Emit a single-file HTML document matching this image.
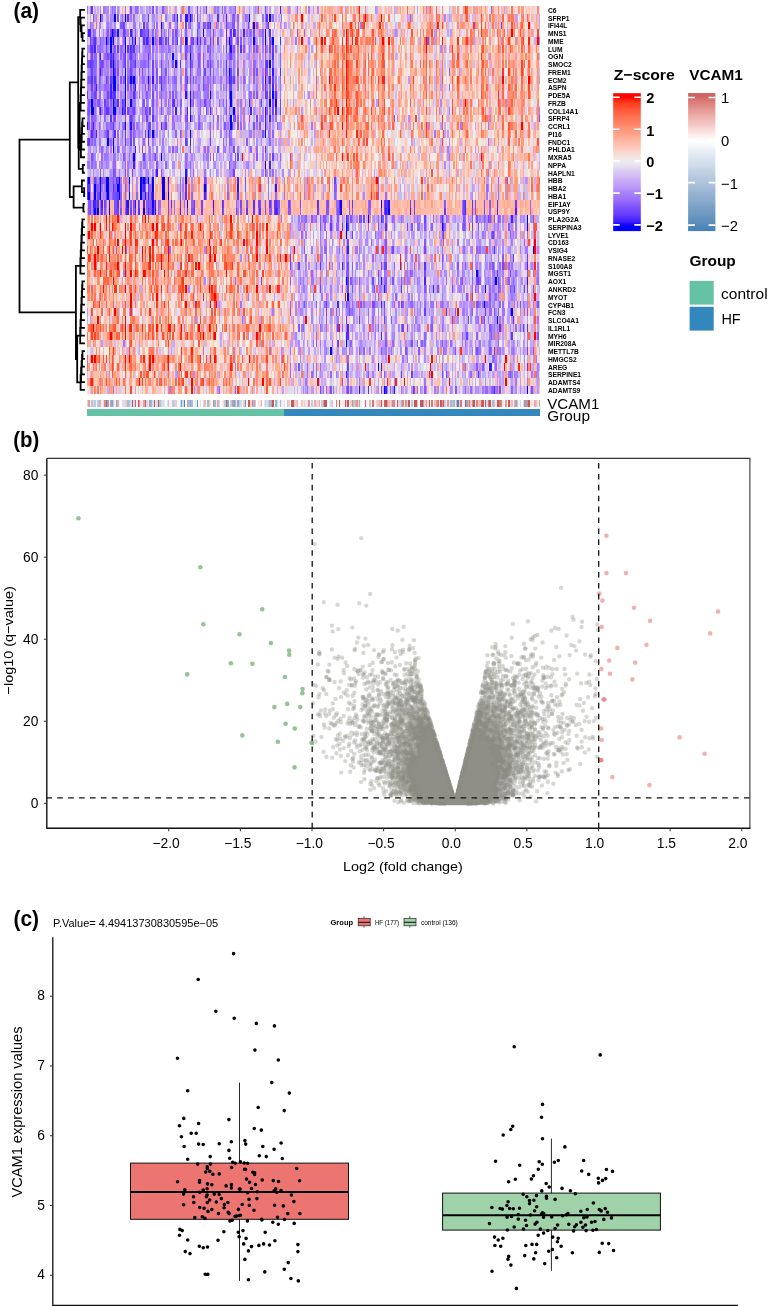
<!DOCTYPE html><html><head><meta charset="utf-8"><style>
html,body{margin:0;padding:0;background:#fff}
#p{position:relative;width:770px;height:1306px;overflow:hidden;background:#fff}
.hr{position:absolute;left:87px;width:453px;height:7.81px}
.ab{position:absolute;left:87px;width:453px}
#hm{position:absolute;left:0;top:0;width:770px;height:430px;filter:blur(0.4px)}
svg{position:absolute;left:0;top:0;will-change:transform}
text{font-family:"Liberation Sans",sans-serif;fill:#000}
</style></head><body><div id="p">
<div id="hm"><div class="hr" style="top:6px;background:linear-gradient(90deg,#97f 0 1.4px,#dce 0 2.9px,#a7f 0 4.3px,#63f 0 5.8px,#dde 0 7.2px,#cae 0 8.7px,#dce 0 10.1px,#cae 0 11.6px,#dde 0 13px,#a8f 0 14.5px,#eed 0 15.9px,#a7f 0 18.8px,#b9f 0 20.3px,#a8f 0 21.7px,#eee 0 23.2px,#b9f 0 24.6px,#96f 0 26.1px,#a8f 0 27.5px,#97f 0 28.9px,#eee 0 30.4px,#a8f 0 31.8px,#cae 0 33.3px,#edd 0 34.7px,#fb9 0 36.2px,#fcb 0 37.6px,#97f 0 39.1px,#eee 0 40.5px,#fdc 0 42px,#cae 0 43.4px,#75f 0 44.9px,#cae 0 47.8px,#96f 0 50.7px,#a8f 0 52.1px,#dde 0 53.5px,#b9f 0 56.4px,#cbe 0 57.9px,#dde 0 59.3px,#b9f 0 60.8px,#cae 0 62.2px,#a8f 0 63.7px,#dbe 0 65.1px,#75f 0 66.6px,#fdc 0 68px,#cbe 0 69.5px,#97f 0 70.9px,#dce 0 72.4px,#cbe 0 75.3px,#85f 0 76.7px,#a8f 0 78.2px,#b9f 0 79.6px,#f97 0 81px,#eee 0 82.5px,#cbe 0 83.9px,#fdc 0 85.4px,#fcb 0 86.8px,#cae 0 88.3px,#b9f 0 89.7px,#fdd 0 91.2px,#eee 0 92.6px,#dce 0 94.1px,#b9f 0 95.5px,#f75 0 97px,#fa9 0 98.4px,#cbe 0 99.9px,#dce 0 101.3px,#75f 0 102.8px,#cae 0 104.2px,#baf 0 105.7px,#dce 0 107.1px,#fdd 0 108.5px,#cbe 0 110px,#75f 0 111.4px,#dce 0 112.9px,#a8f 0 114.3px,#dce 0 115.8px,#a8f 0 117.2px,#b9f 0 118.7px,#64f 0 120.1px,#edd 0 121.6px,#dce 0 123px,#ede 0 124.5px,#fba 0 125.9px,#cae 0 127.4px,#97f 0 128.8px,#b9f 0 130.3px,#97f 0 131.7px,#cae 0 133.2px,#cbe 0 134.6px,#86f 0 136px,#dce 0 137.5px,#97f 0 138.9px,#cae 0 140.4px,#dbe 0 141.8px,#a8f 0 144.7px,#b9f 0 146.2px,#a8f 0 147.6px,#86f 0 149.1px,#edd 0 150.5px,#fcb 0 152px,#f86 0 153.4px,#fcb 0 154.9px,#fa9 0 156.3px,#b9f 0 157.8px,#fcc 0 159.2px,#dce 0 162.1px,#b9f 0 163.5px,#dce 0 165px,#eee 0 166.4px,#baf 0 167.9px,#a8f 0 169.3px,#b9f 0 170.8px,#f43 0 172.2px,#dce 0 173.7px,#cbe 0 175.1px,#dde 0 176.6px,#fba 0 178px,#75f 0 179.5px,#b9f 0 180.9px,#fdc 0 182.4px,#b9f 0 183.8px,#ede 0 185.3px,#eee 0 186.7px,#cbe 0 191px,#fcb 0 192.5px,#42f 0 193.9px,#dbe 0 195.4px,#dce 0 196.8px,#fba 0 198.3px,#fcb 0 199.7px,#f98 0 201.2px,#b8f 0 202.6px,#f98 0 204.1px,#ede 0 205.5px,#dde 0 207px,#fcc 0 208.4px,#cbe 0 209.9px,#96f 0 211.3px,#fcc 0 212.8px,#cae 0 214.2px,#eed 0 215.6px,#fcb 0 217.1px,#fdc 0 218.5px,#f97 0 220px,#eee 0 221.4px,#a7f 0 222.9px,#dce 0 225.8px,#b9f 0 227.2px,#fcc 0 230.1px,#a8f 0 231.6px,#fcb 0 233px,#fcc 0 234.5px,#fa8 0 235.9px,#fdd 0 237.4px,#fa8 0 238.8px,#fcb 0 240.2px,#fa9 0 241.7px,#f97 0 243.1px,#fa9 0 244.6px,#fa8 0 246px,#dbe 0 247.5px,#fba 0 248.9px,#fcc 0 250.4px,#fa9 0 251.8px,#dbe 0 253.3px,#f86 0 254.7px,#f97 0 256.2px,#dde 0 257.6px,#b9f 0 259.1px,#f98 0 260.5px,#fa8 0 262px,#eee 0 263.4px,#fa9 0 264.9px,#edd 0 266.3px,#fa9 0 267.7px,#edd 0 269.2px,#fa9 0 270.6px,#f86 0 272.1px,#f10 0 273.5px,#dde 0 276.4px,#fdd 0 277.9px,#f87 0 279.3px,#dce 0 280.8px,#fdc 0 282.2px,#eed 0 283.7px,#eee 0 285.1px,#eed 0 286.6px,#eee 0 288px,#b8f 0 289.5px,#b9f 0 290.9px,#fcb 0 292.4px,#fba 0 293.8px,#fcb 0 295.2px,#ede 0 296.7px,#fcb 0 298.1px,#fba 0 299.6px,#fdc 0 301px,#fba 0 302.5px,#dce 0 303.9px,#fa9 0 305.4px,#fdc 0 306.8px,#baf 0 308.3px,#cae 0 309.7px,#fa9 0 311.2px,#fba 0 312.6px,#f98 0 314.1px,#edd 0 315.5px,#fb9 0 317px,#dce 0 318.4px,#fdc 0 319.8px,#f64 0 321.3px,#fcb 0 322.7px,#fdc 0 324.2px,#fcc 0 325.6px,#fb9 0 327.1px,#fa9 0 328.5px,#eee 0 330px,#b9f 0 331.4px,#eee 0 332.9px,#fcb 0 334.3px,#fdc 0 335.8px,#f86 0 337.2px,#fba 0 338.7px,#f75 0 340.1px,#cae 0 341.6px,#f87 0 343px,#f64 0 344.5px,#fa9 0 345.9px,#edd 0 347.3px,#ede 0 348.8px,#f64 0 350.2px,#dde 0 351.7px,#fcc 0 353.1px,#eee 0 354.6px,#f87 0 356px,#edd 0 357.5px,#eee 0 361.8px,#cbe 0 363.3px,#dce 0 364.7px,#fb9 0 366.2px,#fa8 0 367.6px,#cbe 0 369.1px,#eee 0 370.5px,#f97 0 372px,#dde 0 373.4px,#eee 0 374.8px,#dde 0 376.3px,#f97 0 377.7px,#f32 0 379.2px,#f53 0 380.6px,#fcc 0 382.1px,#fba 0 385px,#fdc 0 386.4px,#f97 0 387.9px,#caf 0 389.3px,#f98 0 390.8px,#fcc 0 392.2px,#fa8 0 393.7px,#f98 0 395.1px,#fcb 0 398px,#f97 0 399.5px,#fcb 0 400.9px,#eee 0 402.3px,#edd 0 403.8px,#86f 0 405.2px,#f98 0 406.7px,#fcb 0 411px,#f86 0 412.5px,#fdd 0 413.9px,#cbe 0 415.4px,#fba 0 416.8px,#f98 0 418.3px,#cbe 0 419.7px,#fba 0 421.2px,#fcb 0 422.6px,#eee 0 424.1px,#f75 0 425.5px,#fcb 0 426.9px,#dce 0 428.4px,#fdc 0 429.8px,#fcc 0 431.3px,#f97 0 432.7px,#edd 0 434.2px,#f97 0 435.6px,#f98 0 437.1px,#eee 0 438.5px,#fcb 0 440px,#fdd 0 441.4px,#fcb 0 442.9px,#fdc 0 444.3px,#fcb 0 445.8px,#fcc 0 447.2px,#dde 0 448.7px,#edd 0 450.1px,#f86 0 451.6px,#ede 0 453px)"></div>
<div class="hr" style="top:13.76px;background:linear-gradient(90deg,#dbe 0 1.4px,#ede 0 2.9px,#cae 0 4.3px,#eee 0 5.8px,#75f 0 7.2px,#b9f 0 8.7px,#a8f 0 10.1px,#fba 0 11.6px,#ede 0 13px,#00f 0 14.5px,#96f 0 15.9px,#dce 0 18.8px,#b9f 0 20.3px,#b8f 0 21.7px,#dce 0 23.2px,#a8f 0 27.5px,#00f 0 28.9px,#dce 0 30.4px,#75f 0 31.8px,#eed 0 33.3px,#b9f 0 34.7px,#96f 0 36.2px,#caf 0 37.6px,#00f 0 39.1px,#baf 0 40.5px,#63f 0 42px,#b9f 0 43.4px,#a7f 0 44.9px,#dbe 0 46.3px,#96f 0 47.8px,#cbe 0 50.7px,#dce 0 52.1px,#cbe 0 53.5px,#eed 0 55px,#97f 0 56.4px,#a8f 0 57.9px,#b9f 0 59.3px,#baf 0 60.8px,#63f 0 62.2px,#dde 0 63.7px,#cbe 0 65.1px,#a8f 0 68px,#cbe 0 69.5px,#b9f 0 70.9px,#dce 0 72.4px,#fba 0 73.8px,#a8f 0 75.3px,#fdc 0 76.7px,#eee 0 78.2px,#97f 0 79.6px,#baf 0 81px,#cbe 0 83.9px,#dde 0 85.4px,#a7f 0 86.8px,#64f 0 88.3px,#a8f 0 89.7px,#32f 0 91.2px,#eee 0 92.6px,#86f 0 94.1px,#97f 0 95.5px,#fcc 0 97px,#dde 0 98.4px,#31f 0 101.3px,#a7f 0 102.8px,#00f 0 104.2px,#85f 0 105.7px,#edd 0 107.1px,#b9f 0 108.5px,#eee 0 110px,#74f 0 111.4px,#cae 0 112.9px,#a8f 0 114.3px,#dde 0 115.8px,#cbe 0 117.2px,#fdc 0 118.7px,#dbe 0 120.1px,#cae 0 121.6px,#96f 0 123px,#baf 0 124.5px,#b9f 0 125.9px,#dce 0 128.8px,#fba 0 130.3px,#53f 0 131.7px,#cae 0 133.2px,#dce 0 134.6px,#cbe 0 136px,#a7f 0 137.5px,#cae 0 138.9px,#52f 0 140.4px,#dbe 0 141.8px,#fdd 0 143.3px,#cae 0 144.7px,#86f 0 146.2px,#85f 0 147.6px,#b9f 0 149.1px,#fa9 0 150.5px,#86f 0 152px,#dce 0 153.4px,#eee 0 154.9px,#f98 0 156.3px,#b9f 0 157.8px,#96f 0 159.2px,#97f 0 160.6px,#b9f 0 162.1px,#00f 0 163.5px,#dde 0 165px,#eee 0 166.4px,#cae 0 167.9px,#fba 0 169.3px,#dde 0 170.8px,#eee 0 173.7px,#edd 0 175.1px,#97f 0 176.6px,#dce 0 178px,#96f 0 179.5px,#53f 0 180.9px,#fcb 0 182.4px,#00f 0 183.8px,#b9f 0 185.3px,#96f 0 186.7px,#dce 0 188.1px,#baf 0 189.6px,#ede 0 191px,#cae 0 192.5px,#dce 0 193.9px,#96f 0 195.4px,#eee 0 196.8px,#ede 0 198.3px,#fdc 0 199.7px,#fcc 0 201.2px,#cbe 0 202.6px,#fcc 0 204.1px,#fba 0 205.5px,#fcb 0 207px,#dce 0 208.4px,#f86 0 211.3px,#ede 0 212.8px,#fcb 0 214.2px,#f00 0 215.6px,#fa9 0 217.1px,#fdd 0 218.5px,#eed 0 220px,#dde 0 221.4px,#cbe 0 222.9px,#ede 0 224.3px,#fba 0 225.8px,#dce 0 227.2px,#dde 0 228.7px,#fdc 0 230.1px,#edd 0 231.6px,#cbe 0 233px,#fcb 0 234.5px,#f64 0 235.9px,#fcb 0 237.4px,#f98 0 238.8px,#fa9 0 240.2px,#edd 0 241.7px,#f98 0 243.1px,#fba 0 244.6px,#f86 0 246px,#eee 0 247.5px,#f43 0 248.9px,#fb9 0 250.4px,#fcb 0 251.8px,#fdd 0 253.3px,#eee 0 254.7px,#f75 0 256.2px,#fdc 0 257.6px,#f98 0 259.1px,#f97 0 260.5px,#eee 0 262px,#fdd 0 263.4px,#ede 0 264.9px,#fba 0 266.3px,#f76 0 267.7px,#f87 0 269.2px,#fcc 0 270.6px,#fcb 0 272.1px,#f42 0 273.5px,#fba 0 275px,#edd 0 276.4px,#f64 0 277.9px,#f00 0 279.3px,#f76 0 280.8px,#fa8 0 282.2px,#fcc 0 283.7px,#f86 0 285.1px,#fba 0 286.6px,#dde 0 288px,#fcb 0 289.5px,#dbe 0 290.9px,#fa9 0 293.8px,#f00 0 295.2px,#fb9 0 296.7px,#f98 0 298.1px,#eee 0 299.6px,#fdd 0 301px,#f75 0 302.5px,#ede 0 303.9px,#eee 0 305.4px,#ede 0 306.8px,#cbe 0 308.3px,#eed 0 309.7px,#eee 0 312.6px,#fdc 0 314.1px,#fba 0 315.5px,#fbb 0 317px,#dce 0 318.4px,#fcc 0 319.8px,#b9f 0 321.3px,#baf 0 322.7px,#f53 0 324.2px,#b9f 0 325.6px,#fcb 0 327.1px,#fdc 0 328.5px,#eed 0 330px,#dce 0 331.4px,#edd 0 332.9px,#fba 0 334.3px,#fdd 0 335.8px,#dbe 0 337.2px,#fba 0 338.7px,#fa9 0 340.1px,#dce 0 341.6px,#f98 0 343px,#fa8 0 344.5px,#f97 0 345.9px,#dce 0 347.3px,#fdd 0 348.8px,#f65 0 350.2px,#f86 0 351.7px,#f75 0 353.1px,#dce 0 354.6px,#fa9 0 356px,#f97 0 357.5px,#a8f 0 358.9px,#fcb 0 360.4px,#cbe 0 361.8px,#b9f 0 363.3px,#cae 0 364.7px,#fcb 0 366.2px,#fba 0 369.1px,#fa9 0 370.5px,#fa8 0 372px,#fcb 0 373.4px,#cae 0 374.8px,#fa9 0 376.3px,#fcb 0 377.7px,#f86 0 379.2px,#f53 0 380.6px,#fba 0 382.1px,#caf 0 383.5px,#fdd 0 385px,#cbe 0 387.9px,#fa8 0 389.3px,#fba 0 390.8px,#dce 0 392.2px,#fcb 0 393.7px,#f42 0 395.1px,#fa9 0 396.6px,#eee 0 398px,#fba 0 399.5px,#fa9 0 400.9px,#eee 0 402.3px,#f76 0 403.8px,#fcb 0 405.2px,#f86 0 406.7px,#f98 0 408.1px,#fa9 0 409.6px,#dbe 0 411px,#fa8 0 412.5px,#fa9 0 413.9px,#dce 0 415.4px,#f64 0 416.8px,#edd 0 418.3px,#ede 0 419.7px,#fa9 0 421.2px,#f75 0 422.6px,#f97 0 424.1px,#f75 0 426.9px,#fa9 0 428.4px,#b9f 0 429.8px,#cae 0 431.3px,#fdd 0 432.7px,#eee 0 434.2px,#f86 0 435.6px,#f75 0 437.1px,#fdc 0 438.5px,#dce 0 440px,#f65 0 441.4px,#fa9 0 442.9px,#eee 0 444.3px,#fb9 0 445.8px,#fba 0 447.2px,#dce 0 448.7px,#f98 0 450.1px,#fba 0 451.6px,#b9f 0 453px)"></div>
<div class="hr" style="top:21.51px;background:linear-gradient(90deg,#b9f 0 1.4px,#dce 0 2.9px,#96f 0 4.3px,#a8f 0 7.2px,#fcb 0 8.7px,#97f 0 10.1px,#fcb 0 11.6px,#a8f 0 13px,#a7f 0 14.5px,#dce 0 15.9px,#dde 0 17.4px,#eee 0 18.8px,#a8f 0 20.3px,#97f 0 21.7px,#b9f 0 23.2px,#a8f 0 24.6px,#cae 0 27.5px,#a8f 0 28.9px,#eee 0 31.8px,#dce 0 33.3px,#75f 0 34.7px,#85f 0 36.2px,#64f 0 37.6px,#baf 0 39.1px,#cae 0 40.5px,#ede 0 42px,#dbe 0 43.4px,#dce 0 46.3px,#97f 0 49.2px,#dce 0 50.7px,#ede 0 52.1px,#a8f 0 53.5px,#cbe 0 55px,#eee 0 56.4px,#63f 0 57.9px,#cbe 0 59.3px,#96f 0 60.8px,#a8f 0 62.2px,#dde 0 63.7px,#dce 0 65.1px,#b9f 0 66.6px,#86f 0 68px,#eee 0 69.5px,#96f 0 70.9px,#fdc 0 72.4px,#dce 0 73.8px,#00f 0 75.3px,#a7f 0 76.7px,#dce 0 78.2px,#edd 0 79.6px,#dce 0 81px,#cae 0 82.5px,#96f 0 83.9px,#fba 0 85.4px,#edd 0 86.8px,#cae 0 88.3px,#a8f 0 89.7px,#75f 0 91.2px,#fdc 0 92.6px,#fb9 0 94.1px,#dce 0 95.5px,#f87 0 97px,#eee 0 98.4px,#64f 0 99.9px,#dde 0 101.3px,#97f 0 102.8px,#85f 0 104.2px,#cae 0 105.7px,#dde 0 107.1px,#eee 0 108.5px,#dde 0 110px,#97f 0 111.4px,#85f 0 112.9px,#caf 0 114.3px,#cbe 0 115.8px,#75f 0 117.2px,#85f 0 118.7px,#b9f 0 120.1px,#64f 0 121.6px,#85f 0 123px,#42f 0 124.5px,#cbe 0 127.4px,#f98 0 128.8px,#96f 0 130.3px,#a8f 0 131.7px,#edd 0 133.2px,#b9f 0 134.6px,#dbe 0 136px,#fcb 0 137.5px,#cae 0 138.9px,#64f 0 140.4px,#97f 0 141.8px,#a8f 0 144.7px,#85f 0 147.6px,#dde 0 149.1px,#fcb 0 150.5px,#97f 0 152px,#fcb 0 153.4px,#dde 0 154.9px,#cae 0 156.3px,#b9f 0 157.8px,#dce 0 159.2px,#cae 0 160.6px,#74f 0 162.1px,#a8f 0 163.5px,#ede 0 165px,#f86 0 166.4px,#00f 0 167.9px,#f97 0 169.3px,#85f 0 170.8px,#f87 0 172.2px,#fdc 0 173.7px,#eed 0 175.1px,#cae 0 176.6px,#dbe 0 178px,#b9f 0 179.5px,#96f 0 180.9px,#53f 0 182.4px,#fcb 0 183.8px,#fdd 0 185.3px,#eee 0 186.7px,#b9f 0 188.1px,#eed 0 189.6px,#fb9 0 191px,#fcb 0 192.5px,#a8f 0 193.9px,#b9f 0 195.4px,#ede 0 196.8px,#a8f 0 198.3px,#b9f 0 199.7px,#fdc 0 201.2px,#cae 0 202.6px,#fba 0 204.1px,#eee 0 205.5px,#f75 0 207px,#fa9 0 208.4px,#eee 0 209.9px,#fba 0 211.3px,#fdc 0 212.8px,#eee 0 214.2px,#f87 0 215.6px,#dbe 0 217.1px,#ede 0 218.5px,#cbe 0 220px,#edd 0 221.4px,#fba 0 222.9px,#dde 0 224.3px,#fcc 0 225.8px,#cae 0 228.7px,#fdd 0 230.1px,#f98 0 231.6px,#f75 0 233px,#fa9 0 234.5px,#fcb 0 235.9px,#fba 0 237.4px,#fcb 0 238.8px,#f98 0 240.2px,#fdc 0 241.7px,#f87 0 243.1px,#f97 0 244.6px,#fcb 0 246px,#fdc 0 247.5px,#eee 0 248.9px,#fcb 0 250.4px,#eee 0 251.8px,#fcb 0 253.3px,#ede 0 254.7px,#f75 0 256.2px,#fa8 0 257.6px,#cbe 0 259.1px,#f98 0 260.5px,#fb9 0 262px,#f97 0 263.4px,#f31 0 264.9px,#f87 0 266.3px,#fcb 0 267.7px,#f64 0 269.2px,#edd 0 270.6px,#f53 0 272.1px,#fcb 0 273.5px,#97f 0 275px,#f53 0 276.4px,#f42 0 277.9px,#fdc 0 279.3px,#fba 0 282.2px,#fdd 0 283.7px,#eee 0 285.1px,#fcb 0 286.6px,#fba 0 288px,#fcb 0 289.5px,#fa9 0 290.9px,#fa8 0 292.4px,#f21 0 293.8px,#fcb 0 295.2px,#f86 0 296.7px,#ede 0 298.1px,#cae 0 299.6px,#fb9 0 301px,#fdc 0 302.5px,#fcb 0 305.4px,#edd 0 306.8px,#dde 0 308.3px,#cbe 0 309.7px,#dce 0 311.2px,#f98 0 312.6px,#fa9 0 314.1px,#edd 0 315.5px,#dce 0 317px,#edd 0 318.4px,#fcb 0 319.8px,#fa9 0 321.3px,#f64 0 322.7px,#f87 0 324.2px,#fcb 0 325.6px,#fba 0 327.1px,#dce 0 328.5px,#dde 0 330px,#dce 0 331.4px,#eee 0 332.9px,#fcc 0 334.3px,#fba 0 335.8px,#fcb 0 340.1px,#f98 0 341.6px,#f97 0 343px,#f64 0 344.5px,#f98 0 345.9px,#fa8 0 347.3px,#cbe 0 348.8px,#f86 0 350.2px,#f21 0 351.7px,#dde 0 353.1px,#fcb 0 354.6px,#f42 0 356px,#fa9 0 357.5px,#fdd 0 358.9px,#f97 0 360.4px,#cbe 0 361.8px,#dce 0 363.3px,#dde 0 364.7px,#fba 0 366.2px,#edd 0 367.6px,#eee 0 369.1px,#fdc 0 370.5px,#f87 0 372px,#dce 0 373.4px,#f97 0 374.8px,#f86 0 376.3px,#f98 0 377.7px,#fba 0 380.6px,#fa8 0 382.1px,#fcb 0 383.5px,#dce 0 385px,#fb9 0 386.4px,#f32 0 387.9px,#a8f 0 389.3px,#f97 0 390.8px,#fb9 0 392.2px,#eee 0 393.7px,#f42 0 395.1px,#fdc 0 396.6px,#fcb 0 398px,#f64 0 399.5px,#fcb 0 400.9px,#cae 0 402.3px,#fba 0 403.8px,#cbe 0 405.2px,#f75 0 406.7px,#dce 0 408.1px,#f98 0 409.6px,#dce 0 411px,#f86 0 412.5px,#fba 0 413.9px,#64f 0 415.4px,#f97 0 416.8px,#dce 0 418.3px,#edd 0 419.7px,#fa9 0 421.2px,#fcc 0 422.6px,#edd 0 424.1px,#f53 0 425.5px,#fa9 0 426.9px,#f75 0 428.4px,#fa9 0 429.8px,#b9f 0 431.3px,#fcb 0 432.7px,#f86 0 434.2px,#f64 0 435.6px,#fb9 0 437.1px,#fcb 0 438.5px,#fdc 0 440px,#eee 0 441.4px,#f00 0 442.9px,#fba 0 444.3px,#ede 0 445.8px,#eed 0 447.2px,#fba 0 448.7px,#fa8 0 450.1px,#fb9 0 451.6px,#caf 0 453px)"></div>
<div class="hr" style="top:29.27px;background:linear-gradient(90deg,#a8f 0 1.4px,#42f 0 4.3px,#b9f 0 5.8px,#85f 0 7.2px,#97f 0 8.7px,#dce 0 10.1px,#ede 0 11.6px,#97f 0 13px,#eee 0 14.5px,#dbe 0 15.9px,#a8f 0 17.4px,#cbe 0 18.8px,#a7f 0 20.3px,#85f 0 21.7px,#cae 0 23.2px,#74f 0 24.6px,#00f 0 26.1px,#53f 0 27.5px,#74f 0 28.9px,#a8f 0 30.4px,#21f 0 31.8px,#baf 0 33.3px,#b9f 0 36.2px,#64f 0 37.6px,#75f 0 39.1px,#b8f 0 40.5px,#a7f 0 42px,#ede 0 43.4px,#42f 0 44.9px,#86f 0 46.3px,#cae 0 47.8px,#85f 0 49.2px,#cae 0 50.7px,#ede 0 52.1px,#dce 0 53.5px,#53f 0 55px,#74f 0 56.4px,#75f 0 57.9px,#85f 0 59.3px,#86f 0 60.8px,#53f 0 62.2px,#cae 0 63.7px,#b9f 0 65.1px,#86f 0 66.6px,#dce 0 68px,#96f 0 69.5px,#a8f 0 70.9px,#fa8 0 72.4px,#dce 0 73.8px,#64f 0 75.3px,#b9f 0 76.7px,#97f 0 78.2px,#b9f 0 79.6px,#eee 0 81px,#86f 0 82.5px,#caf 0 83.9px,#fcb 0 85.4px,#86f 0 86.8px,#cae 0 88.3px,#74f 0 89.7px,#97f 0 91.2px,#cae 0 92.6px,#fdd 0 94.1px,#a7f 0 95.5px,#fdd 0 97px,#cae 0 98.4px,#86f 0 99.9px,#baf 0 101.3px,#dbe 0 102.8px,#dce 0 104.2px,#b9f 0 105.7px,#eee 0 107.1px,#ede 0 108.5px,#dde 0 110px,#64f 0 111.4px,#a8f 0 112.9px,#b9f 0 114.3px,#dce 0 115.8px,#00f 0 117.2px,#dce 0 118.7px,#b9f 0 120.1px,#a8f 0 123px,#96f 0 124.5px,#cbe 0 125.9px,#74f 0 127.4px,#b9f 0 128.8px,#dce 0 130.3px,#cae 0 133.2px,#97f 0 134.6px,#b9f 0 136px,#baf 0 137.5px,#fdd 0 138.9px,#53f 0 140.4px,#fcc 0 141.8px,#b9f 0 143.3px,#63f 0 144.7px,#dce 0 146.2px,#52f 0 147.6px,#74f 0 149.1px,#cbe 0 150.5px,#97f 0 152px,#ede 0 153.4px,#b9f 0 154.9px,#fba 0 156.3px,#42f 0 157.8px,#cbe 0 159.2px,#97f 0 160.6px,#b9f 0 162.1px,#96f 0 165px,#cbe 0 166.4px,#74f 0 167.9px,#cbe 0 169.3px,#cae 0 170.8px,#f97 0 172.2px,#a7f 0 173.7px,#a8f 0 175.1px,#86f 0 176.6px,#fba 0 178px,#00f 0 179.5px,#dce 0 180.9px,#baf 0 182.4px,#53f 0 183.8px,#eee 0 185.3px,#cae 0 186.7px,#ede 0 188.1px,#dce 0 189.6px,#dde 0 191px,#edd 0 192.5px,#cbe 0 193.9px,#ede 0 195.4px,#fa9 0 196.8px,#fcb 0 198.3px,#fdc 0 199.7px,#dce 0 201.2px,#dde 0 202.6px,#f86 0 204.1px,#cae 0 205.5px,#fb9 0 207px,#fdc 0 209.9px,#85f 0 211.3px,#fa9 0 212.8px,#fba 0 214.2px,#fdc 0 215.6px,#fcb 0 217.1px,#96f 0 218.5px,#fba 0 220px,#dde 0 221.4px,#eed 0 222.9px,#b9f 0 224.3px,#fba 0 225.8px,#dce 0 227.2px,#fba 0 230.1px,#dde 0 231.6px,#f75 0 233px,#edd 0 234.5px,#fba 0 235.9px,#eee 0 237.4px,#edd 0 238.8px,#f86 0 241.7px,#fa9 0 243.1px,#ede 0 244.6px,#f64 0 246px,#f86 0 247.5px,#f64 0 248.9px,#f75 0 250.4px,#fcb 0 253.3px,#dce 0 254.7px,#fb9 0 256.2px,#f75 0 257.6px,#ede 0 259.1px,#f00 0 260.5px,#f64 0 262px,#fcc 0 263.4px,#f64 0 264.9px,#f43 0 266.3px,#f97 0 267.7px,#edd 0 269.2px,#f65 0 270.6px,#f42 0 272.1px,#fba 0 273.5px,#eee 0 275px,#fa9 0 276.4px,#f87 0 277.9px,#fcb 0 282.2px,#fcc 0 283.7px,#f97 0 285.1px,#f53 0 286.6px,#fa8 0 288px,#cbe 0 289.5px,#fcc 0 290.9px,#f75 0 292.4px,#f97 0 293.8px,#f64 0 295.2px,#f97 0 296.7px,#fba 0 298.1px,#fb9 0 299.6px,#cae 0 301px,#dce 0 302.5px,#fa9 0 303.9px,#edd 0 305.4px,#fa9 0 306.8px,#b9f 0 308.3px,#a8f 0 309.7px,#b9f 0 311.2px,#fcb 0 312.6px,#fb9 0 314.1px,#baf 0 315.5px,#fb9 0 317px,#cae 0 318.4px,#ede 0 319.8px,#fba 0 321.3px,#ede 0 324.2px,#f54 0 325.6px,#fdc 0 327.1px,#fcc 0 328.5px,#fcb 0 330px,#f97 0 331.4px,#eee 0 332.9px,#f86 0 334.3px,#ede 0 335.8px,#f75 0 337.2px,#fdc 0 338.7px,#f86 0 340.1px,#f87 0 343px,#fba 0 344.5px,#f42 0 345.9px,#fdc 0 347.3px,#b9f 0 348.8px,#f76 0 350.2px,#ede 0 351.7px,#f86 0 353.1px,#fcb 0 354.6px,#fb9 0 356px,#fdd 0 357.5px,#dde 0 358.9px,#fcc 0 360.4px,#baf 0 361.8px,#dce 0 363.3px,#b9f 0 364.7px,#fa8 0 366.2px,#fcb 0 367.6px,#eee 0 369.1px,#fcb 0 370.5px,#fcc 0 372px,#f98 0 373.4px,#dce 0 374.8px,#fdd 0 376.3px,#dde 0 377.7px,#fdd 0 379.2px,#f97 0 380.6px,#edd 0 382.1px,#fdd 0 383.5px,#f75 0 385px,#f98 0 386.4px,#f87 0 387.9px,#eee 0 389.3px,#ede 0 390.8px,#f86 0 392.2px,#fdc 0 393.7px,#f32 0 395.1px,#f86 0 396.6px,#f97 0 398px,#f75 0 399.5px,#f87 0 400.9px,#ede 0 402.3px,#fa8 0 403.8px,#eee 0 405.2px,#fa9 0 408.1px,#fdd 0 409.6px,#f64 0 411px,#f98 0 412.5px,#f86 0 413.9px,#dde 0 415.4px,#f97 0 416.8px,#f64 0 418.3px,#fdc 0 419.7px,#b9f 0 421.2px,#fa9 0 424.1px,#f00 0 425.5px,#f98 0 426.9px,#f86 0 428.4px,#eed 0 429.8px,#ede 0 431.3px,#fa8 0 432.7px,#f53 0 434.2px,#fa9 0 435.6px,#f86 0 437.1px,#fa9 0 438.5px,#dde 0 440px,#fcc 0 441.4px,#f97 0 442.9px,#cbe 0 444.3px,#f98 0 445.8px,#fa9 0 447.2px,#ede 0 448.7px,#dde 0 450.1px,#f43 0 451.6px,#dde 0 453px)"></div>
<div class="hr" style="top:37.02px;background:linear-gradient(90deg,#baf 0 1.4px,#dce 0 2.9px,#64f 0 4.3px,#96f 0 5.8px,#74f 0 7.2px,#53f 0 8.7px,#96f 0 10.1px,#cae 0 11.6px,#b9f 0 13px,#85f 0 14.5px,#a7f 0 15.9px,#97f 0 17.4px,#a8f 0 18.8px,#00f 0 20.3px,#75f 0 21.7px,#b8f 0 23.2px,#00f 0 24.6px,#75f 0 26.1px,#00f 0 27.5px,#caf 0 28.9px,#dde 0 30.4px,#a8f 0 31.8px,#cae 0 33.3px,#fdd 0 34.7px,#b8f 0 36.2px,#96f 0 37.6px,#00f 0 39.1px,#eee 0 40.5px,#dce 0 42px,#a7f 0 43.4px,#baf 0 44.9px,#42f 0 46.3px,#97f 0 47.8px,#00f 0 49.2px,#fcb 0 50.7px,#cbe 0 52.1px,#97f 0 53.5px,#dde 0 55px,#caf 0 56.4px,#53f 0 57.9px,#96f 0 59.3px,#42f 0 60.8px,#74f 0 62.2px,#a7f 0 63.7px,#cae 0 65.1px,#00f 0 66.6px,#b9f 0 68px,#85f 0 69.5px,#a7f 0 70.9px,#fa9 0 72.4px,#53f 0 73.8px,#63f 0 75.3px,#96f 0 76.7px,#cbe 0 78.2px,#64f 0 79.6px,#b9f 0 81px,#64f 0 82.5px,#dce 0 85.4px,#85f 0 86.8px,#baf 0 88.3px,#86f 0 89.7px,#53f 0 91.2px,#eee 0 92.6px,#a7f 0 94.1px,#97f 0 95.5px,#f86 0 97px,#fdc 0 98.4px,#00f 0 99.9px,#53f 0 101.3px,#fdd 0 102.8px,#a7f 0 104.2px,#74f 0 105.7px,#64f 0 107.1px,#baf 0 108.5px,#b8f 0 110px,#21f 0 111.4px,#a7f 0 112.9px,#53f 0 114.3px,#b9f 0 115.8px,#cae 0 117.2px,#85f 0 118.7px,#b9f 0 120.1px,#cae 0 121.6px,#cbe 0 123px,#64f 0 124.5px,#b9f 0 125.9px,#74f 0 127.4px,#fba 0 128.8px,#dde 0 130.3px,#75f 0 131.7px,#cbe 0 133.2px,#cae 0 134.6px,#ede 0 136px,#edd 0 137.5px,#fdd 0 138.9px,#53f 0 140.4px,#b9f 0 141.8px,#00f 0 143.3px,#64f 0 144.7px,#b8f 0 146.2px,#fdc 0 147.6px,#baf 0 149.1px,#a8f 0 150.5px,#74f 0 152px,#edd 0 153.4px,#85f 0 154.9px,#edd 0 156.3px,#a7f 0 157.8px,#baf 0 159.2px,#cbe 0 160.6px,#a8f 0 162.1px,#b9f 0 163.5px,#a7f 0 165px,#edd 0 166.4px,#00f 0 167.9px,#a7f 0 169.3px,#b9f 0 170.8px,#eee 0 172.2px,#baf 0 173.7px,#dce 0 175.1px,#96f 0 176.6px,#fcb 0 178px,#00f 0 179.5px,#cbe 0 180.9px,#eee 0 182.4px,#74f 0 183.8px,#96f 0 185.3px,#00f 0 186.7px,#fdd 0 188.1px,#dde 0 191px,#eee 0 192.5px,#53f 0 193.9px,#dde 0 195.4px,#eee 0 196.8px,#fba 0 198.3px,#cae 0 199.7px,#fa8 0 201.2px,#fb9 0 202.6px,#fdc 0 204.1px,#cae 0 205.5px,#fba 0 207px,#dce 0 208.4px,#97f 0 209.9px,#fdc 0 211.3px,#f87 0 212.8px,#eed 0 214.2px,#f00 0 215.6px,#fbb 0 217.1px,#dce 0 218.5px,#fcc 0 220px,#dbe 0 221.4px,#a8f 0 222.9px,#fcb 0 224.3px,#eee 0 225.8px,#dbe 0 227.2px,#f97 0 228.7px,#f42 0 230.1px,#fb9 0 231.6px,#fcc 0 233px,#f97 0 234.5px,#f00 0 235.9px,#fdc 0 237.4px,#f21 0 238.8px,#fdd 0 240.2px,#eee 0 241.7px,#fba 0 243.1px,#f98 0 244.6px,#f64 0 246px,#f53 0 247.5px,#f97 0 248.9px,#f98 0 251.8px,#fdc 0 253.3px,#eee 0 254.7px,#f32 0 256.2px,#eee 0 257.6px,#fcb 0 259.1px,#f00 0 260.5px,#f65 0 262px,#fcc 0 263.4px,#fba 0 264.9px,#f21 0 266.3px,#fdd 0 267.7px,#f31 0 269.2px,#f32 0 270.6px,#f97 0 272.1px,#fcb 0 273.5px,#f86 0 276.4px,#fa9 0 277.9px,#f87 0 279.3px,#f75 0 280.8px,#f86 0 282.2px,#f75 0 283.7px,#fa8 0 285.1px,#f64 0 286.6px,#dde 0 288px,#f53 0 289.5px,#dce 0 290.9px,#ede 0 292.4px,#f98 0 293.8px,#f97 0 295.2px,#f00 0 296.7px,#f86 0 298.1px,#edd 0 299.6px,#fdc 0 301px,#f10 0 302.5px,#fdd 0 303.9px,#f75 0 306.8px,#dde 0 308.3px,#dce 0 309.7px,#ede 0 311.2px,#fdc 0 312.6px,#f75 0 314.1px,#eee 0 315.5px,#f97 0 317px,#fba 0 319.8px,#dde 0 322.7px,#f86 0 324.2px,#f87 0 325.6px,#f97 0 327.1px,#fa9 0 328.5px,#eed 0 330px,#fcb 0 331.4px,#cae 0 332.9px,#f86 0 334.3px,#fcb 0 335.8px,#fba 0 337.2px,#f64 0 338.7px,#f00 0 340.1px,#75f 0 341.6px,#f86 0 343px,#ede 0 344.5px,#f75 0 347.3px,#b9f 0 348.8px,#f87 0 350.2px,#fba 0 351.7px,#f98 0 353.1px,#eee 0 354.6px,#f10 0 356px,#edd 0 357.5px,#fba 0 358.9px,#ede 0 360.4px,#eee 0 361.8px,#dde 0 363.3px,#fa8 0 366.2px,#fcc 0 367.6px,#ede 0 369.1px,#fdc 0 370.5px,#f31 0 372px,#eed 0 373.4px,#eee 0 374.8px,#f97 0 377.7px,#f75 0 379.2px,#f32 0 380.6px,#f87 0 382.1px,#fa9 0 383.5px,#f75 0 386.4px,#b9f 0 387.9px,#fa8 0 389.3px,#fbb 0 390.8px,#fba 0 392.2px,#cbe 0 393.7px,#fcb 0 395.1px,#f86 0 396.6px,#edd 0 398px,#f75 0 399.5px,#eed 0 400.9px,#fdc 0 402.3px,#f97 0 403.8px,#dce 0 405.2px,#fcb 0 406.7px,#dde 0 408.1px,#eee 0 409.6px,#fcc 0 411px,#f75 0 412.5px,#fa9 0 413.9px,#a8f 0 415.4px,#f75 0 416.8px,#eee 0 418.3px,#fba 0 419.7px,#f98 0 421.2px,#f42 0 422.6px,#f97 0 424.1px,#fdc 0 426.9px,#dde 0 428.4px,#f86 0 429.8px,#b9f 0 431.3px,#fba 0 432.7px,#fcb 0 434.2px,#f64 0 435.6px,#f42 0 437.1px,#fcc 0 438.5px,#fdc 0 440px,#eee 0 441.4px,#f21 0 442.9px,#fcb 0 444.3px,#edd 0 445.8px,#dde 0 447.2px,#cae 0 448.7px,#f98 0 450.1px,#f00 0 451.6px,#a8f 0 453px)"></div>
<div class="hr" style="top:44.78px;background:linear-gradient(90deg,#a8f 0 2.9px,#64f 0 4.3px,#63f 0 5.8px,#75f 0 7.2px,#42f 0 8.7px,#cae 0 10.1px,#97f 0 11.6px,#96f 0 13px,#86f 0 14.5px,#97f 0 15.9px,#a8f 0 17.4px,#b9f 0 18.8px,#74f 0 20.3px,#a8f 0 21.7px,#cae 0 23.2px,#00f 0 24.6px,#b8f 0 26.1px,#86f 0 27.5px,#85f 0 28.9px,#cbe 0 30.4px,#64f 0 31.8px,#cae 0 33.3px,#96f 0 36.2px,#b8f 0 37.6px,#00f 0 39.1px,#dce 0 40.5px,#63f 0 42px,#a7f 0 43.4px,#53f 0 44.9px,#75f 0 46.3px,#53f 0 47.8px,#b9f 0 49.2px,#a8f 0 50.7px,#cae 0 52.1px,#86f 0 53.5px,#dce 0 55px,#baf 0 56.4px,#a8f 0 57.9px,#96f 0 59.3px,#97f 0 60.8px,#96f 0 63.7px,#eee 0 65.1px,#86f 0 66.6px,#cae 0 68px,#b9f 0 69.5px,#a7f 0 70.9px,#fcb 0 72.4px,#a8f 0 73.8px,#97f 0 75.3px,#a7f 0 76.7px,#a8f 0 79.6px,#b9f 0 81px,#86f 0 82.5px,#97f 0 83.9px,#cae 0 85.4px,#b9f 0 86.8px,#dce 0 88.3px,#a8f 0 89.7px,#cbe 0 92.6px,#96f 0 94.1px,#a8f 0 95.5px,#fdc 0 97px,#baf 0 98.4px,#75f 0 99.9px,#85f 0 101.3px,#a8f 0 102.8px,#63f 0 104.2px,#97f 0 105.7px,#cae 0 107.1px,#dce 0 108.5px,#baf 0 110px,#a8f 0 111.4px,#97f 0 114.3px,#dce 0 115.8px,#b9f 0 118.7px,#dce 0 120.1px,#85f 0 121.6px,#a7f 0 123px,#75f 0 124.5px,#b9f 0 125.9px,#97f 0 127.4px,#cbe 0 128.8px,#dce 0 130.3px,#b9f 0 131.7px,#b8f 0 133.2px,#cae 0 134.6px,#eee 0 136px,#a8f 0 137.5px,#dce 0 138.9px,#64f 0 140.4px,#dce 0 141.8px,#64f 0 143.3px,#21f 0 144.7px,#a7f 0 146.2px,#85f 0 147.6px,#caf 0 149.1px,#fdc 0 150.5px,#97f 0 152px,#ede 0 153.4px,#53f 0 154.9px,#fba 0 156.3px,#85f 0 157.8px,#b9f 0 159.2px,#ede 0 160.6px,#cbe 0 162.1px,#86f 0 163.5px,#b9f 0 165px,#fcc 0 166.4px,#85f 0 167.9px,#b9f 0 169.3px,#85f 0 170.8px,#f86 0 172.2px,#cae 0 173.7px,#dce 0 175.1px,#a7f 0 176.6px,#fcb 0 178px,#64f 0 179.5px,#a7f 0 180.9px,#dce 0 182.4px,#74f 0 183.8px,#cbe 0 185.3px,#63f 0 186.7px,#edd 0 188.1px,#97f 0 189.6px,#dbe 0 191px,#dde 0 192.5px,#a8f 0 193.9px,#eee 0 195.4px,#ede 0 196.8px,#f97 0 198.3px,#fcb 0 201.2px,#ede 0 202.6px,#fcb 0 204.1px,#dce 0 205.5px,#fcb 0 207px,#edd 0 208.4px,#eee 0 209.9px,#cbe 0 211.3px,#fba 0 212.8px,#fdc 0 214.2px,#fcb 0 215.6px,#fb9 0 217.1px,#fcb 0 218.5px,#f86 0 220px,#fcb 0 221.4px,#cae 0 222.9px,#eee 0 224.3px,#b9f 0 225.8px,#dce 0 227.2px,#eee 0 228.7px,#f64 0 230.1px,#fcb 0 231.6px,#fdc 0 233px,#fa9 0 234.5px,#f64 0 235.9px,#fa9 0 237.4px,#fba 0 240.2px,#dde 0 241.7px,#f32 0 243.1px,#f64 0 244.6px,#f75 0 246px,#fcb 0 247.5px,#f75 0 248.9px,#fa8 0 250.4px,#f87 0 251.8px,#fba 0 253.3px,#fa9 0 254.7px,#f53 0 256.2px,#f86 0 257.6px,#fcb 0 259.1px,#f21 0 260.5px,#f53 0 262px,#fa9 0 263.4px,#f54 0 264.9px,#fa9 0 266.3px,#f97 0 267.7px,#fa8 0 269.2px,#f97 0 270.6px,#f64 0 272.1px,#fa9 0 275px,#fcc 0 276.4px,#fa9 0 277.9px,#f98 0 279.3px,#fba 0 280.8px,#fa9 0 282.2px,#dde 0 283.7px,#f75 0 285.1px,#f87 0 286.6px,#fba 0 288px,#fcb 0 289.5px,#fdc 0 290.9px,#fa8 0 292.4px,#f98 0 293.8px,#f75 0 295.2px,#f64 0 296.7px,#f86 0 298.1px,#dde 0 299.6px,#eee 0 301px,#f86 0 302.5px,#edd 0 303.9px,#fcb 0 305.4px,#f86 0 306.8px,#fb9 0 308.3px,#dce 0 309.7px,#eee 0 311.2px,#fa8 0 312.6px,#dde 0 314.1px,#fa9 0 315.5px,#eed 0 317px,#fcb 0 318.4px,#fba 0 319.8px,#eee 0 321.3px,#ede 0 322.7px,#f97 0 324.2px,#fcb 0 325.6px,#fa8 0 327.1px,#dde 0 328.5px,#fcc 0 330px,#fcb 0 331.4px,#fa8 0 332.9px,#f97 0 334.3px,#fcb 0 335.8px,#f86 0 338.7px,#f00 0 340.1px,#fcb 0 341.6px,#f97 0 343px,#fa9 0 345.9px,#edd 0 347.3px,#dce 0 348.8px,#fa9 0 350.2px,#eee 0 351.7px,#fba 0 353.1px,#a8f 0 354.6px,#f86 0 356px,#fb9 0 357.5px,#b9f 0 358.9px,#fba 0 360.4px,#eee 0 361.8px,#b9f 0 363.3px,#f98 0 364.7px,#f32 0 366.2px,#fcc 0 367.6px,#fcb 0 370.5px,#f75 0 372px,#f97 0 373.4px,#dbe 0 374.8px,#fcb 0 377.7px,#fa8 0 379.2px,#f98 0 380.6px,#fcc 0 382.1px,#ede 0 383.5px,#f87 0 385px,#fcc 0 386.4px,#fcb 0 387.9px,#cbe 0 389.3px,#fcb 0 390.8px,#fba 0 392.2px,#eed 0 393.7px,#f75 0 395.1px,#f53 0 396.6px,#fcb 0 398px,#f97 0 399.5px,#fa8 0 400.9px,#dce 0 402.3px,#fb9 0 403.8px,#eed 0 405.2px,#fa8 0 406.7px,#fdc 0 408.1px,#fba 0 409.6px,#fa9 0 411px,#f64 0 412.5px,#f86 0 413.9px,#ede 0 415.4px,#f53 0 416.8px,#fcb 0 418.3px,#f98 0 419.7px,#ede 0 421.2px,#fa9 0 422.6px,#f64 0 424.1px,#f86 0 425.5px,#fba 0 426.9px,#fb9 0 428.4px,#fba 0 429.8px,#fdc 0 431.3px,#fa9 0 432.7px,#fdc 0 434.2px,#f64 0 435.6px,#fa8 0 437.1px,#f86 0 438.5px,#edd 0 440px,#dce 0 441.4px,#f64 0 442.9px,#fa8 0 444.3px,#fba 0 445.8px,#ede 0 447.2px,#fcc 0 448.7px,#f86 0 450.1px,#fba 0 451.6px,#eee 0 453px)"></div>
<div class="hr" style="top:52.54px;background:linear-gradient(90deg,#96f 0 1.4px,#dce 0 2.9px,#a7f 0 4.3px,#74f 0 5.8px,#a8f 0 7.2px,#86f 0 8.7px,#96f 0 10.1px,#dce 0 11.6px,#85f 0 13px,#42f 0 14.5px,#dce 0 15.9px,#a8f 0 17.4px,#96f 0 18.8px,#86f 0 20.3px,#74f 0 21.7px,#97f 0 23.2px,#53f 0 24.6px,#85f 0 26.1px,#42f 0 27.5px,#96f 0 28.9px,#a8f 0 31.8px,#dce 0 33.3px,#96f 0 34.7px,#b8f 0 36.2px,#85f 0 37.6px,#53f 0 39.1px,#ede 0 40.5px,#a8f 0 42px,#85f 0 43.4px,#64f 0 44.9px,#85f 0 46.3px,#97f 0 47.8px,#85f 0 49.2px,#b9f 0 50.7px,#eee 0 52.1px,#b9f 0 56.4px,#a7f 0 57.9px,#a8f 0 59.3px,#b8f 0 60.8px,#63f 0 62.2px,#a7f 0 63.7px,#cbe 0 65.1px,#97f 0 66.6px,#ede 0 68px,#a8f 0 69.5px,#b9f 0 70.9px,#ede 0 72.4px,#cbe 0 73.8px,#97f 0 75.3px,#b9f 0 76.7px,#eee 0 78.2px,#a8f 0 81px,#cbe 0 82.5px,#b9f 0 83.9px,#dce 0 85.4px,#00f 0 86.8px,#cbe 0 88.3px,#b9f 0 89.7px,#cae 0 91.2px,#eee 0 92.6px,#cae 0 94.1px,#a8f 0 95.5px,#fa8 0 97px,#cae 0 98.4px,#74f 0 99.9px,#b9f 0 101.3px,#cbe 0 102.8px,#00f 0 104.2px,#a8f 0 107.1px,#cbe 0 108.5px,#dbe 0 110px,#a7f 0 111.4px,#85f 0 112.9px,#96f 0 114.3px,#fcc 0 115.8px,#85f 0 117.2px,#b9f 0 118.7px,#cbe 0 120.1px,#caf 0 121.6px,#96f 0 123px,#86f 0 124.5px,#b9f 0 127.4px,#cbe 0 128.8px,#b9f 0 130.3px,#cbe 0 131.7px,#dde 0 133.2px,#b9f 0 134.6px,#cbe 0 136px,#cae 0 137.5px,#cbe 0 138.9px,#a7f 0 140.4px,#a8f 0 141.8px,#85f 0 143.3px,#64f 0 144.7px,#97f 0 146.2px,#a7f 0 147.6px,#cae 0 149.1px,#eed 0 150.5px,#a8f 0 152px,#dce 0 153.4px,#cae 0 154.9px,#fba 0 156.3px,#baf 0 157.8px,#cbe 0 159.2px,#b9f 0 160.6px,#a8f 0 162.1px,#a7f 0 163.5px,#cae 0 165px,#f97 0 166.4px,#a8f 0 167.9px,#b9f 0 170.8px,#fba 0 172.2px,#a8f 0 173.7px,#edd 0 175.1px,#b9f 0 176.6px,#fba 0 178px,#86f 0 179.5px,#cae 0 180.9px,#dbe 0 182.4px,#97f 0 183.8px,#cae 0 185.3px,#53f 0 186.7px,#edd 0 188.1px,#cbe 0 189.6px,#ede 0 191px,#cbe 0 192.5px,#96f 0 193.9px,#dce 0 195.4px,#fcb 0 196.8px,#fba 0 198.3px,#fcb 0 201.2px,#fdc 0 202.6px,#f97 0 204.1px,#fcc 0 205.5px,#eee 0 207px,#edd 0 208.4px,#fa9 0 209.9px,#dce 0 211.3px,#fa8 0 212.8px,#fba 0 214.2px,#f97 0 215.6px,#fba 0 217.1px,#dbe 0 218.5px,#fcb 0 220px,#dde 0 221.4px,#baf 0 222.9px,#fcb 0 224.3px,#fdd 0 225.8px,#eed 0 227.2px,#f97 0 228.7px,#f75 0 230.1px,#fcb 0 231.6px,#dde 0 233px,#fcb 0 234.5px,#fa8 0 235.9px,#eed 0 237.4px,#fcb 0 240.2px,#edd 0 241.7px,#f98 0 243.1px,#fba 0 246px,#fa8 0 247.5px,#f86 0 250.4px,#f75 0 251.8px,#fcb 0 253.3px,#fa9 0 254.7px,#f86 0 256.2px,#f64 0 257.6px,#fb9 0 259.1px,#f42 0 260.5px,#f86 0 262px,#f98 0 263.4px,#fb9 0 264.9px,#fba 0 266.3px,#f87 0 267.7px,#f98 0 269.2px,#f86 0 270.6px,#f75 0 272.1px,#fb9 0 273.5px,#fba 0 275px,#eee 0 276.4px,#f98 0 277.9px,#f75 0 279.3px,#fcc 0 280.8px,#f64 0 282.2px,#eee 0 283.7px,#f53 0 285.1px,#fa9 0 286.6px,#fb9 0 288px,#eed 0 289.5px,#dce 0 290.9px,#f97 0 293.8px,#fba 0 295.2px,#f42 0 296.7px,#f97 0 298.1px,#fdd 0 299.6px,#eee 0 301px,#f86 0 302.5px,#dce 0 303.9px,#f86 0 306.8px,#dde 0 308.3px,#cae 0 311.2px,#fdc 0 312.6px,#fa9 0 314.1px,#fba 0 315.5px,#eee 0 317px,#dde 0 318.4px,#f97 0 319.8px,#edd 0 321.3px,#dde 0 322.7px,#f76 0 324.2px,#fa9 0 325.6px,#fa8 0 327.1px,#eee 0 328.5px,#ede 0 331.4px,#edd 0 332.9px,#fba 0 334.3px,#fcb 0 335.8px,#f98 0 337.2px,#fa8 0 338.7px,#f64 0 340.1px,#dce 0 341.6px,#fcb 0 344.5px,#fcc 0 345.9px,#dde 0 347.3px,#cbe 0 348.8px,#fba 0 350.2px,#fdc 0 351.7px,#fba 0 353.1px,#dce 0 354.6px,#f98 0 356px,#fa9 0 357.5px,#dce 0 358.9px,#eee 0 360.4px,#dde 0 363.3px,#fdd 0 364.7px,#f64 0 366.2px,#f87 0 367.6px,#fba 0 369.1px,#eee 0 370.5px,#f43 0 372px,#fa9 0 373.4px,#dce 0 374.8px,#fba 0 376.3px,#fa8 0 377.7px,#f97 0 379.2px,#fa8 0 380.6px,#f86 0 382.1px,#eee 0 383.5px,#fba 0 386.4px,#fcb 0 389.3px,#fdc 0 390.8px,#f97 0 392.2px,#fdc 0 393.7px,#f31 0 395.1px,#fa8 0 396.6px,#fba 0 398px,#fa8 0 399.5px,#fcc 0 400.9px,#baf 0 402.3px,#f87 0 403.8px,#dce 0 405.2px,#fcb 0 408.1px,#fa8 0 411px,#f98 0 412.5px,#fa9 0 413.9px,#edd 0 415.4px,#f87 0 416.8px,#edd 0 418.3px,#fa9 0 419.7px,#fcc 0 421.2px,#f98 0 422.6px,#fdc 0 424.1px,#fba 0 428.4px,#f98 0 429.8px,#dce 0 431.3px,#fcc 0 432.7px,#fa9 0 434.2px,#f97 0 435.6px,#fa8 0 437.1px,#fcb 0 438.5px,#f86 0 440px,#fba 0 441.4px,#f97 0 442.9px,#fba 0 445.8px,#eee 0 448.7px,#fcb 0 450.1px,#f75 0 451.6px,#cbe 0 453px)"></div>
<div class="hr" style="top:60.29px;background:linear-gradient(90deg,#85f 0 1.4px,#75f 0 2.9px,#63f 0 4.3px,#64f 0 5.8px,#75f 0 7.2px,#86f 0 10.1px,#dce 0 11.6px,#86f 0 13px,#75f 0 14.5px,#74f 0 15.9px,#85f 0 17.4px,#b8f 0 18.8px,#97f 0 20.3px,#a7f 0 21.7px,#cae 0 23.2px,#42f 0 24.6px,#75f 0 26.1px,#00f 0 27.5px,#85f 0 28.9px,#b9f 0 30.4px,#86f 0 31.8px,#baf 0 33.3px,#b9f 0 34.7px,#a8f 0 36.2px,#85f 0 37.6px,#53f 0 39.1px,#dde 0 40.5px,#97f 0 42px,#cae 0 43.4px,#75f 0 44.9px,#86f 0 46.3px,#85f 0 47.8px,#53f 0 49.2px,#b9f 0 50.7px,#a8f 0 52.1px,#baf 0 53.5px,#96f 0 55px,#97f 0 56.4px,#86f 0 59.3px,#a7f 0 60.8px,#74f 0 62.2px,#b9f 0 63.7px,#edd 0 65.1px,#64f 0 66.6px,#dce 0 68px,#97f 0 69.5px,#a7f 0 70.9px,#eee 0 72.4px,#b9f 0 73.8px,#74f 0 75.3px,#a8f 0 76.7px,#caf 0 78.2px,#a8f 0 79.6px,#b9f 0 81px,#96f 0 82.5px,#cbe 0 83.9px,#b9f 0 85.4px,#75f 0 86.8px,#dbe 0 88.3px,#10f 0 89.7px,#a7f 0 91.2px,#dde 0 92.6px,#63f 0 94.1px,#dce 0 95.5px,#dde 0 97px,#eee 0 98.4px,#a7f 0 99.9px,#a8f 0 101.3px,#baf 0 102.8px,#53f 0 104.2px,#85f 0 105.7px,#baf 0 107.1px,#caf 0 110px,#b9f 0 111.4px,#85f 0 112.9px,#97f 0 114.3px,#ede 0 115.8px,#75f 0 117.2px,#caf 0 118.7px,#cae 0 120.1px,#85f 0 121.6px,#a8f 0 123px,#64f 0 124.5px,#a7f 0 125.9px,#a8f 0 127.4px,#cbe 0 128.8px,#dce 0 130.3px,#a7f 0 131.7px,#dce 0 133.2px,#a8f 0 134.6px,#ede 0 136px,#a8f 0 137.5px,#baf 0 138.9px,#53f 0 140.4px,#cbe 0 141.8px,#86f 0 143.3px,#a7f 0 144.7px,#cbe 0 146.2px,#97f 0 147.6px,#b9f 0 149.1px,#fcc 0 150.5px,#97f 0 152px,#fcb 0 153.4px,#dbe 0 154.9px,#fcc 0 156.3px,#a7f 0 157.8px,#cbe 0 159.2px,#dce 0 160.6px,#cae 0 162.1px,#b9f 0 163.5px,#b8f 0 165px,#fcc 0 166.4px,#86f 0 167.9px,#96f 0 169.3px,#b9f 0 170.8px,#fcb 0 172.2px,#b9f 0 173.7px,#b8f 0 175.1px,#b9f 0 176.6px,#fcc 0 178px,#64f 0 179.5px,#53f 0 180.9px,#cae 0 182.4px,#00f 0 183.8px,#dde 0 185.3px,#85f 0 186.7px,#dce 0 188.1px,#cbe 0 189.6px,#dde 0 191px,#cbe 0 192.5px,#86f 0 193.9px,#dde 0 195.4px,#fdc 0 196.8px,#fb9 0 198.3px,#ede 0 199.7px,#fba 0 201.2px,#eed 0 202.6px,#f86 0 204.1px,#fdc 0 205.5px,#eee 0 207px,#dce 0 208.4px,#fb9 0 209.9px,#ede 0 211.3px,#fba 0 212.8px,#fcb 0 214.2px,#fa9 0 215.6px,#dde 0 217.1px,#cae 0 218.5px,#dde 0 220px,#fdc 0 221.4px,#cbe 0 222.9px,#fdd 0 224.3px,#fcb 0 225.8px,#eee 0 227.2px,#cbe 0 228.7px,#f86 0 230.1px,#eee 0 231.6px,#dce 0 233px,#fba 0 234.5px,#f86 0 235.9px,#edd 0 237.4px,#fcb 0 238.8px,#fba 0 240.2px,#fa8 0 241.7px,#f97 0 243.1px,#fba 0 244.6px,#f86 0 246px,#f98 0 247.5px,#f64 0 248.9px,#fba 0 250.4px,#f75 0 251.8px,#fcb 0 253.3px,#fdc 0 254.7px,#f54 0 256.2px,#fa8 0 257.6px,#fba 0 259.1px,#f00 0 260.5px,#f43 0 262px,#f86 0 263.4px,#f75 0 264.9px,#f86 0 266.3px,#fcb 0 269.2px,#f43 0 270.6px,#fa9 0 272.1px,#f97 0 273.5px,#fba 0 275px,#eee 0 276.4px,#f87 0 277.9px,#f53 0 279.3px,#eee 0 280.8px,#f75 0 282.2px,#f98 0 283.7px,#f86 0 286.6px,#fa9 0 288px,#f97 0 289.5px,#dde 0 290.9px,#f86 0 292.4px,#fa8 0 293.8px,#f75 0 295.2px,#f53 0 296.7px,#f54 0 298.1px,#eee 0 301px,#fa8 0 302.5px,#eee 0 303.9px,#fba 0 305.4px,#f97 0 306.8px,#dbe 0 308.3px,#fdd 0 309.7px,#ede 0 311.2px,#fdc 0 312.6px,#f98 0 314.1px,#fcb 0 317px,#eee 0 318.4px,#fb9 0 319.8px,#fdc 0 321.3px,#dde 0 322.7px,#f98 0 324.2px,#f75 0 325.6px,#fdd 0 327.1px,#fdc 0 328.5px,#fba 0 330px,#ede 0 332.9px,#f64 0 334.3px,#fdc 0 335.8px,#f64 0 337.2px,#f97 0 338.7px,#f53 0 340.1px,#fdd 0 341.6px,#f75 0 343px,#f97 0 344.5px,#fa8 0 345.9px,#eed 0 347.3px,#dce 0 348.8px,#f64 0 350.2px,#f98 0 351.7px,#fcb 0 353.1px,#cbe 0 354.6px,#f75 0 356px,#fcb 0 357.5px,#cbe 0 358.9px,#eed 0 360.4px,#dce 0 361.8px,#caf 0 363.3px,#fa9 0 364.7px,#f75 0 367.6px,#edd 0 369.1px,#f86 0 370.5px,#f64 0 372px,#f98 0 373.4px,#dce 0 374.8px,#dde 0 376.3px,#fb9 0 377.7px,#f86 0 379.2px,#f64 0 380.6px,#fcb 0 382.1px,#fa9 0 383.5px,#fa8 0 385px,#fba 0 386.4px,#cbe 0 387.9px,#edd 0 389.3px,#fba 0 390.8px,#f98 0 392.2px,#edd 0 393.7px,#f86 0 395.1px,#f53 0 396.6px,#fb9 0 398px,#f86 0 400.9px,#dde 0 402.3px,#fa9 0 403.8px,#caf 0 405.2px,#fcc 0 406.7px,#fba 0 408.1px,#fa9 0 409.6px,#fba 0 411px,#f87 0 412.5px,#fa8 0 413.9px,#dde 0 415.4px,#f75 0 416.8px,#fdc 0 418.3px,#f86 0 419.7px,#eee 0 421.2px,#f86 0 422.6px,#fa9 0 424.1px,#f98 0 425.5px,#f86 0 426.9px,#f97 0 428.4px,#fa9 0 429.8px,#dce 0 431.3px,#fba 0 432.7px,#fcb 0 434.2px,#f42 0 435.6px,#f97 0 437.1px,#f65 0 438.5px,#fdd 0 440px,#fcb 0 441.4px,#f53 0 442.9px,#fa8 0 444.3px,#fcc 0 445.8px,#fdc 0 448.7px,#fa9 0 450.1px,#f97 0 451.6px,#ede 0 453px)"></div>
<div class="hr" style="top:68.05px;background:linear-gradient(90deg,#b9f 0 1.4px,#a8f 0 2.9px,#96f 0 4.3px,#64f 0 5.8px,#97f 0 7.2px,#86f 0 8.7px,#a7f 0 10.1px,#dbe 0 11.6px,#85f 0 13px,#42f 0 14.5px,#96f 0 15.9px,#b9f 0 17.4px,#a8f 0 20.3px,#a7f 0 21.7px,#cbe 0 23.2px,#96f 0 24.6px,#a8f 0 26.1px,#00f 0 27.5px,#63f 0 28.9px,#b9f 0 30.4px,#75f 0 31.8px,#dbe 0 33.3px,#cae 0 34.7px,#97f 0 36.2px,#cbe 0 37.6px,#00f 0 39.1px,#dce 0 40.5px,#97f 0 42px,#96f 0 43.4px,#74f 0 44.9px,#96f 0 46.3px,#a8f 0 47.8px,#97f 0 49.2px,#dbe 0 50.7px,#dce 0 52.1px,#75f 0 53.5px,#caf 0 55px,#74f 0 56.4px,#b9f 0 57.9px,#a8f 0 59.3px,#cbe 0 60.8px,#86f 0 62.2px,#baf 0 63.7px,#dce 0 65.1px,#74f 0 66.6px,#dbe 0 68px,#cae 0 69.5px,#75f 0 70.9px,#eee 0 72.4px,#edd 0 73.8px,#75f 0 75.3px,#a8f 0 78.2px,#75f 0 79.6px,#dce 0 81px,#a8f 0 82.5px,#cbe 0 83.9px,#fdc 0 85.4px,#cbe 0 86.8px,#a7f 0 88.3px,#b9f 0 89.7px,#caf 0 91.2px,#dce 0 92.6px,#a8f 0 95.5px,#f97 0 97px,#dde 0 98.4px,#85f 0 99.9px,#b9f 0 101.3px,#dce 0 102.8px,#64f 0 104.2px,#a8f 0 105.7px,#dce 0 107.1px,#dde 0 108.5px,#cae 0 110px,#96f 0 111.4px,#97f 0 112.9px,#96f 0 114.3px,#dde 0 115.8px,#a8f 0 117.2px,#74f 0 118.7px,#baf 0 121.6px,#b9f 0 123px,#64f 0 124.5px,#cbe 0 125.9px,#96f 0 127.4px,#caf 0 128.8px,#b9f 0 131.7px,#dde 0 133.2px,#cae 0 134.6px,#dce 0 136px,#97f 0 137.5px,#b9f 0 138.9px,#64f 0 140.4px,#baf 0 141.8px,#00f 0 143.3px,#64f 0 144.7px,#baf 0 146.2px,#97f 0 147.6px,#cbe 0 149.1px,#eee 0 150.5px,#74f 0 152px,#ede 0 153.4px,#dce 0 154.9px,#fa8 0 156.3px,#a8f 0 157.8px,#cbe 0 160.6px,#eee 0 162.1px,#a8f 0 163.5px,#b8f 0 165px,#fba 0 166.4px,#85f 0 167.9px,#b9f 0 169.3px,#75f 0 170.8px,#fa8 0 172.2px,#cae 0 173.7px,#caf 0 175.1px,#a7f 0 176.6px,#fa9 0 178px,#63f 0 179.5px,#85f 0 180.9px,#ede 0 182.4px,#97f 0 183.8px,#dde 0 185.3px,#31f 0 186.7px,#cbe 0 188.1px,#b9f 0 189.6px,#dce 0 191px,#ede 0 192.5px,#53f 0 193.9px,#edd 0 195.4px,#dde 0 196.8px,#fa9 0 198.3px,#fdc 0 199.7px,#fba 0 201.2px,#dce 0 202.6px,#fcb 0 204.1px,#dde 0 205.5px,#edd 0 207px,#dce 0 208.4px,#fcb 0 209.9px,#fdc 0 211.3px,#f97 0 212.8px,#eee 0 214.2px,#fa9 0 215.6px,#fdd 0 217.1px,#fba 0 218.5px,#fcc 0 221.4px,#cae 0 222.9px,#dce 0 224.3px,#eee 0 225.8px,#cbe 0 227.2px,#fdc 0 228.7px,#f86 0 230.1px,#eee 0 233px,#f86 0 234.5px,#f98 0 235.9px,#eee 0 237.4px,#fa9 0 238.8px,#fcb 0 240.2px,#eee 0 241.7px,#f64 0 244.6px,#fba 0 246px,#fa9 0 247.5px,#f75 0 248.9px,#fa8 0 250.4px,#f97 0 251.8px,#fba 0 253.3px,#fa8 0 254.7px,#f64 0 256.2px,#fa8 0 257.6px,#fcc 0 259.1px,#f10 0 260.5px,#f53 0 262px,#f87 0 263.4px,#f75 0 264.9px,#f98 0 266.3px,#fa8 0 267.7px,#fba 0 269.2px,#f86 0 270.6px,#fa8 0 272.1px,#f97 0 273.5px,#fcc 0 275px,#ede 0 276.4px,#f76 0 277.9px,#f75 0 279.3px,#edd 0 280.8px,#f64 0 282.2px,#fdd 0 283.7px,#f97 0 285.1px,#f64 0 286.6px,#fba 0 288px,#fdc 0 289.5px,#fa9 0 292.4px,#fa8 0 293.8px,#f75 0 295.2px,#f86 0 296.7px,#f75 0 298.1px,#fdc 0 299.6px,#fba 0 301px,#fa9 0 302.5px,#fdd 0 303.9px,#fa8 0 305.4px,#f97 0 306.8px,#dbe 0 308.3px,#ede 0 309.7px,#eee 0 311.2px,#fa8 0 312.6px,#f98 0 314.1px,#f97 0 315.5px,#fcb 0 317px,#eed 0 318.4px,#fdc 0 319.8px,#fdd 0 321.3px,#eee 0 322.7px,#fa9 0 324.2px,#fb9 0 325.6px,#fba 0 327.1px,#fa9 0 328.5px,#f97 0 330px,#edd 0 331.4px,#fcb 0 332.9px,#fb9 0 334.3px,#fa9 0 335.8px,#f98 0 337.2px,#fa8 0 338.7px,#f64 0 340.1px,#eed 0 341.6px,#fa9 0 343px,#fa8 0 344.5px,#fcb 0 345.9px,#fdd 0 347.3px,#dce 0 348.8px,#f75 0 350.2px,#fba 0 351.7px,#f97 0 353.1px,#cae 0 354.6px,#f75 0 356px,#fba 0 357.5px,#dce 0 358.9px,#fcb 0 360.4px,#eed 0 361.8px,#85f 0 363.3px,#fba 0 364.7px,#fa9 0 366.2px,#f97 0 367.6px,#cbe 0 369.1px,#eee 0 370.5px,#fba 0 372px,#f86 0 373.4px,#cae 0 374.8px,#fb9 0 376.3px,#fba 0 377.7px,#fcb 0 379.2px,#fa9 0 380.6px,#f98 0 382.1px,#edd 0 383.5px,#f86 0 385px,#fdc 0 387.9px,#eee 0 389.3px,#fa9 0 390.8px,#f86 0 392.2px,#fdd 0 393.7px,#f64 0 395.1px,#f86 0 396.6px,#fdc 0 398px,#f64 0 399.5px,#fcb 0 400.9px,#b9f 0 402.3px,#fa9 0 403.8px,#dce 0 405.2px,#f75 0 406.7px,#cbe 0 408.1px,#fba 0 409.6px,#fa9 0 411px,#fa8 0 412.5px,#fba 0 413.9px,#ede 0 415.4px,#f32 0 416.8px,#edd 0 418.3px,#eee 0 419.7px,#edd 0 421.2px,#f42 0 422.6px,#f97 0 424.1px,#fcb 0 425.5px,#f75 0 426.9px,#fba 0 428.4px,#f87 0 429.8px,#dce 0 431.3px,#fcb 0 432.7px,#fba 0 434.2px,#f42 0 435.6px,#f75 0 437.1px,#eee 0 438.5px,#edd 0 440px,#f98 0 441.4px,#f76 0 442.9px,#fcb 0 444.3px,#fa9 0 445.8px,#fcb 0 447.2px,#edd 0 448.7px,#fcb 0 450.1px,#f98 0 451.6px,#cbe 0 453px)"></div>
<div class="hr" style="top:75.8px;background:linear-gradient(90deg,#97f 0 1.4px,#85f 0 2.9px,#75f 0 4.3px,#53f 0 5.8px,#a7f 0 7.2px,#64f 0 8.7px,#96f 0 10.1px,#cbe 0 11.6px,#85f 0 13px,#96f 0 14.5px,#b9f 0 15.9px,#cbe 0 17.4px,#b9f 0 18.8px,#63f 0 20.3px,#86f 0 21.7px,#cae 0 23.2px,#63f 0 24.6px,#75f 0 26.1px,#00f 0 28.9px,#b9f 0 30.4px,#a7f 0 31.8px,#dce 0 33.3px,#85f 0 34.7px,#b9f 0 36.2px,#85f 0 37.6px,#00f 0 39.1px,#ede 0 40.5px,#85f 0 42px,#96f 0 43.4px,#00f 0 44.9px,#64f 0 46.3px,#00f 0 47.8px,#85f 0 49.2px,#cae 0 50.7px,#eee 0 52.1px,#a8f 0 53.5px,#b8f 0 55px,#86f 0 56.4px,#96f 0 57.9px,#b9f 0 59.3px,#a8f 0 60.8px,#10f 0 62.2px,#a7f 0 63.7px,#dbe 0 65.1px,#31f 0 66.6px,#dbe 0 68px,#cbe 0 69.5px,#75f 0 70.9px,#dde 0 72.4px,#85f 0 73.8px,#63f 0 75.3px,#97f 0 76.7px,#85f 0 78.2px,#a7f 0 79.6px,#cbe 0 81px,#86f 0 82.5px,#b9f 0 83.9px,#cae 0 85.4px,#97f 0 86.8px,#85f 0 88.3px,#86f 0 89.7px,#dce 0 92.6px,#97f 0 95.5px,#fdc 0 97px,#cbe 0 98.4px,#75f 0 99.9px,#63f 0 101.3px,#cae 0 102.8px,#74f 0 104.2px,#b9f 0 105.7px,#75f 0 107.1px,#cae 0 108.5px,#97f 0 110px,#b9f 0 111.4px,#a8f 0 112.9px,#b9f 0 114.3px,#cbe 0 115.8px,#75f 0 117.2px,#a7f 0 118.7px,#b9f 0 120.1px,#96f 0 121.6px,#a8f 0 123px,#96f 0 124.5px,#b9f 0 125.9px,#85f 0 127.4px,#a8f 0 128.8px,#caf 0 130.3px,#b9f 0 131.7px,#cae 0 133.2px,#97f 0 134.6px,#cae 0 136px,#caf 0 137.5px,#cae 0 138.9px,#85f 0 140.4px,#a8f 0 141.8px,#42f 0 143.3px,#53f 0 144.7px,#86f 0 146.2px,#64f 0 147.6px,#b9f 0 149.1px,#fba 0 150.5px,#97f 0 152px,#fcb 0 153.4px,#b9f 0 154.9px,#fba 0 156.3px,#86f 0 157.8px,#a7f 0 159.2px,#eee 0 160.6px,#cbe 0 162.1px,#a7f 0 163.5px,#cae 0 165px,#fcb 0 166.4px,#86f 0 167.9px,#cae 0 169.3px,#a8f 0 170.8px,#f97 0 172.2px,#cbe 0 173.7px,#caf 0 175.1px,#96f 0 176.6px,#fdc 0 178px,#10f 0 179.5px,#a8f 0 180.9px,#97f 0 182.4px,#42f 0 183.8px,#fcb 0 185.3px,#63f 0 186.7px,#baf 0 188.1px,#97f 0 189.6px,#eee 0 191px,#baf 0 192.5px,#96f 0 193.9px,#eee 0 195.4px,#ede 0 196.8px,#f75 0 198.3px,#fdc 0 199.7px,#edd 0 201.2px,#dde 0 202.6px,#f97 0 204.1px,#fdc 0 205.5px,#fba 0 207px,#eee 0 208.4px,#dce 0 209.9px,#eee 0 211.3px,#f98 0 212.8px,#fdc 0 214.2px,#fcb 0 215.6px,#fdc 0 217.1px,#ede 0 218.5px,#fdc 0 220px,#dce 0 221.4px,#cbe 0 222.9px,#fcc 0 224.3px,#eee 0 225.8px,#dce 0 227.2px,#ede 0 228.7px,#f53 0 230.1px,#cbe 0 231.6px,#eee 0 233px,#fdc 0 234.5px,#f86 0 235.9px,#fba 0 237.4px,#fa9 0 240.2px,#eee 0 241.7px,#f00 0 243.1px,#f75 0 244.6px,#f64 0 246px,#fcb 0 247.5px,#f87 0 248.9px,#f76 0 250.4px,#f87 0 251.8px,#fba 0 253.3px,#fa9 0 254.7px,#f64 0 256.2px,#f86 0 257.6px,#fcb 0 259.1px,#f00 0 260.5px,#f53 0 262px,#f97 0 263.4px,#f86 0 266.3px,#f75 0 269.2px,#f43 0 270.6px,#f64 0 272.1px,#fdc 0 273.5px,#f98 0 275px,#edd 0 276.4px,#f75 0 277.9px,#f86 0 279.3px,#fcc 0 280.8px,#f98 0 282.2px,#fcb 0 283.7px,#f53 0 285.1px,#f97 0 286.6px,#fdc 0 288px,#f97 0 289.5px,#ede 0 290.9px,#f42 0 292.4px,#f97 0 293.8px,#f98 0 295.2px,#f21 0 298.1px,#dce 0 299.6px,#fcb 0 301px,#f97 0 302.5px,#fb9 0 303.9px,#fba 0 305.4px,#fb9 0 306.8px,#eed 0 308.3px,#eee 0 309.7px,#fba 0 311.2px,#f75 0 312.6px,#fa8 0 314.1px,#fb9 0 315.5px,#edd 0 317px,#ede 0 318.4px,#fcb 0 319.8px,#edd 0 321.3px,#b9f 0 322.7px,#f97 0 324.2px,#fa9 0 325.6px,#f43 0 327.1px,#fcb 0 328.5px,#fdc 0 330px,#fcb 0 331.4px,#eee 0 332.9px,#fba 0 334.3px,#dde 0 335.8px,#f75 0 337.2px,#f87 0 338.7px,#f75 0 340.1px,#eee 0 341.6px,#f64 0 343px,#fa8 0 345.9px,#dde 0 347.3px,#cae 0 348.8px,#f86 0 350.2px,#f97 0 351.7px,#fba 0 353.1px,#baf 0 354.6px,#f53 0 356px,#fcb 0 357.5px,#eee 0 358.9px,#fcb 0 360.4px,#eee 0 361.8px,#dce 0 363.3px,#fb9 0 364.7px,#f53 0 366.2px,#fcb 0 367.6px,#eee 0 369.1px,#fcb 0 370.5px,#f42 0 372px,#f86 0 373.4px,#fcb 0 374.8px,#fa9 0 376.3px,#fa8 0 377.7px,#f64 0 379.2px,#f97 0 380.6px,#fa8 0 382.1px,#ede 0 383.5px,#f75 0 385px,#eed 0 386.4px,#fcb 0 387.9px,#dce 0 389.3px,#f97 0 390.8px,#fcb 0 392.2px,#fcc 0 393.7px,#f87 0 395.1px,#f75 0 396.6px,#fa8 0 399.5px,#f98 0 400.9px,#caf 0 402.3px,#edd 0 403.8px,#dde 0 405.2px,#f98 0 406.7px,#ede 0 408.1px,#fa9 0 409.6px,#fcb 0 411px,#f97 0 412.5px,#f98 0 413.9px,#cbe 0 415.4px,#f00 0 416.8px,#eee 0 418.3px,#fa9 0 419.7px,#edd 0 421.2px,#f98 0 422.6px,#fb9 0 424.1px,#f75 0 425.5px,#f98 0 428.4px,#f86 0 429.8px,#cbe 0 431.3px,#fcc 0 432.7px,#eee 0 434.2px,#f64 0 435.6px,#fa9 0 438.5px,#fba 0 440px,#eee 0 441.4px,#f00 0 442.9px,#f75 0 444.3px,#f97 0 445.8px,#fdd 0 447.2px,#eed 0 448.7px,#fba 0 450.1px,#f97 0 451.6px,#b9f 0 453px)"></div>
<div class="hr" style="top:83.56px;background:linear-gradient(90deg,#a8f 0 2.9px,#a7f 0 4.3px,#64f 0 5.8px,#b8f 0 7.2px,#85f 0 8.7px,#32f 0 10.1px,#b9f 0 11.6px,#86f 0 13px,#a7f 0 14.5px,#a8f 0 17.4px,#96f 0 21.7px,#a8f 0 23.2px,#42f 0 24.6px,#a7f 0 26.1px,#10f 0 27.5px,#00f 0 28.9px,#cae 0 30.4px,#86f 0 31.8px,#cbe 0 33.3px,#b9f 0 34.7px,#cae 0 36.2px,#b9f 0 37.6px,#00f 0 39.1px,#dce 0 40.5px,#85f 0 42px,#cbe 0 43.4px,#75f 0 44.9px,#b9f 0 46.3px,#75f 0 47.8px,#31f 0 49.2px,#ede 0 50.7px,#dce 0 52.1px,#a8f 0 53.5px,#cae 0 55px,#a8f 0 56.4px,#b9f 0 57.9px,#85f 0 59.3px,#cae 0 60.8px,#64f 0 62.2px,#a7f 0 63.7px,#edd 0 65.1px,#86f 0 66.6px,#baf 0 68px,#85f 0 69.5px,#97f 0 70.9px,#eee 0 72.4px,#cae 0 73.8px,#53f 0 75.3px,#97f 0 76.7px,#a7f 0 78.2px,#a8f 0 79.6px,#dce 0 81px,#cae 0 82.5px,#b9f 0 83.9px,#dde 0 85.4px,#a8f 0 88.3px,#97f 0 89.7px,#dde 0 91.2px,#dce 0 92.6px,#b9f 0 94.1px,#a7f 0 95.5px,#fba 0 97px,#b8f 0 98.4px,#85f 0 99.9px,#b9f 0 101.3px,#eee 0 102.8px,#86f 0 104.2px,#b9f 0 107.1px,#cbe 0 108.5px,#cae 0 110px,#b9f 0 111.4px,#96f 0 112.9px,#cae 0 114.3px,#cbe 0 115.8px,#74f 0 117.2px,#96f 0 118.7px,#97f 0 120.1px,#96f 0 121.6px,#cbe 0 123px,#86f 0 124.5px,#b9f 0 125.9px,#cae 0 127.4px,#eed 0 128.8px,#cae 0 130.3px,#dce 0 133.2px,#a8f 0 134.6px,#dde 0 136px,#97f 0 137.5px,#b9f 0 138.9px,#86f 0 140.4px,#dbe 0 141.8px,#74f 0 143.3px,#64f 0 144.7px,#cae 0 146.2px,#baf 0 147.6px,#cbe 0 149.1px,#fba 0 150.5px,#97f 0 152px,#eee 0 153.4px,#cbe 0 154.9px,#fcb 0 156.3px,#a8f 0 157.8px,#dce 0 159.2px,#cbe 0 160.6px,#b9f 0 162.1px,#a8f 0 163.5px,#dde 0 165px,#fcb 0 166.4px,#b9f 0 167.9px,#baf 0 169.3px,#97f 0 170.8px,#fba 0 172.2px,#cae 0 173.7px,#eee 0 175.1px,#96f 0 176.6px,#fa8 0 178px,#53f 0 179.5px,#97f 0 180.9px,#dce 0 182.4px,#86f 0 183.8px,#dde 0 185.3px,#42f 0 186.7px,#dde 0 188.1px,#96f 0 189.6px,#fcb 0 191px,#cae 0 192.5px,#97f 0 193.9px,#cbe 0 195.4px,#ede 0 196.8px,#eee 0 198.3px,#fba 0 199.7px,#fdd 0 201.2px,#edd 0 202.6px,#fba 0 204.1px,#eee 0 205.5px,#fa9 0 207px,#dce 0 208.4px,#cbe 0 209.9px,#eee 0 211.3px,#fba 0 212.8px,#edd 0 214.2px,#f97 0 215.6px,#edd 0 217.1px,#fcc 0 218.5px,#eee 0 220px,#fba 0 221.4px,#eee 0 222.9px,#edd 0 224.3px,#fdc 0 225.8px,#dbe 0 227.2px,#edd 0 228.7px,#f64 0 230.1px,#dce 0 231.6px,#fcc 0 233px,#fdc 0 234.5px,#fa8 0 235.9px,#dce 0 237.4px,#f65 0 238.8px,#fba 0 240.2px,#fdc 0 241.7px,#f97 0 243.1px,#f75 0 244.6px,#fcb 0 246px,#fa9 0 247.5px,#f31 0 248.9px,#fa9 0 250.4px,#f97 0 251.8px,#fa9 0 253.3px,#fdc 0 254.7px,#f53 0 256.2px,#f86 0 257.6px,#fcb 0 259.1px,#f10 0 260.5px,#f64 0 262px,#fa8 0 263.4px,#f86 0 266.3px,#f97 0 267.7px,#fa8 0 269.2px,#fba 0 270.6px,#f75 0 272.1px,#f86 0 273.5px,#fdc 0 275px,#dbe 0 276.4px,#fa9 0 277.9px,#f65 0 279.3px,#fcc 0 280.8px,#fa9 0 282.2px,#fdc 0 283.7px,#f75 0 285.1px,#f97 0 286.6px,#fcb 0 288px,#fdc 0 289.5px,#fba 0 290.9px,#f75 0 292.4px,#fa8 0 293.8px,#fba 0 295.2px,#f86 0 296.7px,#f64 0 298.1px,#eee 0 299.6px,#fdd 0 301px,#f87 0 302.5px,#fdc 0 303.9px,#fa8 0 305.4px,#f86 0 306.8px,#dce 0 309.7px,#fba 0 311.2px,#fdc 0 312.6px,#fcb 0 314.1px,#f97 0 315.5px,#fdc 0 317px,#dce 0 318.4px,#edd 0 319.8px,#fcb 0 321.3px,#fdc 0 322.7px,#f75 0 324.2px,#fba 0 325.6px,#f86 0 327.1px,#ede 0 328.5px,#fcb 0 330px,#eee 0 331.4px,#fcc 0 332.9px,#f98 0 334.3px,#fba 0 335.8px,#fcb 0 337.2px,#f86 0 338.7px,#f75 0 340.1px,#dce 0 341.6px,#f98 0 343px,#edd 0 344.5px,#fba 0 345.9px,#edd 0 347.3px,#cbe 0 348.8px,#f87 0 350.2px,#fbb 0 351.7px,#fb9 0 353.1px,#b9f 0 354.6px,#f86 0 356px,#fcb 0 357.5px,#dbe 0 358.9px,#fcc 0 360.4px,#ede 0 361.8px,#96f 0 363.3px,#eee 0 364.7px,#f87 0 366.2px,#fa9 0 367.6px,#fdc 0 369.1px,#fba 0 370.5px,#f64 0 372px,#fa8 0 373.4px,#dde 0 374.8px,#fdc 0 376.3px,#fcb 0 377.7px,#fa8 0 379.2px,#f98 0 380.6px,#fa9 0 382.1px,#fdd 0 383.5px,#fa9 0 385px,#fba 0 386.4px,#fcc 0 387.9px,#fdd 0 389.3px,#fb9 0 390.8px,#fcb 0 392.2px,#dde 0 393.7px,#f64 0 395.1px,#f75 0 396.6px,#fcb 0 398px,#fa8 0 399.5px,#f64 0 400.9px,#baf 0 402.3px,#fb9 0 403.8px,#dde 0 405.2px,#fcc 0 406.7px,#fdc 0 408.1px,#f97 0 409.6px,#fa8 0 411px,#f75 0 412.5px,#f98 0 413.9px,#dde 0 415.4px,#f64 0 416.8px,#fcc 0 419.7px,#ede 0 421.2px,#f54 0 422.6px,#f86 0 425.5px,#fcc 0 426.9px,#f97 0 428.4px,#f64 0 429.8px,#eed 0 431.3px,#fcb 0 434.2px,#f75 0 435.6px,#fba 0 437.1px,#fa8 0 438.5px,#fdc 0 440px,#fb9 0 441.4px,#f43 0 442.9px,#fdc 0 444.3px,#fa9 0 445.8px,#fdc 0 447.2px,#dce 0 448.7px,#fcb 0 450.1px,#f98 0 451.6px,#eee 0 453px)"></div>
<div class="hr" style="top:91.32px;background:linear-gradient(90deg,#64f 0 1.4px,#b9f 0 2.9px,#baf 0 4.3px,#85f 0 5.8px,#96f 0 7.2px,#64f 0 8.7px,#75f 0 10.1px,#dbe 0 11.6px,#96f 0 14.5px,#dde 0 15.9px,#b9f 0 17.4px,#a8f 0 18.8px,#a7f 0 20.3px,#74f 0 21.7px,#97f 0 23.2px,#42f 0 24.6px,#74f 0 26.1px,#53f 0 28.9px,#dce 0 30.4px,#b9f 0 31.8px,#dce 0 33.3px,#a7f 0 34.7px,#b9f 0 36.2px,#a8f 0 37.6px,#00f 0 39.1px,#ede 0 40.5px,#b8f 0 42px,#a8f 0 43.4px,#96f 0 44.9px,#a8f 0 46.3px,#53f 0 47.8px,#85f 0 49.2px,#b9f 0 50.7px,#ede 0 52.1px,#86f 0 53.5px,#dce 0 55px,#97f 0 56.4px,#b9f 0 57.9px,#a8f 0 59.3px,#85f 0 60.8px,#a8f 0 63.7px,#eee 0 65.1px,#74f 0 66.6px,#dbe 0 68px,#dce 0 69.5px,#97f 0 70.9px,#fcc 0 72.4px,#a7f 0 73.8px,#96f 0 75.3px,#a8f 0 76.7px,#b9f 0 78.2px,#a7f 0 79.6px,#cae 0 81px,#cbe 0 82.5px,#96f 0 83.9px,#dce 0 85.4px,#75f 0 86.8px,#cbe 0 88.3px,#96f 0 89.7px,#b9f 0 91.2px,#cbe 0 92.6px,#a8f 0 94.1px,#baf 0 95.5px,#fcb 0 97px,#dce 0 98.4px,#31f 0 99.9px,#97f 0 101.3px,#dce 0 102.8px,#21f 0 104.2px,#b9f 0 105.7px,#74f 0 107.1px,#b8f 0 108.5px,#a8f 0 110px,#97f 0 111.4px,#a8f 0 114.3px,#dde 0 115.8px,#b9f 0 117.2px,#97f 0 118.7px,#a7f 0 120.1px,#96f 0 121.6px,#dce 0 123px,#00f 0 124.5px,#b8f 0 125.9px,#cae 0 127.4px,#dde 0 128.8px,#b9f 0 131.7px,#dce 0 133.2px,#cae 0 137.5px,#cbe 0 138.9px,#a7f 0 140.4px,#dde 0 141.8px,#64f 0 143.3px,#00f 0 144.7px,#b9f 0 146.2px,#cae 0 147.6px,#cbe 0 149.1px,#fdc 0 150.5px,#dbe 0 152px,#dce 0 153.4px,#dbe 0 154.9px,#fcb 0 156.3px,#b9f 0 159.2px,#eee 0 160.6px,#b9f 0 162.1px,#86f 0 163.5px,#96f 0 165px,#fba 0 166.4px,#86f 0 167.9px,#cbe 0 169.3px,#85f 0 170.8px,#fa9 0 172.2px,#dce 0 173.7px,#baf 0 175.1px,#b9f 0 176.6px,#fbb 0 178px,#63f 0 179.5px,#64f 0 180.9px,#dde 0 182.4px,#74f 0 183.8px,#eee 0 185.3px,#00f 0 186.7px,#b9f 0 188.1px,#63f 0 189.6px,#cae 0 191px,#dce 0 192.5px,#97f 0 193.9px,#ede 0 195.4px,#eee 0 196.8px,#fba 0 198.3px,#edd 0 199.7px,#fcb 0 201.2px,#eee 0 202.6px,#fdd 0 204.1px,#eee 0 205.5px,#fa9 0 207px,#ede 0 208.4px,#eee 0 209.9px,#dce 0 211.3px,#fa9 0 212.8px,#fb9 0 214.2px,#fa9 0 215.6px,#eed 0 217.1px,#b9f 0 218.5px,#eed 0 220px,#cbe 0 221.4px,#a8f 0 222.9px,#fbb 0 224.3px,#fba 0 225.8px,#b9f 0 227.2px,#fcb 0 228.7px,#f75 0 230.1px,#eee 0 231.6px,#fdc 0 233px,#fdd 0 234.5px,#fa8 0 235.9px,#dde 0 237.4px,#fbb 0 238.8px,#f98 0 240.2px,#dde 0 241.7px,#f97 0 243.1px,#fa9 0 244.6px,#f86 0 246px,#fba 0 247.5px,#f64 0 248.9px,#fba 0 250.4px,#fb9 0 251.8px,#fcb 0 253.3px,#fba 0 254.7px,#f64 0 256.2px,#f97 0 257.6px,#f98 0 259.1px,#f42 0 260.5px,#f43 0 262px,#f86 0 263.4px,#f87 0 264.9px,#fba 0 267.7px,#f87 0 269.2px,#f53 0 270.6px,#f86 0 272.1px,#f97 0 275px,#fcb 0 276.4px,#fa9 0 277.9px,#f86 0 279.3px,#fa9 0 280.8px,#f86 0 282.2px,#edd 0 283.7px,#f98 0 285.1px,#f97 0 286.6px,#eee 0 288px,#fcb 0 289.5px,#eee 0 290.9px,#f86 0 292.4px,#fba 0 293.8px,#f98 0 295.2px,#f86 0 296.7px,#f97 0 298.1px,#fcb 0 299.6px,#dde 0 301px,#f86 0 302.5px,#ede 0 303.9px,#fb9 0 305.4px,#fba 0 306.8px,#dde 0 308.3px,#cbe 0 309.7px,#eee 0 311.2px,#fa9 0 312.6px,#fbb 0 314.1px,#f98 0 315.5px,#fcc 0 317px,#edd 0 318.4px,#fa8 0 319.8px,#fdd 0 321.3px,#dde 0 322.7px,#f97 0 324.2px,#fba 0 325.6px,#f97 0 327.1px,#fba 0 330px,#edd 0 331.4px,#ede 0 332.9px,#fa9 0 334.3px,#fdc 0 335.8px,#f86 0 337.2px,#fa9 0 338.7px,#f64 0 340.1px,#fdc 0 341.6px,#f98 0 343px,#fba 0 344.5px,#f86 0 345.9px,#fcb 0 347.3px,#dce 0 348.8px,#f87 0 350.2px,#fcc 0 351.7px,#fa8 0 353.1px,#dce 0 354.6px,#f76 0 356px,#fcb 0 357.5px,#dce 0 358.9px,#fdc 0 360.4px,#ede 0 361.8px,#dce 0 363.3px,#fba 0 364.7px,#fa9 0 366.2px,#fcb 0 367.6px,#dce 0 369.1px,#eee 0 370.5px,#f75 0 372px,#fa8 0 373.4px,#dce 0 374.8px,#fa9 0 376.3px,#fcb 0 377.7px,#fba 0 379.2px,#fcb 0 380.6px,#fbb 0 382.1px,#fba 0 383.5px,#fcb 0 385px,#fa9 0 386.4px,#fb9 0 387.9px,#eee 0 389.3px,#fba 0 390.8px,#fcb 0 392.2px,#eee 0 393.7px,#f53 0 395.1px,#f75 0 396.6px,#fa9 0 398px,#f75 0 399.5px,#f98 0 400.9px,#dbe 0 402.3px,#fa9 0 403.8px,#dde 0 405.2px,#fcb 0 406.7px,#fcc 0 408.1px,#fba 0 409.6px,#fcc 0 411px,#f32 0 412.5px,#fba 0 413.9px,#cbe 0 415.4px,#f64 0 416.8px,#dde 0 418.3px,#fdc 0 419.7px,#cae 0 421.2px,#f87 0 422.6px,#f97 0 424.1px,#f86 0 425.5px,#f75 0 426.9px,#f98 0 428.4px,#f86 0 429.8px,#dde 0 431.3px,#fcb 0 432.7px,#f97 0 434.2px,#f86 0 435.6px,#fa9 0 437.1px,#f87 0 438.5px,#fba 0 440px,#fcb 0 441.4px,#f53 0 442.9px,#f86 0 444.3px,#fdc 0 445.8px,#fcb 0 447.2px,#dde 0 448.7px,#fb9 0 450.1px,#fa8 0 451.6px,#eee 0 453px)"></div>
<div class="hr" style="top:99.07px;background:linear-gradient(90deg,#b8f 0 1.4px,#85f 0 2.9px,#96f 0 4.3px,#00f 0 5.8px,#96f 0 8.7px,#a8f 0 10.1px,#85f 0 11.6px,#75f 0 13px,#97f 0 14.5px,#b9f 0 15.9px,#dbe 0 17.4px,#64f 0 18.8px,#96f 0 20.3px,#85f 0 21.7px,#baf 0 23.2px,#85f 0 24.6px,#a8f 0 26.1px,#00f 0 27.5px,#75f 0 28.9px,#86f 0 30.4px,#53f 0 31.8px,#dce 0 33.3px,#a8f 0 34.7px,#63f 0 36.2px,#75f 0 37.6px,#00f 0 39.1px,#fcb 0 40.5px,#cae 0 43.4px,#00f 0 44.9px,#96f 0 46.3px,#97f 0 49.2px,#dce 0 50.7px,#cbe 0 52.1px,#dde 0 53.5px,#eee 0 55px,#96f 0 56.4px,#75f 0 57.9px,#eee 0 59.3px,#97f 0 60.8px,#a8f 0 62.2px,#eee 0 63.7px,#b9f 0 65.1px,#75f 0 66.6px,#b9f 0 68px,#caf 0 69.5px,#a7f 0 70.9px,#fa9 0 72.4px,#dce 0 73.8px,#85f 0 75.3px,#dbe 0 76.7px,#b9f 0 78.2px,#97f 0 79.6px,#fcb 0 81px,#86f 0 82.5px,#b9f 0 83.9px,#dce 0 85.4px,#63f 0 86.8px,#53f 0 88.3px,#cae 0 89.7px,#97f 0 91.2px,#cae 0 92.6px,#86f 0 94.1px,#85f 0 95.5px,#eee 0 97px,#dce 0 99.9px,#b9f 0 101.3px,#dce 0 102.8px,#00f 0 104.2px,#a7f 0 105.7px,#85f 0 107.1px,#eee 0 108.5px,#caf 0 110px,#a8f 0 112.9px,#96f 0 114.3px,#b8f 0 115.8px,#b9f 0 117.2px,#74f 0 118.7px,#96f 0 120.1px,#a8f 0 121.6px,#96f 0 123px,#97f 0 124.5px,#dce 0 125.9px,#b9f 0 127.4px,#dde 0 128.8px,#cbe 0 130.3px,#dbe 0 131.7px,#86f 0 133.2px,#b9f 0 136px,#86f 0 137.5px,#cbe 0 138.9px,#75f 0 140.4px,#dce 0 141.8px,#a8f 0 143.3px,#00f 0 144.7px,#a8f 0 146.2px,#dce 0 149.1px,#fa8 0 150.5px,#a8f 0 152px,#cae 0 153.4px,#97f 0 154.9px,#fa8 0 156.3px,#dce 0 157.8px,#97f 0 159.2px,#cbe 0 160.6px,#dce 0 162.1px,#31f 0 163.5px,#b8f 0 165px,#f97 0 166.4px,#dde 0 167.9px,#cae 0 169.3px,#dde 0 170.8px,#fcb 0 172.2px,#a8f 0 173.7px,#64f 0 175.1px,#cbe 0 176.6px,#edd 0 178px,#cbe 0 179.5px,#a8f 0 180.9px,#cbe 0 182.4px,#00f 0 183.8px,#fcb 0 185.3px,#74f 0 186.7px,#dbe 0 188.1px,#10f 0 189.6px,#edd 0 191px,#ede 0 192.5px,#74f 0 193.9px,#eee 0 195.4px,#edd 0 196.8px,#fa9 0 198.3px,#fdc 0 199.7px,#f97 0 201.2px,#dde 0 202.6px,#fba 0 204.1px,#ede 0 205.5px,#b9f 0 207px,#dce 0 208.4px,#fba 0 209.9px,#ede 0 211.3px,#fcb 0 214.2px,#dde 0 215.6px,#fdc 0 218.5px,#fba 0 220px,#dde 0 221.4px,#eee 0 222.9px,#f87 0 224.3px,#eee 0 225.8px,#edd 0 227.2px,#cae 0 228.7px,#fdc 0 230.1px,#fcb 0 231.6px,#eee 0 233px,#fa9 0 234.5px,#fa8 0 235.9px,#eed 0 237.4px,#f86 0 238.8px,#f75 0 240.2px,#eee 0 241.7px,#fcb 0 243.1px,#f64 0 244.6px,#f76 0 246px,#f97 0 247.5px,#f75 0 248.9px,#f32 0 250.4px,#f97 0 251.8px,#fa9 0 253.3px,#dce 0 254.7px,#f75 0 256.2px,#fcb 0 257.6px,#fdc 0 259.1px,#f10 0 260.5px,#f86 0 262px,#f64 0 263.4px,#fa9 0 264.9px,#fba 0 266.3px,#f98 0 267.7px,#fdc 0 269.2px,#f54 0 270.6px,#f75 0 272.1px,#fa8 0 273.5px,#f75 0 275px,#fdd 0 276.4px,#f86 0 277.9px,#fb9 0 279.3px,#ede 0 280.8px,#fba 0 282.2px,#eee 0 283.7px,#fa9 0 285.1px,#f75 0 286.6px,#cae 0 288px,#ede 0 289.5px,#b9f 0 290.9px,#f53 0 292.4px,#fba 0 293.8px,#fa9 0 295.2px,#f98 0 296.7px,#f53 0 298.1px,#eee 0 302.5px,#fa9 0 305.4px,#f86 0 306.8px,#fcb 0 308.3px,#dce 0 309.7px,#dde 0 311.2px,#f98 0 312.6px,#fa9 0 314.1px,#fba 0 315.5px,#fdc 0 317px,#dce 0 318.4px,#fa8 0 319.8px,#fba 0 321.3px,#eee 0 322.7px,#f53 0 324.2px,#ede 0 325.6px,#fb9 0 327.1px,#f97 0 328.5px,#edd 0 330px,#cbe 0 331.4px,#fa8 0 332.9px,#f98 0 334.3px,#dce 0 335.8px,#f87 0 337.2px,#fdc 0 338.7px,#fa8 0 340.1px,#eee 0 341.6px,#fa9 0 343px,#eed 0 344.5px,#fcb 0 345.9px,#cbe 0 347.3px,#dce 0 348.8px,#f98 0 351.7px,#fcb 0 353.1px,#a8f 0 354.6px,#fcb 0 358.9px,#fa9 0 360.4px,#cbe 0 361.8px,#dce 0 363.3px,#ede 0 364.7px,#f53 0 366.2px,#fcb 0 369.1px,#fbb 0 370.5px,#f98 0 372px,#fa8 0 373.4px,#baf 0 374.8px,#fba 0 376.3px,#f86 0 377.7px,#f00 0 379.2px,#f86 0 380.6px,#fa9 0 382.1px,#dce 0 383.5px,#f75 0 385px,#cbe 0 386.4px,#ede 0 387.9px,#fdc 0 389.3px,#eee 0 390.8px,#f75 0 392.2px,#fba 0 393.7px,#f87 0 395.1px,#f97 0 396.6px,#dde 0 398px,#fdc 0 399.5px,#f97 0 400.9px,#dde 0 402.3px,#fa8 0 403.8px,#ede 0 405.2px,#fcb 0 406.7px,#fcc 0 408.1px,#dde 0 409.6px,#fba 0 411px,#f42 0 412.5px,#f75 0 413.9px,#cbe 0 415.4px,#f87 0 416.8px,#f97 0 418.3px,#f76 0 419.7px,#b9f 0 421.2px,#f87 0 422.6px,#f86 0 424.1px,#f64 0 425.5px,#fba 0 426.9px,#f98 0 428.4px,#fba 0 429.8px,#fa9 0 432.7px,#fba 0 434.2px,#f87 0 435.6px,#f75 0 437.1px,#f98 0 438.5px,#ede 0 440px,#fcb 0 441.4px,#fb9 0 442.9px,#fcb 0 444.3px,#eee 0 445.8px,#ede 0 447.2px,#dde 0 448.7px,#edd 0 450.1px,#f86 0 451.6px,#eee 0 453px)"></div>
<div class="hr" style="top:106.83px;background:linear-gradient(90deg,#96f 0 1.4px,#75f 0 2.9px,#b9f 0 4.3px,#00f 0 7.2px,#97f 0 8.7px,#b9f 0 10.1px,#ede 0 11.6px,#85f 0 13px,#32f 0 14.5px,#a7f 0 15.9px,#caf 0 17.4px,#85f 0 18.8px,#53f 0 20.3px,#63f 0 21.7px,#86f 0 23.2px,#96f 0 24.6px,#a8f 0 26.1px,#00f 0 28.9px,#a8f 0 30.4px,#b9f 0 31.8px,#a7f 0 33.3px,#a8f 0 34.7px,#31f 0 36.2px,#64f 0 37.6px,#42f 0 39.1px,#edd 0 40.5px,#74f 0 42px,#86f 0 43.4px,#96f 0 44.9px,#85f 0 46.3px,#64f 0 47.8px,#a7f 0 49.2px,#cbe 0 50.7px,#fdd 0 52.1px,#cae 0 53.5px,#b9f 0 55px,#96f 0 56.4px,#a8f 0 57.9px,#74f 0 59.3px,#85f 0 60.8px,#a8f 0 62.2px,#64f 0 63.7px,#eee 0 65.1px,#85f 0 66.6px,#cae 0 69.5px,#a8f 0 70.9px,#fcb 0 72.4px,#b9f 0 73.8px,#75f 0 75.3px,#a8f 0 76.7px,#edd 0 78.2px,#cbe 0 79.6px,#a7f 0 82.5px,#a8f 0 83.9px,#dce 0 85.4px,#a7f 0 86.8px,#fdc 0 88.3px,#32f 0 89.7px,#dce 0 91.2px,#dde 0 92.6px,#85f 0 94.1px,#a8f 0 95.5px,#fdc 0 97px,#dce 0 98.4px,#a8f 0 99.9px,#42f 0 101.3px,#eee 0 102.8px,#42f 0 104.2px,#dce 0 105.7px,#baf 0 107.1px,#fdc 0 108.5px,#dce 0 110px,#cbe 0 111.4px,#a8f 0 112.9px,#86f 0 114.3px,#edd 0 115.8px,#caf 0 117.2px,#eee 0 118.7px,#74f 0 120.1px,#a8f 0 121.6px,#dce 0 123px,#52f 0 124.5px,#b8f 0 125.9px,#eee 0 127.4px,#fcc 0 128.8px,#a8f 0 130.3px,#ede 0 131.7px,#eee 0 133.2px,#cbe 0 134.6px,#dde 0 136px,#cae 0 137.5px,#a8f 0 138.9px,#75f 0 140.4px,#dce 0 141.8px,#86f 0 143.3px,#b9f 0 144.7px,#a8f 0 146.2px,#00f 0 147.6px,#b9f 0 149.1px,#fcc 0 150.5px,#b8f 0 152px,#eee 0 153.4px,#a8f 0 154.9px,#f86 0 156.3px,#a7f 0 157.8px,#cbe 0 160.6px,#a8f 0 162.1px,#cbe 0 163.5px,#42f 0 165px,#eee 0 166.4px,#a8f 0 167.9px,#b9f 0 169.3px,#caf 0 170.8px,#fb9 0 172.2px,#b9f 0 173.7px,#fcb 0 175.1px,#a8f 0 176.6px,#fdc 0 178px,#21f 0 179.5px,#85f 0 180.9px,#dde 0 182.4px,#96f 0 183.8px,#dce 0 185.3px,#64f 0 186.7px,#eee 0 188.1px,#53f 0 189.6px,#cbe 0 191px,#caf 0 192.5px,#64f 0 193.9px,#eee 0 195.4px,#dce 0 196.8px,#eee 0 198.3px,#f97 0 199.7px,#fba 0 201.2px,#fcb 0 202.6px,#fa8 0 204.1px,#fba 0 205.5px,#fb9 0 207px,#fba 0 208.4px,#f86 0 209.9px,#dce 0 211.3px,#f97 0 212.8px,#fdc 0 214.2px,#b9f 0 215.6px,#dce 0 217.1px,#eed 0 218.5px,#fba 0 220px,#ede 0 221.4px,#eed 0 222.9px,#fa8 0 224.3px,#eed 0 225.8px,#fcb 0 227.2px,#f98 0 228.7px,#f75 0 230.1px,#dce 0 231.6px,#fa9 0 233px,#fba 0 234.5px,#f98 0 235.9px,#fdc 0 237.4px,#fba 0 238.8px,#f87 0 240.2px,#fba 0 241.7px,#f42 0 243.1px,#f86 0 244.6px,#fba 0 247.5px,#f53 0 248.9px,#fba 0 250.4px,#f00 0 251.8px,#fcb 0 253.3px,#fdc 0 254.7px,#f00 0 256.2px,#f86 0 257.6px,#fdc 0 259.1px,#f43 0 260.5px,#f42 0 262px,#f86 0 263.4px,#f64 0 264.9px,#fba 0 266.3px,#f97 0 267.7px,#f76 0 269.2px,#f53 0 270.6px,#dce 0 272.1px,#fba 0 273.5px,#fdd 0 275px,#eed 0 276.4px,#f86 0 277.9px,#f64 0 279.3px,#f98 0 280.8px,#fa8 0 282.2px,#fdd 0 283.7px,#f42 0 285.1px,#fa9 0 286.6px,#fba 0 288px,#f86 0 289.5px,#fdc 0 290.9px,#eee 0 292.4px,#f97 0 293.8px,#fa8 0 295.2px,#f75 0 296.7px,#f43 0 298.1px,#fcb 0 299.6px,#dde 0 301px,#f75 0 302.5px,#fcb 0 303.9px,#fb9 0 305.4px,#f87 0 306.8px,#eee 0 308.3px,#dbe 0 309.7px,#dce 0 311.2px,#fba 0 312.6px,#eed 0 314.1px,#eee 0 315.5px,#fa8 0 317px,#ede 0 318.4px,#fba 0 319.8px,#edd 0 321.3px,#eee 0 322.7px,#fa8 0 324.2px,#fba 0 325.6px,#fcb 0 327.1px,#fba 0 328.5px,#eee 0 330px,#fb9 0 331.4px,#cae 0 332.9px,#fdc 0 334.3px,#fa9 0 337.2px,#fcb 0 338.7px,#f53 0 340.1px,#dbe 0 341.6px,#f97 0 343px,#dbe 0 344.5px,#fcb 0 345.9px,#dce 0 347.3px,#ede 0 348.8px,#f75 0 350.2px,#fdd 0 351.7px,#f75 0 353.1px,#cae 0 354.6px,#edd 0 356px,#cbe 0 357.5px,#fcb 0 358.9px,#fdc 0 360.4px,#cbe 0 361.8px,#a7f 0 363.3px,#ede 0 364.7px,#f42 0 366.2px,#fba 0 367.6px,#f98 0 369.1px,#edd 0 370.5px,#eee 0 372px,#f97 0 373.4px,#dce 0 374.8px,#fcb 0 376.3px,#f75 0 377.7px,#fa8 0 379.2px,#f75 0 380.6px,#fa9 0 382.1px,#dde 0 383.5px,#f97 0 385px,#eee 0 386.4px,#fa8 0 387.9px,#fba 0 390.8px,#f98 0 392.2px,#fcc 0 393.7px,#f86 0 395.1px,#f53 0 396.6px,#fcc 0 398px,#f86 0 399.5px,#fcc 0 400.9px,#dbe 0 402.3px,#f98 0 403.8px,#cae 0 405.2px,#fcb 0 406.7px,#eee 0 408.1px,#fa8 0 409.6px,#fdc 0 411px,#f75 0 412.5px,#f64 0 413.9px,#eee 0 415.4px,#fba 0 416.8px,#fcb 0 418.3px,#f98 0 419.7px,#dce 0 421.2px,#f42 0 422.6px,#f75 0 424.1px,#f86 0 425.5px,#fa9 0 426.9px,#fcb 0 428.4px,#fba 0 429.8px,#dce 0 431.3px,#fa9 0 432.7px,#fa8 0 434.2px,#f87 0 435.6px,#fa8 0 437.1px,#fa9 0 438.5px,#dce 0 440px,#eee 0 441.4px,#f98 0 442.9px,#fa9 0 444.3px,#fba 0 445.8px,#fcb 0 447.2px,#dde 0 448.7px,#f98 0 450.1px,#f87 0 451.6px,#a7f 0 453px)"></div>
<div class="hr" style="top:114.58px;background:linear-gradient(90deg,#a8f 0 1.4px,#86f 0 2.9px,#dce 0 4.3px,#85f 0 5.8px,#96f 0 8.7px,#a8f 0 10.1px,#cbe 0 11.6px,#dce 0 13px,#a8f 0 14.5px,#dce 0 17.4px,#86f 0 18.8px,#cbe 0 20.3px,#cae 0 21.7px,#dde 0 23.2px,#53f 0 24.6px,#caf 0 26.1px,#85f 0 27.5px,#74f 0 28.9px,#fcb 0 30.4px,#baf 0 31.8px,#cae 0 33.3px,#baf 0 34.7px,#dce 0 36.2px,#dbe 0 37.6px,#75f 0 39.1px,#fcb 0 40.5px,#dde 0 42px,#86f 0 43.4px,#64f 0 44.9px,#85f 0 46.3px,#97f 0 47.8px,#cbe 0 49.2px,#dde 0 50.7px,#baf 0 52.1px,#a8f 0 53.5px,#eee 0 55px,#96f 0 56.4px,#b8f 0 57.9px,#cae 0 59.3px,#64f 0 60.8px,#b8f 0 62.2px,#cae 0 63.7px,#eee 0 65.1px,#53f 0 66.6px,#b9f 0 68px,#a8f 0 69.5px,#b8f 0 70.9px,#eee 0 72.4px,#cbe 0 73.8px,#dce 0 75.3px,#dde 0 76.7px,#b8f 0 78.2px,#97f 0 79.6px,#fdc 0 81px,#a8f 0 82.5px,#edd 0 83.9px,#fcb 0 85.4px,#96f 0 86.8px,#b9f 0 89.7px,#a7f 0 91.2px,#b9f 0 92.6px,#97f 0 94.1px,#dbe 0 95.5px,#fdc 0 97px,#dbe 0 98.4px,#85f 0 99.9px,#64f 0 101.3px,#fdd 0 102.8px,#00f 0 104.2px,#97f 0 105.7px,#cbe 0 107.1px,#b8f 0 108.5px,#dde 0 110px,#dce 0 111.4px,#96f 0 112.9px,#baf 0 114.3px,#cae 0 117.2px,#b9f 0 118.7px,#cbe 0 120.1px,#ede 0 121.6px,#cbe 0 124.5px,#dce 0 125.9px,#86f 0 127.4px,#ede 0 128.8px,#dde 0 130.3px,#86f 0 131.7px,#fdd 0 133.2px,#b9f 0 134.6px,#ede 0 136px,#a8f 0 137.5px,#dce 0 138.9px,#a8f 0 140.4px,#cae 0 141.8px,#97f 0 143.3px,#00f 0 144.7px,#ede 0 146.2px,#85f 0 147.6px,#74f 0 149.1px,#dce 0 150.5px,#96f 0 152px,#fdc 0 153.4px,#a8f 0 154.9px,#fba 0 156.3px,#a7f 0 157.8px,#fcc 0 159.2px,#ede 0 160.6px,#fcb 0 162.1px,#85f 0 163.5px,#dce 0 165px,#ede 0 166.4px,#baf 0 167.9px,#dde 0 169.3px,#74f 0 170.8px,#edd 0 172.2px,#a8f 0 173.7px,#97f 0 175.1px,#a7f 0 176.6px,#dde 0 178px,#32f 0 179.5px,#b8f 0 180.9px,#dde 0 182.4px,#42f 0 183.8px,#cbe 0 185.3px,#97f 0 186.7px,#dce 0 188.1px,#97f 0 189.6px,#edd 0 191px,#ede 0 192.5px,#b9f 0 193.9px,#dde 0 195.4px,#f98 0 196.8px,#f87 0 198.3px,#eee 0 199.7px,#fdd 0 201.2px,#fbb 0 202.6px,#fcc 0 204.1px,#fdc 0 205.5px,#fcc 0 207px,#dce 0 208.4px,#eee 0 209.9px,#b9f 0 211.3px,#fba 0 212.8px,#cae 0 214.2px,#f53 0 215.6px,#f97 0 217.1px,#fba 0 218.5px,#fcc 0 220px,#fba 0 221.4px,#fdd 0 222.9px,#fb9 0 225.8px,#cbe 0 227.2px,#fdc 0 228.7px,#fa9 0 230.1px,#dce 0 231.6px,#cbe 0 233px,#fa9 0 234.5px,#f64 0 235.9px,#dbe 0 237.4px,#f64 0 238.8px,#f86 0 240.2px,#eee 0 241.7px,#fa8 0 243.1px,#fa9 0 244.6px,#f75 0 246px,#fcb 0 247.5px,#fba 0 248.9px,#fa8 0 250.4px,#ede 0 251.8px,#fba 0 253.3px,#f97 0 254.7px,#f64 0 256.2px,#f97 0 257.6px,#fcb 0 259.1px,#f21 0 260.5px,#f75 0 262px,#fdc 0 263.4px,#f98 0 264.9px,#fba 0 266.3px,#f75 0 267.7px,#f64 0 269.2px,#f75 0 270.6px,#fba 0 272.1px,#fcb 0 275px,#fa9 0 276.4px,#f86 0 277.9px,#f98 0 279.3px,#fdd 0 280.8px,#f86 0 282.2px,#fdc 0 283.7px,#fa8 0 285.1px,#f98 0 286.6px,#f86 0 288px,#fcc 0 289.5px,#fa8 0 290.9px,#f65 0 292.4px,#fa9 0 293.8px,#f76 0 295.2px,#f86 0 296.7px,#fa9 0 298.1px,#eee 0 299.6px,#cbe 0 301px,#f97 0 302.5px,#fdd 0 303.9px,#fa9 0 305.4px,#f86 0 306.8px,#75f 0 308.3px,#eee 0 309.7px,#b8f 0 311.2px,#fba 0 312.6px,#eee 0 314.1px,#fba 0 315.5px,#fa8 0 317px,#b9f 0 318.4px,#fba 0 319.8px,#edd 0 321.3px,#b8f 0 322.7px,#f97 0 324.2px,#fba 0 325.6px,#fcb 0 327.1px,#ede 0 328.5px,#f42 0 330px,#eee 0 331.4px,#cae 0 332.9px,#fdd 0 334.3px,#eed 0 335.8px,#fcb 0 337.2px,#fba 0 338.7px,#fa9 0 340.1px,#fdc 0 341.6px,#fba 0 343px,#ede 0 344.5px,#edd 0 345.9px,#dde 0 347.3px,#eee 0 348.8px,#f97 0 350.2px,#fcc 0 351.7px,#fba 0 353.1px,#dde 0 354.6px,#f31 0 356px,#fdc 0 357.5px,#eee 0 358.9px,#fba 0 360.4px,#cae 0 361.8px,#cbe 0 363.3px,#fcb 0 364.7px,#fa9 0 366.2px,#fa8 0 367.6px,#fba 0 369.1px,#fa9 0 370.5px,#fa8 0 372px,#fb9 0 373.4px,#f98 0 374.8px,#eee 0 376.3px,#fba 0 377.7px,#f86 0 379.2px,#fa9 0 380.6px,#f98 0 382.1px,#fdc 0 383.5px,#f97 0 385px,#fa8 0 386.4px,#edd 0 389.3px,#fcb 0 390.8px,#fcc 0 392.2px,#eee 0 393.7px,#fba 0 395.1px,#f75 0 396.6px,#f86 0 398px,#f53 0 399.5px,#f76 0 400.9px,#b9f 0 402.3px,#f75 0 403.8px,#cbe 0 405.2px,#fba 0 406.7px,#f97 0 408.1px,#eee 0 409.6px,#fa8 0 411px,#f87 0 412.5px,#fba 0 413.9px,#cae 0 415.4px,#f75 0 416.8px,#edd 0 418.3px,#fa8 0 419.7px,#fcb 0 422.6px,#fba 0 424.1px,#fa9 0 425.5px,#fdc 0 426.9px,#eee 0 428.4px,#fb9 0 429.8px,#dce 0 432.7px,#fcc 0 434.2px,#f75 0 435.6px,#fdd 0 437.1px,#eed 0 438.5px,#f97 0 440px,#f98 0 441.4px,#fcb 0 442.9px,#edd 0 444.3px,#fa9 0 445.8px,#ede 0 447.2px,#eee 0 448.7px,#fcc 0 450.1px,#f87 0 451.6px,#75f 0 453px)"></div>
<div class="hr" style="top:122.34px;background:linear-gradient(90deg,#21f 0 1.4px,#85f 0 2.9px,#cae 0 4.3px,#85f 0 5.8px,#32f 0 7.2px,#a7f 0 8.7px,#cae 0 11.6px,#96f 0 13px,#a8f 0 14.5px,#dde 0 15.9px,#b9f 0 17.4px,#caf 0 18.8px,#86f 0 20.3px,#97f 0 21.7px,#a7f 0 23.2px,#86f 0 24.6px,#96f 0 26.1px,#53f 0 27.5px,#a8f 0 28.9px,#cbe 0 30.4px,#cae 0 31.8px,#97f 0 33.3px,#cbe 0 34.7px,#97f 0 36.2px,#86f 0 37.6px,#00f 0 39.1px,#fcb 0 40.5px,#cbe 0 42px,#97f 0 43.4px,#21f 0 44.9px,#a7f 0 46.3px,#85f 0 47.8px,#dbe 0 49.2px,#97f 0 50.7px,#a7f 0 52.1px,#a8f 0 53.5px,#cbe 0 55px,#a8f 0 56.4px,#cbe 0 57.9px,#edd 0 59.3px,#a8f 0 60.8px,#74f 0 62.2px,#64f 0 63.7px,#dde 0 65.1px,#a8f 0 66.6px,#cae 0 68px,#dce 0 69.5px,#a7f 0 70.9px,#fba 0 72.4px,#dce 0 73.8px,#53f 0 75.3px,#a7f 0 76.7px,#96f 0 78.2px,#64f 0 79.6px,#cbe 0 82.5px,#fcc 0 83.9px,#dce 0 85.4px,#97f 0 86.8px,#96f 0 88.3px,#cbe 0 91.2px,#cae 0 92.6px,#caf 0 94.1px,#cae 0 95.5px,#dce 0 97px,#eee 0 98.4px,#97f 0 99.9px,#96f 0 101.3px,#baf 0 104.2px,#dde 0 105.7px,#eee 0 107.1px,#b9f 0 110px,#cbe 0 111.4px,#85f 0 112.9px,#97f 0 114.3px,#a8f 0 115.8px,#eee 0 117.2px,#dce 0 120.1px,#cae 0 121.6px,#a8f 0 123px,#96f 0 124.5px,#dbe 0 125.9px,#97f 0 127.4px,#fdc 0 128.8px,#caf 0 130.3px,#a7f 0 131.7px,#edd 0 133.2px,#b9f 0 134.6px,#eee 0 136px,#b9f 0 137.5px,#75f 0 138.9px,#b8f 0 140.4px,#97f 0 141.8px,#b9f 0 143.3px,#00f 0 144.7px,#64f 0 146.2px,#b9f 0 147.6px,#dce 0 149.1px,#fdc 0 150.5px,#75f 0 152px,#fcb 0 153.4px,#96f 0 154.9px,#fdc 0 156.3px,#a7f 0 157.8px,#b9f 0 159.2px,#eee 0 160.6px,#baf 0 162.1px,#b9f 0 163.5px,#dce 0 165px,#cbe 0 166.4px,#75f 0 167.9px,#caf 0 169.3px,#97f 0 170.8px,#fa8 0 172.2px,#85f 0 173.7px,#dde 0 175.1px,#cbe 0 176.6px,#fdd 0 178px,#31f 0 179.5px,#a8f 0 180.9px,#caf 0 182.4px,#a7f 0 183.8px,#dce 0 185.3px,#b9f 0 186.7px,#cbe 0 188.1px,#dde 0 189.6px,#86f 0 191px,#a8f 0 192.5px,#b8f 0 193.9px,#b9f 0 195.4px,#fcc 0 196.8px,#dce 0 198.3px,#fdc 0 199.7px,#dde 0 201.2px,#dce 0 202.6px,#fa9 0 204.1px,#eee 0 205.5px,#edd 0 207px,#f97 0 208.4px,#eed 0 209.9px,#cae 0 211.3px,#f86 0 212.8px,#fba 0 214.2px,#f86 0 217.1px,#dce 0 218.5px,#fa9 0 220px,#fba 0 221.4px,#dce 0 222.9px,#fcc 0 224.3px,#a7f 0 225.8px,#dce 0 227.2px,#f98 0 228.7px,#fdd 0 230.1px,#eee 0 231.6px,#edd 0 233px,#fa8 0 234.5px,#f42 0 235.9px,#cae 0 237.4px,#fa9 0 238.8px,#f98 0 240.2px,#cbe 0 241.7px,#f87 0 243.1px,#f53 0 244.6px,#f64 0 246px,#fa8 0 247.5px,#ede 0 248.9px,#fb9 0 250.4px,#f97 0 251.8px,#fcb 0 254.7px,#f00 0 256.2px,#fba 0 257.6px,#dde 0 259.1px,#f42 0 260.5px,#f76 0 262px,#fba 0 263.4px,#f97 0 266.3px,#fa8 0 267.7px,#fdc 0 269.2px,#f86 0 272.1px,#fba 0 273.5px,#f97 0 275px,#fba 0 277.9px,#f86 0 279.3px,#f64 0 282.2px,#edd 0 283.7px,#f75 0 285.1px,#fba 0 286.6px,#dce 0 288px,#fba 0 289.5px,#fdc 0 290.9px,#f86 0 292.4px,#fa9 0 293.8px,#f97 0 296.7px,#f75 0 298.1px,#fba 0 299.6px,#ede 0 301px,#f86 0 302.5px,#cae 0 303.9px,#fdd 0 305.4px,#f64 0 306.8px,#fa9 0 308.3px,#ede 0 311.2px,#eee 0 312.6px,#fba 0 314.1px,#f98 0 315.5px,#cbe 0 317px,#fdc 0 318.4px,#fa9 0 319.8px,#fcb 0 321.3px,#cae 0 322.7px,#f97 0 324.2px,#ede 0 325.6px,#f75 0 327.1px,#fdc 0 328.5px,#dde 0 330px,#fa9 0 332.9px,#fcc 0 334.3px,#f75 0 335.8px,#fdc 0 337.2px,#fa8 0 338.7px,#f32 0 340.1px,#a8f 0 341.6px,#f75 0 343px,#fcb 0 344.5px,#fba 0 345.9px,#cbe 0 347.3px,#dde 0 348.8px,#fcc 0 350.2px,#eed 0 351.7px,#fcb 0 353.1px,#b9f 0 354.6px,#f53 0 356px,#eee 0 357.5px,#cae 0 358.9px,#edd 0 360.4px,#dde 0 361.8px,#dce 0 363.3px,#fa9 0 364.7px,#f98 0 366.2px,#fcb 0 367.6px,#edd 0 369.1px,#fba 0 370.5px,#f75 0 372px,#fcb 0 373.4px,#a7f 0 374.8px,#f64 0 376.3px,#f97 0 379.2px,#f98 0 380.6px,#fcb 0 382.1px,#dce 0 383.5px,#fba 0 385px,#fdd 0 386.4px,#eee 0 387.9px,#cae 0 389.3px,#fcb 0 390.8px,#fa8 0 392.2px,#dde 0 393.7px,#f86 0 395.1px,#edd 0 396.6px,#fdc 0 398px,#fa9 0 399.5px,#edd 0 400.9px,#97f 0 402.3px,#fa8 0 403.8px,#cae 0 405.2px,#fa8 0 406.7px,#eee 0 408.1px,#fa9 0 409.6px,#fcc 0 412.5px,#fba 0 413.9px,#dce 0 415.4px,#f64 0 416.8px,#edd 0 418.3px,#fdc 0 421.2px,#f53 0 422.6px,#f76 0 424.1px,#f75 0 425.5px,#f97 0 426.9px,#f98 0 428.4px,#f97 0 429.8px,#ede 0 431.3px,#fba 0 434.2px,#f00 0 435.6px,#fa9 0 437.1px,#fcb 0 438.5px,#edd 0 440px,#fcc 0 441.4px,#f76 0 442.9px,#fdc 0 444.3px,#dce 0 445.8px,#fba 0 447.2px,#cae 0 448.7px,#fba 0 450.1px,#f98 0 451.6px,#fdd 0 453px)"></div>
<div class="hr" style="top:130.1px;background:linear-gradient(90deg,#dde 0 1.4px,#cae 0 2.9px,#96f 0 4.3px,#53f 0 5.8px,#85f 0 7.2px,#96f 0 8.7px,#42f 0 10.1px,#dbe 0 11.6px,#a7f 0 13px,#b9f 0 17.4px,#97f 0 18.8px,#85f 0 20.3px,#63f 0 21.7px,#cae 0 24.6px,#a8f 0 26.1px,#85f 0 27.5px,#53f 0 28.9px,#eee 0 30.4px,#96f 0 31.8px,#ede 0 33.3px,#baf 0 34.7px,#96f 0 36.2px,#cbe 0 37.6px,#63f 0 39.1px,#ede 0 40.5px,#cae 0 42px,#b9f 0 43.4px,#74f 0 44.9px,#b9f 0 46.3px,#86f 0 47.8px,#a7f 0 49.2px,#b9f 0 50.7px,#a8f 0 52.1px,#97f 0 53.5px,#b9f 0 55px,#a8f 0 56.4px,#dce 0 57.9px,#74f 0 59.3px,#baf 0 60.8px,#00f 0 62.2px,#96f 0 63.7px,#cbe 0 65.1px,#00f 0 66.6px,#86f 0 68px,#caf 0 69.5px,#a8f 0 70.9px,#ede 0 72.4px,#b9f 0 73.8px,#dde 0 75.3px,#b9f 0 76.7px,#a8f 0 78.2px,#eee 0 79.6px,#dce 0 81px,#a8f 0 82.5px,#eee 0 83.9px,#dde 0 85.4px,#baf 0 86.8px,#cae 0 88.3px,#86f 0 89.7px,#dce 0 91.2px,#dde 0 92.6px,#85f 0 94.1px,#97f 0 95.5px,#fa8 0 97px,#cbe 0 98.4px,#97f 0 99.9px,#baf 0 101.3px,#dbe 0 102.8px,#00f 0 104.2px,#cae 0 105.7px,#dce 0 107.1px,#edd 0 108.5px,#fdc 0 110px,#cae 0 111.4px,#cbe 0 112.9px,#eee 0 114.3px,#dce 0 115.8px,#eee 0 118.7px,#dde 0 120.1px,#edd 0 121.6px,#dce 0 123px,#85f 0 124.5px,#ede 0 125.9px,#caf 0 127.4px,#eee 0 128.8px,#dce 0 130.3px,#eee 0 131.7px,#dde 0 133.2px,#a7f 0 134.6px,#eee 0 136px,#dce 0 137.5px,#b9f 0 138.9px,#96f 0 140.4px,#caf 0 141.8px,#75f 0 143.3px,#97f 0 144.7px,#dce 0 146.2px,#eee 0 149.1px,#fba 0 150.5px,#dce 0 152px,#fba 0 153.4px,#baf 0 154.9px,#fa9 0 156.3px,#cbe 0 157.8px,#baf 0 159.2px,#cbe 0 160.6px,#cae 0 162.1px,#a7f 0 163.5px,#97f 0 165px,#fba 0 166.4px,#a8f 0 167.9px,#dbe 0 169.3px,#baf 0 170.8px,#f97 0 172.2px,#b9f 0 173.7px,#cae 0 175.1px,#75f 0 176.6px,#b9f 0 178px,#00f 0 179.5px,#dde 0 180.9px,#96f 0 182.4px,#a7f 0 183.8px,#fcb 0 185.3px,#86f 0 186.7px,#fcb 0 188.1px,#eee 0 189.6px,#fdd 0 191px,#fba 0 192.5px,#b9f 0 193.9px,#dbe 0 195.4px,#fdc 0 196.8px,#eed 0 198.3px,#dce 0 201.2px,#f97 0 202.6px,#fcb 0 204.1px,#eed 0 205.5px,#eee 0 207px,#eed 0 208.4px,#eee 0 209.9px,#dce 0 211.3px,#fdd 0 212.8px,#dce 0 214.2px,#fcc 0 215.6px,#fcb 0 217.1px,#f97 0 218.5px,#fb9 0 220px,#f97 0 221.4px,#ede 0 222.9px,#edd 0 224.3px,#dce 0 225.8px,#ede 0 227.2px,#b9f 0 228.7px,#fa8 0 230.1px,#f98 0 231.6px,#fdd 0 233px,#f87 0 234.5px,#fa9 0 235.9px,#dbe 0 237.4px,#fcb 0 238.8px,#fcc 0 240.2px,#fa9 0 241.7px,#f21 0 243.1px,#fcb 0 244.6px,#fa9 0 246px,#fba 0 247.5px,#fa8 0 248.9px,#edd 0 250.4px,#fa8 0 251.8px,#fb9 0 253.3px,#fba 0 254.7px,#fa9 0 256.2px,#fba 0 257.6px,#cbe 0 259.1px,#f10 0 260.5px,#fa8 0 262px,#fba 0 263.4px,#fa8 0 264.9px,#fcb 0 266.3px,#fdc 0 267.7px,#eee 0 269.2px,#f21 0 270.6px,#f97 0 272.1px,#f98 0 273.5px,#f65 0 275px,#edd 0 276.4px,#f86 0 277.9px,#f97 0 279.3px,#f87 0 280.8px,#f97 0 282.2px,#fcc 0 283.7px,#fa9 0 285.1px,#f97 0 286.6px,#f98 0 288px,#cbe 0 289.5px,#eee 0 290.9px,#fb9 0 292.4px,#fba 0 293.8px,#eee 0 295.2px,#f64 0 296.7px,#fb9 0 298.1px,#eee 0 299.6px,#dce 0 301px,#eee 0 303.9px,#dce 0 305.4px,#fcb 0 306.8px,#dde 0 309.7px,#eee 0 311.2px,#fcb 0 312.6px,#f64 0 314.1px,#fa9 0 315.5px,#dce 0 318.4px,#fdd 0 319.8px,#edd 0 321.3px,#dce 0 322.7px,#fcc 0 324.2px,#f75 0 325.6px,#fa9 0 327.1px,#eee 0 328.5px,#fdd 0 330px,#eed 0 331.4px,#fa8 0 334.3px,#fa9 0 335.8px,#b9f 0 337.2px,#fa8 0 338.7px,#f42 0 340.1px,#f98 0 341.6px,#fa8 0 343px,#dce 0 344.5px,#fa8 0 345.9px,#dde 0 347.3px,#97f 0 348.8px,#fba 0 350.2px,#f97 0 351.7px,#f86 0 353.1px,#eed 0 354.6px,#fcb 0 356px,#f53 0 357.5px,#b9f 0 358.9px,#fdc 0 360.4px,#b9f 0 361.8px,#eee 0 363.3px,#fba 0 364.7px,#f65 0 366.2px,#fba 0 367.6px,#edd 0 369.1px,#fdc 0 370.5px,#eed 0 372px,#f97 0 373.4px,#fdc 0 374.8px,#fcc 0 376.3px,#fba 0 377.7px,#f97 0 379.2px,#f64 0 380.6px,#fa8 0 382.1px,#fdd 0 383.5px,#fcb 0 385px,#dce 0 386.4px,#eee 0 387.9px,#edd 0 389.3px,#fcb 0 390.8px,#fba 0 392.2px,#fcb 0 393.7px,#f75 0 395.1px,#f86 0 396.6px,#fb9 0 398px,#f98 0 399.5px,#fb9 0 400.9px,#dde 0 402.3px,#ede 0 403.8px,#fcb 0 405.2px,#eee 0 406.7px,#fba 0 408.1px,#fcb 0 409.6px,#f97 0 412.5px,#fdc 0 413.9px,#fcc 0 415.4px,#f86 0 416.8px,#fcb 0 421.2px,#f64 0 422.6px,#f97 0 424.1px,#edd 0 425.5px,#fba 0 428.4px,#f64 0 429.8px,#eee 0 431.3px,#fcb 0 432.7px,#f86 0 434.2px,#f97 0 435.6px,#fa9 0 437.1px,#fba 0 438.5px,#dce 0 440px,#fa9 0 441.4px,#f75 0 442.9px,#fba 0 444.3px,#eee 0 445.8px,#fba 0 447.2px,#fa9 0 448.7px,#fdc 0 450.1px,#fcb 0 451.6px,#ede 0 453px)"></div>
<div class="hr" style="top:137.85px;background:linear-gradient(90deg,#75f 0 1.4px,#63f 0 2.9px,#a7f 0 4.3px,#86f 0 5.8px,#a8f 0 7.2px,#86f 0 8.7px,#cae 0 10.1px,#cbe 0 11.6px,#97f 0 14.5px,#dce 0 15.9px,#dde 0 17.4px,#dce 0 18.8px,#baf 0 20.3px,#00f 0 21.7px,#a8f 0 23.2px,#96f 0 24.6px,#b9f 0 26.1px,#00f 0 27.5px,#cbe 0 28.9px,#dbe 0 30.4px,#a7f 0 31.8px,#dce 0 33.3px,#b9f 0 34.7px,#a8f 0 36.2px,#cbe 0 37.6px,#63f 0 39.1px,#b9f 0 40.5px,#a8f 0 42px,#b9f 0 43.4px,#64f 0 44.9px,#dce 0 46.3px,#75f 0 47.8px,#ede 0 49.2px,#eee 0 50.7px,#cae 0 53.5px,#edd 0 55px,#a8f 0 56.4px,#96f 0 57.9px,#cae 0 59.3px,#fdc 0 60.8px,#63f 0 62.2px,#dce 0 65.1px,#97f 0 66.6px,#cae 0 68px,#b9f 0 69.5px,#dce 0 70.9px,#fdc 0 72.4px,#b9f 0 73.8px,#dce 0 75.3px,#97f 0 76.7px,#dde 0 78.2px,#cae 0 79.6px,#edd 0 81px,#cbe 0 82.5px,#eee 0 83.9px,#dde 0 85.4px,#dce 0 88.3px,#fdc 0 89.7px,#b8f 0 91.2px,#fcc 0 92.6px,#cae 0 95.5px,#edd 0 97px,#eee 0 98.4px,#64f 0 99.9px,#85f 0 101.3px,#eee 0 102.8px,#32f 0 104.2px,#eee 0 105.7px,#b9f 0 107.1px,#eee 0 108.5px,#dce 0 110px,#cbe 0 111.4px,#b9f 0 114.3px,#dde 0 117.2px,#ede 0 118.7px,#edd 0 120.1px,#dbe 0 121.6px,#baf 0 123px,#64f 0 124.5px,#dce 0 128.8px,#eee 0 131.7px,#dce 0 133.2px,#ede 0 134.6px,#eee 0 136px,#86f 0 137.5px,#cbe 0 138.9px,#a7f 0 140.4px,#dde 0 141.8px,#85f 0 143.3px,#86f 0 144.7px,#a8f 0 146.2px,#b9f 0 147.6px,#dbe 0 149.1px,#fba 0 150.5px,#dce 0 152px,#edd 0 153.4px,#dce 0 154.9px,#fcb 0 156.3px,#cbe 0 157.8px,#edd 0 159.2px,#85f 0 160.6px,#dce 0 162.1px,#cae 0 163.5px,#eee 0 165px,#dde 0 166.4px,#cae 0 167.9px,#eee 0 169.3px,#a8f 0 170.8px,#dce 0 172.2px,#cbe 0 173.7px,#a8f 0 175.1px,#dce 0 176.6px,#ede 0 178px,#dce 0 179.5px,#baf 0 182.4px,#86f 0 183.8px,#caf 0 185.3px,#b9f 0 186.7px,#fcb 0 188.1px,#b9f 0 189.6px,#fdc 0 191px,#b9f 0 193.9px,#f97 0 195.4px,#cae 0 196.8px,#fa8 0 198.3px,#fa9 0 199.7px,#cae 0 202.6px,#fdd 0 204.1px,#fba 0 205.5px,#eed 0 207px,#eee 0 208.4px,#fcb 0 209.9px,#eee 0 211.3px,#fa9 0 212.8px,#edd 0 214.2px,#f87 0 215.6px,#eee 0 217.1px,#fa8 0 218.5px,#eee 0 220px,#dde 0 221.4px,#eee 0 222.9px,#fcb 0 224.3px,#cae 0 225.8px,#eee 0 227.2px,#cbe 0 228.7px,#fcb 0 230.1px,#fba 0 231.6px,#dce 0 233px,#fb9 0 235.9px,#f87 0 237.4px,#fba 0 238.8px,#eee 0 240.2px,#dce 0 241.7px,#fba 0 243.1px,#fa9 0 246px,#f97 0 248.9px,#fb9 0 250.4px,#f98 0 251.8px,#fcb 0 253.3px,#fba 0 254.7px,#f64 0 256.2px,#f97 0 257.6px,#eee 0 259.1px,#fba 0 260.5px,#fa8 0 262px,#fa9 0 263.4px,#dde 0 264.9px,#fcb 0 266.3px,#fa8 0 267.7px,#fcb 0 269.2px,#fbb 0 270.6px,#f53 0 272.1px,#f75 0 273.5px,#fcc 0 275px,#fa9 0 276.4px,#f64 0 277.9px,#fcc 0 279.3px,#f43 0 280.8px,#fdc 0 282.2px,#eee 0 283.7px,#fdc 0 285.1px,#fa8 0 286.6px,#dde 0 288px,#fcc 0 289.5px,#fba 0 290.9px,#fa8 0 292.4px,#fba 0 293.8px,#f64 0 295.2px,#fb9 0 296.7px,#f75 0 298.1px,#eee 0 301px,#fa9 0 302.5px,#fdc 0 303.9px,#fcb 0 306.8px,#dce 0 308.3px,#eee 0 309.7px,#ede 0 311.2px,#eee 0 312.6px,#eed 0 314.1px,#edd 0 315.5px,#fdd 0 317px,#edd 0 318.4px,#fcb 0 319.8px,#ede 0 321.3px,#eee 0 324.2px,#b9f 0 325.6px,#fba 0 327.1px,#cae 0 328.5px,#dde 0 330px,#dce 0 331.4px,#fcb 0 332.9px,#eee 0 334.3px,#fcb 0 337.2px,#eee 0 338.7px,#fcb 0 340.1px,#fdc 0 341.6px,#f98 0 343px,#fa9 0 344.5px,#f75 0 345.9px,#edd 0 347.3px,#dde 0 348.8px,#fba 0 350.2px,#fcb 0 351.7px,#fcc 0 353.1px,#cae 0 354.6px,#f43 0 356px,#dce 0 357.5px,#ede 0 358.9px,#fcb 0 360.4px,#eee 0 361.8px,#a8f 0 363.3px,#fdc 0 364.7px,#fb9 0 366.2px,#eee 0 367.6px,#eed 0 369.1px,#eee 0 370.5px,#fba 0 372px,#fa8 0 373.4px,#cae 0 374.8px,#fba 0 376.3px,#fdd 0 377.7px,#f98 0 379.2px,#fb9 0 380.6px,#fba 0 382.1px,#dce 0 383.5px,#fdc 0 385px,#ede 0 386.4px,#fdc 0 387.9px,#fcb 0 389.3px,#f98 0 390.8px,#fdc 0 392.2px,#eed 0 393.7px,#fdc 0 395.1px,#ede 0 396.6px,#eee 0 398px,#fcb 0 399.5px,#ede 0 400.9px,#97f 0 402.3px,#fa9 0 403.8px,#cbe 0 405.2px,#dce 0 406.7px,#f86 0 408.1px,#fcb 0 409.6px,#fdc 0 411px,#f86 0 412.5px,#fdd 0 413.9px,#fba 0 415.4px,#fdc 0 416.8px,#dce 0 418.3px,#fdc 0 419.7px,#cbe 0 421.2px,#f54 0 422.6px,#eee 0 424.1px,#fcb 0 425.5px,#fa9 0 428.4px,#f97 0 429.8px,#ede 0 431.3px,#f75 0 432.7px,#fdc 0 434.2px,#f97 0 437.1px,#fdc 0 438.5px,#edd 0 440px,#eee 0 441.4px,#fba 0 442.9px,#eed 0 444.3px,#fdc 0 445.8px,#dce 0 447.2px,#fdc 0 448.7px,#dce 0 450.1px,#f53 0 451.6px,#fcb 0 453px)"></div>
<div class="hr" style="top:145.61px;background:linear-gradient(90deg,#dde 0 1.4px,#b9f 0 2.9px,#a8f 0 4.3px,#dce 0 5.8px,#b9f 0 7.2px,#baf 0 8.7px,#a8f 0 10.1px,#edd 0 11.6px,#97f 0 13px,#b9f 0 14.5px,#86f 0 15.9px,#b8f 0 17.4px,#cbe 0 18.8px,#97f 0 20.3px,#b8f 0 21.7px,#ede 0 23.2px,#a7f 0 24.6px,#dde 0 26.1px,#00f 0 27.5px,#b9f 0 28.9px,#dce 0 30.4px,#85f 0 31.8px,#a8f 0 33.3px,#dde 0 34.7px,#a7f 0 36.2px,#a8f 0 39.1px,#dce 0 40.5px,#cbe 0 42px,#a8f 0 44.9px,#dce 0 46.3px,#b9f 0 47.8px,#42f 0 49.2px,#eee 0 50.7px,#dde 0 52.1px,#a7f 0 53.5px,#fdc 0 55px,#74f 0 56.4px,#fdd 0 57.9px,#b9f 0 59.3px,#edd 0 60.8px,#a8f 0 62.2px,#97f 0 63.7px,#dde 0 65.1px,#b9f 0 66.6px,#ede 0 69.5px,#97f 0 70.9px,#edd 0 72.4px,#eee 0 73.8px,#a8f 0 76.7px,#b9f 0 78.2px,#dce 0 79.6px,#eee 0 81px,#a8f 0 83.9px,#fcc 0 85.4px,#85f 0 86.8px,#cbe 0 88.3px,#a7f 0 89.7px,#86f 0 91.2px,#dde 0 92.6px,#b9f 0 94.1px,#eee 0 95.5px,#f75 0 97px,#dce 0 98.4px,#cbe 0 99.9px,#dce 0 101.3px,#cae 0 102.8px,#75f 0 104.2px,#eee 0 105.7px,#b9f 0 107.1px,#dde 0 108.5px,#cbe 0 110px,#baf 0 111.4px,#b8f 0 112.9px,#dce 0 114.3px,#fcb 0 115.8px,#b9f 0 117.2px,#96f 0 118.7px,#dbe 0 120.1px,#96f 0 121.6px,#b9f 0 123px,#dce 0 124.5px,#fba 0 125.9px,#cbe 0 127.4px,#baf 0 128.8px,#eee 0 130.3px,#74f 0 131.7px,#cae 0 133.2px,#eed 0 134.6px,#edd 0 136px,#97f 0 137.5px,#a7f 0 138.9px,#cbe 0 140.4px,#dbe 0 141.8px,#97f 0 143.3px,#b9f 0 146.2px,#74f 0 147.6px,#eee 0 149.1px,#dde 0 150.5px,#97f 0 152px,#cae 0 153.4px,#dce 0 154.9px,#eee 0 156.3px,#dde 0 157.8px,#cae 0 159.2px,#fdd 0 160.6px,#cbe 0 162.1px,#a8f 0 163.5px,#86f 0 165px,#dce 0 167.9px,#f97 0 169.3px,#96f 0 170.8px,#eee 0 172.2px,#dde 0 175.1px,#b8f 0 176.6px,#fdd 0 178px,#63f 0 179.5px,#b9f 0 180.9px,#eed 0 182.4px,#dce 0 185.3px,#a8f 0 186.7px,#eee 0 188.1px,#ede 0 189.6px,#eee 0 191px,#baf 0 192.5px,#cae 0 193.9px,#fcb 0 195.4px,#dce 0 196.8px,#dbe 0 198.3px,#fcc 0 201.2px,#fcb 0 202.6px,#fba 0 204.1px,#dde 0 205.5px,#eee 0 207px,#cbe 0 208.4px,#dce 0 211.3px,#fcc 0 212.8px,#fb9 0 214.2px,#ede 0 215.6px,#fdd 0 217.1px,#dce 0 218.5px,#fa9 0 220px,#fdd 0 221.4px,#cbe 0 222.9px,#fbb 0 224.3px,#fdd 0 225.8px,#dce 0 227.2px,#fa9 0 228.7px,#f97 0 230.1px,#fa8 0 231.6px,#fba 0 233px,#fa9 0 235.9px,#dce 0 237.4px,#fa9 0 238.8px,#fcb 0 241.7px,#fa9 0 243.1px,#fdc 0 244.6px,#edd 0 246px,#fa9 0 247.5px,#f75 0 248.9px,#fcc 0 250.4px,#fa9 0 251.8px,#f97 0 253.3px,#eee 0 254.7px,#fa8 0 256.2px,#eee 0 257.6px,#fa9 0 259.1px,#f76 0 260.5px,#fa9 0 262px,#dce 0 263.4px,#fb9 0 264.9px,#f98 0 266.3px,#fcb 0 267.7px,#fcc 0 269.2px,#f87 0 270.6px,#edd 0 272.1px,#fba 0 275px,#dce 0 276.4px,#fcc 0 277.9px,#fa9 0 279.3px,#fcc 0 280.8px,#fcb 0 282.2px,#fdd 0 283.7px,#fa9 0 285.1px,#fdc 0 286.6px,#eee 0 288px,#fcb 0 289.5px,#fba 0 290.9px,#f86 0 292.4px,#edd 0 293.8px,#f87 0 295.2px,#f86 0 296.7px,#fa9 0 298.1px,#fcc 0 301px,#f75 0 302.5px,#dce 0 303.9px,#fba 0 306.8px,#ede 0 308.3px,#fcc 0 309.7px,#fdc 0 311.2px,#eee 0 312.6px,#fdd 0 314.1px,#fcb 0 315.5px,#cbe 0 317px,#fcb 0 318.4px,#fcc 0 319.8px,#fdd 0 321.3px,#edd 0 322.7px,#f75 0 324.2px,#fcb 0 325.6px,#fcc 0 327.1px,#f98 0 328.5px,#eee 0 330px,#ede 0 331.4px,#cbe 0 332.9px,#f98 0 334.3px,#fdc 0 335.8px,#fb9 0 337.2px,#fba 0 338.7px,#fa8 0 340.1px,#dce 0 341.6px,#fdc 0 343px,#fba 0 344.5px,#fcb 0 345.9px,#fa9 0 347.3px,#cae 0 348.8px,#fcc 0 350.2px,#ede 0 351.7px,#f97 0 353.1px,#b9f 0 354.6px,#f97 0 357.5px,#dce 0 358.9px,#fba 0 360.4px,#a7f 0 361.8px,#cae 0 363.3px,#cbe 0 364.7px,#fa8 0 366.2px,#fcb 0 367.6px,#dce 0 369.1px,#fba 0 370.5px,#fa8 0 372px,#fdd 0 373.4px,#dce 0 376.3px,#fcc 0 377.7px,#f64 0 379.2px,#fdd 0 380.6px,#fba 0 382.1px,#ede 0 383.5px,#fa8 0 385px,#fcb 0 386.4px,#eee 0 387.9px,#b9f 0 389.3px,#edd 0 390.8px,#f98 0 392.2px,#eee 0 393.7px,#f86 0 395.1px,#fba 0 396.6px,#cae 0 398px,#fa9 0 399.5px,#fba 0 400.9px,#cbe 0 402.3px,#fdc 0 403.8px,#eee 0 405.2px,#edd 0 406.7px,#fdc 0 409.6px,#b9f 0 411px,#fba 0 412.5px,#fdd 0 413.9px,#cbe 0 415.4px,#f97 0 416.8px,#eee 0 418.3px,#fba 0 419.7px,#fcb 0 421.2px,#fa8 0 422.6px,#eee 0 424.1px,#fdc 0 425.5px,#f97 0 426.9px,#fdc 0 428.4px,#eed 0 429.8px,#dce 0 431.3px,#fba 0 434.2px,#f87 0 435.6px,#edd 0 437.1px,#fdc 0 438.5px,#edd 0 440px,#fdd 0 441.4px,#ede 0 442.9px,#fcb 0 444.3px,#dde 0 445.8px,#f98 0 447.2px,#fa9 0 448.7px,#f86 0 450.1px,#f97 0 451.6px,#cbe 0 453px)"></div>
<div class="hr" style="top:153.36px;background:linear-gradient(90deg,#dbe 0 1.4px,#b9f 0 2.9px,#cae 0 4.3px,#75f 0 5.8px,#96f 0 7.2px,#a8f 0 8.7px,#eee 0 10.1px,#dbe 0 11.6px,#eee 0 13px,#fdc 0 14.5px,#96f 0 15.9px,#baf 0 17.4px,#97f 0 20.3px,#a7f 0 21.7px,#cae 0 23.2px,#b9f 0 24.6px,#cbe 0 26.1px,#96f 0 27.5px,#97f 0 28.9px,#cbe 0 30.4px,#b9f 0 31.8px,#dde 0 33.3px,#baf 0 34.7px,#cbe 0 36.2px,#85f 0 37.6px,#97f 0 39.1px,#fba 0 40.5px,#baf 0 42px,#86f 0 43.4px,#cae 0 44.9px,#a7f 0 46.3px,#00f 0 47.8px,#a7f 0 49.2px,#ede 0 50.7px,#eee 0 52.1px,#dde 0 55px,#b9f 0 56.4px,#64f 0 57.9px,#97f 0 59.3px,#cae 0 60.8px,#b9f 0 62.2px,#97f 0 63.7px,#cae 0 65.1px,#a8f 0 66.6px,#96f 0 68px,#74f 0 69.5px,#a8f 0 70.9px,#eee 0 72.4px,#caf 0 73.8px,#00f 0 75.3px,#cae 0 76.7px,#a7f 0 78.2px,#cbe 0 81px,#cae 0 82.5px,#dde 0 83.9px,#cbe 0 86.8px,#eee 0 88.3px,#cae 0 89.7px,#eee 0 91.2px,#cbe 0 92.6px,#dbe 0 94.1px,#cae 0 95.5px,#eee 0 97px,#dce 0 98.4px,#96f 0 99.9px,#97f 0 101.3px,#dbe 0 102.8px,#b9f 0 104.2px,#a8f 0 105.7px,#cae 0 107.1px,#b8f 0 108.5px,#dce 0 110px,#dde 0 111.4px,#dce 0 112.9px,#cbe 0 114.3px,#dce 0 115.8px,#97f 0 117.2px,#b9f 0 118.7px,#a7f 0 120.1px,#97f 0 121.6px,#dde 0 123px,#86f 0 124.5px,#fdd 0 125.9px,#85f 0 127.4px,#eee 0 128.8px,#a8f 0 130.3px,#cbe 0 131.7px,#b9f 0 133.2px,#caf 0 134.6px,#dce 0 136px,#b9f 0 137.5px,#dde 0 138.9px,#dce 0 140.4px,#baf 0 143.3px,#97f 0 144.7px,#caf 0 146.2px,#edd 0 147.6px,#75f 0 149.1px,#dde 0 150.5px,#64f 0 152px,#ede 0 153.4px,#cae 0 154.9px,#f00 0 156.3px,#cbe 0 157.8px,#fdd 0 159.2px,#fdc 0 160.6px,#cbe 0 162.1px,#cae 0 163.5px,#fdd 0 165px,#fcc 0 166.4px,#b9f 0 167.9px,#dde 0 169.3px,#85f 0 170.8px,#fdd 0 172.2px,#dce 0 173.7px,#dde 0 175.1px,#a7f 0 176.6px,#eed 0 178px,#97f 0 179.5px,#a8f 0 180.9px,#eee 0 182.4px,#a7f 0 183.8px,#ede 0 185.3px,#64f 0 186.7px,#baf 0 188.1px,#cae 0 189.6px,#a8f 0 191px,#dce 0 192.5px,#96f 0 193.9px,#cbe 0 195.4px,#fdc 0 196.8px,#eee 0 198.3px,#dde 0 199.7px,#ede 0 201.2px,#eee 0 202.6px,#f32 0 204.1px,#b9f 0 205.5px,#fdc 0 207px,#ede 0 208.4px,#fcb 0 209.9px,#dce 0 211.3px,#cbe 0 212.8px,#fa8 0 214.2px,#eed 0 215.6px,#fdc 0 217.1px,#cae 0 218.5px,#dce 0 220px,#ede 0 221.4px,#eee 0 222.9px,#fba 0 224.3px,#eee 0 225.8px,#edd 0 227.2px,#ede 0 228.7px,#f98 0 230.1px,#fdd 0 231.6px,#fcc 0 233px,#fdd 0 234.5px,#fa9 0 235.9px,#fdc 0 237.4px,#fba 0 238.8px,#eed 0 240.2px,#f98 0 241.7px,#fa9 0 243.1px,#f97 0 244.6px,#fa8 0 246px,#f97 0 247.5px,#ede 0 248.9px,#f64 0 250.4px,#fba 0 251.8px,#ede 0 253.3px,#fcb 0 254.7px,#f00 0 256.2px,#fa8 0 257.6px,#dce 0 259.1px,#f86 0 260.5px,#f42 0 262px,#eee 0 263.4px,#fa8 0 264.9px,#fcb 0 266.3px,#f53 0 267.7px,#fba 0 269.2px,#f53 0 270.6px,#fba 0 272.1px,#fcc 0 273.5px,#fa8 0 275px,#fcb 0 276.4px,#eee 0 277.9px,#f86 0 279.3px,#fa9 0 280.8px,#fcb 0 282.2px,#fdc 0 283.7px,#fa8 0 285.1px,#fba 0 286.6px,#eed 0 288px,#eee 0 290.9px,#edd 0 292.4px,#fba 0 293.8px,#eee 0 295.2px,#f87 0 296.7px,#f98 0 298.1px,#dce 0 299.6px,#fcc 0 301px,#f53 0 302.5px,#fa9 0 303.9px,#dde 0 305.4px,#f75 0 306.8px,#eee 0 308.3px,#dde 0 309.7px,#dce 0 311.2px,#fcb 0 312.6px,#f97 0 314.1px,#fa9 0 315.5px,#eee 0 317px,#dce 0 318.4px,#fdc 0 319.8px,#fcb 0 321.3px,#fa9 0 322.7px,#edd 0 324.2px,#fcb 0 327.1px,#dde 0 328.5px,#fcb 0 331.4px,#cbe 0 332.9px,#eee 0 334.3px,#fa9 0 338.7px,#fa8 0 340.1px,#dde 0 341.6px,#f98 0 343px,#fdd 0 344.5px,#eee 0 347.3px,#eed 0 348.8px,#fdc 0 350.2px,#f98 0 351.7px,#fa9 0 353.1px,#cae 0 354.6px,#fa8 0 356px,#fcb 0 357.5px,#eee 0 358.9px,#fba 0 360.4px,#b9f 0 361.8px,#97f 0 363.3px,#fa9 0 364.7px,#f98 0 366.2px,#fb9 0 367.6px,#fdc 0 369.1px,#fa8 0 370.5px,#fdc 0 372px,#f97 0 373.4px,#cbe 0 374.8px,#fa9 0 376.3px,#f87 0 377.7px,#eed 0 379.2px,#fa8 0 380.6px,#fcb 0 382.1px,#eee 0 383.5px,#fba 0 385px,#dde 0 386.4px,#dce 0 387.9px,#fcc 0 389.3px,#fa9 0 390.8px,#fdd 0 392.2px,#cae 0 393.7px,#f00 0 395.1px,#f75 0 396.6px,#fcb 0 398px,#fdc 0 399.5px,#fcc 0 400.9px,#dce 0 402.3px,#edd 0 403.8px,#fba 0 406.7px,#fdc 0 408.1px,#ede 0 409.6px,#eee 0 411px,#fcb 0 412.5px,#fb9 0 413.9px,#dce 0 415.4px,#fa9 0 416.8px,#fcb 0 419.7px,#fba 0 421.2px,#fa8 0 422.6px,#fcc 0 424.1px,#fa9 0 425.5px,#f75 0 426.9px,#fdc 0 428.4px,#fba 0 429.8px,#dbe 0 431.3px,#fba 0 437.1px,#fa8 0 438.5px,#fa9 0 440px,#fb9 0 441.4px,#f75 0 442.9px,#fcb 0 444.3px,#fcc 0 445.8px,#fa9 0 447.2px,#dbe 0 448.7px,#fcb 0 450.1px,#ede 0 451.6px,#cbe 0 453px)"></div>
<div class="hr" style="top:161.12px;background:linear-gradient(90deg,#a7f 0 1.4px,#97f 0 2.9px,#cae 0 4.3px,#86f 0 5.8px,#a8f 0 7.2px,#97f 0 8.7px,#a8f 0 10.1px,#fdc 0 11.6px,#a7f 0 13px,#b9f 0 14.5px,#97f 0 15.9px,#b9f 0 18.8px,#a7f 0 20.3px,#a8f 0 21.7px,#cbe 0 23.2px,#dce 0 24.6px,#b8f 0 26.1px,#96f 0 28.9px,#fba 0 30.4px,#eee 0 31.8px,#ede 0 33.3px,#dce 0 34.7px,#a8f 0 36.2px,#b9f 0 37.6px,#96f 0 39.1px,#ede 0 40.5px,#a7f 0 42px,#a8f 0 43.4px,#b9f 0 44.9px,#caf 0 46.3px,#42f 0 47.8px,#b9f 0 49.2px,#fdd 0 50.7px,#cbe 0 52.1px,#cae 0 53.5px,#a7f 0 55px,#cbe 0 56.4px,#97f 0 59.3px,#b9f 0 60.8px,#eed 0 62.2px,#b8f 0 63.7px,#b9f 0 66.6px,#dce 0 68px,#edd 0 69.5px,#85f 0 70.9px,#b9f 0 72.4px,#cbe 0 73.8px,#b9f 0 75.3px,#cbe 0 76.7px,#eee 0 78.2px,#86f 0 79.6px,#b9f 0 81px,#baf 0 82.5px,#eee 0 85.4px,#a8f 0 88.3px,#dce 0 89.7px,#ede 0 91.2px,#f97 0 92.6px,#b9f 0 94.1px,#eed 0 95.5px,#dde 0 97px,#cbe 0 98.4px,#96f 0 99.9px,#a8f 0 101.3px,#b9f 0 102.8px,#86f 0 104.2px,#baf 0 105.7px,#b9f 0 107.1px,#eed 0 108.5px,#dbe 0 110px,#cae 0 111.4px,#eee 0 112.9px,#cbe 0 114.3px,#eee 0 115.8px,#caf 0 117.2px,#cae 0 118.7px,#dde 0 120.1px,#a8f 0 121.6px,#ede 0 124.5px,#eee 0 125.9px,#b9f 0 127.4px,#a8f 0 128.8px,#cbe 0 131.7px,#eee 0 133.2px,#baf 0 134.6px,#dce 0 136px,#edd 0 137.5px,#cae 0 138.9px,#dce 0 140.4px,#eee 0 141.8px,#74f 0 143.3px,#a8f 0 144.7px,#b9f 0 146.2px,#97f 0 147.6px,#96f 0 149.1px,#cae 0 150.5px,#cbe 0 152px,#dde 0 153.4px,#dce 0 154.9px,#ede 0 156.3px,#caf 0 157.8px,#cae 0 159.2px,#a8f 0 160.6px,#a7f 0 162.1px,#cbe 0 163.5px,#dbe 0 165px,#dde 0 166.4px,#b9f 0 167.9px,#ede 0 169.3px,#edd 0 170.8px,#eed 0 172.2px,#ede 0 173.7px,#fba 0 175.1px,#cae 0 176.6px,#fa8 0 178px,#00f 0 179.5px,#ede 0 180.9px,#dce 0 182.4px,#42f 0 183.8px,#edd 0 185.3px,#cbe 0 186.7px,#fcc 0 188.1px,#ede 0 189.6px,#dde 0 191px,#baf 0 192.5px,#a8f 0 193.9px,#ede 0 195.4px,#edd 0 196.8px,#eee 0 198.3px,#edd 0 199.7px,#fba 0 201.2px,#eed 0 202.6px,#f64 0 204.1px,#f97 0 205.5px,#dce 0 208.4px,#cbe 0 209.9px,#cae 0 211.3px,#fa8 0 212.8px,#dce 0 214.2px,#eee 0 215.6px,#edd 0 217.1px,#fcb 0 218.5px,#eee 0 221.4px,#edd 0 222.9px,#fcc 0 224.3px,#fcb 0 225.8px,#fcc 0 227.2px,#dce 0 228.7px,#fa8 0 230.1px,#dde 0 231.6px,#fcb 0 233px,#fa9 0 234.5px,#fdc 0 235.9px,#fa9 0 237.4px,#eee 0 238.8px,#f98 0 240.2px,#fdd 0 241.7px,#fcb 0 243.1px,#edd 0 244.6px,#fba 0 246px,#fcb 0 248.9px,#fa9 0 250.4px,#eee 0 251.8px,#fcb 0 253.3px,#fcc 0 254.7px,#fdd 0 256.2px,#fb9 0 257.6px,#dce 0 259.1px,#eed 0 260.5px,#fa9 0 262px,#fcb 0 263.4px,#f86 0 264.9px,#fdc 0 266.3px,#f86 0 269.2px,#f75 0 272.1px,#fa9 0 273.5px,#eed 0 275px,#fcb 0 276.4px,#f86 0 277.9px,#fa8 0 279.3px,#fcc 0 280.8px,#ede 0 282.2px,#fcb 0 283.7px,#fa8 0 285.1px,#eed 0 286.6px,#fcc 0 288px,#fba 0 289.5px,#eee 0 290.9px,#f97 0 292.4px,#f98 0 293.8px,#eee 0 295.2px,#fa9 0 296.7px,#f97 0 298.1px,#fbb 0 299.6px,#fba 0 301px,#dde 0 302.5px,#eed 0 303.9px,#fa9 0 305.4px,#f86 0 306.8px,#fa9 0 308.3px,#cae 0 309.7px,#dce 0 311.2px,#eee 0 312.6px,#fa9 0 314.1px,#dde 0 315.5px,#fa9 0 317px,#fcb 0 318.4px,#fba 0 319.8px,#b9f 0 321.3px,#dce 0 322.7px,#fa8 0 324.2px,#dce 0 325.6px,#fcb 0 327.1px,#eed 0 328.5px,#fba 0 330px,#fdc 0 334.3px,#fdd 0 335.8px,#fcb 0 337.2px,#fa8 0 340.1px,#fcb 0 341.6px,#ede 0 343px,#f98 0 344.5px,#fcc 0 345.9px,#fba 0 347.3px,#dde 0 348.8px,#f97 0 351.7px,#edd 0 353.1px,#dde 0 354.6px,#fba 0 356px,#fcb 0 357.5px,#a8f 0 358.9px,#edd 0 360.4px,#dce 0 361.8px,#b9f 0 363.3px,#edd 0 364.7px,#eed 0 366.2px,#f97 0 367.6px,#fdc 0 369.1px,#f97 0 370.5px,#fcc 0 372px,#eee 0 374.8px,#dce 0 376.3px,#fba 0 377.7px,#fcc 0 379.2px,#fcb 0 380.6px,#fba 0 382.1px,#edd 0 383.5px,#f75 0 385px,#fcb 0 386.4px,#cbe 0 387.9px,#fcb 0 389.3px,#dde 0 390.8px,#fcb 0 392.2px,#cbe 0 393.7px,#fbb 0 395.1px,#f75 0 396.6px,#eee 0 398px,#fcc 0 399.5px,#fdc 0 400.9px,#cbe 0 402.3px,#f86 0 403.8px,#baf 0 405.2px,#ede 0 406.7px,#fcb 0 408.1px,#dce 0 409.6px,#fdd 0 411px,#f86 0 412.5px,#fcb 0 413.9px,#dce 0 415.4px,#fbb 0 416.8px,#dde 0 418.3px,#eee 0 421.2px,#f75 0 422.6px,#f87 0 424.1px,#fcb 0 425.5px,#fdc 0 426.9px,#fa9 0 428.4px,#dce 0 429.8px,#dbe 0 431.3px,#fdd 0 432.7px,#ede 0 434.2px,#fcb 0 435.6px,#fa9 0 437.1px,#dce 0 438.5px,#dde 0 440px,#eee 0 441.4px,#fa8 0 442.9px,#ede 0 444.3px,#f98 0 445.8px,#edd 0 447.2px,#eee 0 448.7px,#fdd 0 450.1px,#fcc 0 451.6px,#baf 0 453px)"></div>
<div class="hr" style="top:168.88px;background:linear-gradient(90deg,#ede 0 1.4px,#cbe 0 2.9px,#b9f 0 4.3px,#dce 0 5.8px,#a8f 0 7.2px,#cbe 0 8.7px,#cae 0 10.1px,#baf 0 11.6px,#dce 0 13px,#85f 0 14.5px,#dde 0 15.9px,#a8f 0 17.4px,#dbe 0 18.8px,#dde 0 20.3px,#dce 0 21.7px,#baf 0 23.2px,#a8f 0 24.6px,#b9f 0 26.1px,#74f 0 27.5px,#85f 0 28.9px,#cbe 0 30.4px,#dbe 0 31.8px,#a7f 0 33.3px,#cbe 0 34.7px,#dce 0 36.2px,#cae 0 37.6px,#74f 0 39.1px,#fcc 0 40.5px,#97f 0 42px,#dce 0 43.4px,#dde 0 44.9px,#74f 0 46.3px,#caf 0 47.8px,#cae 0 49.2px,#dde 0 50.7px,#cbe 0 52.1px,#baf 0 53.5px,#a8f 0 55px,#cae 0 56.4px,#dce 0 57.9px,#b9f 0 59.3px,#a8f 0 62.2px,#cbe 0 63.7px,#dde 0 65.1px,#a8f 0 66.6px,#dce 0 68px,#a7f 0 69.5px,#32f 0 70.9px,#fdd 0 72.4px,#fdc 0 73.8px,#85f 0 75.3px,#b9f 0 76.7px,#dce 0 78.2px,#dde 0 79.6px,#ede 0 81px,#eee 0 82.5px,#dbe 0 83.9px,#eee 0 85.4px,#cbe 0 86.8px,#caf 0 88.3px,#ede 0 89.7px,#dde 0 91.2px,#fdd 0 92.6px,#b9f 0 94.1px,#ede 0 95.5px,#dde 0 97px,#eee 0 98.4px,#21f 0 99.9px,#97f 0 101.3px,#eee 0 102.8px,#97f 0 104.2px,#cbe 0 105.7px,#96f 0 107.1px,#fcb 0 108.5px,#eee 0 110px,#cae 0 111.4px,#dce 0 114.3px,#fcb 0 115.8px,#cbe 0 117.2px,#97f 0 118.7px,#cbe 0 120.1px,#eee 0 121.6px,#dce 0 123px,#a8f 0 124.5px,#dde 0 125.9px,#cbe 0 127.4px,#eee 0 128.8px,#a8f 0 130.3px,#b9f 0 131.7px,#eee 0 133.2px,#cae 0 134.6px,#eee 0 136px,#fcb 0 137.5px,#cbe 0 138.9px,#cae 0 141.8px,#a7f 0 143.3px,#a8f 0 144.7px,#97f 0 146.2px,#74f 0 147.6px,#fdd 0 149.1px,#eee 0 150.5px,#ede 0 152px,#eee 0 153.4px,#dce 0 154.9px,#fba 0 156.3px,#ede 0 157.8px,#a8f 0 159.2px,#fdc 0 160.6px,#b9f 0 162.1px,#cbe 0 163.5px,#fa9 0 165px,#fdd 0 166.4px,#eed 0 167.9px,#cbe 0 169.3px,#dce 0 170.8px,#fcb 0 172.2px,#dde 0 173.7px,#b9f 0 175.1px,#a8f 0 176.6px,#fdc 0 178px,#74f 0 179.5px,#a8f 0 180.9px,#eee 0 182.4px,#97f 0 183.8px,#cae 0 185.3px,#96f 0 186.7px,#ede 0 188.1px,#b9f 0 189.6px,#ede 0 191px,#cbe 0 192.5px,#edd 0 193.9px,#dce 0 195.4px,#a8f 0 196.8px,#fdd 0 198.3px,#eed 0 199.7px,#edd 0 201.2px,#b9f 0 202.6px,#f98 0 204.1px,#eee 0 205.5px,#edd 0 207px,#b9f 0 208.4px,#fdc 0 209.9px,#dde 0 211.3px,#f97 0 212.8px,#eee 0 214.2px,#dde 0 215.6px,#fdd 0 217.1px,#dbe 0 218.5px,#fdc 0 220px,#cbe 0 221.4px,#dce 0 222.9px,#eee 0 224.3px,#eed 0 225.8px,#dce 0 228.7px,#fba 0 230.1px,#dde 0 231.6px,#eee 0 233px,#fdd 0 234.5px,#cbe 0 235.9px,#eee 0 237.4px,#f97 0 238.8px,#fcb 0 240.2px,#fcc 0 241.7px,#fa8 0 243.1px,#fdc 0 244.6px,#ede 0 246px,#fb9 0 247.5px,#f87 0 248.9px,#fba 0 250.4px,#fb9 0 251.8px,#fcb 0 253.3px,#fdc 0 254.7px,#f98 0 256.2px,#fcb 0 257.6px,#fdc 0 259.1px,#fba 0 263.4px,#fcb 0 264.9px,#caf 0 266.3px,#fcb 0 267.7px,#cae 0 269.2px,#f64 0 270.6px,#fa8 0 272.1px,#fa9 0 273.5px,#eee 0 275px,#cbe 0 276.4px,#fcb 0 277.9px,#fba 0 279.3px,#eee 0 280.8px,#fba 0 282.2px,#fcc 0 283.7px,#fa9 0 285.1px,#eee 0 286.6px,#b9f 0 288px,#fdd 0 289.5px,#dce 0 290.9px,#fa9 0 292.4px,#f86 0 295.2px,#fa8 0 296.7px,#f86 0 298.1px,#fa9 0 299.6px,#eee 0 301px,#fba 0 302.5px,#fcb 0 303.9px,#fdc 0 306.8px,#dce 0 308.3px,#dde 0 309.7px,#dce 0 311.2px,#fb9 0 312.6px,#edd 0 314.1px,#f98 0 315.5px,#fba 0 317px,#cae 0 318.4px,#fa9 0 319.8px,#ede 0 321.3px,#fba 0 324.2px,#fdc 0 325.6px,#fb9 0 327.1px,#dde 0 328.5px,#fdc 0 331.4px,#eee 0 332.9px,#fba 0 334.3px,#dce 0 335.8px,#fba 0 337.2px,#ede 0 338.7px,#f97 0 340.1px,#fdd 0 341.6px,#fa8 0 343px,#eee 0 344.5px,#f53 0 345.9px,#ede 0 347.3px,#dde 0 348.8px,#edd 0 350.2px,#f98 0 351.7px,#edd 0 353.1px,#fdc 0 354.6px,#edd 0 356px,#fcb 0 357.5px,#dce 0 358.9px,#fba 0 360.4px,#dce 0 361.8px,#b9f 0 363.3px,#fcb 0 364.7px,#eed 0 366.2px,#ede 0 367.6px,#fcb 0 369.1px,#baf 0 370.5px,#f98 0 372px,#edd 0 373.4px,#cbe 0 374.8px,#fcb 0 376.3px,#fba 0 377.7px,#fdc 0 379.2px,#fcb 0 380.6px,#fa9 0 382.1px,#fcb 0 385px,#dde 0 386.4px,#dce 0 387.9px,#dde 0 389.3px,#fba 0 392.2px,#edd 0 393.7px,#f75 0 395.1px,#fba 0 396.6px,#eee 0 398px,#fcc 0 399.5px,#f86 0 400.9px,#97f 0 402.3px,#fbb 0 403.8px,#eee 0 405.2px,#fcb 0 406.7px,#f87 0 408.1px,#fa9 0 409.6px,#fba 0 411px,#fdd 0 412.5px,#fba 0 413.9px,#dce 0 415.4px,#fb9 0 416.8px,#fdc 0 418.3px,#eee 0 419.7px,#fdd 0 421.2px,#f75 0 422.6px,#f97 0 424.1px,#fba 0 425.5px,#dce 0 426.9px,#fa8 0 429.8px,#dce 0 431.3px,#eed 0 432.7px,#fba 0 434.2px,#fcc 0 435.6px,#fa9 0 437.1px,#ede 0 438.5px,#dde 0 440px,#fdd 0 441.4px,#eed 0 442.9px,#fcb 0 444.3px,#fba 0 445.8px,#dce 0 447.2px,#fcb 0 448.7px,#eed 0 450.1px,#fa9 0 451.6px,#ede 0 453px)"></div>
<div class="hr" style="top:176.63px;background:linear-gradient(90deg,#64f 0 1.4px,#00f 0 2.9px,#a8f 0 4.3px,#fa8 0 5.8px,#a8f 0 7.2px,#64f 0 8.7px,#86f 0 10.1px,#a8f 0 11.6px,#75f 0 13px,#00f 0 14.5px,#85f 0 15.9px,#96f 0 18.8px,#00f 0 21.7px,#a7f 0 23.2px,#97f 0 24.6px,#96f 0 26.1px,#75f 0 27.5px,#97f 0 28.9px,#53f 0 30.4px,#74f 0 31.8px,#10f 0 33.3px,#97f 0 34.7px,#ede 0 36.2px,#f86 0 37.6px,#97f 0 39.1px,#f75 0 40.5px,#b9f 0 42px,#00f 0 43.4px,#dde 0 44.9px,#a8f 0 46.3px,#fcc 0 47.8px,#fdc 0 49.2px,#a8f 0 50.7px,#fcb 0 52.1px,#fcc 0 53.5px,#00f 0 55px,#42f 0 56.4px,#00f 0 57.9px,#53f 0 59.3px,#86f 0 60.8px,#00f 0 62.2px,#baf 0 63.7px,#a7f 0 65.1px,#00f 0 66.6px,#eee 0 68px,#fa8 0 69.5px,#fdc 0 70.9px,#fba 0 72.4px,#fcb 0 73.8px,#f75 0 75.3px,#00f 0 78.2px,#fba 0 79.6px,#fa8 0 81px,#32f 0 82.5px,#fa9 0 83.9px,#fba 0 85.4px,#eee 0 88.3px,#fba 0 89.7px,#cbe 0 91.2px,#dde 0 92.6px,#86f 0 94.1px,#dde 0 95.5px,#a8f 0 97px,#fcc 0 98.4px,#00f 0 99.9px,#f97 0 101.3px,#f98 0 102.8px,#fcb 0 104.2px,#a8f 0 105.7px,#fba 0 107.1px,#f98 0 108.5px,#fba 0 111.4px,#f75 0 112.9px,#dce 0 114.3px,#fcc 0 115.8px,#fcb 0 117.2px,#74f 0 118.7px,#96f 0 120.1px,#fbb 0 121.6px,#fba 0 124.5px,#fa9 0 125.9px,#fdc 0 127.4px,#fdd 0 128.8px,#fa8 0 130.3px,#eee 0 131.7px,#fcb 0 133.2px,#eee 0 134.6px,#edd 0 136px,#dde 0 137.5px,#fcb 0 138.9px,#fa9 0 140.4px,#a8f 0 141.8px,#fa8 0 143.3px,#fa9 0 144.7px,#fdd 0 146.2px,#fa9 0 147.6px,#f75 0 149.1px,#fb9 0 150.5px,#42f 0 152px,#dce 0 153.4px,#fa8 0 154.9px,#edd 0 157.8px,#74f 0 159.2px,#fdc 0 160.6px,#fcc 0 162.1px,#f97 0 163.5px,#fa9 0 165px,#f86 0 166.4px,#fa9 0 167.9px,#baf 0 169.3px,#fa9 0 170.8px,#f86 0 172.2px,#f64 0 173.7px,#edd 0 175.1px,#eee 0 176.6px,#fb9 0 178px,#fdc 0 179.5px,#dce 0 180.9px,#96f 0 182.4px,#eee 0 183.8px,#cbe 0 185.3px,#f97 0 186.7px,#eee 0 188.1px,#97f 0 189.6px,#f87 0 191px,#fa9 0 192.5px,#fba 0 193.9px,#ede 0 195.4px,#cbe 0 196.8px,#f75 0 198.3px,#eee 0 199.7px,#f86 0 201.2px,#f98 0 202.6px,#fcb 0 204.1px,#fba 0 205.5px,#cae 0 207px,#fdc 0 208.4px,#fcb 0 209.9px,#fa9 0 211.3px,#fcb 0 212.8px,#f98 0 214.2px,#fdc 0 215.6px,#dce 0 217.1px,#b9f 0 218.5px,#f97 0 220px,#97f 0 221.4px,#f87 0 222.9px,#fcb 0 224.3px,#f87 0 225.8px,#fa9 0 227.2px,#edd 0 228.7px,#dde 0 230.1px,#f98 0 231.6px,#fcb 0 233px,#edd 0 234.5px,#f75 0 235.9px,#cbe 0 237.4px,#eee 0 238.8px,#eed 0 240.2px,#f75 0 241.7px,#f64 0 243.1px,#ede 0 244.6px,#fba 0 246px,#dde 0 247.5px,#64f 0 248.9px,#b9f 0 250.4px,#dce 0 251.8px,#fcc 0 253.3px,#f98 0 254.7px,#f97 0 256.2px,#f76 0 257.6px,#fa9 0 260.5px,#f86 0 262px,#eee 0 263.4px,#edd 0 264.9px,#f87 0 266.3px,#fcb 0 267.7px,#fcc 0 269.2px,#f75 0 270.6px,#f86 0 272.1px,#ede 0 273.5px,#fcc 0 275px,#fa9 0 276.4px,#eee 0 277.9px,#fcc 0 279.3px,#fa9 0 280.8px,#fa8 0 282.2px,#fba 0 283.7px,#f86 0 285.1px,#f97 0 286.6px,#fa9 0 288px,#f76 0 289.5px,#f00 0 290.9px,#96f 0 292.4px,#eee 0 293.8px,#fcb 0 296.7px,#edd 0 298.1px,#baf 0 299.6px,#f98 0 301px,#fdd 0 302.5px,#eee 0 303.9px,#fcb 0 305.4px,#fdc 0 306.8px,#f86 0 308.3px,#edd 0 309.7px,#fdc 0 311.2px,#dce 0 314.1px,#fdd 0 315.5px,#cbe 0 317px,#dce 0 318.4px,#fcb 0 319.8px,#fdc 0 321.3px,#dde 0 322.7px,#fcb 0 324.2px,#fcc 0 325.6px,#fb9 0 327.1px,#eee 0 328.5px,#dce 0 331.4px,#eee 0 332.9px,#fba 0 334.3px,#f42 0 335.8px,#fcc 0 337.2px,#b9f 0 338.7px,#fcc 0 340.1px,#f97 0 341.6px,#eee 0 343px,#fcb 0 344.5px,#fba 0 345.9px,#fcb 0 347.3px,#fa8 0 348.8px,#cbe 0 350.2px,#f97 0 351.7px,#fb9 0 353.1px,#f97 0 354.6px,#fcc 0 356px,#fbb 0 357.5px,#dce 0 358.9px,#f97 0 360.4px,#fbb 0 361.8px,#fa9 0 363.3px,#fba 0 364.7px,#f75 0 366.2px,#fba 0 367.6px,#fcb 0 369.1px,#f98 0 370.5px,#eed 0 372px,#fcb 0 373.4px,#fba 0 374.8px,#fdd 0 376.3px,#cbe 0 377.7px,#fdc 0 379.2px,#fcb 0 380.6px,#fcc 0 382.1px,#edd 0 383.5px,#dce 0 385px,#cae 0 386.4px,#edd 0 387.9px,#f97 0 389.3px,#fcb 0 390.8px,#b9f 0 392.2px,#fb9 0 393.7px,#fba 0 396.6px,#f75 0 398px,#fcb 0 399.5px,#b9f 0 402.3px,#eee 0 403.8px,#f98 0 405.2px,#fa8 0 406.7px,#fba 0 408.1px,#dce 0 409.6px,#fcc 0 411px,#96f 0 412.5px,#fcc 0 413.9px,#fdd 0 415.4px,#fcb 0 416.8px,#fcc 0 418.3px,#f64 0 419.7px,#85f 0 421.2px,#fdc 0 422.6px,#b9f 0 424.1px,#f98 0 425.5px,#dde 0 426.9px,#fa8 0 428.4px,#f97 0 431.3px,#eed 0 432.7px,#fa9 0 434.2px,#cbe 0 435.6px,#b9f 0 437.1px,#fba 0 438.5px,#b8f 0 440px,#b9f 0 441.4px,#fba 0 442.9px,#eee 0 444.3px,#f75 0 445.8px,#fcb 0 447.2px,#cae 0 448.7px,#fa8 0 450.1px,#f87 0 451.6px,#f64 0 453px)"></div>
<div class="hr" style="top:184.39px;background:linear-gradient(90deg,#63f 0 1.4px,#53f 0 2.9px,#97f 0 4.3px,#ede 0 5.8px,#a8f 0 7.2px,#00f 0 8.7px,#85f 0 11.6px,#96f 0 13px,#00f 0 14.5px,#97f 0 15.9px,#b9f 0 17.4px,#a7f 0 18.8px,#00f 0 21.7px,#97f 0 24.6px,#a7f 0 26.1px,#53f 0 27.5px,#85f 0 28.9px,#86f 0 30.4px,#00f 0 31.8px,#21f 0 33.3px,#96f 0 34.7px,#dce 0 36.2px,#fba 0 37.6px,#75f 0 39.1px,#f75 0 40.5px,#b9f 0 42px,#53f 0 43.4px,#eee 0 44.9px,#a8f 0 46.3px,#fcb 0 47.8px,#fb9 0 49.2px,#a8f 0 50.7px,#eed 0 52.1px,#fcb 0 53.5px,#00f 0 55px,#74f 0 56.4px,#42f 0 57.9px,#75f 0 59.3px,#dce 0 60.8px,#64f 0 62.2px,#86f 0 63.7px,#96f 0 65.1px,#00f 0 66.6px,#fdc 0 68px,#fa9 0 69.5px,#fa8 0 70.9px,#fdc 0 72.4px,#fba 0 73.8px,#fa9 0 75.3px,#00f 0 78.2px,#fb9 0 79.6px,#fa9 0 81px,#42f 0 82.5px,#fcb 0 83.9px,#fb9 0 85.4px,#fba 0 86.8px,#ede 0 88.3px,#fa9 0 89.7px,#a8f 0 91.2px,#cae 0 92.6px,#96f 0 94.1px,#fba 0 95.5px,#97f 0 97px,#fba 0 98.4px,#63f 0 99.9px,#fcb 0 101.3px,#f64 0 102.8px,#fba 0 104.2px,#a8f 0 105.7px,#f86 0 107.1px,#f98 0 108.5px,#fa9 0 110px,#edd 0 111.4px,#f98 0 112.9px,#dde 0 114.3px,#fcc 0 115.8px,#f97 0 117.2px,#00f 0 118.7px,#75f 0 120.1px,#fdd 0 121.6px,#fcb 0 123px,#f86 0 124.5px,#fb9 0 125.9px,#fba 0 127.4px,#edd 0 128.8px,#eee 0 130.3px,#fdc 0 131.7px,#fa9 0 133.2px,#dde 0 134.6px,#fa8 0 136px,#ede 0 137.5px,#fa9 0 138.9px,#eee 0 140.4px,#97f 0 141.8px,#fba 0 143.3px,#f98 0 144.7px,#fba 0 146.2px,#f86 0 147.6px,#f87 0 149.1px,#fba 0 150.5px,#21f 0 152px,#eee 0 153.4px,#fba 0 154.9px,#fcb 0 156.3px,#dde 0 157.8px,#85f 0 159.2px,#ede 0 160.6px,#fdc 0 162.1px,#f97 0 163.5px,#fba 0 165px,#f97 0 166.4px,#fa9 0 167.9px,#b9f 0 169.3px,#fcb 0 170.8px,#f75 0 172.2px,#f32 0 173.7px,#b9f 0 175.1px,#dce 0 176.6px,#fba 0 179.5px,#eee 0 180.9px,#97f 0 182.4px,#eee 0 183.8px,#dce 0 185.3px,#edd 0 186.7px,#fa9 0 188.1px,#31f 0 189.6px,#fcc 0 191px,#f97 0 192.5px,#fcb 0 193.9px,#eee 0 195.4px,#fcb 0 196.8px,#f64 0 198.3px,#fcc 0 199.7px,#fb9 0 201.2px,#f97 0 202.6px,#fcb 0 204.1px,#eee 0 205.5px,#cbe 0 207px,#fdd 0 208.4px,#f98 0 209.9px,#f87 0 211.3px,#fcb 0 212.8px,#fb9 0 214.2px,#fba 0 215.6px,#fdc 0 217.1px,#a8f 0 218.5px,#f98 0 220px,#b9f 0 221.4px,#f76 0 222.9px,#f97 0 224.3px,#fba 0 225.8px,#f97 0 227.2px,#b9f 0 228.7px,#fdd 0 230.1px,#fb9 0 231.6px,#fcc 0 233px,#edd 0 234.5px,#fba 0 235.9px,#b9f 0 237.4px,#cae 0 238.8px,#fdd 0 240.2px,#fba 0 241.7px,#f53 0 243.1px,#eee 0 244.6px,#fba 0 246px,#dde 0 247.5px,#85f 0 248.9px,#96f 0 250.4px,#ede 0 251.8px,#fdc 0 253.3px,#f42 0 254.7px,#fa9 0 256.2px,#fdc 0 257.6px,#f98 0 259.1px,#f75 0 260.5px,#fba 0 262px,#f97 0 263.4px,#fcb 0 264.9px,#f87 0 266.3px,#edd 0 267.7px,#fcc 0 269.2px,#fba 0 270.6px,#fa9 0 272.1px,#dde 0 273.5px,#fba 0 275px,#fcb 0 276.4px,#cbe 0 277.9px,#fcb 0 279.3px,#fba 0 280.8px,#fa9 0 282.2px,#fba 0 283.7px,#f65 0 285.1px,#f97 0 286.6px,#fa8 0 288px,#fba 0 289.5px,#f86 0 290.9px,#96f 0 292.4px,#fcc 0 293.8px,#f97 0 295.2px,#f98 0 296.7px,#fcb 0 298.1px,#cbe 0 299.6px,#fba 0 301px,#fa9 0 302.5px,#fcb 0 303.9px,#f98 0 305.4px,#ede 0 306.8px,#fa8 0 308.3px,#f97 0 309.7px,#fcc 0 311.2px,#dce 0 312.6px,#b9f 0 314.1px,#fdd 0 315.5px,#eee 0 317px,#cae 0 318.4px,#dce 0 319.8px,#fba 0 321.3px,#cbe 0 322.7px,#eee 0 324.2px,#fba 0 325.6px,#fa9 0 327.1px,#dde 0 330px,#cbe 0 331.4px,#fcb 0 332.9px,#eee 0 334.3px,#f97 0 335.8px,#eed 0 337.2px,#dce 0 338.7px,#fcc 0 340.1px,#f64 0 341.6px,#fcb 0 343px,#edd 0 344.5px,#f87 0 345.9px,#fcb 0 347.3px,#fbb 0 348.8px,#dde 0 350.2px,#eee 0 351.7px,#fcb 0 353.1px,#edd 0 354.6px,#fdc 0 356px,#fcb 0 357.5px,#eee 0 358.9px,#fcb 0 360.4px,#eee 0 361.8px,#f86 0 363.3px,#fb9 0 364.7px,#fa8 0 366.2px,#fcb 0 367.6px,#edd 0 369.1px,#f87 0 370.5px,#cbe 0 372px,#f97 0 373.4px,#edd 0 374.8px,#fdd 0 376.3px,#cae 0 377.7px,#fcc 0 379.2px,#fa8 0 380.6px,#fdd 0 382.1px,#fdc 0 383.5px,#dce 0 385px,#b9f 0 386.4px,#baf 0 387.9px,#fdc 0 389.3px,#dce 0 390.8px,#baf 0 392.2px,#fcb 0 393.7px,#fa8 0 395.1px,#fa9 0 396.6px,#f97 0 398px,#fdc 0 399.5px,#96f 0 400.9px,#a7f 0 402.3px,#ede 0 403.8px,#f75 0 405.2px,#fcc 0 406.7px,#fba 0 408.1px,#cbe 0 409.6px,#fa8 0 411px,#97f 0 412.5px,#fa8 0 413.9px,#fba 0 415.4px,#fdd 0 416.8px,#eee 0 418.3px,#f86 0 419.7px,#a8f 0 421.2px,#f86 0 422.6px,#baf 0 424.1px,#fb9 0 425.5px,#cae 0 426.9px,#f97 0 429.8px,#fa9 0 431.3px,#cbe 0 432.7px,#fdc 0 434.2px,#dde 0 435.6px,#cbe 0 437.1px,#fa8 0 438.5px,#cbe 0 441.4px,#fba 0 442.9px,#eee 0 444.3px,#f65 0 445.8px,#fba 0 447.2px,#cbe 0 448.7px,#f86 0 450.1px,#f75 0 451.6px,#f86 0 453px)"></div>
<div class="hr" style="top:192.14px;background:linear-gradient(90deg,#53f 0 1.4px,#00f 0 2.9px,#97f 0 4.3px,#fa8 0 5.8px,#a7f 0 7.2px,#00f 0 8.7px,#a8f 0 10.1px,#74f 0 11.6px,#64f 0 13px,#00f 0 14.5px,#b9f 0 15.9px,#a7f 0 17.4px,#a8f 0 18.8px,#63f 0 20.3px,#00f 0 21.7px,#96f 0 23.2px,#a8f 0 24.6px,#86f 0 26.1px,#74f 0 27.5px,#75f 0 28.9px,#64f 0 31.8px,#00f 0 33.3px,#85f 0 34.7px,#eed 0 36.2px,#f97 0 37.6px,#86f 0 39.1px,#f97 0 40.5px,#dce 0 42px,#00f 0 43.4px,#dde 0 44.9px,#b8f 0 46.3px,#fb9 0 47.8px,#fba 0 49.2px,#86f 0 50.7px,#fba 0 52.1px,#eee 0 53.5px,#00f 0 55px,#96f 0 56.4px,#86f 0 57.9px,#21f 0 59.3px,#a8f 0 60.8px,#42f 0 62.2px,#97f 0 63.7px,#53f 0 65.1px,#21f 0 66.6px,#fcb 0 68px,#f98 0 69.5px,#fba 0 70.9px,#fcb 0 72.4px,#fba 0 75.3px,#00f 0 78.2px,#f98 0 79.6px,#fb9 0 81px,#00f 0 82.5px,#fcb 0 83.9px,#f86 0 85.4px,#eee 0 86.8px,#eed 0 88.3px,#fdc 0 89.7px,#dce 0 91.2px,#cae 0 92.6px,#64f 0 94.1px,#edd 0 95.5px,#a8f 0 97px,#f97 0 98.4px,#53f 0 99.9px,#fcb 0 101.3px,#f53 0 102.8px,#fba 0 104.2px,#86f 0 105.7px,#fba 0 107.1px,#fcc 0 108.5px,#fcb 0 110px,#fdc 0 111.4px,#fa8 0 112.9px,#dce 0 114.3px,#ede 0 115.8px,#fa8 0 117.2px,#52f 0 118.7px,#96f 0 120.1px,#fdc 0 121.6px,#fa9 0 124.5px,#f75 0 125.9px,#fba 0 127.4px,#ede 0 128.8px,#fba 0 130.3px,#eee 0 131.7px,#fa8 0 133.2px,#dce 0 134.6px,#fcb 0 136px,#eee 0 137.5px,#fa8 0 138.9px,#fba 0 140.4px,#86f 0 141.8px,#f97 0 143.3px,#fcb 0 144.7px,#eee 0 146.2px,#fa9 0 147.6px,#f97 0 149.1px,#f98 0 150.5px,#53f 0 152px,#cbe 0 153.4px,#f97 0 154.9px,#fba 0 156.3px,#eed 0 157.8px,#a8f 0 159.2px,#fba 0 160.6px,#edd 0 162.1px,#fa9 0 163.5px,#fcb 0 165px,#f87 0 166.4px,#f86 0 167.9px,#a8f 0 169.3px,#fdc 0 170.8px,#fa9 0 172.2px,#f98 0 173.7px,#cbe 0 176.6px,#fdd 0 178px,#fdc 0 179.5px,#edd 0 180.9px,#97f 0 182.4px,#edd 0 183.8px,#cae 0 185.3px,#fcb 0 186.7px,#fba 0 188.1px,#96f 0 189.6px,#fa9 0 191px,#fcb 0 192.5px,#fdd 0 193.9px,#edd 0 195.4px,#cbe 0 196.8px,#f64 0 198.3px,#dce 0 199.7px,#f98 0 201.2px,#fcb 0 202.6px,#fa9 0 204.1px,#fba 0 205.5px,#b9f 0 207px,#edd 0 208.4px,#fdc 0 209.9px,#fa9 0 211.3px,#fb9 0 212.8px,#f64 0 214.2px,#fdc 0 215.6px,#fcb 0 217.1px,#a7f 0 218.5px,#f97 0 220px,#caf 0 221.4px,#f76 0 222.9px,#fa9 0 224.3px,#fbb 0 225.8px,#f86 0 227.2px,#dce 0 228.7px,#fdc 0 230.1px,#fcb 0 231.6px,#fdc 0 233px,#ede 0 234.5px,#fa9 0 235.9px,#a8f 0 237.4px,#fcc 0 238.8px,#fa8 0 240.2px,#f86 0 241.7px,#fa8 0 243.1px,#dde 0 244.6px,#fcc 0 246px,#dde 0 247.5px,#86f 0 248.9px,#a8f 0 250.4px,#fdd 0 251.8px,#fdc 0 253.3px,#fba 0 254.7px,#edd 0 256.2px,#fa9 0 257.6px,#fa8 0 259.1px,#f97 0 260.5px,#fa9 0 262px,#edd 0 263.4px,#fcb 0 264.9px,#f87 0 266.3px,#fdc 0 267.7px,#eed 0 269.2px,#f86 0 272.1px,#fcb 0 273.5px,#ede 0 275px,#fa9 0 276.4px,#a8f 0 277.9px,#dde 0 279.3px,#fb9 0 280.8px,#fba 0 282.2px,#fa9 0 283.7px,#f31 0 285.1px,#f97 0 286.6px,#f76 0 288px,#fa9 0 289.5px,#f42 0 290.9px,#86f 0 292.4px,#fcc 0 293.8px,#fba 0 295.2px,#fcb 0 298.1px,#96f 0 299.6px,#fba 0 301px,#fdc 0 302.5px,#fcb 0 303.9px,#f98 0 305.4px,#ede 0 306.8px,#fa9 0 308.3px,#fdc 0 309.7px,#fa9 0 311.2px,#cbe 0 315.5px,#dde 0 317px,#b9f 0 318.4px,#fba 0 319.8px,#fdc 0 321.3px,#cbe 0 322.7px,#fcc 0 324.2px,#fa9 0 328.5px,#dde 0 330px,#cbe 0 331.4px,#fa9 0 332.9px,#eed 0 334.3px,#f64 0 335.8px,#fdc 0 337.2px,#b9f 0 338.7px,#fb9 0 340.1px,#f97 0 341.6px,#fa9 0 343px,#fba 0 345.9px,#fbb 0 347.3px,#edd 0 348.8px,#ede 0 350.2px,#fdc 0 351.7px,#fa9 0 353.1px,#f86 0 354.6px,#fcb 0 356px,#dce 0 358.9px,#fba 0 360.4px,#fcb 0 361.8px,#f98 0 363.3px,#fcc 0 364.7px,#fa9 0 366.2px,#eee 0 367.6px,#fa8 0 369.1px,#fb9 0 370.5px,#ede 0 372px,#fba 0 373.4px,#fdc 0 376.3px,#cbe 0 377.7px,#eee 0 379.2px,#fba 0 380.6px,#fcb 0 382.1px,#fdd 0 383.5px,#b9f 0 385px,#a8f 0 386.4px,#eee 0 387.9px,#fb9 0 389.3px,#fdc 0 390.8px,#baf 0 392.2px,#fba 0 393.7px,#fa9 0 395.1px,#fba 0 396.6px,#f98 0 398px,#fba 0 399.5px,#97f 0 400.9px,#ede 0 402.3px,#cbe 0 403.8px,#f97 0 405.2px,#f98 0 406.7px,#fba 0 408.1px,#cae 0 409.6px,#fcb 0 411px,#96f 0 412.5px,#fba 0 413.9px,#eed 0 415.4px,#f98 0 416.8px,#eee 0 418.3px,#f87 0 419.7px,#a8f 0 421.2px,#fa9 0 422.6px,#dbe 0 424.1px,#fcc 0 425.5px,#dde 0 426.9px,#fa9 0 429.8px,#f98 0 431.3px,#caf 0 432.7px,#fa8 0 434.2px,#dde 0 435.6px,#a8f 0 437.1px,#f97 0 438.5px,#cbe 0 441.4px,#fcc 0 442.9px,#eee 0 444.3px,#f98 0 445.8px,#fba 0 447.2px,#eee 0 448.7px,#fba 0 450.1px,#f97 0 451.6px,#f98 0 453px)"></div>
<div class="hr" style="top:199.9px;background:linear-gradient(90deg,#fcb 0 1.4px,#85f 0 2.9px,#74f 0 4.3px,#a8f 0 5.8px,#42f 0 8.7px,#75f 0 10.1px,#53f 0 11.6px,#fa9 0 13px,#86f 0 14.5px,#42f 0 15.9px,#fba 0 17.4px,#74f 0 18.8px,#a7f 0 20.3px,#fba 0 21.7px,#21f 0 23.2px,#fba 0 27.5px,#75f 0 28.9px,#85f 0 30.4px,#53f 0 31.8px,#fba 0 33.3px,#96f 0 34.7px,#fb9 0 36.2px,#fa9 0 37.6px,#97f 0 39.1px,#42f 0 40.5px,#21f 0 42px,#fa8 0 43.4px,#75f 0 44.9px,#fa9 0 46.3px,#75f 0 47.8px,#31f 0 49.2px,#fba 0 50.7px,#53f 0 52.1px,#75f 0 53.5px,#fcb 0 55px,#fba 0 56.4px,#42f 0 57.9px,#fb9 0 59.3px,#85f 0 60.8px,#75f 0 62.2px,#85f 0 63.7px,#75f 0 65.1px,#10f 0 66.6px,#85f 0 68px,#32f 0 69.5px,#fba 0 70.9px,#96f 0 73.8px,#fb9 0 75.3px,#fba 0 76.7px,#fa9 0 78.2px,#fba 0 81px,#64f 0 82.5px,#fa9 0 83.9px,#53f 0 85.4px,#fba 0 86.8px,#86f 0 88.3px,#fcb 0 89.7px,#fbb 0 91.2px,#fb9 0 92.6px,#53f 0 94.1px,#fba 0 95.5px,#fa8 0 97px,#86f 0 98.4px,#fbb 0 99.9px,#00f 0 101.3px,#fcb 0 104.2px,#86f 0 105.7px,#85f 0 107.1px,#64f 0 108.5px,#fa8 0 110px,#fa9 0 111.4px,#fba 0 112.9px,#fa9 0 114.3px,#74f 0 115.8px,#fba 0 117.2px,#fcb 0 118.7px,#fbb 0 120.1px,#fba 0 124.5px,#fa9 0 125.9px,#31f 0 127.4px,#fa9 0 128.8px,#fba 0 131.7px,#fcb 0 133.2px,#fba 0 134.6px,#53f 0 136px,#64f 0 137.5px,#fba 0 140.4px,#fa9 0 141.8px,#fba 0 143.3px,#fcb 0 144.7px,#fba 0 146.2px,#fcc 0 147.6px,#fcb 0 149.1px,#86f 0 150.5px,#a8f 0 152px,#fa9 0 153.4px,#74f 0 154.9px,#fb9 0 157.8px,#fcb 0 159.2px,#75f 0 160.6px,#fa9 0 163.5px,#fba 0 166.4px,#53f 0 167.9px,#fba 0 169.3px,#fcb 0 170.8px,#64f 0 172.2px,#74f 0 173.7px,#fba 0 176.6px,#fa8 0 178px,#85f 0 179.5px,#fba 0 180.9px,#fb9 0 182.4px,#63f 0 183.8px,#86f 0 185.3px,#fba 0 186.7px,#63f 0 188.1px,#53f 0 189.6px,#74f 0 191px,#75f 0 192.5px,#fcb 0 193.9px,#fa8 0 195.4px,#fba 0 196.8px,#fa9 0 198.3px,#fba 0 201.2px,#74f 0 202.6px,#86f 0 204.1px,#fba 0 207px,#fa9 0 208.4px,#fba 0 209.9px,#fcb 0 211.3px,#fba 0 212.8px,#74f 0 214.2px,#fcb 0 215.6px,#fba 0 221.4px,#fcb 0 222.9px,#fba 0 224.3px,#fa9 0 225.8px,#fcb 0 227.2px,#fb9 0 230.1px,#53f 0 231.6px,#fba 0 235.9px,#fcb 0 237.4px,#fb9 0 238.8px,#86f 0 240.2px,#74f 0 241.7px,#fa9 0 243.1px,#fcc 0 244.6px,#fbb 0 246px,#fcb 0 247.5px,#fa8 0 248.9px,#96f 0 251.8px,#53f 0 253.3px,#10f 0 254.7px,#fb9 0 256.2px,#fba 0 257.6px,#fdc 0 259.1px,#fba 0 260.5px,#fa9 0 262px,#85f 0 263.4px,#fba 0 264.9px,#53f 0 266.3px,#fba 0 267.7px,#fa9 0 269.2px,#fba 0 270.6px,#fb9 0 272.1px,#fba 0 275px,#fa9 0 276.4px,#fba 0 277.9px,#f98 0 279.3px,#fba 0 280.8px,#96f 0 282.2px,#85f 0 283.7px,#fba 0 286.6px,#fcb 0 289.5px,#fba 0 292.4px,#fdc 0 293.8px,#10f 0 295.2px,#fba 0 296.7px,#63f 0 298.1px,#53f 0 301px,#21f 0 302.5px,#fba 0 306.8px,#fa9 0 308.3px,#fb9 0 309.7px,#fa9 0 311.2px,#fba 0 314.1px,#fcb 0 315.5px,#fba 0 319.8px,#fa9 0 321.3px,#fb9 0 322.7px,#64f 0 324.2px,#fba 0 325.6px,#fa9 0 327.1px,#74f 0 328.5px,#fa9 0 330px,#fb9 0 331.4px,#fa9 0 332.9px,#fba 0 334.3px,#fcb 0 337.2px,#fa8 0 338.7px,#fba 0 340.1px,#fb9 0 341.6px,#fba 0 344.5px,#f98 0 345.9px,#fcb 0 347.3px,#fba 0 350.2px,#fcb 0 353.1px,#fba 0 357.5px,#85f 0 358.9px,#fcb 0 360.4px,#fb9 0 361.8px,#fa9 0 364.7px,#fcb 0 366.2px,#fdc 0 367.6px,#fa9 0 369.1px,#fb9 0 370.5px,#fba 0 372px,#fa9 0 373.4px,#fba 0 374.8px,#97f 0 376.3px,#64f 0 377.7px,#42f 0 379.2px,#fba 0 382.1px,#fa9 0 383.5px,#fba 0 385px,#53f 0 386.4px,#fb9 0 387.9px,#74f 0 389.3px,#fbb 0 390.8px,#fba 0 396.6px,#74f 0 398px,#fba 0 399.5px,#fa8 0 400.9px,#fba 0 402.3px,#85f 0 403.8px,#fa8 0 405.2px,#f98 0 406.7px,#fba 0 409.6px,#53f 0 411px,#fa9 0 412.5px,#fba 0 413.9px,#fbb 0 415.4px,#fb9 0 416.8px,#fa9 0 418.3px,#fb9 0 419.7px,#fa8 0 421.2px,#fa9 0 422.6px,#fb9 0 424.1px,#fba 0 425.5px,#fb9 0 426.9px,#fa9 0 428.4px,#64f 0 429.8px,#fa9 0 431.3px,#fba 0 432.7px,#fa9 0 435.6px,#fba 0 437.1px,#fcb 0 438.5px,#fa8 0 440px,#fb9 0 441.4px,#fba 0 442.9px,#96f 0 444.3px,#fba 0 445.8px,#fcb 0 447.2px,#fba 0 448.7px,#fcb 0 450.1px,#fba 0 453px)"></div>
<div class="hr" style="top:207.66px;background:linear-gradient(90deg,#fa9 0 1.4px,#85f 0 2.9px,#74f 0 4.3px,#a8f 0 5.8px,#64f 0 7.2px,#10f 0 8.7px,#85f 0 10.1px,#00f 0 11.6px,#fba 0 13px,#86f 0 14.5px,#53f 0 15.9px,#fba 0 17.4px,#85f 0 18.8px,#a8f 0 20.3px,#fba 0 21.7px,#00f 0 23.2px,#fba 0 24.6px,#fa8 0 26.1px,#fba 0 27.5px,#75f 0 28.9px,#74f 0 30.4px,#64f 0 31.8px,#fba 0 33.3px,#75f 0 34.7px,#fba 0 36.2px,#fa8 0 37.6px,#85f 0 39.1px,#42f 0 42px,#fba 0 43.4px,#64f 0 44.9px,#fb9 0 46.3px,#85f 0 47.8px,#53f 0 49.2px,#fba 0 50.7px,#53f 0 53.5px,#fcb 0 55px,#fb9 0 56.4px,#00f 0 57.9px,#fa9 0 59.3px,#96f 0 60.8px,#53f 0 62.2px,#85f 0 63.7px,#75f 0 65.1px,#21f 0 66.6px,#86f 0 68px,#21f 0 69.5px,#fba 0 70.9px,#96f 0 72.4px,#a7f 0 73.8px,#fba 0 75.3px,#fcb 0 78.2px,#fba 0 81px,#74f 0 82.5px,#f98 0 83.9px,#96f 0 85.4px,#fba 0 86.8px,#97f 0 88.3px,#fba 0 91.2px,#f98 0 92.6px,#42f 0 94.1px,#fba 0 97px,#a8f 0 98.4px,#fba 0 99.9px,#53f 0 101.3px,#fba 0 102.8px,#fcb 0 104.2px,#75f 0 107.1px,#64f 0 108.5px,#fbb 0 110px,#fba 0 111.4px,#fa9 0 112.9px,#fb9 0 114.3px,#74f 0 115.8px,#fb9 0 117.2px,#fba 0 118.7px,#fb9 0 120.1px,#fba 0 121.6px,#fcb 0 123px,#fba 0 125.9px,#52f 0 127.4px,#fa9 0 128.8px,#fcb 0 130.3px,#fba 0 131.7px,#fb9 0 133.2px,#fcb 0 134.6px,#63f 0 136px,#75f 0 137.5px,#fcb 0 138.9px,#fa9 0 140.4px,#fcb 0 141.8px,#fa9 0 143.3px,#fba 0 144.7px,#fcb 0 146.2px,#fbb 0 147.6px,#fba 0 149.1px,#74f 0 150.5px,#97f 0 152px,#fcb 0 153.4px,#85f 0 154.9px,#fa9 0 157.8px,#fcb 0 159.2px,#63f 0 160.6px,#fba 0 166.4px,#63f 0 167.9px,#fba 0 169.3px,#fcb 0 170.8px,#97f 0 172.2px,#53f 0 173.7px,#fba 0 175.1px,#fa9 0 176.6px,#fba 0 178px,#75f 0 179.5px,#fa8 0 180.9px,#fba 0 182.4px,#85f 0 185.3px,#fba 0 186.7px,#74f 0 188.1px,#42f 0 189.6px,#53f 0 191px,#86f 0 192.5px,#fba 0 193.9px,#fb9 0 195.4px,#fcb 0 196.8px,#fba 0 198.3px,#fa9 0 201.2px,#85f 0 204.1px,#fba 0 205.5px,#fb9 0 207px,#fa9 0 208.4px,#fba 0 209.9px,#fa9 0 211.3px,#fba 0 212.8px,#86f 0 214.2px,#fcb 0 215.6px,#fba 0 217.1px,#fcb 0 218.5px,#fb9 0 221.4px,#fcb 0 222.9px,#fba 0 225.8px,#fcb 0 228.7px,#fbb 0 230.1px,#64f 0 231.6px,#fa9 0 233px,#fba 0 238.8px,#75f 0 240.2px,#85f 0 241.7px,#fba 0 246px,#fa9 0 247.5px,#fba 0 248.9px,#97f 0 250.4px,#75f 0 251.8px,#74f 0 253.3px,#10f 0 254.7px,#fba 0 256.2px,#fb9 0 257.6px,#fba 0 259.1px,#fcb 0 260.5px,#fcc 0 262px,#85f 0 263.4px,#fba 0 264.9px,#85f 0 266.3px,#fba 0 269.2px,#fb9 0 270.6px,#fba 0 273.5px,#fcb 0 275px,#fb9 0 276.4px,#fa9 0 277.9px,#fba 0 279.3px,#fa8 0 280.8px,#86f 0 282.2px,#96f 0 283.7px,#fcb 0 286.6px,#fa8 0 288px,#fa9 0 290.9px,#fcb 0 292.4px,#fba 0 293.8px,#63f 0 295.2px,#fba 0 296.7px,#64f 0 298.1px,#32f 0 299.6px,#64f 0 301px,#00f 0 302.5px,#fba 0 311.2px,#fa9 0 312.6px,#fba 0 314.1px,#fb9 0 315.5px,#fcb 0 317px,#fba 0 318.4px,#fa9 0 319.8px,#fbb 0 321.3px,#fba 0 322.7px,#42f 0 324.2px,#fa9 0 325.6px,#fba 0 327.1px,#64f 0 328.5px,#fb9 0 330px,#fa9 0 331.4px,#fb9 0 332.9px,#fa9 0 334.3px,#fba 0 345.9px,#fb9 0 347.3px,#fba 0 348.8px,#fcb 0 350.2px,#fba 0 351.7px,#fcb 0 354.6px,#fba 0 356px,#fcb 0 357.5px,#63f 0 358.9px,#fcb 0 360.4px,#fa9 0 361.8px,#fba 0 363.3px,#fa9 0 364.7px,#fba 0 367.6px,#fb9 0 370.5px,#fba 0 372px,#fcb 0 373.4px,#fba 0 374.8px,#86f 0 376.3px,#74f 0 377.7px,#42f 0 379.2px,#fa9 0 382.1px,#fb9 0 383.5px,#fa9 0 385px,#74f 0 386.4px,#f98 0 387.9px,#75f 0 389.3px,#f98 0 390.8px,#fba 0 392.2px,#fb9 0 393.7px,#fa9 0 395.1px,#fba 0 396.6px,#64f 0 398px,#fcb 0 399.5px,#fa9 0 400.9px,#fba 0 402.3px,#96f 0 403.8px,#fba 0 405.2px,#fcb 0 406.7px,#fb9 0 408.1px,#fa9 0 409.6px,#52f 0 411px,#fcb 0 412.5px,#fba 0 415.4px,#fcb 0 416.8px,#fa8 0 418.3px,#fa9 0 419.7px,#fba 0 421.2px,#fcb 0 422.6px,#fba 0 424.1px,#fa8 0 425.5px,#fa9 0 428.4px,#42f 0 429.8px,#fba 0 431.3px,#fcb 0 432.7px,#fa8 0 434.2px,#fb9 0 435.6px,#fcc 0 437.1px,#fcb 0 438.5px,#fb9 0 440px,#fba 0 442.9px,#96f 0 444.3px,#fa8 0 445.8px,#fba 0 447.2px,#fcb 0 448.7px,#fba 0 450.1px,#fcb 0 451.6px,#fba 0 453px)"></div>
<div class="hr" style="top:215.41px;background:linear-gradient(90deg,#fb9 0 1.4px,#f86 0 2.9px,#edd 0 4.3px,#f76 0 5.8px,#eed 0 7.2px,#f86 0 8.7px,#fa9 0 10.1px,#f98 0 11.6px,#fdc 0 13px,#f97 0 14.5px,#edd 0 15.9px,#fba 0 17.4px,#f98 0 18.8px,#f00 0 20.3px,#fdc 0 21.7px,#f31 0 23.2px,#fa8 0 24.6px,#f64 0 26.1px,#f86 0 27.5px,#f75 0 28.9px,#f97 0 30.4px,#f11 0 31.8px,#f86 0 33.3px,#caf 0 34.7px,#fba 0 36.2px,#fcb 0 39.1px,#cbe 0 40.5px,#edd 0 42px,#fcb 0 43.4px,#f64 0 44.9px,#baf 0 46.3px,#fa8 0 47.8px,#f75 0 49.2px,#fa8 0 50.7px,#dde 0 52.1px,#edd 0 53.5px,#eee 0 55px,#f43 0 56.4px,#f97 0 57.9px,#f00 0 59.3px,#fcb 0 60.8px,#f42 0 62.2px,#fba 0 63.7px,#fcb 0 66.6px,#fba 0 68px,#fcb 0 69.5px,#f75 0 70.9px,#f86 0 72.4px,#fcc 0 73.8px,#f75 0 76.7px,#fba 0 78.2px,#fdd 0 79.6px,#f87 0 81px,#f42 0 82.5px,#fa9 0 83.9px,#fcb 0 85.4px,#fdd 0 86.8px,#fba 0 88.3px,#f97 0 89.7px,#eee 0 91.2px,#f98 0 92.6px,#fa9 0 94.1px,#f75 0 97px,#fcb 0 98.4px,#fa9 0 99.9px,#fa8 0 101.3px,#fba 0 102.8px,#f76 0 104.2px,#fcb 0 107.1px,#fdc 0 108.5px,#dbe 0 110px,#f75 0 111.4px,#dce 0 112.9px,#fbb 0 114.3px,#dbe 0 115.8px,#fcb 0 117.2px,#fb9 0 118.7px,#fa8 0 120.1px,#fba 0 121.6px,#f64 0 123px,#edd 0 124.5px,#f97 0 125.9px,#eee 0 127.4px,#fa9 0 128.8px,#fba 0 130.3px,#dde 0 131.7px,#fa9 0 133.2px,#cbe 0 134.6px,#f86 0 136px,#fba 0 137.5px,#f86 0 138.9px,#f75 0 140.4px,#fa9 0 143.3px,#f00 0 144.7px,#eee 0 146.2px,#f98 0 147.6px,#dde 0 149.1px,#eee 0 150.5px,#f86 0 152px,#eee 0 153.4px,#fba 0 154.9px,#fcb 0 156.3px,#fa9 0 157.8px,#fb9 0 159.2px,#eee 0 160.6px,#b9f 0 162.1px,#fdc 0 163.5px,#fcb 0 165px,#f00 0 166.4px,#fcb 0 167.9px,#fa8 0 169.3px,#f75 0 170.8px,#f97 0 172.2px,#fba 0 173.7px,#edd 0 175.1px,#fba 0 176.6px,#dce 0 178px,#ede 0 179.5px,#fb9 0 180.9px,#f86 0 182.4px,#f98 0 183.8px,#dde 0 185.3px,#fdc 0 186.7px,#ede 0 188.1px,#edd 0 189.6px,#fcb 0 191px,#f87 0 192.5px,#f97 0 193.9px,#97f 0 195.4px,#fdd 0 196.8px,#fba 0 198.3px,#fb9 0 199.7px,#fcc 0 201.2px,#eee 0 204.1px,#b9f 0 205.5px,#dde 0 207px,#baf 0 208.4px,#cbe 0 211.3px,#97f 0 212.8px,#dbe 0 214.2px,#97f 0 215.6px,#a8f 0 217.1px,#a7f 0 218.5px,#86f 0 220px,#cae 0 222.9px,#fba 0 224.3px,#85f 0 225.8px,#b8f 0 227.2px,#a7f 0 228.7px,#96f 0 230.1px,#dce 0 231.6px,#edd 0 233px,#85f 0 234.5px,#b9f 0 235.9px,#85f 0 238.8px,#97f 0 240.2px,#b9f 0 241.7px,#eee 0 243.1px,#85f 0 244.6px,#b9f 0 246px,#dbe 0 247.5px,#dce 0 248.9px,#cae 0 250.4px,#85f 0 251.8px,#cbe 0 253.3px,#fcb 0 254.7px,#a8f 0 256.2px,#cae 0 257.6px,#dde 0 259.1px,#42f 0 260.5px,#75f 0 262px,#cae 0 263.4px,#85f 0 264.9px,#97f 0 266.3px,#b9f 0 267.7px,#caf 0 269.2px,#a8f 0 270.6px,#fcb 0 272.1px,#74f 0 273.5px,#75f 0 275px,#dce 0 276.4px,#74f 0 277.9px,#dce 0 279.3px,#cae 0 280.8px,#00f 0 282.2px,#f86 0 283.7px,#eee 0 285.1px,#b9f 0 286.6px,#a8f 0 288px,#cbe 0 289.5px,#b9f 0 290.9px,#86f 0 292.4px,#cbe 0 293.8px,#53f 0 295.2px,#75f 0 296.7px,#edd 0 298.1px,#85f 0 299.6px,#b9f 0 301px,#dce 0 303.9px,#b9f 0 305.4px,#96f 0 306.8px,#97f 0 308.3px,#fba 0 309.7px,#cbe 0 311.2px,#b9f 0 314.1px,#96f 0 315.5px,#a8f 0 317px,#fba 0 318.4px,#cbe 0 319.8px,#baf 0 321.3px,#cbe 0 322.7px,#cae 0 324.2px,#fba 0 325.6px,#cae 0 327.1px,#97f 0 328.5px,#b9f 0 330px,#96f 0 331.4px,#a8f 0 332.9px,#b8f 0 334.3px,#eee 0 335.8px,#dde 0 337.2px,#64f 0 338.7px,#b9f 0 340.1px,#dce 0 341.6px,#dde 0 343px,#caf 0 344.5px,#edd 0 345.9px,#96f 0 347.3px,#dbe 0 348.8px,#a8f 0 350.2px,#cae 0 351.7px,#fba 0 353.1px,#96f 0 354.6px,#53f 0 356px,#97f 0 357.5px,#cbe 0 358.9px,#96f 0 360.4px,#a7f 0 361.8px,#f98 0 363.3px,#dce 0 364.7px,#cae 0 366.2px,#b9f 0 367.6px,#a8f 0 369.1px,#cbe 0 370.5px,#cae 0 372px,#baf 0 373.4px,#cbe 0 374.8px,#cae 0 376.3px,#85f 0 377.7px,#96f 0 379.2px,#fcb 0 380.6px,#b8f 0 382.1px,#baf 0 383.5px,#b9f 0 385px,#85f 0 386.4px,#edd 0 387.9px,#b9f 0 389.3px,#75f 0 390.8px,#b9f 0 392.2px,#a7f 0 393.7px,#b9f 0 395.1px,#a8f 0 396.6px,#85f 0 398px,#97f 0 399.5px,#a8f 0 400.9px,#74f 0 402.3px,#85f 0 403.8px,#a7f 0 405.2px,#f97 0 406.7px,#85f 0 408.1px,#ede 0 409.6px,#b9f 0 411px,#85f 0 412.5px,#96f 0 413.9px,#dde 0 415.4px,#a7f 0 416.8px,#b9f 0 418.3px,#f87 0 419.7px,#b9f 0 421.2px,#cae 0 422.6px,#a8f 0 424.1px,#42f 0 425.5px,#a8f 0 426.9px,#b9f 0 428.4px,#97f 0 429.8px,#fcb 0 431.3px,#dde 0 432.7px,#a7f 0 434.2px,#b9f 0 435.6px,#a8f 0 438.5px,#cbe 0 440px,#00f 0 441.4px,#eee 0 442.9px,#a7f 0 444.3px,#a8f 0 445.8px,#75f 0 447.2px,#f98 0 448.7px,#baf 0 451.6px,#ede 0 453px)"></div>
<div class="hr" style="top:223.17px;background:linear-gradient(90deg,#fba 0 1.4px,#fa8 0 2.9px,#f98 0 4.3px,#f00 0 5.8px,#f87 0 7.2px,#f00 0 8.7px,#fcb 0 11.6px,#fa8 0 13px,#f00 0 14.5px,#fdc 0 15.9px,#edd 0 17.4px,#fa8 0 18.8px,#f21 0 20.3px,#dce 0 21.7px,#f43 0 23.2px,#fcb 0 24.6px,#f10 0 26.1px,#f53 0 27.5px,#f75 0 28.9px,#f87 0 30.4px,#fa8 0 33.3px,#fdc 0 36.2px,#edd 0 37.6px,#f00 0 39.1px,#ede 0 40.5px,#f86 0 42px,#eee 0 43.4px,#f00 0 44.9px,#f98 0 46.3px,#f75 0 47.8px,#f86 0 49.2px,#fdd 0 50.7px,#dde 0 52.1px,#f87 0 53.5px,#fcb 0 55px,#f86 0 56.4px,#fa9 0 57.9px,#f76 0 59.3px,#f98 0 60.8px,#fcb 0 62.2px,#f98 0 63.7px,#f75 0 65.1px,#f00 0 66.6px,#fba 0 69.5px,#f00 0 70.9px,#fba 0 72.4px,#eee 0 73.8px,#f75 0 75.3px,#f53 0 76.7px,#f42 0 78.2px,#fba 0 79.6px,#f64 0 81px,#f53 0 82.5px,#f76 0 83.9px,#fcb 0 85.4px,#f97 0 86.8px,#edd 0 88.3px,#fba 0 89.7px,#fcb 0 91.2px,#b9f 0 92.6px,#f32 0 94.1px,#f64 0 95.5px,#fba 0 97px,#fcb 0 98.4px,#f53 0 99.9px,#f97 0 101.3px,#eee 0 102.8px,#f97 0 104.2px,#f64 0 105.7px,#f75 0 107.1px,#dde 0 108.5px,#fb9 0 110px,#fcc 0 111.4px,#f75 0 112.9px,#f00 0 114.3px,#f86 0 115.8px,#f97 0 117.2px,#fdc 0 118.7px,#fcb 0 120.1px,#fba 0 121.6px,#f86 0 123px,#f75 0 124.5px,#dde 0 125.9px,#f98 0 127.4px,#f97 0 128.8px,#fa8 0 130.3px,#f87 0 131.7px,#eee 0 133.2px,#cbe 0 134.6px,#fa9 0 136px,#eee 0 137.5px,#fa9 0 138.9px,#f75 0 140.4px,#fba 0 141.8px,#fb9 0 143.3px,#f32 0 144.7px,#f43 0 146.2px,#fcb 0 147.6px,#eee 0 149.1px,#fa8 0 150.5px,#f86 0 152px,#edd 0 154.9px,#fa9 0 156.3px,#fcb 0 157.8px,#fa9 0 159.2px,#f86 0 160.6px,#edd 0 162.1px,#f86 0 165px,#f53 0 166.4px,#f65 0 167.9px,#dde 0 169.3px,#f53 0 170.8px,#fcb 0 172.2px,#f75 0 173.7px,#dbe 0 175.1px,#f64 0 176.6px,#fba 0 178px,#eed 0 179.5px,#f00 0 180.9px,#fdc 0 182.4px,#fba 0 183.8px,#fcb 0 185.3px,#fdc 0 186.7px,#fba 0 188.1px,#fdc 0 189.6px,#f98 0 191px,#f64 0 192.5px,#fa9 0 193.9px,#fcb 0 195.4px,#fa8 0 196.8px,#fcb 0 198.3px,#fcc 0 199.7px,#f86 0 201.2px,#f98 0 202.6px,#a7f 0 204.1px,#cae 0 205.5px,#fba 0 207px,#dce 0 208.4px,#cbe 0 209.9px,#cae 0 211.3px,#a8f 0 212.8px,#a7f 0 214.2px,#b9f 0 215.6px,#f86 0 217.1px,#96f 0 218.5px,#cbe 0 220px,#cae 0 221.4px,#ede 0 222.9px,#f75 0 224.3px,#dce 0 227.2px,#dde 0 228.7px,#baf 0 230.1px,#fcc 0 231.6px,#eee 0 233px,#75f 0 234.5px,#b9f 0 235.9px,#cbe 0 237.4px,#96f 0 238.8px,#dde 0 240.2px,#fcc 0 241.7px,#cbe 0 243.1px,#63f 0 244.6px,#b8f 0 246px,#cae 0 247.5px,#dde 0 248.9px,#96f 0 251.8px,#dbe 0 253.3px,#fcb 0 254.7px,#64f 0 256.2px,#cbe 0 257.6px,#ede 0 259.1px,#00f 0 260.5px,#53f 0 262px,#cbe 0 263.4px,#dde 0 264.9px,#b9f 0 266.3px,#cbe 0 267.7px,#b9f 0 269.2px,#eee 0 270.6px,#fa8 0 272.1px,#caf 0 273.5px,#b9f 0 275px,#eee 0 276.4px,#dce 0 277.9px,#cbe 0 279.3px,#fcb 0 280.8px,#86f 0 282.2px,#fdd 0 283.7px,#cbe 0 285.1px,#cae 0 286.6px,#f86 0 288px,#cbe 0 289.5px,#fdc 0 290.9px,#85f 0 292.4px,#cae 0 293.8px,#a8f 0 295.2px,#baf 0 296.7px,#cbe 0 298.1px,#53f 0 299.6px,#f98 0 301px,#eee 0 303.9px,#fdd 0 305.4px,#cbe 0 306.8px,#96f 0 308.3px,#dce 0 309.7px,#dde 0 312.6px,#fba 0 314.1px,#dbe 0 315.5px,#edd 0 317px,#fba 0 318.4px,#dce 0 319.8px,#74f 0 321.3px,#cbe 0 322.7px,#b9f 0 324.2px,#85f 0 325.6px,#ede 0 327.1px,#baf 0 328.5px,#eee 0 330px,#86f 0 331.4px,#96f 0 332.9px,#cae 0 334.3px,#b9f 0 335.8px,#dde 0 337.2px,#75f 0 338.7px,#a8f 0 340.1px,#dce 0 341.6px,#fdc 0 343px,#b9f 0 344.5px,#86f 0 345.9px,#dce 0 347.3px,#edd 0 348.8px,#cae 0 350.2px,#dce 0 351.7px,#fbb 0 353.1px,#cae 0 354.6px,#00f 0 356px,#63f 0 357.5px,#96f 0 358.9px,#dbe 0 360.4px,#fcc 0 361.8px,#fa9 0 363.3px,#cbe 0 364.7px,#dce 0 369.1px,#dde 0 370.5px,#a8f 0 372px,#dce 0 373.4px,#eee 0 374.8px,#96f 0 376.3px,#75f 0 377.7px,#86f 0 379.2px,#dce 0 380.6px,#fcb 0 382.1px,#f42 0 383.5px,#edd 0 385px,#64f 0 386.4px,#fcb 0 387.9px,#edd 0 389.3px,#cbe 0 390.8px,#75f 0 392.2px,#ede 0 393.7px,#cae 0 395.1px,#dde 0 396.6px,#97f 0 398px,#baf 0 399.5px,#a8f 0 400.9px,#cbe 0 402.3px,#fa8 0 403.8px,#cbe 0 405.2px,#cae 0 406.7px,#97f 0 408.1px,#b9f 0 409.6px,#a8f 0 411px,#a7f 0 412.5px,#cae 0 413.9px,#edd 0 415.4px,#b9f 0 416.8px,#cbe 0 418.3px,#fa9 0 419.7px,#dce 0 421.2px,#85f 0 422.6px,#b9f 0 424.1px,#a8f 0 425.5px,#fa9 0 426.9px,#eee 0 428.4px,#97f 0 429.8px,#edd 0 431.3px,#ede 0 432.7px,#cbe 0 434.2px,#fdd 0 435.6px,#eee 0 437.1px,#b9f 0 438.5px,#caf 0 440px,#10f 0 441.4px,#fa9 0 442.9px,#eed 0 444.3px,#ede 0 445.8px,#97f 0 447.2px,#f53 0 450.1px,#ede 0 453px)"></div>
<div class="hr" style="top:230.92px;background:linear-gradient(90deg,#f86 0 1.4px,#f00 0 2.9px,#f97 0 4.3px,#f53 0 5.8px,#fba 0 7.2px,#f97 0 8.7px,#fcc 0 10.1px,#fa9 0 11.6px,#fba 0 13px,#f32 0 14.5px,#f86 0 15.9px,#fa8 0 17.4px,#fcb 0 18.8px,#cbe 0 20.3px,#edd 0 21.7px,#f42 0 23.2px,#f75 0 24.6px,#cae 0 26.1px,#dde 0 27.5px,#f87 0 28.9px,#fcb 0 30.4px,#fa9 0 31.8px,#fcb 0 33.3px,#fa8 0 34.7px,#dce 0 36.2px,#fcc 0 37.6px,#f00 0 39.1px,#fcb 0 40.5px,#fdd 0 42px,#f76 0 43.4px,#f42 0 44.9px,#eee 0 46.3px,#f97 0 47.8px,#f64 0 49.2px,#fa8 0 52.1px,#dde 0 53.5px,#f97 0 55px,#f86 0 56.4px,#fcb 0 57.9px,#fa8 0 59.3px,#f64 0 60.8px,#fa8 0 62.2px,#f98 0 63.7px,#fcc 0 65.1px,#fa8 0 66.6px,#f87 0 68px,#f21 0 69.5px,#f31 0 70.9px,#fa8 0 72.4px,#f97 0 73.8px,#f86 0 75.3px,#fa9 0 76.7px,#fdd 0 78.2px,#f64 0 79.6px,#f98 0 81px,#f76 0 82.5px,#fdc 0 83.9px,#fcb 0 86.8px,#fba 0 88.3px,#fa9 0 89.7px,#f75 0 91.2px,#fdc 0 92.6px,#f75 0 94.1px,#f97 0 95.5px,#fcb 0 97px,#f64 0 98.4px,#f42 0 99.9px,#fba 0 101.3px,#f97 0 102.8px,#fa8 0 104.2px,#f21 0 105.7px,#f98 0 107.1px,#fa8 0 108.5px,#fba 0 110px,#f98 0 112.9px,#fa8 0 114.3px,#fa9 0 115.8px,#f53 0 117.2px,#edd 0 118.7px,#fba 0 121.6px,#f97 0 123px,#f31 0 124.5px,#f64 0 125.9px,#eee 0 127.4px,#f98 0 128.8px,#fcb 0 130.3px,#fa8 0 131.7px,#f86 0 133.2px,#cbe 0 134.6px,#eee 0 136px,#fcb 0 137.5px,#fba 0 138.9px,#f64 0 140.4px,#f97 0 141.8px,#f75 0 143.3px,#f42 0 144.7px,#f75 0 146.2px,#fa8 0 147.6px,#ede 0 149.1px,#eee 0 150.5px,#f53 0 152px,#f87 0 153.4px,#f98 0 154.9px,#eed 0 156.3px,#fb9 0 159.2px,#f64 0 160.6px,#fb9 0 162.1px,#f98 0 163.5px,#fdc 0 165px,#f75 0 166.4px,#f86 0 167.9px,#eee 0 169.3px,#f00 0 170.8px,#dbe 0 172.2px,#f75 0 173.7px,#eee 0 175.1px,#f97 0 176.6px,#eee 0 178px,#fcc 0 179.5px,#f53 0 180.9px,#fcb 0 182.4px,#fa9 0 185.3px,#f98 0 186.7px,#fba 0 189.6px,#f53 0 191px,#fa8 0 192.5px,#f98 0 193.9px,#fdc 0 195.4px,#dbe 0 196.8px,#f97 0 198.3px,#fa9 0 199.7px,#f86 0 202.6px,#b9f 0 204.1px,#cae 0 205.5px,#f98 0 207px,#cbe 0 209.9px,#fa9 0 211.3px,#dbe 0 212.8px,#fdc 0 214.2px,#96f 0 215.6px,#caf 0 217.1px,#dde 0 218.5px,#a7f 0 220px,#dde 0 221.4px,#fcc 0 222.9px,#cbe 0 224.3px,#eee 0 225.8px,#b9f 0 227.2px,#eee 0 230.1px,#dce 0 231.6px,#eee 0 233px,#97f 0 234.5px,#caf 0 235.9px,#cae 0 237.4px,#eee 0 238.8px,#96f 0 240.2px,#fdd 0 241.7px,#edd 0 243.1px,#a8f 0 244.6px,#cae 0 246px,#dce 0 247.5px,#fba 0 248.9px,#dce 0 250.4px,#b9f 0 253.3px,#f00 0 254.7px,#cbe 0 256.2px,#dce 0 257.6px,#fa8 0 259.1px,#00f 0 260.5px,#dce 0 263.4px,#b9f 0 264.9px,#64f 0 266.3px,#eee 0 267.7px,#dce 0 269.2px,#baf 0 270.6px,#eed 0 272.1px,#cae 0 273.5px,#b9f 0 275px,#fdd 0 276.4px,#cbe 0 277.9px,#dde 0 279.3px,#a8f 0 280.8px,#cbe 0 282.2px,#dbe 0 283.7px,#cae 0 285.1px,#eee 0 286.6px,#eed 0 288px,#86f 0 289.5px,#b9f 0 290.9px,#a7f 0 292.4px,#b8f 0 293.8px,#97f 0 295.2px,#fa9 0 296.7px,#eed 0 298.1px,#a8f 0 299.6px,#fdc 0 301px,#fba 0 302.5px,#dce 0 303.9px,#a8f 0 305.4px,#dde 0 306.8px,#cae 0 308.3px,#eee 0 309.7px,#edd 0 311.2px,#baf 0 312.6px,#fa8 0 314.1px,#baf 0 315.5px,#dce 0 317px,#fb9 0 318.4px,#dce 0 321.3px,#caf 0 322.7px,#eee 0 324.2px,#b9f 0 325.6px,#a8f 0 327.1px,#baf 0 328.5px,#eee 0 330px,#dce 0 331.4px,#dde 0 332.9px,#b9f 0 334.3px,#cbe 0 335.8px,#ede 0 337.2px,#b9f 0 338.7px,#baf 0 340.1px,#dde 0 341.6px,#b8f 0 343px,#ede 0 344.5px,#dce 0 345.9px,#baf 0 347.3px,#fba 0 348.8px,#cae 0 350.2px,#dde 0 351.7px,#f86 0 353.1px,#baf 0 354.6px,#86f 0 356px,#64f 0 357.5px,#f97 0 358.9px,#dce 0 360.4px,#fdc 0 361.8px,#f97 0 363.3px,#dde 0 366.2px,#cbe 0 367.6px,#dce 0 369.1px,#eee 0 370.5px,#cbe 0 372px,#fcb 0 373.4px,#eed 0 374.8px,#eee 0 376.3px,#cbe 0 377.7px,#b9f 0 379.2px,#eee 0 380.6px,#edd 0 382.1px,#dce 0 383.5px,#cbe 0 385px,#86f 0 386.4px,#ede 0 387.9px,#caf 0 389.3px,#b9f 0 390.8px,#a7f 0 392.2px,#dce 0 393.7px,#cbe 0 395.1px,#97f 0 396.6px,#a8f 0 399.5px,#fcb 0 400.9px,#baf 0 402.3px,#cbe 0 403.8px,#96f 0 405.2px,#64f 0 406.7px,#97f 0 408.1px,#fba 0 409.6px,#a8f 0 411px,#b9f 0 412.5px,#a8f 0 413.9px,#fbb 0 415.4px,#dde 0 416.8px,#dbe 0 418.3px,#f86 0 419.7px,#dbe 0 421.2px,#cbe 0 422.6px,#86f 0 424.1px,#b8f 0 425.5px,#a7f 0 426.9px,#cae 0 428.4px,#a8f 0 429.8px,#ede 0 432.7px,#b9f 0 434.2px,#f97 0 435.6px,#b9f 0 438.5px,#eee 0 440px,#86f 0 441.4px,#fb9 0 442.9px,#eed 0 444.3px,#cbe 0 445.8px,#b9f 0 447.2px,#f43 0 448.7px,#dce 0 450.1px,#cbe 0 451.6px,#fdc 0 453px)"></div>
<div class="hr" style="top:238.68px;background:linear-gradient(90deg,#fa9 0 1.4px,#fba 0 2.9px,#fa8 0 4.3px,#f97 0 5.8px,#f64 0 7.2px,#eee 0 8.7px,#f75 0 10.1px,#fba 0 11.6px,#f98 0 13px,#f97 0 14.5px,#fa9 0 15.9px,#f75 0 17.4px,#f98 0 18.8px,#fdc 0 20.3px,#fcb 0 21.7px,#f64 0 23.2px,#f86 0 24.6px,#f97 0 27.5px,#f64 0 28.9px,#fcc 0 30.4px,#f00 0 31.8px,#fcc 0 33.3px,#eee 0 34.7px,#f87 0 36.2px,#f76 0 37.6px,#f00 0 39.1px,#f86 0 40.5px,#f98 0 42px,#f97 0 43.4px,#f43 0 44.9px,#fba 0 46.3px,#fcc 0 47.8px,#f21 0 49.2px,#f31 0 50.7px,#fcc 0 53.5px,#fdc 0 56.4px,#fba 0 57.9px,#fa9 0 59.3px,#fa8 0 60.8px,#fba 0 62.2px,#eee 0 63.7px,#f97 0 65.1px,#f00 0 66.6px,#cae 0 68px,#fb9 0 69.5px,#f53 0 70.9px,#eee 0 72.4px,#dde 0 73.8px,#f76 0 75.3px,#f98 0 76.7px,#fcb 0 78.2px,#f53 0 79.6px,#f32 0 81px,#f31 0 82.5px,#fba 0 83.9px,#edd 0 85.4px,#f75 0 86.8px,#fcb 0 88.3px,#f64 0 89.7px,#f76 0 91.2px,#fba 0 92.6px,#f53 0 94.1px,#f00 0 95.5px,#f97 0 97px,#eed 0 98.4px,#f86 0 99.9px,#fba 0 101.3px,#fa9 0 102.8px,#fa8 0 104.2px,#f97 0 105.7px,#f53 0 107.1px,#f75 0 108.5px,#fcb 0 110px,#edd 0 111.4px,#f86 0 114.3px,#f98 0 115.8px,#fba 0 117.2px,#fb9 0 118.7px,#fdc 0 120.1px,#f97 0 121.6px,#f00 0 123px,#fa8 0 124.5px,#dce 0 125.9px,#f98 0 128.8px,#f86 0 130.3px,#fcb 0 131.7px,#f97 0 133.2px,#f42 0 134.6px,#fdd 0 136px,#fcc 0 137.5px,#f97 0 138.9px,#eed 0 140.4px,#f97 0 141.8px,#fba 0 143.3px,#fcb 0 146.2px,#f86 0 147.6px,#fb9 0 149.1px,#f87 0 150.5px,#f75 0 152px,#fdc 0 153.4px,#fa9 0 154.9px,#fcc 0 156.3px,#f00 0 157.8px,#cbe 0 159.2px,#f42 0 160.6px,#f97 0 162.1px,#f87 0 163.5px,#fa9 0 166.4px,#fcc 0 167.9px,#dce 0 169.3px,#f00 0 170.8px,#fa9 0 172.2px,#f86 0 173.7px,#fcb 0 175.1px,#ede 0 176.6px,#fcc 0 178px,#fa9 0 179.5px,#f21 0 180.9px,#edd 0 182.4px,#f86 0 183.8px,#fdd 0 185.3px,#fba 0 186.7px,#eed 0 188.1px,#fb9 0 189.6px,#fa8 0 191px,#ede 0 192.5px,#f64 0 193.9px,#f75 0 195.4px,#eee 0 196.8px,#fcc 0 198.3px,#fa9 0 199.7px,#f87 0 201.2px,#fba 0 202.6px,#dde 0 204.1px,#fdc 0 205.5px,#fcc 0 207px,#eee 0 208.4px,#dce 0 209.9px,#fcb 0 211.3px,#cae 0 212.8px,#dde 0 214.2px,#f86 0 215.6px,#cae 0 217.1px,#97f 0 218.5px,#dce 0 220px,#eee 0 222.9px,#fba 0 224.3px,#eee 0 225.8px,#cbe 0 227.2px,#eee 0 228.7px,#b9f 0 230.1px,#fba 0 231.6px,#ede 0 233px,#97f 0 234.5px,#cae 0 235.9px,#fba 0 237.4px,#a7f 0 238.8px,#97f 0 240.2px,#fdc 0 241.7px,#cae 0 243.1px,#eed 0 244.6px,#a8f 0 246px,#cae 0 247.5px,#eee 0 250.4px,#dce 0 251.8px,#f75 0 253.3px,#fcb 0 254.7px,#eee 0 256.2px,#a8f 0 257.6px,#fcb 0 259.1px,#cae 0 260.5px,#74f 0 262px,#eee 0 263.4px,#fdc 0 264.9px,#dde 0 266.3px,#dce 0 267.7px,#fcb 0 269.2px,#dce 0 270.6px,#fba 0 272.1px,#a8f 0 273.5px,#b9f 0 275px,#cbe 0 276.4px,#edd 0 277.9px,#a8f 0 280.8px,#cbe 0 282.2px,#eee 0 283.7px,#86f 0 285.1px,#cae 0 286.6px,#dde 0 288px,#fdd 0 289.5px,#b9f 0 290.9px,#a8f 0 292.4px,#fdd 0 293.8px,#cbe 0 295.2px,#caf 0 296.7px,#a7f 0 298.1px,#85f 0 299.6px,#fba 0 301px,#edd 0 302.5px,#fcc 0 303.9px,#eed 0 305.4px,#b9f 0 306.8px,#cbe 0 308.3px,#fdc 0 309.7px,#edd 0 311.2px,#fcb 0 312.6px,#fba 0 314.1px,#cbe 0 315.5px,#eee 0 317px,#fba 0 318.4px,#baf 0 319.8px,#dce 0 321.3px,#dde 0 322.7px,#cae 0 324.2px,#cbe 0 325.6px,#cae 0 328.5px,#fcb 0 331.4px,#b9f 0 332.9px,#ede 0 334.3px,#dde 0 335.8px,#eee 0 337.2px,#85f 0 338.7px,#cbe 0 340.1px,#eed 0 341.6px,#cbe 0 343px,#baf 0 344.5px,#cae 0 345.9px,#eee 0 347.3px,#fa8 0 348.8px,#dce 0 350.2px,#fcc 0 351.7px,#fb9 0 353.1px,#a8f 0 354.6px,#b9f 0 356px,#f53 0 357.5px,#edd 0 358.9px,#cae 0 360.4px,#f98 0 361.8px,#fcb 0 363.3px,#cbe 0 364.7px,#b9f 0 366.2px,#fba 0 367.6px,#dde 0 369.1px,#fdc 0 370.5px,#97f 0 372px,#dde 0 373.4px,#eee 0 374.8px,#dde 0 376.3px,#b9f 0 377.7px,#eee 0 379.2px,#b9f 0 382.1px,#a8f 0 383.5px,#fdc 0 385px,#dce 0 387.9px,#eee 0 389.3px,#b9f 0 392.2px,#a8f 0 393.7px,#cbe 0 395.1px,#dce 0 396.6px,#cbe 0 398px,#caf 0 399.5px,#eee 0 400.9px,#edd 0 402.3px,#a8f 0 403.8px,#cbe 0 405.2px,#fba 0 406.7px,#b9f 0 408.1px,#a8f 0 409.6px,#cae 0 412.5px,#baf 0 413.9px,#fba 0 415.4px,#a8f 0 416.8px,#dbe 0 418.3px,#fa8 0 419.7px,#edd 0 421.2px,#dce 0 422.6px,#baf 0 424.1px,#a7f 0 425.5px,#dce 0 426.9px,#cbe 0 428.4px,#eee 0 429.8px,#fcb 0 431.3px,#dde 0 432.7px,#baf 0 434.2px,#dce 0 435.6px,#dbe 0 437.1px,#96f 0 438.5px,#fba 0 440px,#b9f 0 441.4px,#f53 0 442.9px,#cbe 0 444.3px,#eee 0 445.8px,#cae 0 447.2px,#f00 0 448.7px,#eee 0 450.1px,#cbe 0 451.6px,#fdc 0 453px)"></div>
<div class="hr" style="top:246.44px;background:linear-gradient(90deg,#f53 0 1.4px,#fcb 0 2.9px,#f64 0 4.3px,#f97 0 5.8px,#fcc 0 7.2px,#f86 0 8.7px,#fba 0 10.1px,#f00 0 11.6px,#f97 0 14.5px,#fa8 0 15.9px,#f53 0 17.4px,#fdd 0 18.8px,#edd 0 20.3px,#f86 0 21.7px,#f21 0 23.2px,#fb9 0 24.6px,#f97 0 26.1px,#f53 0 27.5px,#cbe 0 28.9px,#f53 0 30.4px,#fa9 0 31.8px,#f97 0 33.3px,#fcb 0 34.7px,#f00 0 36.2px,#fdc 0 37.6px,#f00 0 39.1px,#96f 0 40.5px,#fba 0 42px,#f75 0 43.4px,#fa9 0 44.9px,#cae 0 46.3px,#fba 0 47.8px,#f53 0 49.2px,#f64 0 50.7px,#dde 0 52.1px,#fba 0 53.5px,#dce 0 55px,#f00 0 56.4px,#fba 0 57.9px,#f42 0 59.3px,#fb9 0 60.8px,#fa8 0 62.2px,#f21 0 63.7px,#edd 0 65.1px,#f31 0 66.6px,#fdc 0 68px,#fdd 0 69.5px,#fba 0 70.9px,#f86 0 72.4px,#fcb 0 73.8px,#f97 0 75.3px,#edd 0 76.7px,#f65 0 78.2px,#f76 0 79.6px,#f86 0 81px,#f00 0 82.5px,#96f 0 83.9px,#ede 0 85.4px,#fa8 0 86.8px,#fba 0 88.3px,#fdc 0 89.7px,#fba 0 91.2px,#fcb 0 92.6px,#fa8 0 94.1px,#fba 0 97px,#edd 0 98.4px,#f87 0 99.9px,#f64 0 101.3px,#fba 0 102.8px,#fa9 0 104.2px,#fcb 0 105.7px,#fa8 0 107.1px,#f97 0 108.5px,#f98 0 111.4px,#fa8 0 112.9px,#f86 0 114.3px,#fa8 0 115.8px,#fa9 0 117.2px,#a8f 0 118.7px,#f42 0 120.1px,#f98 0 121.6px,#f76 0 123px,#f00 0 124.5px,#fdc 0 125.9px,#f31 0 127.4px,#f75 0 128.8px,#f64 0 130.3px,#edd 0 131.7px,#fb9 0 133.2px,#fcb 0 134.6px,#f98 0 136px,#fb9 0 137.5px,#f98 0 138.9px,#fa9 0 140.4px,#f75 0 141.8px,#f97 0 144.7px,#fba 0 146.2px,#edd 0 147.6px,#dbe 0 149.1px,#cae 0 150.5px,#f86 0 152px,#fcb 0 154.9px,#cbe 0 156.3px,#fba 0 157.8px,#edd 0 159.2px,#f75 0 160.6px,#cbe 0 162.1px,#ede 0 163.5px,#f75 0 165px,#f86 0 166.4px,#ede 0 167.9px,#f86 0 169.3px,#f32 0 170.8px,#fba 0 172.2px,#cbe 0 173.7px,#eee 0 175.1px,#fcb 0 176.6px,#edd 0 178px,#dce 0 179.5px,#f00 0 180.9px,#edd 0 182.4px,#f97 0 183.8px,#fba 0 185.3px,#fa9 0 186.7px,#fba 0 188.1px,#eed 0 189.6px,#fa9 0 192.5px,#cae 0 193.9px,#fbb 0 195.4px,#eee 0 196.8px,#fba 0 198.3px,#fcc 0 199.7px,#fa9 0 201.2px,#eee 0 202.6px,#b9f 0 204.1px,#cae 0 205.5px,#f75 0 207px,#f00 0 208.4px,#dce 0 209.9px,#cbe 0 211.3px,#fcb 0 212.8px,#eee 0 214.2px,#b9f 0 215.6px,#cae 0 217.1px,#85f 0 218.5px,#eee 0 220px,#dce 0 221.4px,#eee 0 222.9px,#dde 0 224.3px,#a7f 0 225.8px,#dde 0 227.2px,#dce 0 228.7px,#cae 0 230.1px,#f97 0 231.6px,#eee 0 233px,#a8f 0 235.9px,#edd 0 237.4px,#96f 0 238.8px,#86f 0 240.2px,#eee 0 241.7px,#b9f 0 243.1px,#cae 0 244.6px,#b9f 0 246px,#eee 0 247.5px,#ede 0 248.9px,#b9f 0 251.8px,#96f 0 253.3px,#dce 0 254.7px,#a8f 0 256.2px,#fbb 0 257.6px,#fba 0 259.1px,#96f 0 260.5px,#32f 0 262px,#edd 0 263.4px,#eee 0 264.9px,#cae 0 266.3px,#fb9 0 267.7px,#97f 0 270.6px,#ede 0 272.1px,#97f 0 273.5px,#b9f 0 275px,#dde 0 276.4px,#b9f 0 277.9px,#dde 0 280.8px,#b9f 0 282.2px,#cae 0 285.1px,#dde 0 286.6px,#dce 0 288px,#b8f 0 289.5px,#f42 0 290.9px,#97f 0 292.4px,#dce 0 293.8px,#97f 0 295.2px,#f21 0 296.7px,#b8f 0 298.1px,#85f 0 299.6px,#baf 0 301px,#fa8 0 302.5px,#baf 0 303.9px,#97f 0 305.4px,#74f 0 306.8px,#cae 0 308.3px,#cbe 0 309.7px,#a8f 0 311.2px,#b9f 0 312.6px,#dbe 0 315.5px,#dce 0 317px,#fa9 0 318.4px,#96f 0 319.8px,#b8f 0 321.3px,#dce 0 322.7px,#f53 0 324.2px,#dde 0 325.6px,#cbe 0 327.1px,#dce 0 328.5px,#dde 0 330px,#b8f 0 331.4px,#dde 0 332.9px,#cbe 0 334.3px,#ede 0 335.8px,#caf 0 337.2px,#74f 0 338.7px,#b9f 0 340.1px,#dce 0 341.6px,#eee 0 343px,#cbe 0 344.5px,#dce 0 347.3px,#cae 0 348.8px,#dce 0 350.2px,#b9f 0 351.7px,#fdc 0 353.1px,#cbe 0 354.6px,#97f 0 356px,#cbe 0 357.5px,#fba 0 358.9px,#dce 0 360.4px,#fcb 0 361.8px,#fba 0 363.3px,#dde 0 364.7px,#a8f 0 366.2px,#dce 0 367.6px,#eee 0 369.1px,#dde 0 370.5px,#dce 0 372px,#b9f 0 373.4px,#fba 0 374.8px,#b9f 0 376.3px,#96f 0 377.7px,#b9f 0 379.2px,#cae 0 380.6px,#ede 0 382.1px,#edd 0 383.5px,#a8f 0 385px,#97f 0 386.4px,#fcb 0 387.9px,#fdc 0 389.3px,#86f 0 390.8px,#a7f 0 392.2px,#96f 0 393.7px,#b9f 0 395.1px,#a8f 0 398px,#97f 0 399.5px,#f42 0 400.9px,#baf 0 402.3px,#a8f 0 403.8px,#cbe 0 405.2px,#a8f 0 406.7px,#53f 0 408.1px,#b9f 0 409.6px,#eee 0 411px,#a8f 0 412.5px,#caf 0 413.9px,#eee 0 415.4px,#a8f 0 416.8px,#dde 0 418.3px,#cbe 0 419.7px,#cae 0 421.2px,#b8f 0 422.6px,#a8f 0 424.1px,#cbe 0 425.5px,#edd 0 426.9px,#cbe 0 429.8px,#eee 0 431.3px,#fcb 0 432.7px,#a7f 0 434.2px,#cbe 0 435.6px,#dce 0 437.1px,#cae 0 438.5px,#a7f 0 440px,#97f 0 441.4px,#ede 0 442.9px,#dde 0 444.3px,#ede 0 445.8px,#10f 0 447.2px,#f00 0 448.7px,#cae 0 450.1px,#a8f 0 451.6px,#fbb 0 453px)"></div>
<div class="hr" style="top:254.19px;background:linear-gradient(90deg,#fa9 0 1.4px,#f32 0 2.9px,#f53 0 4.3px,#fa9 0 5.8px,#f86 0 7.2px,#f00 0 8.7px,#f87 0 10.1px,#f53 0 11.6px,#fa9 0 13px,#f86 0 14.5px,#f64 0 15.9px,#f98 0 17.4px,#f97 0 18.8px,#f75 0 20.3px,#eee 0 21.7px,#f00 0 23.2px,#f97 0 27.5px,#f86 0 28.9px,#fba 0 30.4px,#f64 0 31.8px,#fba 0 33.3px,#f87 0 34.7px,#fcc 0 36.2px,#fdc 0 37.6px,#f64 0 39.1px,#fba 0 40.5px,#eed 0 42px,#f53 0 43.4px,#f64 0 44.9px,#f86 0 46.3px,#fba 0 47.8px,#f53 0 49.2px,#fcb 0 50.7px,#ede 0 52.1px,#f98 0 53.5px,#fcb 0 55px,#f21 0 56.4px,#fa9 0 57.9px,#f64 0 59.3px,#fba 0 60.8px,#fdc 0 62.2px,#f10 0 63.7px,#fa9 0 65.1px,#f31 0 66.6px,#fa9 0 68px,#eee 0 69.5px,#f64 0 70.9px,#f75 0 72.4px,#f64 0 73.8px,#f00 0 75.3px,#f75 0 76.7px,#f98 0 79.6px,#fba 0 81px,#f00 0 82.5px,#f86 0 83.9px,#fba 0 85.4px,#fbb 0 86.8px,#f87 0 88.3px,#fcb 0 89.7px,#f75 0 91.2px,#fa9 0 92.6px,#f97 0 94.1px,#f75 0 95.5px,#fdd 0 97px,#fdc 0 98.4px,#f75 0 99.9px,#dce 0 101.3px,#f21 0 102.8px,#f86 0 104.2px,#f54 0 105.7px,#fa8 0 107.1px,#fa9 0 108.5px,#fa8 0 110px,#f87 0 111.4px,#fdc 0 112.9px,#f86 0 114.3px,#dce 0 115.8px,#f97 0 117.2px,#edd 0 118.7px,#fba 0 120.1px,#fcc 0 121.6px,#f21 0 123px,#f00 0 124.5px,#f86 0 125.9px,#fa9 0 127.4px,#f00 0 128.8px,#fcc 0 130.3px,#fdc 0 131.7px,#fb9 0 133.2px,#eee 0 134.6px,#f75 0 136px,#fa8 0 137.5px,#f64 0 138.9px,#f97 0 140.4px,#f86 0 141.8px,#f97 0 143.3px,#f86 0 144.7px,#f87 0 146.2px,#f86 0 147.6px,#fba 0 149.1px,#fcb 0 152px,#fba 0 153.4px,#a8f 0 154.9px,#fdc 0 156.3px,#fba 0 157.8px,#f86 0 159.2px,#cbe 0 160.6px,#f53 0 162.1px,#fa9 0 163.5px,#eee 0 165px,#f75 0 166.4px,#f86 0 167.9px,#f98 0 169.3px,#f00 0 170.8px,#dde 0 172.2px,#f97 0 173.7px,#fcc 0 175.1px,#fba 0 176.6px,#fb9 0 178px,#f64 0 179.5px,#f98 0 180.9px,#f97 0 182.4px,#f53 0 183.8px,#fa9 0 185.3px,#dce 0 186.7px,#fa9 0 188.1px,#fcc 0 189.6px,#f64 0 191px,#f97 0 192.5px,#f21 0 193.9px,#cbe 0 195.4px,#fa9 0 196.8px,#f97 0 198.3px,#f00 0 199.7px,#f86 0 201.2px,#f98 0 202.6px,#64f 0 204.1px,#fcb 0 205.5px,#f64 0 207px,#fcb 0 208.4px,#eee 0 209.9px,#fba 0 211.3px,#fa9 0 212.8px,#dce 0 214.2px,#cae 0 215.6px,#eee 0 217.1px,#dce 0 218.5px,#96f 0 220px,#eee 0 221.4px,#fcb 0 222.9px,#fdc 0 224.3px,#dce 0 225.8px,#dde 0 227.2px,#cae 0 228.7px,#dce 0 230.1px,#f64 0 231.6px,#fa9 0 233px,#96f 0 234.5px,#a7f 0 235.9px,#ede 0 237.4px,#dde 0 238.8px,#97f 0 240.2px,#ede 0 241.7px,#fba 0 243.1px,#cae 0 244.6px,#edd 0 246px,#eee 0 247.5px,#fb9 0 248.9px,#cae 0 250.4px,#b9f 0 251.8px,#cae 0 253.3px,#dce 0 254.7px,#caf 0 256.2px,#b9f 0 257.6px,#fdd 0 259.1px,#97f 0 260.5px,#a7f 0 262px,#edd 0 263.4px,#dce 0 264.9px,#baf 0 266.3px,#fcc 0 267.7px,#dce 0 269.2px,#dbe 0 270.6px,#b9f 0 272.1px,#a8f 0 273.5px,#eee 0 275px,#cbe 0 276.4px,#a8f 0 277.9px,#fcb 0 279.3px,#cae 0 280.8px,#cbe 0 282.2px,#ede 0 283.7px,#dce 0 285.1px,#96f 0 286.6px,#fba 0 288px,#a8f 0 289.5px,#cbe 0 290.9px,#dce 0 292.4px,#baf 0 293.8px,#cae 0 295.2px,#dce 0 296.7px,#a7f 0 298.1px,#97f 0 299.6px,#dde 0 301px,#fba 0 302.5px,#cae 0 303.9px,#eee 0 305.4px,#dce 0 306.8px,#ede 0 308.3px,#edd 0 309.7px,#fdc 0 311.2px,#eee 0 312.6px,#f21 0 314.1px,#dce 0 315.5px,#eee 0 317px,#fba 0 318.4px,#97f 0 319.8px,#cbe 0 321.3px,#edd 0 322.7px,#cbe 0 324.2px,#a7f 0 325.6px,#cbe 0 327.1px,#dce 0 328.5px,#f54 0 330px,#cbe 0 331.4px,#a8f 0 332.9px,#dce 0 334.3px,#eed 0 335.8px,#eee 0 337.2px,#dbe 0 338.7px,#baf 0 340.1px,#fb9 0 341.6px,#fba 0 343px,#b9f 0 344.5px,#b8f 0 345.9px,#eee 0 347.3px,#f65 0 348.8px,#dde 0 351.7px,#f75 0 353.1px,#dce 0 354.6px,#75f 0 356px,#a7f 0 357.5px,#edd 0 358.9px,#a8f 0 360.4px,#cae 0 361.8px,#f86 0 364.7px,#eee 0 366.2px,#dce 0 367.6px,#baf 0 369.1px,#dce 0 370.5px,#b9f 0 372px,#dde 0 373.4px,#eee 0 376.3px,#baf 0 377.7px,#cae 0 379.2px,#dce 0 380.6px,#fdc 0 383.5px,#ede 0 385px,#b9f 0 386.4px,#ede 0 387.9px,#a8f 0 389.3px,#baf 0 390.8px,#b9f 0 392.2px,#fcb 0 393.7px,#dde 0 395.1px,#eee 0 398px,#97f 0 399.5px,#baf 0 400.9px,#cbe 0 402.3px,#cae 0 403.8px,#a7f 0 405.2px,#dde 0 406.7px,#cbe 0 408.1px,#dce 0 411px,#97f 0 412.5px,#ede 0 413.9px,#eee 0 415.4px,#85f 0 416.8px,#ede 0 418.3px,#f97 0 419.7px,#ede 0 421.2px,#fcb 0 422.6px,#a7f 0 424.1px,#b9f 0 425.5px,#63f 0 426.9px,#eee 0 429.8px,#ede 0 431.3px,#fcb 0 432.7px,#cbe 0 435.6px,#edd 0 437.1px,#dde 0 438.5px,#dbe 0 440px,#64f 0 441.4px,#fcc 0 442.9px,#fdd 0 444.3px,#dce 0 445.8px,#fcb 0 447.2px,#f86 0 448.7px,#ede 0 450.1px,#dce 0 451.6px,#fdc 0 453px)"></div>
<div class="hr" style="top:261.95px;background:linear-gradient(90deg,#f64 0 1.4px,#fa8 0 2.9px,#eed 0 4.3px,#f86 0 5.8px,#fa8 0 7.2px,#f00 0 8.7px,#f64 0 10.1px,#fdd 0 11.6px,#dde 0 13px,#f86 0 14.5px,#f87 0 15.9px,#fcb 0 17.4px,#fba 0 18.8px,#f21 0 20.3px,#f98 0 23.2px,#f76 0 26.1px,#f86 0 27.5px,#f64 0 28.9px,#f75 0 30.4px,#f00 0 31.8px,#fa8 0 33.3px,#edd 0 34.7px,#fcb 0 36.2px,#f87 0 37.6px,#f00 0 39.1px,#fba 0 40.5px,#f97 0 42px,#f76 0 43.4px,#f64 0 44.9px,#fba 0 46.3px,#eee 0 47.8px,#f53 0 49.2px,#f86 0 50.7px,#fcb 0 52.1px,#eee 0 53.5px,#fcb 0 55px,#f87 0 56.4px,#f86 0 60.8px,#f42 0 62.2px,#f21 0 63.7px,#fdd 0 65.1px,#f86 0 66.6px,#eee 0 68px,#f64 0 69.5px,#fa8 0 70.9px,#f75 0 72.4px,#fcb 0 73.8px,#f00 0 75.3px,#f98 0 76.7px,#fa9 0 78.2px,#fa8 0 79.6px,#f86 0 81px,#f42 0 82.5px,#f97 0 83.9px,#f98 0 85.4px,#f75 0 86.8px,#fcb 0 88.3px,#dce 0 89.7px,#fba 0 91.2px,#cbe 0 92.6px,#f42 0 94.1px,#f32 0 95.5px,#eee 0 97px,#f98 0 98.4px,#f86 0 99.9px,#f53 0 101.3px,#fcc 0 102.8px,#fcb 0 104.2px,#f87 0 105.7px,#f64 0 107.1px,#eee 0 108.5px,#f10 0 110px,#fa8 0 111.4px,#f00 0 112.9px,#f86 0 114.3px,#fba 0 115.8px,#fa9 0 117.2px,#eed 0 118.7px,#f97 0 121.6px,#f53 0 123px,#f87 0 124.5px,#f75 0 125.9px,#f98 0 127.4px,#eee 0 128.8px,#f86 0 130.3px,#cbe 0 131.7px,#fcb 0 133.2px,#fdc 0 136px,#fcc 0 137.5px,#f53 0 138.9px,#f42 0 140.4px,#f75 0 141.8px,#f86 0 143.3px,#f64 0 144.7px,#f32 0 146.2px,#fba 0 147.6px,#fdc 0 149.1px,#fcb 0 150.5px,#f64 0 152px,#f97 0 153.4px,#fcb 0 154.9px,#fa9 0 156.3px,#fba 0 157.8px,#fa8 0 159.2px,#fcb 0 160.6px,#f87 0 162.1px,#f64 0 163.5px,#fa9 0 165px,#fa8 0 166.4px,#f98 0 169.3px,#fcb 0 170.8px,#cbe 0 172.2px,#f75 0 173.7px,#eee 0 175.1px,#fcc 0 176.6px,#b9f 0 178px,#fcb 0 180.9px,#fa9 0 182.4px,#f97 0 183.8px,#f86 0 185.3px,#ede 0 186.7px,#fa9 0 188.1px,#dce 0 189.6px,#fdc 0 191px,#f98 0 192.5px,#fcc 0 193.9px,#f97 0 195.4px,#fcc 0 196.8px,#dde 0 198.3px,#f98 0 199.7px,#fa8 0 201.2px,#fdd 0 202.6px,#64f 0 204.1px,#b9f 0 205.5px,#eee 0 207px,#dbe 0 208.4px,#cae 0 209.9px,#f87 0 211.3px,#64f 0 212.8px,#cbe 0 215.6px,#dbe 0 217.1px,#dce 0 218.5px,#a8f 0 220px,#eee 0 221.4px,#a8f 0 222.9px,#fcb 0 224.3px,#dbe 0 225.8px,#dce 0 227.2px,#cae 0 228.7px,#96f 0 230.1px,#cbe 0 233px,#63f 0 234.5px,#baf 0 237.4px,#dce 0 238.8px,#a8f 0 240.2px,#ede 0 241.7px,#f42 0 243.1px,#cae 0 244.6px,#97f 0 246px,#fdc 0 247.5px,#fcb 0 248.9px,#ede 0 250.4px,#b9f 0 251.8px,#97f 0 253.3px,#edd 0 254.7px,#42f 0 256.2px,#a8f 0 257.6px,#eee 0 259.1px,#97f 0 260.5px,#74f 0 262px,#ede 0 263.4px,#dde 0 264.9px,#85f 0 266.3px,#eee 0 267.7px,#cbe 0 269.2px,#97f 0 270.6px,#dde 0 272.1px,#a8f 0 273.5px,#cae 0 275px,#fdc 0 276.4px,#a8f 0 277.9px,#dce 0 279.3px,#fcc 0 280.8px,#eee 0 282.2px,#fcb 0 283.7px,#dde 0 285.1px,#b9f 0 286.6px,#edd 0 288px,#cbe 0 292.4px,#fba 0 293.8px,#74f 0 295.2px,#b9f 0 296.7px,#64f 0 299.6px,#fdd 0 301px,#dce 0 302.5px,#ede 0 303.9px,#dce 0 305.4px,#cbe 0 306.8px,#96f 0 308.3px,#ede 0 312.6px,#f00 0 314.1px,#97f 0 315.5px,#eee 0 317px,#f64 0 318.4px,#dde 0 319.8px,#97f 0 321.3px,#dce 0 322.7px,#b9f 0 325.6px,#dde 0 327.1px,#86f 0 328.5px,#fa9 0 330px,#dde 0 331.4px,#a7f 0 332.9px,#fa8 0 334.3px,#cbe 0 335.8px,#dce 0 337.2px,#53f 0 338.7px,#b9f 0 340.1px,#cbe 0 341.6px,#cae 0 343px,#eee 0 344.5px,#b9f 0 345.9px,#baf 0 347.3px,#fba 0 348.8px,#cae 0 350.2px,#dde 0 351.7px,#fcb 0 353.1px,#ede 0 354.6px,#86f 0 356px,#caf 0 357.5px,#cbe 0 358.9px,#edd 0 360.4px,#fdc 0 361.8px,#fa9 0 363.3px,#b9f 0 364.7px,#a8f 0 366.2px,#cbe 0 367.6px,#eee 0 369.1px,#cbe 0 370.5px,#85f 0 372px,#dde 0 373.4px,#fdd 0 374.8px,#97f 0 376.3px,#b9f 0 377.7px,#85f 0 379.2px,#b9f 0 380.6px,#cbe 0 382.1px,#dce 0 383.5px,#f64 0 385px,#86f 0 386.4px,#fdd 0 387.9px,#b8f 0 389.3px,#a7f 0 390.8px,#cbe 0 392.2px,#a8f 0 393.7px,#cbe 0 395.1px,#eee 0 396.6px,#dbe 0 398px,#a8f 0 400.9px,#cbe 0 402.3px,#96f 0 403.8px,#a8f 0 405.2px,#75f 0 406.7px,#a7f 0 408.1px,#eee 0 409.6px,#b9f 0 412.5px,#96f 0 413.9px,#cbe 0 415.4px,#74f 0 416.8px,#96f 0 418.3px,#f64 0 419.7px,#b9f 0 421.2px,#96f 0 422.6px,#b9f 0 424.1px,#97f 0 425.5px,#cae 0 426.9px,#dce 0 428.4px,#cbe 0 429.8px,#dce 0 431.3px,#cbe 0 432.7px,#b9f 0 434.2px,#edd 0 435.6px,#ede 0 437.1px,#cbe 0 438.5px,#a8f 0 440px,#52f 0 441.4px,#fcb 0 442.9px,#b9f 0 444.3px,#a8f 0 445.8px,#b9f 0 447.2px,#f21 0 448.7px,#eee 0 450.1px,#a7f 0 451.6px,#edd 0 453px)"></div>
<div class="hr" style="top:269.7px;background:linear-gradient(90deg,#f87 0 1.4px,#f86 0 2.9px,#fba 0 4.3px,#fcc 0 5.8px,#fa9 0 7.2px,#f64 0 8.7px,#f98 0 10.1px,#f75 0 11.6px,#f86 0 13px,#f21 0 14.5px,#f97 0 15.9px,#f98 0 17.4px,#f86 0 18.8px,#f43 0 20.3px,#fdc 0 21.7px,#f75 0 23.2px,#f42 0 24.6px,#fa8 0 26.1px,#f65 0 27.5px,#fa8 0 28.9px,#f86 0 30.4px,#f53 0 33.3px,#ede 0 34.7px,#eee 0 36.2px,#97f 0 37.6px,#f00 0 39.1px,#f86 0 40.5px,#fa8 0 42px,#f98 0 43.4px,#f00 0 44.9px,#eee 0 46.3px,#f97 0 47.8px,#f21 0 49.2px,#f53 0 50.7px,#fa9 0 52.1px,#fdd 0 53.5px,#fcb 0 55px,#fa8 0 56.4px,#f00 0 57.9px,#f21 0 59.3px,#f98 0 60.8px,#f86 0 62.2px,#f75 0 63.7px,#fcb 0 65.1px,#f53 0 66.6px,#fa8 0 68px,#f97 0 69.5px,#f75 0 70.9px,#b9f 0 72.4px,#fba 0 75.3px,#fdc 0 76.7px,#f00 0 78.2px,#fba 0 79.6px,#f97 0 81px,#f53 0 82.5px,#edd 0 83.9px,#f86 0 85.4px,#dde 0 86.8px,#f98 0 88.3px,#fcc 0 89.7px,#f75 0 91.2px,#f64 0 92.6px,#f75 0 94.1px,#fba 0 95.5px,#f87 0 97px,#f86 0 98.4px,#f31 0 99.9px,#fa9 0 101.3px,#f87 0 102.8px,#fcb 0 104.2px,#f64 0 107.1px,#fcb 0 108.5px,#fdd 0 110px,#fa8 0 111.4px,#fba 0 114.3px,#f76 0 115.8px,#f97 0 117.2px,#fdd 0 118.7px,#fcb 0 120.1px,#fba 0 121.6px,#f75 0 123px,#f86 0 124.5px,#f75 0 127.4px,#fa8 0 128.8px,#fcb 0 130.3px,#f87 0 131.7px,#fba 0 133.2px,#fa8 0 134.6px,#fa9 0 136px,#fcb 0 137.5px,#fba 0 138.9px,#f00 0 140.4px,#edd 0 141.8px,#fa8 0 144.7px,#fa9 0 146.2px,#fcb 0 147.6px,#edd 0 149.1px,#dce 0 150.5px,#f64 0 152px,#fa9 0 153.4px,#fcb 0 154.9px,#eee 0 156.3px,#f53 0 159.2px,#fa8 0 160.6px,#eee 0 162.1px,#f86 0 163.5px,#fb9 0 165px,#f86 0 167.9px,#dde 0 169.3px,#f64 0 170.8px,#cbe 0 172.2px,#edd 0 173.7px,#dde 0 175.1px,#f42 0 176.6px,#eee 0 178px,#f98 0 179.5px,#fa8 0 180.9px,#f97 0 182.4px,#f86 0 183.8px,#fa8 0 185.3px,#fba 0 186.7px,#fcb 0 188.1px,#cae 0 189.6px,#f98 0 191px,#f75 0 192.5px,#fa8 0 193.9px,#eed 0 195.4px,#fba 0 196.8px,#f97 0 198.3px,#fba 0 199.7px,#fa9 0 201.2px,#fb9 0 202.6px,#b9f 0 204.1px,#b8f 0 205.5px,#fa8 0 207px,#b8f 0 208.4px,#dce 0 209.9px,#eee 0 211.3px,#baf 0 212.8px,#b9f 0 214.2px,#dce 0 215.6px,#b9f 0 217.1px,#cbe 0 218.5px,#b8f 0 220px,#cae 0 221.4px,#edd 0 222.9px,#f98 0 224.3px,#96f 0 225.8px,#b9f 0 227.2px,#dce 0 228.7px,#a8f 0 230.1px,#fdd 0 231.6px,#fdc 0 233px,#f86 0 234.5px,#b9f 0 235.9px,#eee 0 237.4px,#dde 0 238.8px,#97f 0 240.2px,#f86 0 241.7px,#eed 0 243.1px,#dde 0 244.6px,#fcb 0 246px,#cbe 0 247.5px,#fcb 0 248.9px,#a8f 0 250.4px,#cbe 0 251.8px,#dce 0 254.7px,#a8f 0 256.2px,#dce 0 257.6px,#ede 0 259.1px,#85f 0 262px,#dce 0 264.9px,#97f 0 266.3px,#dce 0 267.7px,#a8f 0 269.2px,#dde 0 270.6px,#eee 0 272.1px,#dce 0 273.5px,#eed 0 275px,#fdc 0 276.4px,#b9f 0 277.9px,#dde 0 279.3px,#dce 0 280.8px,#a7f 0 282.2px,#cae 0 283.7px,#a8f 0 285.1px,#cbe 0 286.6px,#dde 0 288px,#eed 0 289.5px,#fba 0 290.9px,#74f 0 292.4px,#b9f 0 295.2px,#eee 0 296.7px,#96f 0 298.1px,#a7f 0 299.6px,#b8f 0 301px,#f86 0 302.5px,#baf 0 303.9px,#dde 0 305.4px,#cae 0 306.8px,#a8f 0 308.3px,#edd 0 309.7px,#fcb 0 311.2px,#cbe 0 312.6px,#edd 0 314.1px,#cae 0 315.5px,#eee 0 317px,#f86 0 318.4px,#a7f 0 319.8px,#97f 0 321.3px,#b9f 0 322.7px,#85f 0 324.2px,#96f 0 325.6px,#cbe 0 327.1px,#a8f 0 328.5px,#baf 0 330px,#dce 0 331.4px,#cae 0 332.9px,#dce 0 334.3px,#cbe 0 335.8px,#dce 0 337.2px,#74f 0 338.7px,#caf 0 340.1px,#cae 0 341.6px,#caf 0 343px,#cbe 0 347.3px,#cae 0 348.8px,#cbe 0 350.2px,#f87 0 351.7px,#fba 0 353.1px,#a8f 0 354.6px,#dbe 0 356px,#dce 0 357.5px,#a8f 0 360.4px,#dde 0 361.8px,#f97 0 363.3px,#edd 0 364.7px,#b9f 0 366.2px,#cae 0 367.6px,#cbe 0 369.1px,#dde 0 370.5px,#97f 0 372px,#cbe 0 373.4px,#dce 0 374.8px,#a7f 0 376.3px,#a8f 0 377.7px,#dce 0 379.2px,#cbe 0 380.6px,#b9f 0 382.1px,#baf 0 383.5px,#dde 0 385px,#97f 0 386.4px,#dce 0 387.9px,#fdc 0 389.3px,#00f 0 390.8px,#86f 0 392.2px,#a8f 0 393.7px,#cbe 0 395.1px,#eed 0 396.6px,#a8f 0 398px,#b9f 0 399.5px,#cae 0 400.9px,#b9f 0 403.8px,#edd 0 405.2px,#97f 0 406.7px,#86f 0 408.1px,#b9f 0 409.6px,#53f 0 411px,#b9f 0 412.5px,#a8f 0 413.9px,#baf 0 415.4px,#a7f 0 416.8px,#dce 0 418.3px,#fcb 0 421.2px,#b9f 0 422.6px,#74f 0 424.1px,#b9f 0 425.5px,#a8f 0 426.9px,#baf 0 428.4px,#96f 0 429.8px,#b9f 0 431.3px,#cae 0 432.7px,#baf 0 434.2px,#dce 0 435.6px,#fdd 0 437.1px,#ede 0 438.5px,#dde 0 440px,#85f 0 441.4px,#f75 0 442.9px,#cbe 0 444.3px,#eee 0 445.8px,#96f 0 447.2px,#f75 0 448.7px,#b9f 0 450.1px,#a7f 0 451.6px,#fcc 0 453px)"></div>
<div class="hr" style="top:277.46px;background:linear-gradient(90deg,#f86 0 1.4px,#fa8 0 2.9px,#fcb 0 4.3px,#fbb 0 5.8px,#eee 0 7.2px,#fcb 0 8.7px,#fdc 0 10.1px,#f86 0 11.6px,#f97 0 13px,#fdc 0 14.5px,#eed 0 15.9px,#f64 0 18.8px,#f75 0 20.3px,#f64 0 21.7px,#f97 0 24.6px,#fcb 0 26.1px,#f00 0 27.5px,#f97 0 30.4px,#fa8 0 31.8px,#eed 0 33.3px,#fcc 0 34.7px,#b9f 0 36.2px,#fdc 0 37.6px,#f97 0 39.1px,#fba 0 40.5px,#f86 0 42px,#f98 0 43.4px,#fa9 0 44.9px,#dce 0 46.3px,#f98 0 47.8px,#fa9 0 49.2px,#fba 0 50.7px,#cbe 0 52.1px,#fcb 0 55px,#f64 0 56.4px,#fdc 0 57.9px,#f98 0 59.3px,#ede 0 60.8px,#f97 0 62.2px,#f98 0 63.7px,#fcc 0 65.1px,#f64 0 66.6px,#dce 0 68px,#f64 0 69.5px,#f86 0 70.9px,#fa9 0 72.4px,#fba 0 73.8px,#fa9 0 75.3px,#fba 0 76.7px,#f86 0 78.2px,#fba 0 79.6px,#f97 0 81px,#f86 0 82.5px,#f98 0 83.9px,#fcb 0 85.4px,#ede 0 86.8px,#f64 0 88.3px,#f97 0 89.7px,#fa8 0 91.2px,#f97 0 94.1px,#f53 0 95.5px,#f31 0 97px,#fcb 0 98.4px,#fba 0 102.8px,#f86 0 104.2px,#fcb 0 105.7px,#fa9 0 107.1px,#fdc 0 108.5px,#f97 0 110px,#f75 0 111.4px,#f98 0 112.9px,#f64 0 114.3px,#fba 0 115.8px,#f98 0 117.2px,#a8f 0 118.7px,#eee 0 120.1px,#cbe 0 121.6px,#f64 0 123px,#f76 0 124.5px,#fdc 0 125.9px,#f97 0 130.3px,#ede 0 131.7px,#eed 0 133.2px,#fa9 0 134.6px,#edd 0 136px,#fa8 0 137.5px,#eee 0 138.9px,#fa9 0 140.4px,#edd 0 141.8px,#fdc 0 143.3px,#f75 0 144.7px,#ede 0 146.2px,#fa8 0 147.6px,#96f 0 149.1px,#fba 0 150.5px,#f98 0 152px,#f97 0 153.4px,#f75 0 154.9px,#dce 0 156.3px,#fb9 0 157.8px,#dce 0 159.2px,#fcb 0 160.6px,#fcc 0 162.1px,#fba 0 163.5px,#f97 0 165px,#f87 0 166.4px,#f86 0 167.9px,#eee 0 169.3px,#f98 0 170.8px,#cae 0 172.2px,#fcb 0 173.7px,#64f 0 175.1px,#fba 0 176.6px,#fdc 0 178px,#fdd 0 179.5px,#fa8 0 180.9px,#cbe 0 182.4px,#fcb 0 183.8px,#dce 0 185.3px,#fcb 0 188.1px,#eee 0 189.6px,#fcb 0 191px,#f98 0 192.5px,#eee 0 193.9px,#fcb 0 195.4px,#f75 0 196.8px,#edd 0 198.3px,#fcb 0 199.7px,#f97 0 201.2px,#fdc 0 202.6px,#85f 0 204.1px,#fdd 0 205.5px,#fba 0 207px,#cbe 0 208.4px,#cae 0 209.9px,#dde 0 211.3px,#b9f 0 212.8px,#97f 0 214.2px,#b9f 0 215.6px,#a7f 0 217.1px,#cae 0 218.5px,#cbe 0 220px,#b8f 0 221.4px,#fba 0 224.3px,#97f 0 225.8px,#a7f 0 227.2px,#cbe 0 228.7px,#b9f 0 230.1px,#fa9 0 231.6px,#baf 0 233px,#85f 0 234.5px,#fa9 0 235.9px,#cbe 0 237.4px,#baf 0 238.8px,#a8f 0 240.2px,#dce 0 241.7px,#fcb 0 243.1px,#cae 0 244.6px,#b9f 0 246px,#edd 0 247.5px,#fb9 0 248.9px,#cbe 0 250.4px,#b9f 0 253.3px,#edd 0 254.7px,#b9f 0 256.2px,#eee 0 257.6px,#dce 0 259.1px,#00f 0 260.5px,#63f 0 262px,#dde 0 263.4px,#85f 0 264.9px,#97f 0 266.3px,#b9f 0 267.7px,#97f 0 269.2px,#b9f 0 270.6px,#fcb 0 272.1px,#85f 0 273.5px,#b9f 0 275px,#cbe 0 276.4px,#cae 0 277.9px,#dce 0 279.3px,#b9f 0 282.2px,#dde 0 283.7px,#b9f 0 285.1px,#74f 0 286.6px,#cae 0 288px,#cbe 0 289.5px,#eee 0 290.9px,#86f 0 292.4px,#baf 0 293.8px,#21f 0 295.2px,#b9f 0 296.7px,#96f 0 298.1px,#85f 0 299.6px,#dce 0 302.5px,#b8f 0 303.9px,#cbe 0 305.4px,#75f 0 306.8px,#baf 0 308.3px,#edd 0 309.7px,#cae 0 311.2px,#b9f 0 312.6px,#cbe 0 314.1px,#85f 0 315.5px,#b9f 0 317px,#f53 0 318.4px,#b8f 0 319.8px,#97f 0 321.3px,#a7f 0 322.7px,#f86 0 324.2px,#dce 0 327.1px,#b8f 0 328.5px,#cbe 0 330px,#97f 0 331.4px,#a8f 0 332.9px,#cbe 0 334.3px,#dce 0 335.8px,#fdc 0 337.2px,#42f 0 338.7px,#dde 0 340.1px,#edd 0 341.6px,#fdd 0 343px,#b9f 0 344.5px,#dce 0 345.9px,#cae 0 347.3px,#baf 0 348.8px,#cae 0 350.2px,#b9f 0 351.7px,#fcc 0 353.1px,#cbe 0 354.6px,#b9f 0 357.5px,#dce 0 358.9px,#96f 0 360.4px,#edd 0 363.3px,#cbe 0 364.7px,#a7f 0 366.2px,#fa9 0 367.6px,#dce 0 369.1px,#a8f 0 370.5px,#b9f 0 372px,#eed 0 373.4px,#96f 0 374.8px,#75f 0 376.3px,#caf 0 377.7px,#a8f 0 379.2px,#cae 0 380.6px,#cbe 0 382.1px,#b9f 0 383.5px,#dce 0 385px,#86f 0 386.4px,#cbe 0 387.9px,#caf 0 389.3px,#74f 0 390.8px,#63f 0 392.2px,#85f 0 393.7px,#dce 0 395.1px,#eed 0 396.6px,#cbe 0 398px,#a7f 0 399.5px,#a8f 0 400.9px,#97f 0 402.3px,#a8f 0 403.8px,#cbe 0 405.2px,#a8f 0 406.7px,#86f 0 408.1px,#00f 0 409.6px,#b9f 0 411px,#64f 0 412.5px,#a7f 0 413.9px,#eee 0 415.4px,#a8f 0 416.8px,#dce 0 418.3px,#f86 0 419.7px,#97f 0 421.2px,#85f 0 422.6px,#dce 0 424.1px,#a8f 0 425.5px,#86f 0 426.9px,#a8f 0 428.4px,#b9f 0 429.8px,#eee 0 431.3px,#cbe 0 432.7px,#b9f 0 434.2px,#a8f 0 435.6px,#edd 0 437.1px,#cae 0 440px,#21f 0 441.4px,#fcb 0 442.9px,#dce 0 444.3px,#fcb 0 445.8px,#dce 0 447.2px,#f98 0 448.7px,#a8f 0 450.1px,#96f 0 451.6px,#edd 0 453px)"></div>
<div class="hr" style="top:285.22px;background:linear-gradient(90deg,#f76 0 1.4px,#f75 0 2.9px,#edd 0 4.3px,#f64 0 5.8px,#fa9 0 7.2px,#f87 0 8.7px,#fcb 0 11.6px,#fb9 0 13px,#f75 0 14.5px,#fa9 0 15.9px,#f10 0 17.4px,#f97 0 18.8px,#f76 0 20.3px,#fcc 0 21.7px,#f86 0 23.2px,#fcb 0 24.6px,#f86 0 26.1px,#fdc 0 27.5px,#f31 0 28.9px,#f32 0 30.4px,#eee 0 31.8px,#f75 0 33.3px,#f87 0 34.7px,#f86 0 36.2px,#f97 0 37.6px,#f00 0 39.1px,#dce 0 40.5px,#fcc 0 42px,#f75 0 43.4px,#f53 0 44.9px,#dce 0 46.3px,#f97 0 47.8px,#f53 0 49.2px,#fa9 0 50.7px,#fcb 0 52.1px,#f98 0 53.5px,#baf 0 55px,#f98 0 56.4px,#fcb 0 57.9px,#f97 0 59.3px,#edd 0 60.8px,#fcb 0 62.2px,#f86 0 63.7px,#f53 0 65.1px,#fba 0 66.6px,#f75 0 68px,#f86 0 69.5px,#f53 0 70.9px,#f86 0 72.4px,#fcc 0 73.8px,#f21 0 75.3px,#fdd 0 76.7px,#fcc 0 78.2px,#fa8 0 79.6px,#f64 0 81px,#f98 0 82.5px,#cbe 0 83.9px,#fcb 0 85.4px,#f98 0 88.3px,#fba 0 89.7px,#dce 0 91.2px,#f64 0 92.6px,#f53 0 94.1px,#f64 0 95.5px,#f42 0 97px,#fb9 0 98.4px,#f00 0 99.9px,#fa9 0 101.3px,#a8f 0 102.8px,#edd 0 104.2px,#dde 0 105.7px,#f97 0 107.1px,#f86 0 108.5px,#dce 0 110px,#f75 0 111.4px,#fa9 0 112.9px,#f53 0 114.3px,#fa8 0 115.8px,#fcb 0 117.2px,#fa9 0 118.7px,#fba 0 120.1px,#fa9 0 121.6px,#f00 0 123px,#f75 0 124.5px,#f21 0 125.9px,#f86 0 127.4px,#f54 0 128.8px,#f87 0 130.3px,#eee 0 131.7px,#fa9 0 133.2px,#ede 0 134.6px,#fb9 0 136px,#dde 0 137.5px,#edd 0 138.9px,#f53 0 140.4px,#fa9 0 141.8px,#f75 0 143.3px,#f64 0 144.7px,#f75 0 146.2px,#f86 0 147.6px,#fba 0 149.1px,#dde 0 150.5px,#f65 0 152px,#edd 0 153.4px,#cbe 0 154.9px,#eee 0 156.3px,#f86 0 157.8px,#fcb 0 159.2px,#f32 0 160.6px,#fa9 0 162.1px,#f97 0 163.5px,#fa9 0 165px,#fdc 0 166.4px,#fa8 0 167.9px,#fba 0 169.3px,#f00 0 170.8px,#cbe 0 172.2px,#fb9 0 173.7px,#dbe 0 175.1px,#f97 0 176.6px,#cae 0 178px,#fa9 0 179.5px,#f75 0 180.9px,#fba 0 182.4px,#f00 0 183.8px,#eed 0 185.3px,#fa9 0 186.7px,#fcc 0 188.1px,#f98 0 189.6px,#f21 0 191px,#f32 0 192.5px,#fa8 0 193.9px,#b9f 0 195.4px,#fba 0 196.8px,#fcc 0 198.3px,#fa8 0 199.7px,#fa9 0 201.2px,#fdd 0 202.6px,#baf 0 204.1px,#eee 0 205.5px,#fcb 0 207px,#ede 0 208.4px,#fa9 0 209.9px,#dbe 0 211.3px,#b8f 0 212.8px,#ede 0 214.2px,#b9f 0 215.6px,#97f 0 217.1px,#a7f 0 218.5px,#b9f 0 220px,#cbe 0 221.4px,#eed 0 222.9px,#f87 0 224.3px,#baf 0 225.8px,#b9f 0 227.2px,#f42 0 228.7px,#cae 0 230.1px,#ede 0 231.6px,#cbe 0 233px,#74f 0 234.5px,#baf 0 235.9px,#eee 0 237.4px,#b9f 0 238.8px,#dbe 0 240.2px,#dce 0 243.1px,#a7f 0 244.6px,#cbe 0 246px,#fcb 0 247.5px,#cbe 0 250.4px,#b8f 0 251.8px,#eee 0 253.3px,#dbe 0 254.7px,#86f 0 256.2px,#fdc 0 257.6px,#fa9 0 259.1px,#97f 0 260.5px,#64f 0 262px,#edd 0 263.4px,#cbe 0 264.9px,#75f 0 266.3px,#cbe 0 267.7px,#b9f 0 269.2px,#fdc 0 270.6px,#dce 0 272.1px,#97f 0 273.5px,#cae 0 275px,#eee 0 276.4px,#dbe 0 277.9px,#edd 0 279.3px,#b8f 0 280.8px,#a8f 0 282.2px,#eee 0 283.7px,#dde 0 285.1px,#97f 0 286.6px,#75f 0 288px,#cbe 0 289.5px,#f65 0 290.9px,#baf 0 292.4px,#97f 0 293.8px,#a8f 0 295.2px,#b9f 0 296.7px,#31f 0 298.1px,#86f 0 299.6px,#dce 0 301px,#fba 0 302.5px,#ede 0 303.9px,#eee 0 305.4px,#cbe 0 306.8px,#b9f 0 308.3px,#cbe 0 309.7px,#dde 0 311.2px,#caf 0 312.6px,#baf 0 314.1px,#53f 0 315.5px,#dde 0 317px,#fa8 0 318.4px,#eee 0 319.8px,#a7f 0 321.3px,#ede 0 322.7px,#dce 0 324.2px,#cbe 0 327.1px,#dce 0 328.5px,#dde 0 330px,#a8f 0 331.4px,#b9f 0 334.3px,#cbe 0 335.8px,#dde 0 337.2px,#85f 0 338.7px,#a7f 0 340.1px,#eee 0 341.6px,#97f 0 343px,#cae 0 344.5px,#baf 0 345.9px,#32f 0 347.3px,#cae 0 348.8px,#b9f 0 350.2px,#75f 0 351.7px,#fa9 0 353.1px,#dde 0 354.6px,#a8f 0 356px,#cae 0 357.5px,#b9f 0 358.9px,#dde 0 360.4px,#eee 0 361.8px,#fba 0 363.3px,#dce 0 364.7px,#74f 0 366.2px,#b9f 0 367.6px,#dce 0 369.1px,#eee 0 370.5px,#b8f 0 372px,#a7f 0 374.8px,#dce 0 376.3px,#a8f 0 377.7px,#eee 0 379.2px,#dbe 0 380.6px,#fcb 0 382.1px,#dde 0 383.5px,#b9f 0 385px,#96f 0 386.4px,#fdc 0 387.9px,#86f 0 389.3px,#b8f 0 390.8px,#96f 0 392.2px,#ede 0 393.7px,#b9f 0 395.1px,#a8f 0 396.6px,#cbe 0 398px,#00f 0 399.5px,#dce 0 400.9px,#cae 0 402.3px,#96f 0 403.8px,#baf 0 405.2px,#97f 0 406.7px,#a7f 0 408.1px,#b9f 0 409.6px,#cae 0 411px,#75f 0 412.5px,#96f 0 413.9px,#fa9 0 415.4px,#b8f 0 416.8px,#cae 0 418.3px,#fdc 0 419.7px,#fa8 0 421.2px,#cae 0 422.6px,#75f 0 424.1px,#97f 0 426.9px,#64f 0 428.4px,#baf 0 429.8px,#fdd 0 431.3px,#cbe 0 432.7px,#b9f 0 434.2px,#dce 0 435.6px,#baf 0 437.1px,#74f 0 438.5px,#dce 0 440px,#64f 0 441.4px,#fdc 0 442.9px,#eee 0 444.3px,#cbe 0 445.8px,#75f 0 447.2px,#f97 0 448.7px,#eee 0 450.1px,#cbe 0 451.6px,#baf 0 453px)"></div>
<div class="hr" style="top:292.97px;background:linear-gradient(90deg,#fa8 0 1.4px,#f86 0 2.9px,#fba 0 4.3px,#f75 0 5.8px,#fa9 0 7.2px,#f75 0 8.7px,#fcb 0 10.1px,#ede 0 11.6px,#f75 0 13px,#f64 0 14.5px,#f97 0 15.9px,#fcc 0 17.4px,#f76 0 18.8px,#f97 0 20.3px,#fcb 0 21.7px,#f97 0 23.2px,#fba 0 26.1px,#f86 0 27.5px,#fcb 0 28.9px,#fa8 0 30.4px,#fcb 0 31.8px,#dde 0 33.3px,#fcb 0 34.7px,#fba 0 37.6px,#eee 0 39.1px,#fa9 0 40.5px,#fba 0 42px,#fcc 0 43.4px,#f00 0 44.9px,#fcb 0 46.3px,#f98 0 47.8px,#f97 0 49.2px,#cbe 0 50.7px,#fa8 0 52.1px,#dce 0 53.5px,#f97 0 56.4px,#fcc 0 57.9px,#dce 0 59.3px,#fcb 0 62.2px,#f98 0 63.7px,#eee 0 65.1px,#f64 0 66.6px,#edd 0 68px,#fcb 0 69.5px,#f00 0 70.9px,#fa8 0 72.4px,#edd 0 73.8px,#f75 0 75.3px,#eee 0 76.7px,#fdc 0 78.2px,#fbb 0 79.6px,#fcb 0 81px,#fa8 0 83.9px,#dde 0 85.4px,#fdd 0 86.8px,#edd 0 89.7px,#fa8 0 91.2px,#f98 0 92.6px,#fdc 0 94.1px,#f31 0 95.5px,#f87 0 97px,#fcc 0 98.4px,#fba 0 99.9px,#fa9 0 101.3px,#fdc 0 102.8px,#f97 0 104.2px,#f87 0 105.7px,#f53 0 107.1px,#cbe 0 108.5px,#fdc 0 110px,#f98 0 111.4px,#fba 0 112.9px,#fa9 0 114.3px,#ede 0 115.8px,#f21 0 117.2px,#fdc 0 118.7px,#f97 0 120.1px,#dde 0 121.6px,#f98 0 123px,#f86 0 124.5px,#f42 0 127.4px,#f00 0 128.8px,#f53 0 130.3px,#f87 0 131.7px,#fcb 0 133.2px,#dce 0 134.6px,#f97 0 136px,#eee 0 137.5px,#f98 0 138.9px,#fba 0 140.4px,#dde 0 141.8px,#fa8 0 143.3px,#fba 0 144.7px,#fcb 0 146.2px,#f86 0 147.6px,#ede 0 149.1px,#fa9 0 152px,#fb9 0 153.4px,#dce 0 154.9px,#f98 0 156.3px,#dce 0 157.8px,#fba 0 159.2px,#f97 0 160.6px,#a7f 0 162.1px,#dde 0 165px,#fa9 0 166.4px,#fba 0 167.9px,#fdc 0 169.3px,#f86 0 170.8px,#f76 0 172.2px,#eee 0 173.7px,#fdd 0 175.1px,#fa9 0 176.6px,#fa8 0 178px,#cae 0 179.5px,#fdd 0 180.9px,#ede 0 182.4px,#fdc 0 185.3px,#edd 0 186.7px,#b9f 0 188.1px,#ede 0 189.6px,#dce 0 191px,#fcc 0 192.5px,#fcb 0 193.9px,#cbe 0 195.4px,#f98 0 196.8px,#fcb 0 198.3px,#fba 0 199.7px,#fdc 0 201.2px,#fcc 0 202.6px,#dce 0 204.1px,#f86 0 205.5px,#cbe 0 207px,#b9f 0 208.4px,#eee 0 209.9px,#fdc 0 211.3px,#dbe 0 212.8px,#b9f 0 214.2px,#cae 0 215.6px,#dce 0 217.1px,#cbe 0 218.5px,#b9f 0 220px,#cbe 0 221.4px,#fdc 0 222.9px,#fcb 0 224.3px,#eee 0 225.8px,#86f 0 227.2px,#dce 0 228.7px,#dde 0 230.1px,#ede 0 233px,#dce 0 234.5px,#a7f 0 235.9px,#dde 0 237.4px,#fcc 0 238.8px,#96f 0 240.2px,#b9f 0 241.7px,#fdc 0 243.1px,#a8f 0 244.6px,#cbe 0 246px,#dde 0 247.5px,#fba 0 248.9px,#cae 0 250.4px,#dce 0 251.8px,#eee 0 253.3px,#fdd 0 254.7px,#dde 0 257.6px,#f00 0 259.1px,#eee 0 260.5px,#00f 0 262px,#cae 0 263.4px,#b9f 0 264.9px,#a8f 0 266.3px,#dce 0 267.7px,#cae 0 269.2px,#fcc 0 270.6px,#dde 0 272.1px,#a7f 0 273.5px,#cae 0 275px,#cbe 0 276.4px,#f97 0 277.9px,#fdd 0 279.3px,#dde 0 280.8px,#cbe 0 282.2px,#cae 0 283.7px,#eee 0 285.1px,#cbe 0 286.6px,#dbe 0 288px,#a7f 0 289.5px,#dde 0 290.9px,#86f 0 292.4px,#f97 0 293.8px,#b9f 0 295.2px,#dde 0 296.7px,#eed 0 298.1px,#dce 0 299.6px,#f87 0 301px,#fcb 0 302.5px,#dde 0 303.9px,#dce 0 305.4px,#b9f 0 306.8px,#ede 0 308.3px,#86f 0 309.7px,#baf 0 311.2px,#ede 0 312.6px,#edd 0 314.1px,#fa9 0 315.5px,#cbe 0 317px,#fcb 0 318.4px,#dce 0 319.8px,#cae 0 321.3px,#97f 0 322.7px,#edd 0 324.2px,#a8f 0 325.6px,#eee 0 327.1px,#cbe 0 328.5px,#eee 0 330px,#ede 0 331.4px,#a8f 0 332.9px,#dde 0 334.3px,#dce 0 337.2px,#a8f 0 338.7px,#b9f 0 340.1px,#edd 0 341.6px,#dde 0 343px,#b9f 0 344.5px,#dde 0 345.9px,#dce 0 347.3px,#cbe 0 348.8px,#dce 0 350.2px,#dde 0 351.7px,#ede 0 353.1px,#dce 0 354.6px,#a7f 0 356px,#baf 0 357.5px,#cae 0 358.9px,#dce 0 360.4px,#eee 0 361.8px,#dce 0 364.7px,#cbe 0 366.2px,#edd 0 367.6px,#eee 0 369.1px,#ede 0 370.5px,#edd 0 372px,#eee 0 373.4px,#dce 0 374.8px,#b9f 0 376.3px,#dce 0 379.2px,#85f 0 380.6px,#b9f 0 382.1px,#eed 0 383.5px,#f75 0 385px,#74f 0 386.4px,#eee 0 387.9px,#ede 0 389.3px,#fba 0 390.8px,#b9f 0 392.2px,#cbe 0 393.7px,#cae 0 395.1px,#baf 0 396.6px,#cae 0 398px,#fcb 0 399.5px,#fba 0 400.9px,#cae 0 402.3px,#85f 0 403.8px,#b9f 0 406.7px,#97f 0 408.1px,#86f 0 409.6px,#b9f 0 411px,#97f 0 412.5px,#f97 0 413.9px,#cae 0 415.4px,#f97 0 416.8px,#b9f 0 418.3px,#fdc 0 419.7px,#dce 0 421.2px,#b9f 0 422.6px,#a8f 0 424.1px,#97f 0 425.5px,#a8f 0 428.4px,#b9f 0 429.8px,#dce 0 431.3px,#fba 0 432.7px,#ede 0 434.2px,#cbe 0 435.6px,#b9f 0 437.1px,#ede 0 438.5px,#dde 0 440px,#a8f 0 441.4px,#f97 0 442.9px,#ede 0 444.3px,#cae 0 445.8px,#b9f 0 447.2px,#f00 0 448.7px,#cae 0 451.6px,#edd 0 453px)"></div>
<div class="hr" style="top:300.73px;background:linear-gradient(90deg,#fcb 0 1.4px,#edd 0 2.9px,#fdc 0 4.3px,#fcb 0 5.8px,#f53 0 7.2px,#f76 0 8.7px,#f97 0 10.1px,#f87 0 11.6px,#f32 0 13px,#dde 0 14.5px,#f97 0 15.9px,#fa9 0 17.4px,#fba 0 18.8px,#f64 0 20.3px,#fbb 0 21.7px,#fcb 0 23.2px,#fa8 0 24.6px,#fa9 0 26.1px,#f64 0 27.5px,#dce 0 28.9px,#f97 0 30.4px,#fba 0 31.8px,#fa9 0 33.3px,#fcb 0 34.7px,#b9f 0 36.2px,#fa9 0 37.6px,#f53 0 39.1px,#cbe 0 40.5px,#fa8 0 42px,#fb9 0 43.4px,#f00 0 44.9px,#fa8 0 46.3px,#dce 0 47.8px,#f76 0 49.2px,#fba 0 50.7px,#eee 0 53.5px,#fa9 0 55px,#fba 0 56.4px,#f98 0 57.9px,#eee 0 59.3px,#fa9 0 60.8px,#edd 0 63.7px,#fcb 0 65.1px,#fcc 0 66.6px,#fa8 0 68px,#ede 0 69.5px,#f42 0 70.9px,#fa9 0 72.4px,#fcc 0 73.8px,#f75 0 75.3px,#f98 0 76.7px,#f32 0 78.2px,#fa9 0 79.6px,#fcb 0 81px,#f53 0 82.5px,#eed 0 83.9px,#ede 0 85.4px,#edd 0 86.8px,#eee 0 88.3px,#fa9 0 89.7px,#fdc 0 91.2px,#f87 0 92.6px,#fa9 0 94.1px,#f97 0 95.5px,#eee 0 97px,#f97 0 98.4px,#f00 0 99.9px,#fbb 0 101.3px,#f98 0 102.8px,#dde 0 104.2px,#fcc 0 105.7px,#f75 0 107.1px,#baf 0 108.5px,#f21 0 110px,#f86 0 111.4px,#f53 0 112.9px,#fa8 0 114.3px,#dce 0 115.8px,#fdc 0 117.2px,#dce 0 118.7px,#f98 0 120.1px,#cbe 0 121.6px,#fa9 0 123px,#f00 0 124.5px,#edd 0 125.9px,#fba 0 127.4px,#f43 0 128.8px,#f00 0 130.3px,#b9f 0 131.7px,#a8f 0 133.2px,#cbe 0 134.6px,#fdc 0 136px,#edd 0 140.4px,#fb9 0 141.8px,#fcb 0 143.3px,#fba 0 146.2px,#f75 0 147.6px,#ede 0 149.1px,#f64 0 150.5px,#fa9 0 152px,#fba 0 153.4px,#97f 0 154.9px,#dce 0 156.3px,#fba 0 157.8px,#ede 0 159.2px,#edd 0 160.6px,#ede 0 162.1px,#eee 0 163.5px,#edd 0 165px,#fa9 0 167.9px,#dce 0 169.3px,#fa9 0 170.8px,#cae 0 172.2px,#f97 0 173.7px,#fa9 0 176.6px,#fcc 0 178px,#fdc 0 179.5px,#f75 0 180.9px,#fdd 0 182.4px,#eee 0 183.8px,#fba 0 185.3px,#f64 0 186.7px,#fcb 0 188.1px,#eed 0 189.6px,#fa9 0 191px,#f53 0 192.5px,#fdd 0 193.9px,#edd 0 196.8px,#fba 0 198.3px,#eee 0 199.7px,#fba 0 201.2px,#dce 0 202.6px,#96f 0 204.1px,#fa9 0 205.5px,#edd 0 207px,#ede 0 208.4px,#b8f 0 209.9px,#fcb 0 211.3px,#a7f 0 212.8px,#fba 0 214.2px,#baf 0 215.6px,#a7f 0 217.1px,#75f 0 218.5px,#a8f 0 220px,#fdc 0 221.4px,#baf 0 222.9px,#cbe 0 224.3px,#b9f 0 225.8px,#dce 0 227.2px,#cbe 0 228.7px,#85f 0 230.1px,#eee 0 231.6px,#cbe 0 233px,#b9f 0 234.5px,#dde 0 235.9px,#baf 0 237.4px,#96f 0 238.8px,#64f 0 240.2px,#a8f 0 241.7px,#cbe 0 243.1px,#eee 0 244.6px,#cbe 0 246px,#cae 0 247.5px,#cbe 0 248.9px,#dce 0 250.4px,#42f 0 251.8px,#dce 0 253.3px,#eee 0 254.7px,#a8f 0 256.2px,#baf 0 257.6px,#cbe 0 259.1px,#74f 0 260.5px,#96f 0 262px,#86f 0 263.4px,#caf 0 264.9px,#96f 0 266.3px,#b9f 0 267.7px,#caf 0 269.2px,#a7f 0 270.6px,#f42 0 272.1px,#f75 0 273.5px,#85f 0 275px,#b9f 0 276.4px,#96f 0 277.9px,#b9f 0 282.2px,#b8f 0 283.7px,#fba 0 285.1px,#74f 0 286.6px,#75f 0 288px,#a7f 0 289.5px,#a8f 0 290.9px,#b9f 0 292.4px,#cbe 0 293.8px,#42f 0 295.2px,#b9f 0 296.7px,#63f 0 298.1px,#dde 0 299.6px,#dce 0 301px,#eee 0 302.5px,#cbe 0 303.9px,#cae 0 305.4px,#a8f 0 306.8px,#96f 0 308.3px,#fba 0 309.7px,#dce 0 311.2px,#96f 0 312.6px,#dde 0 314.1px,#64f 0 315.5px,#85f 0 317px,#fbb 0 318.4px,#b9f 0 319.8px,#baf 0 321.3px,#a8f 0 322.7px,#96f 0 324.2px,#86f 0 325.6px,#b9f 0 327.1px,#a8f 0 328.5px,#cbe 0 330px,#a8f 0 331.4px,#cbe 0 332.9px,#97f 0 334.3px,#cbe 0 335.8px,#dde 0 337.2px,#96f 0 338.7px,#b9f 0 340.1px,#cae 0 341.6px,#dde 0 343px,#97f 0 345.9px,#96f 0 347.3px,#dde 0 348.8px,#a7f 0 350.2px,#fa9 0 351.7px,#fba 0 353.1px,#97f 0 354.6px,#96f 0 356px,#97f 0 357.5px,#baf 0 358.9px,#b9f 0 360.4px,#a8f 0 361.8px,#fcb 0 363.3px,#cbe 0 364.7px,#dce 0 366.2px,#fcb 0 367.6px,#cbe 0 369.1px,#f75 0 370.5px,#edd 0 372px,#b9f 0 373.4px,#b8f 0 374.8px,#baf 0 376.3px,#a8f 0 377.7px,#b9f 0 380.6px,#cbe 0 382.1px,#b9f 0 383.5px,#a8f 0 386.4px,#f75 0 387.9px,#cbe 0 389.3px,#75f 0 390.8px,#85f 0 392.2px,#97f 0 393.7px,#cbe 0 395.1px,#96f 0 396.6px,#00f 0 398px,#96f 0 400.9px,#a8f 0 402.3px,#86f 0 403.8px,#cae 0 405.2px,#a8f 0 406.7px,#a7f 0 408.1px,#cbe 0 409.6px,#caf 0 411px,#b8f 0 412.5px,#86f 0 413.9px,#eee 0 415.4px,#96f 0 416.8px,#dce 0 418.3px,#fdd 0 419.7px,#eee 0 421.2px,#a7f 0 422.6px,#b9f 0 425.5px,#f97 0 426.9px,#97f 0 428.4px,#dce 0 429.8px,#96f 0 431.3px,#dbe 0 432.7px,#75f 0 434.2px,#cbe 0 435.6px,#97f 0 437.1px,#a8f 0 438.5px,#b9f 0 440px,#a7f 0 441.4px,#f86 0 442.9px,#cbe 0 444.3px,#dce 0 445.8px,#a7f 0 447.2px,#f97 0 448.7px,#a8f 0 450.1px,#75f 0 451.6px,#cbe 0 453px)"></div>
<div class="hr" style="top:308.48px;background:linear-gradient(90deg,#b9f 0 1.4px,#ede 0 2.9px,#fba 0 4.3px,#f53 0 5.8px,#ede 0 7.2px,#edd 0 8.7px,#fba 0 11.6px,#fdc 0 13px,#fcb 0 14.5px,#f64 0 15.9px,#eed 0 17.4px,#dce 0 18.8px,#fba 0 20.3px,#f98 0 21.7px,#f53 0 23.2px,#fba 0 24.6px,#eee 0 26.1px,#fa9 0 27.5px,#f00 0 28.9px,#f97 0 30.4px,#f86 0 31.8px,#cbe 0 33.3px,#eee 0 34.7px,#eed 0 36.2px,#f75 0 39.1px,#eee 0 40.5px,#edd 0 42px,#b8f 0 43.4px,#f32 0 44.9px,#b9f 0 46.3px,#eee 0 47.8px,#ede 0 49.2px,#fdc 0 50.7px,#dde 0 52.1px,#ede 0 53.5px,#f87 0 55px,#fdc 0 56.4px,#fcb 0 57.9px,#f87 0 59.3px,#fcb 0 62.2px,#f32 0 63.7px,#fa8 0 65.1px,#fcb 0 68px,#eee 0 69.5px,#f87 0 70.9px,#cbe 0 72.4px,#fa9 0 73.8px,#f86 0 75.3px,#f98 0 76.7px,#fba 0 79.6px,#fdc 0 81px,#f75 0 82.5px,#fba 0 83.9px,#fdc 0 85.4px,#eee 0 86.8px,#fb9 0 88.3px,#dce 0 89.7px,#ede 0 91.2px,#edd 0 92.6px,#fba 0 94.1px,#f98 0 95.5px,#fa9 0 97px,#f98 0 98.4px,#f75 0 99.9px,#edd 0 101.3px,#fa8 0 102.8px,#f87 0 104.2px,#fba 0 105.7px,#edd 0 107.1px,#fdd 0 108.5px,#f64 0 110px,#fcb 0 111.4px,#fba 0 112.9px,#f86 0 114.3px,#dce 0 115.8px,#edd 0 118.7px,#f98 0 120.1px,#eee 0 121.6px,#fb9 0 123px,#edd 0 124.5px,#f53 0 125.9px,#edd 0 127.4px,#f53 0 128.8px,#fdc 0 130.3px,#fa9 0 131.7px,#f75 0 133.2px,#cbe 0 134.6px,#fbb 0 136px,#fba 0 137.5px,#f86 0 138.9px,#fba 0 140.4px,#f98 0 141.8px,#fa9 0 143.3px,#fdc 0 144.7px,#f97 0 146.2px,#f75 0 147.6px,#ede 0 149.1px,#eee 0 150.5px,#f86 0 152px,#f76 0 153.4px,#cae 0 154.9px,#fba 0 156.3px,#f53 0 157.8px,#dde 0 159.2px,#fa8 0 160.6px,#fdc 0 162.1px,#fa9 0 163.5px,#f86 0 165px,#dde 0 166.4px,#fdc 0 167.9px,#cbe 0 169.3px,#fba 0 170.8px,#f98 0 172.2px,#ede 0 173.7px,#dbe 0 175.1px,#fdc 0 176.6px,#fcc 0 178px,#fdd 0 179.5px,#fcb 0 180.9px,#ede 0 182.4px,#fba 0 183.8px,#baf 0 185.3px,#a7f 0 186.7px,#fa8 0 188.1px,#fdd 0 189.6px,#eed 0 191px,#fba 0 192.5px,#fa8 0 193.9px,#cae 0 195.4px,#edd 0 196.8px,#fcc 0 199.7px,#dce 0 201.2px,#fb9 0 202.6px,#85f 0 204.1px,#fcb 0 205.5px,#edd 0 207px,#ede 0 208.4px,#a8f 0 209.9px,#f97 0 211.3px,#baf 0 212.8px,#a7f 0 214.2px,#a8f 0 215.6px,#cae 0 217.1px,#dce 0 218.5px,#b9f 0 220px,#ede 0 221.4px,#eee 0 222.9px,#fcc 0 224.3px,#a8f 0 225.8px,#dbe 0 227.2px,#fdc 0 228.7px,#b9f 0 230.1px,#eee 0 231.6px,#f98 0 233px,#b9f 0 234.5px,#cbe 0 235.9px,#a7f 0 237.4px,#dde 0 238.8px,#74f 0 240.2px,#fcc 0 241.7px,#dde 0 243.1px,#97f 0 244.6px,#a8f 0 246px,#f76 0 247.5px,#dce 0 248.9px,#85f 0 250.4px,#dbe 0 251.8px,#97f 0 253.3px,#eee 0 254.7px,#a8f 0 256.2px,#edd 0 257.6px,#cae 0 259.1px,#a8f 0 260.5px,#97f 0 262px,#74f 0 263.4px,#97f 0 264.9px,#96f 0 266.3px,#a8f 0 267.7px,#cbe 0 270.6px,#fcc 0 272.1px,#97f 0 273.5px,#cae 0 275px,#cbe 0 276.4px,#cae 0 277.9px,#dce 0 279.3px,#cbe 0 280.8px,#96f 0 282.2px,#dde 0 283.7px,#dce 0 285.1px,#a7f 0 286.6px,#97f 0 288px,#dde 0 289.5px,#eee 0 290.9px,#a8f 0 292.4px,#eee 0 293.8px,#97f 0 295.2px,#cae 0 296.7px,#85f 0 298.1px,#cbe 0 299.6px,#fcb 0 301px,#eee 0 302.5px,#b9f 0 303.9px,#eee 0 305.4px,#dce 0 308.3px,#a8f 0 309.7px,#dde 0 311.2px,#cbe 0 312.6px,#dde 0 314.1px,#cae 0 317px,#fa9 0 318.4px,#b9f 0 319.8px,#a8f 0 321.3px,#edd 0 322.7px,#cbe 0 324.2px,#f86 0 325.6px,#ede 0 327.1px,#a7f 0 328.5px,#cbe 0 330px,#a7f 0 331.4px,#b9f 0 332.9px,#97f 0 334.3px,#dde 0 335.8px,#dce 0 337.2px,#64f 0 338.7px,#cae 0 340.1px,#cbe 0 341.6px,#a8f 0 343px,#cbe 0 344.5px,#b9f 0 345.9px,#b8f 0 347.3px,#eee 0 348.8px,#cbe 0 351.7px,#fa9 0 353.1px,#cbe 0 354.6px,#f86 0 356px,#b9f 0 357.5px,#f87 0 358.9px,#53f 0 360.4px,#cbe 0 361.8px,#f76 0 363.3px,#caf 0 364.7px,#b9f 0 366.2px,#cbe 0 367.6px,#85f 0 369.1px,#dde 0 370.5px,#f00 0 372px,#fdc 0 373.4px,#dce 0 374.8px,#a7f 0 376.3px,#97f 0 377.7px,#cae 0 379.2px,#a8f 0 380.6px,#dde 0 382.1px,#dbe 0 383.5px,#a7f 0 385px,#85f 0 386.4px,#eed 0 387.9px,#dce 0 389.3px,#a8f 0 390.8px,#dce 0 392.2px,#cae 0 393.7px,#baf 0 395.1px,#caf 0 396.6px,#cae 0 398px,#63f 0 399.5px,#cae 0 402.3px,#96f 0 405.2px,#dce 0 406.7px,#85f 0 408.1px,#a8f 0 409.6px,#cbe 0 411px,#75f 0 412.5px,#edd 0 413.9px,#dce 0 415.4px,#97f 0 418.3px,#edd 0 419.7px,#cae 0 421.2px,#b9f 0 422.6px,#85f 0 424.1px,#00f 0 425.5px,#cbe 0 428.4px,#fba 0 429.8px,#ede 0 431.3px,#eee 0 432.7px,#a8f 0 434.2px,#fa8 0 435.6px,#baf 0 437.1px,#96f 0 438.5px,#fba 0 440px,#75f 0 441.4px,#fcc 0 442.9px,#a8f 0 444.3px,#cae 0 445.8px,#b9f 0 447.2px,#f86 0 448.7px,#fdc 0 450.1px,#cbe 0 451.6px,#dce 0 453px)"></div>
<div class="hr" style="top:316.24px;background:linear-gradient(90deg,#cae 0 1.4px,#eee 0 2.9px,#b9f 0 4.3px,#fa9 0 5.8px,#fba 0 8.7px,#fdc 0 10.1px,#f00 0 11.6px,#fa8 0 13px,#f86 0 14.5px,#eee 0 15.9px,#edd 0 17.4px,#fba 0 20.3px,#edd 0 21.7px,#f97 0 23.2px,#dce 0 24.6px,#f98 0 27.5px,#f97 0 30.4px,#f64 0 31.8px,#edd 0 33.3px,#fcb 0 34.7px,#f86 0 36.2px,#edd 0 37.6px,#f00 0 39.1px,#dde 0 40.5px,#edd 0 42px,#eed 0 43.4px,#f86 0 44.9px,#f75 0 47.8px,#fa8 0 50.7px,#fa9 0 52.1px,#dce 0 53.5px,#eee 0 55px,#fa9 0 56.4px,#dce 0 57.9px,#fcb 0 59.3px,#fdc 0 60.8px,#fba 0 63.7px,#b9f 0 65.1px,#f86 0 66.6px,#eee 0 68px,#fa9 0 69.5px,#f86 0 70.9px,#fdd 0 72.4px,#f75 0 73.8px,#eee 0 75.3px,#fa9 0 76.7px,#fba 0 78.2px,#f86 0 79.6px,#fb9 0 81px,#f64 0 82.5px,#fcb 0 83.9px,#f86 0 85.4px,#fdc 0 86.8px,#dde 0 88.3px,#eee 0 89.7px,#fbb 0 91.2px,#f75 0 92.6px,#dbe 0 94.1px,#fdc 0 95.5px,#f87 0 97px,#eee 0 98.4px,#fba 0 99.9px,#fdc 0 101.3px,#ede 0 102.8px,#eee 0 104.2px,#f97 0 105.7px,#fcb 0 107.1px,#f86 0 108.5px,#a8f 0 110px,#f98 0 111.4px,#fdc 0 112.9px,#f43 0 114.3px,#dde 0 115.8px,#f97 0 117.2px,#f87 0 118.7px,#fa9 0 120.1px,#dce 0 121.6px,#f98 0 123px,#f86 0 124.5px,#f64 0 125.9px,#f98 0 127.4px,#f86 0 128.8px,#eee 0 130.3px,#edd 0 131.7px,#f97 0 133.2px,#dde 0 134.6px,#ede 0 136px,#eee 0 137.5px,#f97 0 140.4px,#fcb 0 141.8px,#fdc 0 143.3px,#ede 0 144.7px,#f87 0 146.2px,#fcc 0 149.1px,#fcb 0 152px,#dce 0 153.4px,#fba 0 154.9px,#97f 0 156.3px,#b9f 0 157.8px,#f87 0 159.2px,#eed 0 160.6px,#fdc 0 162.1px,#f87 0 163.5px,#f53 0 165px,#edd 0 166.4px,#fcb 0 167.9px,#fa9 0 170.8px,#cae 0 172.2px,#f97 0 173.7px,#a7f 0 175.1px,#f86 0 176.6px,#eed 0 178px,#fcc 0 179.5px,#fba 0 180.9px,#edd 0 182.4px,#f86 0 183.8px,#eed 0 185.3px,#fa8 0 186.7px,#fcb 0 188.1px,#ede 0 189.6px,#fdc 0 191px,#fba 0 192.5px,#edd 0 193.9px,#fba 0 195.4px,#cbe 0 196.8px,#fdd 0 198.3px,#dde 0 199.7px,#fcb 0 201.2px,#fa8 0 202.6px,#dce 0 204.1px,#baf 0 205.5px,#f86 0 207px,#fdc 0 208.4px,#ede 0 209.9px,#cbe 0 212.8px,#eee 0 214.2px,#edd 0 215.6px,#a8f 0 217.1px,#b9f 0 218.5px,#f00 0 220px,#eed 0 221.4px,#fcc 0 222.9px,#eee 0 224.3px,#a8f 0 225.8px,#cbe 0 227.2px,#eee 0 228.7px,#dbe 0 230.1px,#ede 0 231.6px,#a8f 0 233px,#cbe 0 234.5px,#b9f 0 235.9px,#cbe 0 237.4px,#dde 0 238.8px,#85f 0 240.2px,#ede 0 241.7px,#dbe 0 243.1px,#b9f 0 244.6px,#cae 0 246px,#eee 0 247.5px,#cae 0 248.9px,#b9f 0 250.4px,#97f 0 251.8px,#eee 0 253.3px,#fba 0 254.7px,#b9f 0 256.2px,#dde 0 257.6px,#eee 0 259.1px,#63f 0 260.5px,#fcc 0 262px,#dce 0 263.4px,#eed 0 264.9px,#eee 0 266.3px,#a8f 0 267.7px,#dce 0 269.2px,#b9f 0 270.6px,#edd 0 272.1px,#63f 0 273.5px,#cbe 0 275px,#b9f 0 276.4px,#caf 0 277.9px,#ede 0 279.3px,#eee 0 280.8px,#a7f 0 282.2px,#dde 0 283.7px,#cbe 0 285.1px,#96f 0 286.6px,#cbe 0 288px,#f98 0 289.5px,#dce 0 290.9px,#b8f 0 292.4px,#dce 0 293.8px,#cae 0 295.2px,#fcc 0 296.7px,#64f 0 298.1px,#a8f 0 299.6px,#eee 0 302.5px,#dde 0 303.9px,#85f 0 305.4px,#cbe 0 306.8px,#baf 0 308.3px,#a8f 0 309.7px,#dce 0 311.2px,#fcc 0 312.6px,#ede 0 314.1px,#eee 0 315.5px,#fcb 0 317px,#fa9 0 318.4px,#b9f 0 319.8px,#cbe 0 321.3px,#eed 0 322.7px,#fcc 0 324.2px,#cbe 0 325.6px,#b9f 0 327.1px,#eee 0 328.5px,#97f 0 330px,#b9f 0 331.4px,#cae 0 332.9px,#dce 0 334.3px,#baf 0 335.8px,#dde 0 337.2px,#caf 0 338.7px,#baf 0 340.1px,#dce 0 341.6px,#eee 0 343px,#cae 0 344.5px,#97f 0 345.9px,#b9f 0 347.3px,#fba 0 348.8px,#baf 0 350.2px,#dce 0 351.7px,#fdd 0 353.1px,#cae 0 354.6px,#a8f 0 356px,#a7f 0 357.5px,#dce 0 358.9px,#ede 0 360.4px,#eed 0 361.8px,#fcc 0 363.3px,#cae 0 364.7px,#74f 0 366.2px,#f75 0 367.6px,#b9f 0 370.5px,#a8f 0 372px,#eee 0 373.4px,#dce 0 376.3px,#b9f 0 377.7px,#dce 0 379.2px,#baf 0 380.6px,#64f 0 382.1px,#eed 0 383.5px,#a8f 0 385px,#dce 0 386.4px,#dde 0 387.9px,#a8f 0 389.3px,#97f 0 390.8px,#96f 0 392.2px,#dbe 0 393.7px,#f42 0 395.1px,#97f 0 396.6px,#74f 0 398px,#ede 0 399.5px,#cbe 0 400.9px,#97f 0 402.3px,#cbe 0 403.8px,#dce 0 405.2px,#cae 0 406.7px,#a8f 0 409.6px,#00f 0 411px,#cae 0 412.5px,#97f 0 413.9px,#fa9 0 415.4px,#a7f 0 416.8px,#dde 0 418.3px,#edd 0 419.7px,#b9f 0 422.6px,#eee 0 424.1px,#a8f 0 425.5px,#63f 0 426.9px,#fa8 0 428.4px,#ede 0 429.8px,#cae 0 431.3px,#f98 0 432.7px,#cae 0 435.6px,#dce 0 438.5px,#ede 0 440px,#b9f 0 441.4px,#eee 0 442.9px,#dce 0 444.3px,#dde 0 445.8px,#b9f 0 447.2px,#f53 0 448.7px,#cae 0 450.1px,#a7f 0 451.6px,#fcc 0 453px)"></div>
<div class="hr" style="top:324px;background:linear-gradient(90deg,#fba 0 1.4px,#f75 0 2.9px,#f64 0 4.3px,#f53 0 5.8px,#f00 0 7.2px,#f97 0 8.7px,#f64 0 10.1px,#f75 0 11.6px,#f98 0 13px,#f53 0 14.5px,#f97 0 15.9px,#f75 0 17.4px,#fa9 0 18.8px,#f75 0 20.3px,#eed 0 21.7px,#f64 0 23.2px,#f86 0 24.6px,#f75 0 26.1px,#f64 0 27.5px,#f53 0 28.9px,#fb9 0 30.4px,#fbb 0 31.8px,#dde 0 33.3px,#f75 0 34.7px,#f42 0 36.2px,#f98 0 37.6px,#f00 0 39.1px,#ede 0 40.5px,#fa9 0 42px,#f31 0 43.4px,#f21 0 44.9px,#dde 0 46.3px,#f98 0 47.8px,#f86 0 49.2px,#f64 0 50.7px,#f76 0 52.1px,#fba 0 53.5px,#fa8 0 55px,#f21 0 56.4px,#fba 0 57.9px,#f86 0 59.3px,#eee 0 60.8px,#f75 0 62.2px,#f53 0 63.7px,#f97 0 65.1px,#f53 0 66.6px,#fdd 0 68px,#fcc 0 69.5px,#f10 0 70.9px,#f97 0 72.4px,#fcb 0 73.8px,#f42 0 75.3px,#fa9 0 76.7px,#fcb 0 78.2px,#f97 0 79.6px,#f86 0 81px,#f21 0 82.5px,#f10 0 83.9px,#fba 0 85.4px,#f97 0 86.8px,#f32 0 88.3px,#fdc 0 89.7px,#fba 0 91.2px,#fa9 0 92.6px,#f75 0 94.1px,#f00 0 95.5px,#dbe 0 97px,#f75 0 98.4px,#fa9 0 99.9px,#eee 0 101.3px,#fb9 0 102.8px,#f98 0 104.2px,#f76 0 105.7px,#fb9 0 107.1px,#f97 0 108.5px,#eee 0 110px,#f75 0 111.4px,#f00 0 112.9px,#fba 0 114.3px,#f98 0 115.8px,#f86 0 117.2px,#dce 0 118.7px,#fa8 0 120.1px,#f97 0 121.6px,#f00 0 123px,#f21 0 124.5px,#fa8 0 125.9px,#f75 0 127.4px,#fa8 0 128.8px,#f42 0 130.3px,#eee 0 131.7px,#edd 0 133.2px,#eee 0 134.6px,#f64 0 136px,#dce 0 137.5px,#f75 0 138.9px,#f53 0 140.4px,#fdc 0 141.8px,#f86 0 143.3px,#fcb 0 144.7px,#f86 0 146.2px,#f76 0 147.6px,#dce 0 149.1px,#fcb 0 150.5px,#f75 0 152px,#f97 0 153.4px,#fa9 0 154.9px,#f98 0 159.2px,#f64 0 162.1px,#f97 0 163.5px,#fba 0 165px,#fa9 0 166.4px,#fa8 0 167.9px,#dce 0 169.3px,#fba 0 172.2px,#f00 0 173.7px,#f98 0 175.1px,#fb9 0 176.6px,#f86 0 178px,#f98 0 179.5px,#f86 0 180.9px,#f64 0 182.4px,#f53 0 183.8px,#fa9 0 185.3px,#f98 0 186.7px,#f97 0 188.1px,#fcc 0 189.6px,#fb9 0 191px,#fa9 0 192.5px,#f75 0 193.9px,#fcc 0 195.4px,#f97 0 196.8px,#fba 0 198.3px,#fa8 0 199.7px,#fba 0 201.2px,#fbb 0 202.6px,#eed 0 204.1px,#ede 0 205.5px,#f76 0 207px,#fcb 0 208.4px,#eee 0 209.9px,#fdc 0 211.3px,#85f 0 212.8px,#eee 0 214.2px,#97f 0 215.6px,#86f 0 217.1px,#b9f 0 218.5px,#ede 0 220px,#eee 0 221.4px,#fcb 0 222.9px,#fa8 0 224.3px,#dce 0 225.8px,#a8f 0 227.2px,#cbe 0 228.7px,#b9f 0 230.1px,#fa8 0 231.6px,#dde 0 233px,#86f 0 234.5px,#a8f 0 235.9px,#cbe 0 237.4px,#b9f 0 238.8px,#96f 0 240.2px,#fa9 0 241.7px,#eee 0 243.1px,#cae 0 244.6px,#cbe 0 246px,#eee 0 247.5px,#fcb 0 248.9px,#a8f 0 250.4px,#64f 0 251.8px,#f00 0 253.3px,#dce 0 254.7px,#86f 0 256.2px,#dce 0 257.6px,#fa9 0 259.1px,#97f 0 260.5px,#42f 0 262px,#dde 0 263.4px,#b9f 0 264.9px,#a8f 0 266.3px,#caf 0 267.7px,#fbb 0 269.2px,#dde 0 270.6px,#eee 0 272.1px,#b9f 0 273.5px,#dde 0 275px,#cae 0 276.4px,#a8f 0 277.9px,#dce 0 280.8px,#cbe 0 282.2px,#f53 0 283.7px,#b9f 0 285.1px,#a7f 0 286.6px,#dbe 0 288px,#a7f 0 289.5px,#caf 0 290.9px,#86f 0 292.4px,#dde 0 293.8px,#a8f 0 295.2px,#cae 0 296.7px,#f97 0 298.1px,#a8f 0 299.6px,#dde 0 301px,#ede 0 302.5px,#eee 0 303.9px,#cbe 0 305.4px,#b9f 0 308.3px,#ede 0 309.7px,#dde 0 311.2px,#a8f 0 312.6px,#dde 0 314.1px,#86f 0 315.5px,#64f 0 317px,#fcc 0 318.4px,#fcb 0 319.8px,#74f 0 321.3px,#cbe 0 322.7px,#eee 0 324.2px,#b9f 0 325.6px,#cbe 0 327.1px,#a7f 0 328.5px,#cae 0 330px,#a8f 0 331.4px,#97f 0 332.9px,#cae 0 334.3px,#dde 0 335.8px,#fdc 0 337.2px,#dbe 0 338.7px,#cbe 0 340.1px,#f64 0 341.6px,#dde 0 343px,#97f 0 344.5px,#85f 0 345.9px,#dce 0 347.3px,#fdc 0 348.8px,#dde 0 350.2px,#dbe 0 351.7px,#f86 0 353.1px,#cbe 0 354.6px,#96f 0 356px,#a8f 0 357.5px,#cae 0 358.9px,#dde 0 360.4px,#cae 0 361.8px,#fcc 0 363.3px,#fdd 0 364.7px,#a8f 0 366.2px,#fcb 0 367.6px,#dce 0 369.1px,#dde 0 370.5px,#eed 0 372px,#dce 0 373.4px,#edd 0 374.8px,#dce 0 376.3px,#cbe 0 377.7px,#97f 0 379.2px,#b9f 0 380.6px,#fdc 0 382.1px,#ede 0 383.5px,#edd 0 385px,#dce 0 387.9px,#cae 0 389.3px,#dbe 0 390.8px,#b9f 0 392.2px,#b8f 0 393.7px,#dce 0 396.6px,#a7f 0 398px,#b9f 0 399.5px,#dce 0 402.3px,#85f 0 403.8px,#96f 0 405.2px,#a8f 0 406.7px,#97f 0 408.1px,#b9f 0 409.6px,#97f 0 411px,#b9f 0 412.5px,#53f 0 413.9px,#f76 0 415.4px,#b8f 0 416.8px,#dce 0 418.3px,#fa9 0 419.7px,#edd 0 421.2px,#cbe 0 422.6px,#a8f 0 424.1px,#dce 0 425.5px,#a8f 0 426.9px,#fcb 0 428.4px,#86f 0 429.8px,#edd 0 431.3px,#baf 0 432.7px,#86f 0 434.2px,#cae 0 435.6px,#74f 0 437.1px,#a8f 0 438.5px,#dde 0 440px,#53f 0 441.4px,#fcb 0 442.9px,#dce 0 444.3px,#baf 0 445.8px,#cae 0 447.2px,#f86 0 448.7px,#edd 0 450.1px,#b9f 0 451.6px,#dce 0 453px)"></div>
<div class="hr" style="top:331.75px;background:linear-gradient(90deg,#f75 0 1.4px,#fdd 0 2.9px,#f97 0 4.3px,#f42 0 5.8px,#f98 0 7.2px,#f42 0 8.7px,#f87 0 10.1px,#f64 0 11.6px,#fa9 0 13px,#f97 0 14.5px,#dde 0 15.9px,#fa9 0 17.4px,#fb9 0 18.8px,#fba 0 20.3px,#f87 0 21.7px,#f64 0 23.2px,#f00 0 24.6px,#f64 0 26.1px,#fb9 0 27.5px,#f97 0 28.9px,#f64 0 33.3px,#fcc 0 34.7px,#f75 0 36.2px,#fb9 0 37.6px,#f00 0 39.1px,#fdc 0 40.5px,#fb9 0 42px,#f86 0 43.4px,#f76 0 44.9px,#fba 0 46.3px,#f98 0 47.8px,#edd 0 49.2px,#fba 0 50.7px,#edd 0 52.1px,#f97 0 53.5px,#fb9 0 55px,#f76 0 56.4px,#fba 0 57.9px,#f65 0 59.3px,#fa9 0 60.8px,#f53 0 62.2px,#f97 0 63.7px,#fa9 0 65.1px,#f53 0 66.6px,#fa8 0 68px,#eee 0 69.5px,#f75 0 70.9px,#fba 0 72.4px,#dce 0 73.8px,#fba 0 75.3px,#f53 0 76.7px,#f87 0 78.2px,#fba 0 79.6px,#f53 0 81px,#fb9 0 82.5px,#f75 0 83.9px,#eee 0 85.4px,#f53 0 86.8px,#fcb 0 89.7px,#fa9 0 91.2px,#fa8 0 92.6px,#f32 0 95.5px,#fcb 0 97px,#fba 0 98.4px,#f64 0 99.9px,#f32 0 101.3px,#fa9 0 102.8px,#f64 0 104.2px,#f75 0 105.7px,#fa9 0 107.1px,#dce 0 108.5px,#fa8 0 110px,#f76 0 111.4px,#f86 0 112.9px,#f31 0 114.3px,#f86 0 115.8px,#f00 0 117.2px,#f98 0 118.7px,#fdc 0 120.1px,#f97 0 121.6px,#fa8 0 123px,#f75 0 124.5px,#fcb 0 125.9px,#f42 0 127.4px,#f00 0 128.8px,#fdc 0 130.3px,#eee 0 131.7px,#fcc 0 133.2px,#b9f 0 134.6px,#fcb 0 137.5px,#eee 0 138.9px,#ede 0 140.4px,#dce 0 141.8px,#f86 0 143.3px,#fcc 0 144.7px,#fa8 0 146.2px,#f97 0 147.6px,#fba 0 149.1px,#fcc 0 150.5px,#f76 0 152px,#f64 0 153.4px,#eee 0 154.9px,#fcc 0 156.3px,#f53 0 157.8px,#ede 0 159.2px,#f86 0 160.6px,#a8f 0 162.1px,#eee 0 163.5px,#ede 0 165px,#f98 0 166.4px,#fa8 0 167.9px,#baf 0 169.3px,#f00 0 170.8px,#f75 0 172.2px,#f64 0 173.7px,#eee 0 175.1px,#f86 0 176.6px,#eee 0 178px,#fcb 0 179.5px,#fa8 0 180.9px,#fa9 0 183.8px,#eee 0 185.3px,#f64 0 186.7px,#fdc 0 188.1px,#fa9 0 189.6px,#f97 0 191px,#fa9 0 192.5px,#fba 0 193.9px,#fa9 0 195.4px,#edd 0 196.8px,#f98 0 198.3px,#f64 0 199.7px,#f98 0 201.2px,#fcb 0 202.6px,#fcc 0 204.1px,#b9f 0 205.5px,#f97 0 207px,#b9f 0 208.4px,#a8f 0 209.9px,#dce 0 211.3px,#dde 0 212.8px,#eee 0 214.2px,#cae 0 215.6px,#dce 0 217.1px,#b9f 0 218.5px,#fdc 0 220px,#ede 0 221.4px,#fcb 0 222.9px,#eee 0 224.3px,#cbe 0 225.8px,#b9f 0 227.2px,#fcb 0 228.7px,#86f 0 230.1px,#fa9 0 231.6px,#fcb 0 233px,#cae 0 234.5px,#eee 0 235.9px,#fcb 0 237.4px,#cbe 0 238.8px,#b9f 0 240.2px,#ede 0 241.7px,#eee 0 243.1px,#b9f 0 244.6px,#cbe 0 246px,#fba 0 247.5px,#fdd 0 248.9px,#cae 0 250.4px,#eee 0 251.8px,#b9f 0 253.3px,#fdc 0 254.7px,#dce 0 256.2px,#eee 0 257.6px,#dde 0 259.1px,#42f 0 260.5px,#53f 0 262px,#cbe 0 263.4px,#fdc 0 264.9px,#b9f 0 266.3px,#ede 0 267.7px,#b9f 0 270.6px,#fcb 0 272.1px,#cbe 0 273.5px,#baf 0 275px,#fdc 0 276.4px,#b9f 0 277.9px,#dce 0 279.3px,#dbe 0 280.8px,#97f 0 282.2px,#fdc 0 283.7px,#b9f 0 285.1px,#dce 0 286.6px,#b9f 0 288px,#a7f 0 289.5px,#eee 0 290.9px,#caf 0 292.4px,#dce 0 293.8px,#52f 0 295.2px,#edd 0 296.7px,#cae 0 298.1px,#96f 0 299.6px,#fba 0 301px,#eee 0 302.5px,#dde 0 303.9px,#cae 0 305.4px,#a8f 0 306.8px,#a7f 0 308.3px,#dde 0 309.7px,#fdc 0 311.2px,#cbe 0 312.6px,#fcb 0 314.1px,#dce 0 315.5px,#fcb 0 317px,#f75 0 318.4px,#cbe 0 321.3px,#dce 0 322.7px,#cbe 0 324.2px,#a8f 0 325.6px,#fcb 0 327.1px,#b9f 0 328.5px,#eee 0 330px,#edd 0 331.4px,#cbe 0 332.9px,#cae 0 334.3px,#ede 0 335.8px,#fba 0 337.2px,#86f 0 338.7px,#a8f 0 340.1px,#eee 0 341.6px,#edd 0 343px,#dde 0 344.5px,#b9f 0 345.9px,#dce 0 347.3px,#fcb 0 348.8px,#a8f 0 350.2px,#dce 0 351.7px,#fa8 0 353.1px,#ede 0 354.6px,#cae 0 356px,#fcb 0 357.5px,#cbe 0 358.9px,#cae 0 360.4px,#eee 0 361.8px,#f98 0 363.3px,#dde 0 364.7px,#cbe 0 366.2px,#f98 0 367.6px,#fcc 0 369.1px,#fdc 0 370.5px,#dce 0 372px,#fb9 0 373.4px,#dce 0 374.8px,#96f 0 376.3px,#b9f 0 377.7px,#a8f 0 379.2px,#64f 0 380.6px,#baf 0 382.1px,#cbe 0 385px,#cae 0 386.4px,#fdc 0 387.9px,#dde 0 389.3px,#86f 0 390.8px,#cbe 0 392.2px,#fdc 0 393.7px,#cbe 0 398px,#dce 0 399.5px,#cbe 0 400.9px,#dce 0 402.3px,#97f 0 403.8px,#85f 0 405.2px,#a8f 0 406.7px,#97f 0 408.1px,#f86 0 409.6px,#b8f 0 411px,#96f 0 412.5px,#cae 0 413.9px,#fcb 0 415.4px,#b9f 0 416.8px,#cbe 0 418.3px,#fa9 0 419.7px,#ede 0 421.2px,#dce 0 422.6px,#a8f 0 424.1px,#63f 0 425.5px,#eee 0 426.9px,#dce 0 428.4px,#eee 0 429.8px,#dde 0 431.3px,#ede 0 432.7px,#dbe 0 434.2px,#eee 0 435.6px,#dce 0 437.1px,#b8f 0 438.5px,#edd 0 440px,#a7f 0 441.4px,#f64 0 442.9px,#baf 0 444.3px,#cbe 0 445.8px,#fba 0 447.2px,#f00 0 448.7px,#b9f 0 450.1px,#85f 0 451.6px,#eee 0 453px)"></div>
<div class="hr" style="top:339.51px;background:linear-gradient(90deg,#f98 0 1.4px,#fa8 0 2.9px,#fa9 0 4.3px,#dde 0 5.8px,#f86 0 7.2px,#f98 0 8.7px,#ede 0 10.1px,#fdc 0 11.6px,#fcb 0 13px,#fa8 0 14.5px,#b9f 0 15.9px,#dbe 0 17.4px,#fb9 0 18.8px,#f98 0 20.3px,#cbe 0 21.7px,#f98 0 23.2px,#f97 0 24.6px,#fba 0 26.1px,#fcb 0 27.5px,#cbe 0 28.9px,#ede 0 30.4px,#fba 0 31.8px,#fdc 0 33.3px,#fcc 0 34.7px,#dce 0 36.2px,#97f 0 37.6px,#fa9 0 39.1px,#dce 0 40.5px,#eee 0 42px,#f76 0 43.4px,#f53 0 44.9px,#fcc 0 46.3px,#fdc 0 47.8px,#fa9 0 49.2px,#fcc 0 50.7px,#fba 0 52.1px,#b9f 0 53.5px,#fba 0 55px,#fa8 0 56.4px,#fdc 0 57.9px,#dce 0 59.3px,#fba 0 60.8px,#eee 0 62.2px,#ede 0 63.7px,#edd 0 65.1px,#fba 0 66.6px,#edd 0 68px,#ede 0 69.5px,#fba 0 70.9px,#f87 0 72.4px,#edd 0 75.3px,#eee 0 78.2px,#f87 0 79.6px,#fa8 0 81px,#f42 0 82.5px,#fcb 0 83.9px,#fa8 0 85.4px,#caf 0 86.8px,#baf 0 88.3px,#fcc 0 89.7px,#fcb 0 91.2px,#dde 0 92.6px,#fcb 0 95.5px,#fba 0 97px,#dce 0 98.4px,#edd 0 99.9px,#eee 0 101.3px,#dde 0 102.8px,#fcb 0 104.2px,#fb9 0 105.7px,#f87 0 107.1px,#dde 0 108.5px,#eee 0 111.4px,#f53 0 112.9px,#edd 0 114.3px,#fba 0 115.8px,#fa8 0 117.2px,#cbe 0 118.7px,#fa9 0 120.1px,#fdc 0 121.6px,#fcc 0 123px,#eee 0 124.5px,#fdc 0 125.9px,#fcb 0 127.4px,#eed 0 128.8px,#eee 0 130.3px,#fdc 0 131.7px,#dde 0 133.2px,#baf 0 134.6px,#edd 0 136px,#fa8 0 137.5px,#dce 0 138.9px,#ede 0 140.4px,#fa8 0 141.8px,#baf 0 143.3px,#fcb 0 144.7px,#f97 0 146.2px,#fcc 0 147.6px,#cbe 0 149.1px,#eee 0 150.5px,#f98 0 152px,#dde 0 153.4px,#eee 0 154.9px,#dce 0 156.3px,#fba 0 157.8px,#fdc 0 159.2px,#eee 0 162.1px,#fcb 0 163.5px,#f97 0 165px,#fcb 0 166.4px,#ede 0 167.9px,#fdd 0 169.3px,#f53 0 170.8px,#fba 0 172.2px,#f87 0 173.7px,#a8f 0 175.1px,#f64 0 176.6px,#fcc 0 178px,#fcb 0 179.5px,#fa9 0 180.9px,#fcb 0 182.4px,#cae 0 183.8px,#fcb 0 185.3px,#cae 0 186.7px,#f97 0 188.1px,#fdd 0 189.6px,#ede 0 192.5px,#edd 0 193.9px,#fba 0 195.4px,#eee 0 196.8px,#dce 0 198.3px,#fdc 0 199.7px,#fb9 0 201.2px,#fba 0 202.6px,#b9f 0 205.5px,#fcb 0 207px,#dce 0 208.4px,#b9f 0 209.9px,#cae 0 211.3px,#a8f 0 212.8px,#eed 0 214.2px,#dde 0 215.6px,#b8f 0 217.1px,#caf 0 218.5px,#eee 0 220px,#a8f 0 221.4px,#dce 0 222.9px,#eee 0 224.3px,#cbe 0 225.8px,#96f 0 227.2px,#eee 0 228.7px,#85f 0 230.1px,#fcb 0 231.6px,#dce 0 233px,#97f 0 234.5px,#dce 0 235.9px,#cbe 0 237.4px,#a8f 0 238.8px,#dbe 0 240.2px,#dce 0 241.7px,#dde 0 243.1px,#dce 0 244.6px,#96f 0 246px,#ede 0 247.5px,#fdd 0 248.9px,#fdc 0 250.4px,#64f 0 251.8px,#dde 0 253.3px,#f98 0 254.7px,#cae 0 256.2px,#cbe 0 257.6px,#dde 0 259.1px,#00f 0 260.5px,#baf 0 262px,#a8f 0 263.4px,#86f 0 264.9px,#cae 0 266.3px,#eee 0 267.7px,#dce 0 270.6px,#cae 0 272.1px,#b9f 0 273.5px,#a8f 0 275px,#b9f 0 276.4px,#cae 0 277.9px,#b9f 0 279.3px,#cbe 0 280.8px,#dbe 0 282.2px,#cbe 0 285.1px,#dce 0 286.6px,#b9f 0 288px,#cbe 0 289.5px,#edd 0 290.9px,#f87 0 292.4px,#b9f 0 293.8px,#caf 0 295.2px,#b9f 0 298.1px,#85f 0 299.6px,#b9f 0 301px,#fba 0 302.5px,#cae 0 305.4px,#96f 0 306.8px,#b9f 0 308.3px,#fdc 0 309.7px,#dde 0 311.2px,#cbe 0 312.6px,#a8f 0 314.1px,#cbe 0 315.5px,#dce 0 317px,#fa8 0 318.4px,#a8f 0 319.8px,#cae 0 321.3px,#b9f 0 322.7px,#a7f 0 324.2px,#75f 0 325.6px,#dce 0 327.1px,#b9f 0 328.5px,#cbe 0 330px,#85f 0 331.4px,#eee 0 332.9px,#b8f 0 334.3px,#86f 0 335.8px,#a8f 0 337.2px,#86f 0 338.7px,#dce 0 340.1px,#eee 0 341.6px,#dce 0 343px,#fa9 0 344.5px,#cbe 0 345.9px,#cae 0 347.3px,#edd 0 348.8px,#a8f 0 350.2px,#b9f 0 351.7px,#dde 0 353.1px,#a8f 0 354.6px,#85f 0 356px,#baf 0 357.5px,#b8f 0 358.9px,#96f 0 360.4px,#cae 0 361.8px,#eee 0 363.3px,#96f 0 364.7px,#b9f 0 366.2px,#dce 0 367.6px,#baf 0 369.1px,#edd 0 370.5px,#eee 0 372px,#dde 0 373.4px,#dce 0 374.8px,#97f 0 376.3px,#dce 0 377.7px,#96f 0 379.2px,#b9f 0 380.6px,#dce 0 382.1px,#baf 0 383.5px,#b8f 0 385px,#cbe 0 386.4px,#edd 0 387.9px,#a8f 0 389.3px,#dbe 0 390.8px,#b9f 0 392.2px,#97f 0 393.7px,#dce 0 395.1px,#baf 0 396.6px,#a8f 0 398px,#cbe 0 400.9px,#a8f 0 402.3px,#97f 0 403.8px,#cae 0 405.2px,#cbe 0 406.7px,#dce 0 408.1px,#b9f 0 411px,#96f 0 412.5px,#eee 0 415.4px,#baf 0 416.8px,#eee 0 418.3px,#fba 0 419.7px,#cae 0 421.2px,#b9f 0 422.6px,#dce 0 424.1px,#b9f 0 425.5px,#a7f 0 426.9px,#b9f 0 428.4px,#dde 0 429.8px,#a8f 0 431.3px,#cbe 0 432.7px,#dde 0 434.2px,#eee 0 435.6px,#a8f 0 437.1px,#b9f 0 438.5px,#dde 0 440px,#a7f 0 441.4px,#eed 0 442.9px,#b9f 0 444.3px,#caf 0 445.8px,#b8f 0 447.2px,#fa9 0 448.7px,#eee 0 450.1px,#cae 0 451.6px,#fdd 0 453px)"></div>
<div class="hr" style="top:347.26px;background:linear-gradient(90deg,#dde 0 1.4px,#eee 0 2.9px,#dce 0 4.3px,#cbe 0 5.8px,#fcb 0 7.2px,#fdc 0 8.7px,#f87 0 10.1px,#fdc 0 11.6px,#f98 0 13px,#fdd 0 14.5px,#eee 0 15.9px,#fb9 0 17.4px,#eee 0 18.8px,#eed 0 21.7px,#f54 0 23.2px,#fb9 0 24.6px,#fa8 0 26.1px,#f31 0 27.5px,#f98 0 28.9px,#fdd 0 30.4px,#fcb 0 31.8px,#dbe 0 33.3px,#eee 0 34.7px,#f97 0 36.2px,#fbb 0 37.6px,#fcb 0 39.1px,#cbe 0 40.5px,#cae 0 42px,#f42 0 43.4px,#fb9 0 44.9px,#cbe 0 46.3px,#f87 0 47.8px,#fba 0 49.2px,#dde 0 50.7px,#cbe 0 52.1px,#cae 0 53.5px,#eee 0 55px,#fba 0 56.4px,#fb9 0 57.9px,#eed 0 60.8px,#fa9 0 62.2px,#f76 0 63.7px,#f75 0 66.6px,#cbe 0 68px,#edd 0 69.5px,#f97 0 70.9px,#dce 0 72.4px,#cbe 0 73.8px,#dde 0 75.3px,#fbb 0 76.7px,#eee 0 79.6px,#dde 0 81px,#f86 0 82.5px,#dce 0 83.9px,#b9f 0 85.4px,#dce 0 86.8px,#cbe 0 88.3px,#fcb 0 89.7px,#fba 0 91.2px,#eee 0 92.6px,#fdc 0 94.1px,#f31 0 95.5px,#fba 0 97px,#f97 0 98.4px,#f87 0 99.9px,#fcb 0 102.8px,#f86 0 104.2px,#f21 0 105.7px,#fa8 0 107.1px,#fdc 0 108.5px,#fa8 0 111.4px,#fcb 0 112.9px,#fdc 0 114.3px,#ede 0 115.8px,#f65 0 117.2px,#ede 0 118.7px,#edd 0 120.1px,#dde 0 121.6px,#edd 0 123px,#f87 0 124.5px,#fba 0 125.9px,#f98 0 127.4px,#f64 0 128.8px,#fcb 0 130.3px,#edd 0 131.7px,#ede 0 133.2px,#fcb 0 134.6px,#fcc 0 136px,#fa9 0 137.5px,#f86 0 138.9px,#ede 0 140.4px,#f97 0 141.8px,#dde 0 143.3px,#eed 0 144.7px,#baf 0 146.2px,#f75 0 147.6px,#cbe 0 149.1px,#fcc 0 150.5px,#fdc 0 152px,#f86 0 153.4px,#caf 0 154.9px,#eee 0 156.3px,#dde 0 157.8px,#eee 0 159.2px,#f86 0 160.6px,#fdc 0 162.1px,#fba 0 163.5px,#fa9 0 165px,#fdc 0 166.4px,#dce 0 167.9px,#cbe 0 169.3px,#fdc 0 170.8px,#fbb 0 172.2px,#fcc 0 173.7px,#cbe 0 175.1px,#fcb 0 176.6px,#dce 0 178px,#fa9 0 179.5px,#f86 0 180.9px,#dde 0 182.4px,#f64 0 183.8px,#b9f 0 185.3px,#fcb 0 186.7px,#ede 0 188.1px,#fba 0 189.6px,#fa9 0 191px,#fcb 0 193.9px,#a8f 0 195.4px,#b9f 0 196.8px,#fcb 0 199.7px,#dde 0 201.2px,#dce 0 202.6px,#97f 0 204.1px,#fcc 0 205.5px,#fcb 0 207px,#f86 0 208.4px,#eee 0 209.9px,#edd 0 211.3px,#b8f 0 212.8px,#f75 0 214.2px,#cae 0 215.6px,#b9f 0 217.1px,#cae 0 218.5px,#ede 0 221.4px,#b9f 0 222.9px,#ede 0 225.8px,#fcc 0 227.2px,#baf 0 228.7px,#dce 0 230.1px,#cbe 0 231.6px,#fdd 0 233px,#a8f 0 234.5px,#dce 0 235.9px,#dde 0 237.4px,#a8f 0 238.8px,#97f 0 240.2px,#baf 0 241.7px,#edd 0 243.1px,#00f 0 244.6px,#a8f 0 246px,#dce 0 248.9px,#fa8 0 250.4px,#a8f 0 251.8px,#dde 0 253.3px,#edd 0 254.7px,#a8f 0 257.6px,#b9f 0 259.1px,#a8f 0 260.5px,#edd 0 262px,#97f 0 263.4px,#b9f 0 264.9px,#a8f 0 266.3px,#fdd 0 267.7px,#dde 0 269.2px,#b9f 0 270.6px,#edd 0 272.1px,#85f 0 273.5px,#a8f 0 275px,#cae 0 276.4px,#86f 0 277.9px,#edd 0 279.3px,#cae 0 280.8px,#cbe 0 282.2px,#a7f 0 283.7px,#eee 0 285.1px,#dce 0 286.6px,#b9f 0 288px,#dbe 0 289.5px,#dde 0 290.9px,#cae 0 292.4px,#caf 0 293.8px,#85f 0 295.2px,#a8f 0 298.1px,#97f 0 299.6px,#dce 0 301px,#a8f 0 302.5px,#cae 0 303.9px,#96f 0 305.4px,#cae 0 306.8px,#eee 0 308.3px,#dde 0 309.7px,#cbe 0 311.2px,#ede 0 312.6px,#a8f 0 315.5px,#eee 0 317px,#fdd 0 318.4px,#75f 0 319.8px,#97f 0 321.3px,#dce 0 322.7px,#dde 0 324.2px,#cae 0 325.6px,#ede 0 327.1px,#cae 0 328.5px,#dce 0 330px,#dde 0 331.4px,#85f 0 332.9px,#fba 0 334.3px,#dce 0 335.8px,#fba 0 337.2px,#b8f 0 338.7px,#dde 0 340.1px,#edd 0 341.6px,#dde 0 343px,#cae 0 344.5px,#b9f 0 345.9px,#eed 0 347.3px,#edd 0 348.8px,#eed 0 350.2px,#a7f 0 351.7px,#cbe 0 353.1px,#f86 0 354.6px,#dce 0 356px,#86f 0 357.5px,#a7f 0 358.9px,#a8f 0 360.4px,#dce 0 361.8px,#fa9 0 363.3px,#cbe 0 364.7px,#cae 0 366.2px,#a8f 0 367.6px,#85f 0 369.1px,#dce 0 372px,#b9f 0 373.4px,#f31 0 374.8px,#cae 0 377.7px,#a8f 0 379.2px,#b9f 0 380.6px,#fdc 0 382.1px,#b9f 0 383.5px,#baf 0 385px,#a7f 0 386.4px,#eee 0 387.9px,#a8f 0 389.3px,#75f 0 390.8px,#96f 0 392.2px,#97f 0 393.7px,#cbe 0 395.1px,#fdd 0 396.6px,#cbe 0 398px,#dbe 0 399.5px,#cbe 0 400.9px,#b9f 0 402.3px,#75f 0 403.8px,#96f 0 405.2px,#dbe 0 406.7px,#64f 0 408.1px,#f86 0 409.6px,#96f 0 411px,#a7f 0 412.5px,#97f 0 413.9px,#cae 0 415.4px,#a8f 0 416.8px,#cae 0 418.3px,#fdd 0 419.7px,#eee 0 421.2px,#cae 0 422.6px,#dce 0 424.1px,#a7f 0 425.5px,#96f 0 426.9px,#a8f 0 428.4px,#caf 0 429.8px,#edd 0 431.3px,#dce 0 432.7px,#b9f 0 434.2px,#dce 0 435.6px,#a8f 0 437.1px,#b9f 0 438.5px,#cae 0 440px,#74f 0 441.4px,#fcb 0 442.9px,#a8f 0 444.3px,#b9f 0 445.8px,#85f 0 447.2px,#f98 0 448.7px,#fba 0 450.1px,#edd 0 451.6px,#cbe 0 453px)"></div>
<div class="hr" style="top:355.02px;background:linear-gradient(90deg,#f65 0 1.4px,#dde 0 2.9px,#f97 0 4.3px,#f00 0 5.8px,#f86 0 7.2px,#f00 0 8.7px,#f75 0 11.6px,#f53 0 13px,#fba 0 15.9px,#f53 0 17.4px,#fcb 0 18.8px,#f42 0 20.3px,#edd 0 21.7px,#f75 0 23.2px,#fba 0 24.6px,#f53 0 26.1px,#f75 0 27.5px,#dde 0 28.9px,#fcc 0 30.4px,#fdc 0 31.8px,#f97 0 33.3px,#fa8 0 34.7px,#dce 0 36.2px,#f97 0 37.6px,#f00 0 39.1px,#fcb 0 40.5px,#f97 0 42px,#f00 0 43.4px,#f64 0 44.9px,#fcb 0 46.3px,#f97 0 49.2px,#fdc 0 52.1px,#ede 0 53.5px,#f64 0 55px,#fba 0 56.4px,#f21 0 57.9px,#fa9 0 59.3px,#edd 0 60.8px,#f98 0 62.2px,#f10 0 63.7px,#fa8 0 65.1px,#f00 0 66.6px,#f87 0 68px,#f97 0 69.5px,#fa9 0 70.9px,#f86 0 72.4px,#fa9 0 73.8px,#f98 0 75.3px,#f97 0 76.7px,#f76 0 78.2px,#f97 0 79.6px,#f42 0 81px,#f00 0 82.5px,#f97 0 83.9px,#fa8 0 85.4px,#f86 0 86.8px,#f97 0 88.3px,#fba 0 89.7px,#fdc 0 91.2px,#fa9 0 92.6px,#fb9 0 94.1px,#f53 0 95.5px,#eee 0 97px,#fba 0 98.4px,#fa8 0 99.9px,#fcb 0 101.3px,#f86 0 102.8px,#f97 0 104.2px,#f42 0 105.7px,#fb9 0 107.1px,#fcc 0 108.5px,#fa8 0 110px,#f75 0 112.9px,#f31 0 114.3px,#eee 0 115.8px,#f98 0 117.2px,#fdd 0 118.7px,#f43 0 120.1px,#dce 0 121.6px,#fa8 0 123px,#f21 0 124.5px,#fba 0 125.9px,#fdd 0 127.4px,#f10 0 128.8px,#f64 0 130.3px,#edd 0 131.7px,#fdd 0 133.2px,#fdc 0 134.6px,#edd 0 136px,#fdd 0 137.5px,#f86 0 138.9px,#fba 0 140.4px,#fcb 0 141.8px,#fba 0 143.3px,#f54 0 144.7px,#fa9 0 146.2px,#f64 0 147.6px,#cbe 0 149.1px,#eed 0 150.5px,#f97 0 152px,#fa9 0 153.4px,#fdd 0 154.9px,#f64 0 156.3px,#fba 0 157.8px,#fcb 0 159.2px,#edd 0 160.6px,#fcc 0 162.1px,#f00 0 163.5px,#f98 0 165px,#fba 0 166.4px,#f75 0 167.9px,#fcb 0 169.3px,#f75 0 170.8px,#dbe 0 172.2px,#fcb 0 173.7px,#f97 0 175.1px,#f98 0 176.6px,#fba 0 178px,#f97 0 179.5px,#f42 0 180.9px,#fcc 0 182.4px,#fcb 0 183.8px,#fdc 0 185.3px,#f87 0 186.7px,#fcc 0 188.1px,#f87 0 189.6px,#dde 0 191px,#fba 0 192.5px,#fdd 0 193.9px,#a8f 0 195.4px,#f53 0 196.8px,#fa8 0 198.3px,#eee 0 199.7px,#f86 0 201.2px,#fbb 0 202.6px,#caf 0 204.1px,#eee 0 205.5px,#fba 0 207px,#fb9 0 208.4px,#fcc 0 209.9px,#dce 0 211.3px,#eee 0 212.8px,#a8f 0 214.2px,#fcb 0 215.6px,#cae 0 217.1px,#cbe 0 218.5px,#dce 0 220px,#f98 0 221.4px,#fba 0 224.3px,#ede 0 225.8px,#dce 0 227.2px,#fba 0 228.7px,#caf 0 230.1px,#fcc 0 231.6px,#eee 0 233px,#ede 0 234.5px,#dce 0 235.9px,#dde 0 237.4px,#b8f 0 238.8px,#eee 0 241.7px,#fdd 0 243.1px,#fcb 0 244.6px,#f97 0 246px,#eed 0 247.5px,#cbe 0 248.9px,#a8f 0 250.4px,#cae 0 251.8px,#b9f 0 253.3px,#fb9 0 254.7px,#dce 0 256.2px,#fcc 0 257.6px,#fb9 0 259.1px,#f76 0 260.5px,#96f 0 262px,#edd 0 263.4px,#fdc 0 264.9px,#ede 0 266.3px,#eee 0 267.7px,#dce 0 269.2px,#cae 0 270.6px,#edd 0 272.1px,#cae 0 273.5px,#eed 0 275px,#fcb 0 276.4px,#cbe 0 277.9px,#dde 0 279.3px,#fdc 0 280.8px,#dde 0 282.2px,#fdc 0 283.7px,#cbe 0 285.1px,#a8f 0 286.6px,#fa9 0 288px,#fdd 0 289.5px,#ede 0 290.9px,#cae 0 292.4px,#dde 0 293.8px,#caf 0 295.2px,#cae 0 296.7px,#dbe 0 298.1px,#b8f 0 299.6px,#dce 0 301px,#f00 0 302.5px,#eee 0 303.9px,#fcb 0 305.4px,#dde 0 306.8px,#edd 0 308.3px,#fa9 0 309.7px,#edd 0 311.2px,#fcc 0 312.6px,#eee 0 314.1px,#dce 0 315.5px,#97f 0 317px,#fa9 0 318.4px,#baf 0 319.8px,#97f 0 321.3px,#eed 0 322.7px,#eee 0 324.2px,#ede 0 325.6px,#b9f 0 327.1px,#dde 0 328.5px,#fa8 0 330px,#eee 0 331.4px,#b9f 0 332.9px,#eee 0 335.8px,#dde 0 337.2px,#a8f 0 338.7px,#dce 0 340.1px,#cae 0 341.6px,#fcb 0 343px,#eee 0 344.5px,#f10 0 345.9px,#edd 0 347.3px,#fb9 0 348.8px,#b8f 0 350.2px,#eee 0 351.7px,#f98 0 353.1px,#eed 0 354.6px,#b9f 0 356px,#cae 0 357.5px,#eee 0 358.9px,#eed 0 360.4px,#fa8 0 361.8px,#eee 0 364.7px,#cbe 0 366.2px,#fdc 0 367.6px,#dce 0 370.5px,#eee 0 372px,#cae 0 373.4px,#dce 0 374.8px,#b9f 0 376.3px,#cbe 0 377.7px,#eee 0 380.6px,#caf 0 382.1px,#dce 0 383.5px,#fcc 0 385px,#cbe 0 386.4px,#fb9 0 387.9px,#fcc 0 389.3px,#b9f 0 392.2px,#dde 0 393.7px,#fa9 0 395.1px,#dce 0 396.6px,#cae 0 398px,#f00 0 399.5px,#dce 0 400.9px,#cbe 0 403.8px,#dce 0 405.2px,#86f 0 406.7px,#96f 0 408.1px,#a8f 0 409.6px,#cbe 0 411px,#dce 0 412.5px,#b9f 0 413.9px,#dce 0 415.4px,#dde 0 416.8px,#dce 0 418.3px,#f00 0 419.7px,#fcb 0 421.2px,#edd 0 422.6px,#baf 0 424.1px,#fa9 0 425.5px,#a8f 0 426.9px,#b9f 0 428.4px,#dde 0 429.8px,#f86 0 431.3px,#fdc 0 432.7px,#cbe 0 434.2px,#eee 0 435.6px,#dde 0 437.1px,#a8f 0 438.5px,#eee 0 440px,#baf 0 441.4px,#fa9 0 442.9px,#cbe 0 444.3px,#dde 0 445.8px,#b8f 0 447.2px,#f86 0 448.7px,#a7f 0 450.1px,#ede 0 451.6px,#fdd 0 453px)"></div>
<div class="hr" style="top:362.78px;background:linear-gradient(90deg,#f64 0 1.4px,#f98 0 2.9px,#ede 0 4.3px,#fcc 0 5.8px,#f76 0 7.2px,#f97 0 8.7px,#f75 0 10.1px,#fdd 0 11.6px,#f86 0 13px,#eee 0 14.5px,#f97 0 15.9px,#f98 0 17.4px,#f76 0 18.8px,#ede 0 20.3px,#dce 0 21.7px,#f98 0 23.2px,#f97 0 24.6px,#f42 0 26.1px,#f64 0 27.5px,#eee 0 28.9px,#fba 0 30.4px,#f64 0 31.8px,#f98 0 33.3px,#dce 0 34.7px,#fa8 0 37.6px,#f21 0 39.1px,#fdc 0 40.5px,#fa9 0 42px,#f75 0 43.4px,#f64 0 44.9px,#f97 0 47.8px,#f75 0 49.2px,#fba 0 52.1px,#fa8 0 53.5px,#edd 0 55px,#fba 0 56.4px,#f97 0 57.9px,#f75 0 59.3px,#fcc 0 60.8px,#f86 0 62.2px,#f00 0 63.7px,#cbe 0 65.1px,#f86 0 66.6px,#fba 0 69.5px,#f98 0 70.9px,#fa9 0 72.4px,#fcb 0 73.8px,#fa9 0 75.3px,#f75 0 76.7px,#f42 0 78.2px,#fba 0 79.6px,#f75 0 81px,#f10 0 82.5px,#ede 0 83.9px,#eee 0 85.4px,#fdc 0 86.8px,#fcb 0 88.3px,#f87 0 89.7px,#eee 0 91.2px,#f64 0 92.6px,#f00 0 94.1px,#fb9 0 95.5px,#fba 0 97px,#f98 0 98.4px,#fba 0 99.9px,#dbe 0 101.3px,#fba 0 102.8px,#fdd 0 104.2px,#f97 0 105.7px,#fba 0 107.1px,#edd 0 108.5px,#fdd 0 110px,#fa9 0 111.4px,#f75 0 112.9px,#f97 0 114.3px,#fa9 0 115.8px,#fdd 0 117.2px,#f76 0 118.7px,#f86 0 121.6px,#f87 0 123px,#fa9 0 124.5px,#f86 0 125.9px,#fcb 0 127.4px,#f98 0 128.8px,#fb9 0 130.3px,#fdd 0 131.7px,#dce 0 133.2px,#fba 0 134.6px,#dbe 0 136px,#fcb 0 138.9px,#dde 0 140.4px,#fa9 0 143.3px,#f21 0 144.7px,#f53 0 146.2px,#fdc 0 147.6px,#a7f 0 149.1px,#fdc 0 150.5px,#f75 0 152px,#fcc 0 153.4px,#f86 0 154.9px,#fdc 0 159.2px,#fa9 0 160.6px,#f98 0 162.1px,#fcc 0 163.5px,#fba 0 165px,#f86 0 166.4px,#fcb 0 169.3px,#f75 0 170.8px,#fcc 0 172.2px,#f97 0 173.7px,#dce 0 175.1px,#ede 0 176.6px,#dde 0 178px,#fdc 0 179.5px,#f76 0 180.9px,#fdd 0 182.4px,#fcc 0 183.8px,#ede 0 185.3px,#fba 0 186.7px,#eee 0 188.1px,#fa8 0 192.5px,#fdd 0 193.9px,#f98 0 195.4px,#fcb 0 196.8px,#f42 0 198.3px,#fa8 0 199.7px,#f87 0 201.2px,#fcb 0 202.6px,#97f 0 204.1px,#fcc 0 207px,#baf 0 208.4px,#b8f 0 209.9px,#dde 0 211.3px,#75f 0 212.8px,#dce 0 214.2px,#b9f 0 215.6px,#eee 0 217.1px,#dce 0 218.5px,#cbe 0 220px,#96f 0 221.4px,#dbe 0 222.9px,#edd 0 224.3px,#dce 0 225.8px,#97f 0 227.2px,#dde 0 228.7px,#96f 0 230.1px,#fa8 0 231.6px,#dce 0 233px,#96f 0 234.5px,#cae 0 237.4px,#baf 0 238.8px,#cae 0 240.2px,#dce 0 241.7px,#cbe 0 243.1px,#ede 0 244.6px,#cbe 0 247.5px,#fba 0 248.9px,#dce 0 250.4px,#ede 0 251.8px,#cae 0 253.3px,#eed 0 254.7px,#dbe 0 256.2px,#eee 0 259.1px,#dce 0 260.5px,#64f 0 262px,#eee 0 263.4px,#cbe 0 264.9px,#b9f 0 266.3px,#dce 0 267.7px,#fba 0 269.2px,#b9f 0 272.1px,#fa8 0 273.5px,#cbe 0 275px,#ede 0 276.4px,#dce 0 277.9px,#f10 0 279.3px,#cae 0 280.8px,#a8f 0 282.2px,#edd 0 283.7px,#dce 0 285.1px,#dbe 0 286.6px,#baf 0 288px,#caf 0 289.5px,#fdd 0 290.9px,#00f 0 292.4px,#dde 0 293.8px,#31f 0 295.2px,#fba 0 296.7px,#cbe 0 298.1px,#dde 0 299.6px,#fba 0 301px,#dde 0 302.5px,#dce 0 303.9px,#fcc 0 305.4px,#dce 0 306.8px,#cae 0 308.3px,#eee 0 309.7px,#dce 0 314.1px,#b9f 0 315.5px,#caf 0 317px,#fbb 0 318.4px,#dce 0 319.8px,#dde 0 321.3px,#b9f 0 322.7px,#eee 0 324.2px,#b8f 0 325.6px,#fdc 0 327.1px,#cbe 0 328.5px,#cae 0 331.4px,#dde 0 332.9px,#cbe 0 334.3px,#dde 0 337.2px,#eee 0 338.7px,#dde 0 340.1px,#fdd 0 341.6px,#eee 0 343px,#f00 0 344.5px,#cbe 0 345.9px,#dce 0 347.3px,#cbe 0 348.8px,#ede 0 350.2px,#cae 0 351.7px,#fcb 0 353.1px,#fba 0 354.6px,#96f 0 356px,#dce 0 357.5px,#baf 0 358.9px,#a8f 0 360.4px,#cbe 0 361.8px,#fdc 0 363.3px,#dce 0 364.7px,#b9f 0 366.2px,#dce 0 367.6px,#cae 0 369.1px,#fdd 0 370.5px,#eee 0 372px,#cae 0 373.4px,#ede 0 374.8px,#b9f 0 376.3px,#f75 0 377.7px,#96f 0 379.2px,#cbe 0 380.6px,#eee 0 382.1px,#cbe 0 383.5px,#cae 0 386.4px,#b9f 0 389.3px,#85f 0 390.8px,#cae 0 392.2px,#b8f 0 393.7px,#cae 0 395.1px,#85f 0 396.6px,#a8f 0 398px,#ede 0 399.5px,#dce 0 400.9px,#eee 0 402.3px,#31f 0 403.8px,#42f 0 405.2px,#eee 0 406.7px,#b9f 0 408.1px,#96f 0 409.6px,#dce 0 411px,#cae 0 412.5px,#cbe 0 413.9px,#fdc 0 415.4px,#dce 0 416.8px,#f00 0 418.3px,#fba 0 419.7px,#fdd 0 421.2px,#dce 0 422.6px,#f64 0 424.1px,#b9f 0 426.9px,#cbe 0 428.4px,#dde 0 429.8px,#dce 0 431.3px,#f21 0 432.7px,#fdc 0 434.2px,#fba 0 435.6px,#dde 0 437.1px,#b9f 0 438.5px,#fcb 0 440px,#63f 0 441.4px,#f87 0 442.9px,#f43 0 444.3px,#cae 0 445.8px,#b9f 0 447.2px,#fba 0 448.7px,#cbe 0 450.1px,#a7f 0 451.6px,#cbe 0 453px)"></div>
<div class="hr" style="top:370.53px;background:linear-gradient(90deg,#fba 0 1.4px,#ede 0 2.9px,#fa9 0 4.3px,#f98 0 5.8px,#fba 0 8.7px,#fb9 0 10.1px,#fba 0 11.6px,#fdc 0 13px,#f97 0 14.5px,#fba 0 15.9px,#fa8 0 17.4px,#fcb 0 18.8px,#f86 0 20.3px,#cbe 0 21.7px,#f86 0 23.2px,#dde 0 24.6px,#f53 0 26.1px,#fa9 0 27.5px,#f97 0 28.9px,#fba 0 30.4px,#fa9 0 31.8px,#fba 0 33.3px,#fdd 0 34.7px,#dce 0 36.2px,#eee 0 37.6px,#f64 0 39.1px,#fba 0 40.5px,#fdc 0 42px,#fcc 0 43.4px,#f86 0 44.9px,#eee 0 46.3px,#fa9 0 47.8px,#dce 0 49.2px,#eee 0 50.7px,#fb9 0 52.1px,#fcb 0 53.5px,#f53 0 55px,#fcc 0 56.4px,#f75 0 57.9px,#f97 0 59.3px,#f53 0 62.2px,#fdc 0 63.7px,#edd 0 65.1px,#fba 0 66.6px,#f42 0 68px,#f98 0 69.5px,#fdc 0 70.9px,#cae 0 72.4px,#fa9 0 73.8px,#f86 0 75.3px,#fba 0 76.7px,#fa9 0 78.2px,#dbe 0 79.6px,#f98 0 81px,#f64 0 82.5px,#fba 0 83.9px,#dde 0 85.4px,#fa9 0 86.8px,#fdd 0 88.3px,#b9f 0 89.7px,#a8f 0 91.2px,#f86 0 92.6px,#fcc 0 94.1px,#f65 0 95.5px,#eee 0 97px,#fa9 0 98.4px,#f32 0 99.9px,#f31 0 101.3px,#fcb 0 102.8px,#f53 0 104.2px,#f86 0 105.7px,#b8f 0 107.1px,#a8f 0 108.5px,#fa8 0 110px,#f75 0 111.4px,#fba 0 112.9px,#fa8 0 114.3px,#eed 0 115.8px,#fcc 0 117.2px,#f97 0 118.7px,#fcb 0 120.1px,#ede 0 121.6px,#f75 0 123px,#fa9 0 124.5px,#f97 0 125.9px,#fb9 0 127.4px,#f86 0 128.8px,#fba 0 130.3px,#baf 0 131.7px,#f97 0 133.2px,#fba 0 134.6px,#fcc 0 136px,#eee 0 137.5px,#f86 0 138.9px,#fcc 0 140.4px,#fba 0 141.8px,#f97 0 143.3px,#f76 0 144.7px,#fcb 0 147.6px,#f87 0 149.1px,#dce 0 150.5px,#dde 0 152px,#cbe 0 153.4px,#fdc 0 154.9px,#dce 0 156.3px,#f87 0 157.8px,#f97 0 159.2px,#dbe 0 160.6px,#baf 0 162.1px,#fcb 0 163.5px,#fba 0 165px,#eee 0 166.4px,#fdc 0 167.9px,#baf 0 169.3px,#f86 0 170.8px,#fa9 0 172.2px,#fb9 0 173.7px,#fdc 0 175.1px,#f97 0 176.6px,#f98 0 178px,#f97 0 179.5px,#f75 0 180.9px,#f98 0 182.4px,#eee 0 183.8px,#fcb 0 185.3px,#eee 0 186.7px,#fba 0 188.1px,#fcc 0 189.6px,#fba 0 191px,#f97 0 192.5px,#fa9 0 193.9px,#dde 0 195.4px,#f75 0 196.8px,#fcb 0 198.3px,#fa9 0 199.7px,#fa8 0 201.2px,#fcc 0 202.6px,#86f 0 204.1px,#ede 0 205.5px,#fb9 0 207px,#fdc 0 208.4px,#cae 0 209.9px,#dce 0 211.3px,#cbe 0 212.8px,#dde 0 214.2px,#f75 0 215.6px,#b9f 0 217.1px,#cae 0 218.5px,#cbe 0 220px,#96f 0 221.4px,#fba 0 222.9px,#edd 0 224.3px,#96f 0 225.8px,#a7f 0 227.2px,#ede 0 228.7px,#86f 0 230.1px,#eed 0 231.6px,#cae 0 233px,#a8f 0 234.5px,#b9f 0 235.9px,#fcb 0 237.4px,#dce 0 238.8px,#ede 0 240.2px,#cae 0 241.7px,#dce 0 243.1px,#96f 0 244.6px,#dde 0 246px,#fcb 0 247.5px,#eee 0 248.9px,#97f 0 250.4px,#b9f 0 251.8px,#eed 0 253.3px,#fa9 0 254.7px,#b9f 0 256.2px,#dce 0 259.1px,#32f 0 260.5px,#86f 0 262px,#fcc 0 263.4px,#baf 0 264.9px,#cbe 0 266.3px,#dde 0 267.7px,#cae 0 269.2px,#b9f 0 270.6px,#caf 0 272.1px,#b9f 0 273.5px,#dbe 0 275px,#eee 0 276.4px,#cae 0 277.9px,#dde 0 279.3px,#a8f 0 280.8px,#85f 0 282.2px,#cbe 0 283.7px,#dbe 0 285.1px,#a7f 0 286.6px,#cbe 0 289.5px,#ede 0 290.9px,#fcb 0 292.4px,#fa8 0 293.8px,#96f 0 295.2px,#eee 0 296.7px,#85f 0 298.1px,#b9f 0 299.6px,#fcb 0 301px,#fa9 0 302.5px,#b8f 0 303.9px,#dbe 0 305.4px,#b9f 0 308.3px,#edd 0 309.7px,#ede 0 311.2px,#edd 0 312.6px,#cbe 0 314.1px,#64f 0 315.5px,#cbe 0 317px,#fba 0 318.4px,#eee 0 319.8px,#b9f 0 321.3px,#dde 0 322.7px,#fdc 0 324.2px,#64f 0 325.6px,#cbe 0 327.1px,#b9f 0 331.4px,#caf 0 332.9px,#fcb 0 334.3px,#b9f 0 335.8px,#dce 0 337.2px,#cbe 0 338.7px,#fcb 0 340.1px,#cbe 0 341.6px,#f21 0 343px,#b9f 0 344.5px,#f00 0 345.9px,#ede 0 347.3px,#eee 0 350.2px,#dce 0 351.7px,#fcb 0 353.1px,#dce 0 354.6px,#74f 0 356px,#b9f 0 357.5px,#eee 0 358.9px,#74f 0 360.4px,#a8f 0 361.8px,#fa9 0 363.3px,#eee 0 364.7px,#cae 0 366.2px,#edd 0 367.6px,#cae 0 369.1px,#fdc 0 370.5px,#b9f 0 372px,#fcc 0 373.4px,#dde 0 374.8px,#b9f 0 376.3px,#cbe 0 377.7px,#b9f 0 379.2px,#eed 0 380.6px,#cbe 0 382.1px,#b8f 0 383.5px,#96f 0 385px,#caf 0 386.4px,#fa9 0 387.9px,#dde 0 389.3px,#b9f 0 390.8px,#53f 0 392.2px,#a8f 0 393.7px,#dde 0 395.1px,#baf 0 398px,#cbe 0 399.5px,#dce 0 400.9px,#b9f 0 402.3px,#cbe 0 403.8px,#dde 0 405.2px,#b9f 0 406.7px,#baf 0 408.1px,#fba 0 409.6px,#b8f 0 411px,#baf 0 412.5px,#b9f 0 413.9px,#dce 0 415.4px,#b9f 0 416.8px,#cbe 0 418.3px,#f98 0 419.7px,#fcb 0 421.2px,#96f 0 422.6px,#75f 0 424.1px,#97f 0 425.5px,#dce 0 426.9px,#97f 0 428.4px,#a8f 0 429.8px,#a7f 0 431.3px,#cbe 0 432.7px,#cae 0 434.2px,#edd 0 435.6px,#fcb 0 437.1px,#cbe 0 438.5px,#eee 0 440px,#b9f 0 441.4px,#fcb 0 442.9px,#dce 0 444.3px,#a7f 0 445.8px,#cae 0 447.2px,#f75 0 448.7px,#97f 0 450.1px,#a8f 0 451.6px,#edd 0 453px)"></div>
<div class="hr" style="top:378.29px;background:linear-gradient(90deg,#fa9 0 2.9px,#f42 0 4.3px,#f21 0 5.8px,#f86 0 7.2px,#fcb 0 10.1px,#fba 0 11.6px,#f86 0 13px,#f75 0 14.5px,#f86 0 15.9px,#dce 0 17.4px,#fa8 0 18.8px,#f53 0 20.3px,#fa8 0 21.7px,#f75 0 23.2px,#fa9 0 26.1px,#fcb 0 27.5px,#f98 0 28.9px,#f53 0 30.4px,#fa9 0 31.8px,#f64 0 33.3px,#fcb 0 36.2px,#f75 0 37.6px,#f98 0 39.1px,#edd 0 40.5px,#ede 0 42px,#f98 0 43.4px,#fa8 0 44.9px,#edd 0 46.3px,#fdc 0 47.8px,#fba 0 49.2px,#f86 0 50.7px,#f87 0 52.1px,#f00 0 53.5px,#fa9 0 55px,#f42 0 56.4px,#fcb 0 57.9px,#f86 0 59.3px,#fa9 0 60.8px,#f87 0 62.2px,#f86 0 63.7px,#fba 0 65.1px,#fa8 0 66.6px,#fdd 0 68px,#fcb 0 69.5px,#f75 0 70.9px,#dce 0 72.4px,#f64 0 73.8px,#f53 0 75.3px,#fbb 0 76.7px,#f75 0 78.2px,#f97 0 79.6px,#fcb 0 81px,#f98 0 82.5px,#fa8 0 83.9px,#eee 0 85.4px,#fa8 0 86.8px,#fcb 0 88.3px,#f64 0 89.7px,#ede 0 91.2px,#f53 0 92.6px,#fa9 0 94.1px,#f75 0 95.5px,#f42 0 97px,#eee 0 98.4px,#fba 0 99.9px,#edd 0 101.3px,#cbe 0 102.8px,#fcb 0 104.2px,#f00 0 105.7px,#fb9 0 107.1px,#fcb 0 108.5px,#f86 0 111.4px,#dce 0 112.9px,#f75 0 114.3px,#f53 0 115.8px,#f42 0 117.2px,#dbe 0 118.7px,#fa8 0 120.1px,#f86 0 121.6px,#f53 0 123px,#fa8 0 124.5px,#f86 0 125.9px,#f75 0 127.4px,#fa8 0 128.8px,#f97 0 130.3px,#fba 0 131.7px,#fcc 0 133.2px,#edd 0 136px,#f75 0 137.5px,#f98 0 138.9px,#f64 0 140.4px,#fa9 0 141.8px,#f64 0 143.3px,#fa9 0 144.7px,#f98 0 146.2px,#fdd 0 147.6px,#fcb 0 149.1px,#fba 0 150.5px,#eee 0 152px,#dce 0 153.4px,#dde 0 154.9px,#fb9 0 156.3px,#fcb 0 157.8px,#fcc 0 159.2px,#dce 0 160.6px,#f00 0 162.1px,#fba 0 163.5px,#eee 0 166.4px,#f75 0 167.9px,#fbb 0 169.3px,#f87 0 170.8px,#fcb 0 172.2px,#fba 0 175.1px,#f00 0 176.6px,#edd 0 178px,#fb9 0 179.5px,#f64 0 180.9px,#fa8 0 182.4px,#f53 0 183.8px,#fba 0 185.3px,#fcc 0 186.7px,#f98 0 188.1px,#dce 0 189.6px,#fa9 0 191px,#f97 0 192.5px,#f42 0 193.9px,#ede 0 195.4px,#fcc 0 196.8px,#ede 0 198.3px,#fa8 0 199.7px,#edd 0 201.2px,#fa9 0 202.6px,#dbe 0 204.1px,#caf 0 205.5px,#f97 0 207px,#edd 0 208.4px,#fcb 0 209.9px,#fdc 0 211.3px,#cbe 0 212.8px,#b9f 0 214.2px,#dce 0 215.6px,#fa9 0 217.1px,#cbe 0 218.5px,#97f 0 220px,#b9f 0 221.4px,#fcc 0 222.9px,#fba 0 225.8px,#fcb 0 227.2px,#dce 0 228.7px,#eee 0 230.1px,#f00 0 231.6px,#baf 0 233px,#dce 0 234.5px,#cae 0 235.9px,#cbe 0 237.4px,#cae 0 238.8px,#dce 0 240.2px,#eee 0 243.1px,#cbe 0 244.6px,#edd 0 246px,#dce 0 247.5px,#eee 0 248.9px,#dde 0 251.8px,#fdd 0 253.3px,#f97 0 254.7px,#85f 0 256.2px,#fcb 0 257.6px,#fba 0 259.1px,#dce 0 260.5px,#97f 0 262px,#edd 0 263.4px,#fba 0 264.9px,#fdc 0 266.3px,#fcb 0 267.7px,#eee 0 269.2px,#cae 0 270.6px,#fdc 0 272.1px,#97f 0 273.5px,#cbe 0 275px,#cae 0 276.4px,#f98 0 277.9px,#eee 0 279.3px,#fdd 0 280.8px,#dce 0 282.2px,#f32 0 283.7px,#fdc 0 285.1px,#ede 0 286.6px,#fa9 0 288px,#dde 0 289.5px,#ede 0 290.9px,#b9f 0 292.4px,#eee 0 293.8px,#dde 0 295.2px,#fb9 0 296.7px,#b9f 0 298.1px,#ede 0 299.6px,#f21 0 301px,#fa9 0 302.5px,#cbe 0 303.9px,#edd 0 305.4px,#eee 0 306.8px,#a8f 0 308.3px,#f21 0 309.7px,#dce 0 311.2px,#eee 0 312.6px,#fcb 0 314.1px,#dce 0 315.5px,#fdc 0 317px,#f00 0 318.4px,#eee 0 319.8px,#fa8 0 321.3px,#fdd 0 322.7px,#cbe 0 324.2px,#eed 0 325.6px,#dce 0 328.5px,#eed 0 330px,#eee 0 331.4px,#fdd 0 332.9px,#dce 0 334.3px,#eee 0 335.8px,#dce 0 337.2px,#97f 0 338.7px,#fcb 0 340.1px,#fdc 0 341.6px,#fcc 0 343px,#dde 0 344.5px,#b9f 0 345.9px,#fdc 0 347.3px,#fbb 0 348.8px,#edd 0 350.2px,#fba 0 353.1px,#ede 0 354.6px,#b9f 0 356px,#cae 0 357.5px,#cbe 0 360.4px,#ede 0 361.8px,#f00 0 363.3px,#dce 0 364.7px,#cae 0 366.2px,#dde 0 367.6px,#b9f 0 369.1px,#dce 0 370.5px,#dde 0 372px,#edd 0 373.4px,#fba 0 374.8px,#edd 0 376.3px,#cbe 0 380.6px,#ede 0 382.1px,#f97 0 383.5px,#edd 0 385px,#cbe 0 386.4px,#eee 0 387.9px,#cae 0 389.3px,#eee 0 390.8px,#fdc 0 392.2px,#cae 0 393.7px,#fba 0 395.1px,#dce 0 396.6px,#eee 0 398px,#a8f 0 399.5px,#dde 0 400.9px,#fdc 0 402.3px,#cbe 0 403.8px,#eed 0 405.2px,#dce 0 406.7px,#ede 0 408.1px,#fba 0 409.6px,#b9f 0 411px,#dce 0 412.5px,#b9f 0 413.9px,#cbe 0 415.4px,#b9f 0 416.8px,#edd 0 418.3px,#f00 0 419.7px,#fcb 0 421.2px,#ede 0 422.6px,#cbe 0 424.1px,#b9f 0 425.5px,#dbe 0 428.4px,#97f 0 429.8px,#fcb 0 431.3px,#ede 0 432.7px,#b9f 0 434.2px,#fdc 0 435.6px,#edd 0 437.1px,#fba 0 438.5px,#dde 0 440px,#a7f 0 441.4px,#f97 0 442.9px,#dce 0 444.3px,#fcb 0 445.8px,#dce 0 447.2px,#fcb 0 448.7px,#baf 0 450.1px,#b9f 0 451.6px,#fa8 0 453px)"></div>
<div class="hr" style="top:386.04px;background:linear-gradient(90deg,#eed 0 1.4px,#fdc 0 2.9px,#dbe 0 4.3px,#f98 0 5.8px,#fcb 0 7.2px,#f86 0 8.7px,#fcb 0 10.1px,#f75 0 11.6px,#ede 0 13px,#f86 0 14.5px,#fa9 0 15.9px,#fcb 0 17.4px,#fba 0 18.8px,#fcb 0 20.3px,#baf 0 21.7px,#f98 0 23.2px,#f97 0 24.6px,#cae 0 26.1px,#f64 0 27.5px,#dce 0 28.9px,#fa8 0 30.4px,#dce 0 31.8px,#fba 0 33.3px,#dce 0 34.7px,#fcc 0 36.2px,#fdc 0 37.6px,#f76 0 39.1px,#edd 0 42px,#fcc 0 43.4px,#f43 0 44.9px,#ede 0 46.3px,#fdd 0 47.8px,#f98 0 49.2px,#eee 0 50.7px,#dce 0 52.1px,#eed 0 53.5px,#edd 0 55px,#fba 0 56.4px,#fdc 0 57.9px,#fa9 0 60.8px,#dde 0 62.2px,#edd 0 63.7px,#fdd 0 65.1px,#fa8 0 66.6px,#fba 0 69.5px,#fcb 0 70.9px,#dce 0 72.4px,#fcb 0 75.3px,#eee 0 76.7px,#fa8 0 78.2px,#eee 0 79.6px,#fcc 0 81px,#f86 0 82.5px,#a7f 0 83.9px,#f75 0 85.4px,#f87 0 86.8px,#f86 0 88.3px,#edd 0 89.7px,#fdd 0 91.2px,#f97 0 92.6px,#fa9 0 94.1px,#f97 0 95.5px,#eee 0 97px,#dce 0 98.4px,#f64 0 99.9px,#fb9 0 101.3px,#fcc 0 102.8px,#eed 0 104.2px,#f10 0 105.7px,#fcb 0 107.1px,#a8f 0 108.5px,#fba 0 110px,#b9f 0 111.4px,#f86 0 112.9px,#fcc 0 114.3px,#fdc 0 115.8px,#fba 0 117.2px,#ede 0 118.7px,#cbe 0 120.1px,#fdc 0 121.6px,#f97 0 123px,#fcb 0 124.5px,#f97 0 127.4px,#fdd 0 128.8px,#fba 0 130.3px,#b8f 0 131.7px,#96f 0 133.2px,#fcc 0 134.6px,#eee 0 136px,#fa9 0 137.5px,#fcb 0 138.9px,#fa9 0 140.4px,#fcc 0 141.8px,#fa8 0 143.3px,#f97 0 144.7px,#dce 0 146.2px,#fb9 0 147.6px,#85f 0 149.1px,#edd 0 150.5px,#f32 0 152px,#f75 0 153.4px,#fa9 0 154.9px,#cbe 0 156.3px,#fa9 0 157.8px,#dce 0 159.2px,#f97 0 160.6px,#eee 0 163.5px,#fba 0 165px,#f86 0 166.4px,#cbe 0 167.9px,#eee 0 169.3px,#fa9 0 170.8px,#ede 0 173.7px,#dce 0 175.1px,#eed 0 176.6px,#fba 0 178px,#fcb 0 179.5px,#f53 0 180.9px,#dde 0 182.4px,#eed 0 183.8px,#eee 0 185.3px,#fa9 0 186.7px,#fdd 0 188.1px,#ede 0 189.6px,#cae 0 191px,#fdc 0 192.5px,#fcb 0 193.9px,#fcc 0 195.4px,#b9f 0 196.8px,#fdc 0 198.3px,#dce 0 199.7px,#fcc 0 201.2px,#dde 0 205.5px,#edd 0 207px,#cbe 0 208.4px,#ede 0 209.9px,#cbe 0 211.3px,#ede 0 212.8px,#edd 0 214.2px,#cbe 0 215.6px,#a8f 0 217.1px,#cbe 0 218.5px,#b9f 0 220px,#97f 0 221.4px,#cbe 0 222.9px,#fb9 0 224.3px,#b9f 0 227.2px,#fcc 0 228.7px,#cae 0 230.1px,#fcb 0 231.6px,#dde 0 233px,#74f 0 234.5px,#b9f 0 235.9px,#97f 0 237.4px,#dde 0 238.8px,#96f 0 240.2px,#fa9 0 241.7px,#b8f 0 243.1px,#75f 0 244.6px,#dde 0 246px,#96f 0 247.5px,#dce 0 248.9px,#cae 0 250.4px,#fdc 0 251.8px,#dbe 0 253.3px,#edd 0 254.7px,#b9f 0 256.2px,#cae 0 257.6px,#dce 0 259.1px,#96f 0 260.5px,#74f 0 262px,#cbe 0 263.4px,#86f 0 264.9px,#b9f 0 266.3px,#cbe 0 267.7px,#b9f 0 270.6px,#fcb 0 272.1px,#21f 0 273.5px,#cbe 0 275px,#baf 0 276.4px,#a7f 0 277.9px,#dde 0 280.8px,#53f 0 282.2px,#eed 0 283.7px,#b9f 0 285.1px,#ede 0 286.6px,#cbe 0 288px,#fba 0 289.5px,#b9f 0 290.9px,#a8f 0 292.4px,#eed 0 293.8px,#85f 0 295.2px,#cbe 0 296.7px,#00f 0 298.1px,#42f 0 299.6px,#a8f 0 301px,#dde 0 302.5px,#96f 0 303.9px,#cbe 0 305.4px,#a8f 0 306.8px,#21f 0 308.3px,#dde 0 309.7px,#eee 0 311.2px,#dce 0 312.6px,#edd 0 314.1px,#a7f 0 315.5px,#b9f 0 317px,#fcb 0 318.4px,#b9f 0 319.8px,#cbe 0 321.3px,#edd 0 322.7px,#eee 0 324.2px,#b8f 0 325.6px,#63f 0 327.1px,#75f 0 328.5px,#fa8 0 330px,#96f 0 331.4px,#eee 0 332.9px,#a8f 0 334.3px,#b9f 0 335.8px,#dce 0 337.2px,#85f 0 338.7px,#a8f 0 340.1px,#fcb 0 341.6px,#eee 0 344.5px,#dce 0 345.9px,#ede 0 347.3px,#a7f 0 348.8px,#f98 0 350.2px,#a8f 0 351.7px,#edd 0 353.1px,#cbe 0 354.6px,#b8f 0 356px,#b9f 0 357.5px,#dce 0 358.9px,#f75 0 360.4px,#fdd 0 361.8px,#dce 0 363.3px,#a8f 0 364.7px,#b9f 0 366.2px,#ede 0 367.6px,#85f 0 370.5px,#dce 0 372px,#baf 0 373.4px,#ede 0 374.8px,#cbe 0 376.3px,#b9f 0 377.7px,#96f 0 379.2px,#cae 0 380.6px,#b9f 0 382.1px,#dce 0 383.5px,#96f 0 385px,#b9f 0 386.4px,#dce 0 387.9px,#a8f 0 389.3px,#b9f 0 390.8px,#a8f 0 392.2px,#caf 0 393.7px,#cbe 0 395.1px,#a7f 0 396.6px,#b9f 0 398px,#96f 0 400.9px,#b9f 0 402.3px,#b8f 0 403.8px,#86f 0 405.2px,#85f 0 406.7px,#53f 0 408.1px,#97f 0 409.6px,#96f 0 411px,#f98 0 412.5px,#74f 0 413.9px,#dce 0 415.4px,#cae 0 416.8px,#cbe 0 418.3px,#fcc 0 421.2px,#dce 0 422.6px,#cbe 0 424.1px,#86f 0 425.5px,#baf 0 426.9px,#cae 0 428.4px,#a8f 0 429.8px,#ede 0 431.3px,#dce 0 432.7px,#a8f 0 434.2px,#dbe 0 437.1px,#b9f 0 438.5px,#cbe 0 440px,#00f 0 441.4px,#edd 0 442.9px,#b9f 0 444.3px,#75f 0 445.8px,#b9f 0 447.2px,#fa9 0 448.7px,#cbe 0 450.1px,#b9f 0 451.6px,#dce 0 453px)"></div>
<div class="ab" style="top:400.2px;height:6.9px;background:linear-gradient(90deg,#ecc 0 1.4px,#e99 0 2.9px,#dee 0 4.3px,#acd 0 5.8px,#ecc 0 7.2px,#bcd 0 8.7px,#fee 0 10.1px,#bcd 0 11.6px,#abd 0 13px,#eaa 0 14.5px,#eee 0 15.9px,#dde 0 17.4px,#d88 0 18.8px,#58b 0 20.3px,#d88 0 21.7px,#eef 0 23.2px,#9ac 0 24.6px,#8ac 0 26.1px,#bcd 0 27.5px,#fee 0 28.9px,#8ac 0 30.4px,#eaa 0 31.8px,#eef 0 33.3px,#fff 0 34.7px,#cde 0 36.2px,#dde 0 37.6px,#ecb 0 40.5px,#abd 0 42px,#acd 0 43.4px,#cde 0 44.9px,#c55 0 46.3px,#cde 0 47.8px,#c66 0 49.2px,#eef 0 50.7px,#c55 0 52.1px,#e99 0 53.5px,#fdd 0 55px,#eef 0 56.4px,#e99 0 57.9px,#c66 0 59.3px,#cde 0 60.8px,#fdd 0 62.2px,#9ac 0 63.7px,#9bd 0 65.1px,#cde 0 66.6px,#c55 0 68px,#fdd 0 69.5px,#dde 0 70.9px,#c55 0 72.4px,#acd 0 73.8px,#cde 0 75.3px,#dde 0 76.7px,#dee 0 78.2px,#fff 0 79.6px,#dde 0 81px,#ebb 0 82.5px,#eef 0 85.4px,#bcd 0 86.8px,#cce 0 88.3px,#ecc 0 89.7px,#eee 0 91.2px,#eff 0 92.6px,#cde 0 94.1px,#79c 0 95.5px,#cde 0 97px,#48b 0 98.4px,#fff 0 99.9px,#d98 0 101.3px,#abd 0 102.8px,#8ac 0 104.2px,#abd 0 105.7px,#fff 0 107.1px,#eee 0 110px,#69b 0 111.4px,#fff 0 112.9px,#dde 0 114.3px,#eff 0 115.8px,#ecc 0 117.2px,#eba 0 118.7px,#eff 0 120.1px,#9bd 0 121.6px,#ecb 0 123px,#fdd 0 124.5px,#fff 0 125.9px,#d88 0 127.4px,#9bc 0 128.8px,#eef 0 130.3px,#eaa 0 131.7px,#cde 0 133.2px,#fff 0 134.6px,#eee 0 136px,#fdd 0 137.5px,#bcd 0 138.9px,#c55 0 140.4px,#8ac 0 141.8px,#fff 0 143.3px,#bcd 0 144.7px,#d99 0 146.2px,#8ac 0 147.6px,#9bd 0 149.1px,#fdd 0 150.5px,#9ac 0 152px,#bcd 0 153.4px,#cde 0 154.9px,#fee 0 156.3px,#ecc 0 157.8px,#69b 0 159.2px,#fff 0 160.6px,#c55 0 162.1px,#c66 0 163.5px,#fcc 0 165px,#8ac 0 166.4px,#e99 0 167.9px,#bcd 0 169.3px,#fff 0 170.8px,#fdd 0 172.2px,#eee 0 173.7px,#eaa 0 175.1px,#fff 0 176.6px,#dee 0 178px,#cce 0 179.5px,#dde 0 180.9px,#bcd 0 182.4px,#9bd 0 183.8px,#d98 0 185.3px,#c55 0 186.7px,#fff 0 188.1px,#9bc 0 189.6px,#cde 0 191px,#eef 0 192.5px,#abd 0 193.9px,#eee 0 195.4px,#fee 0 196.8px,#fdd 0 198.3px,#fff 0 199.7px,#bcd 0 201.2px,#ecc 0 202.6px,#fff 0 204.1px,#c55 0 207px,#bcd 0 208.4px,#ecc 0 209.9px,#eaa 0 211.3px,#eff 0 212.8px,#eef 0 214.2px,#ecb 0 215.6px,#fdd 0 217.1px,#cde 0 218.5px,#fdd 0 221.4px,#d99 0 222.9px,#fff 0 224.3px,#bcd 0 225.8px,#fee 0 227.2px,#eaa 0 228.7px,#cde 0 230.1px,#fcc 0 231.6px,#eaa 0 233px,#eef 0 234.5px,#bcd 0 235.9px,#e99 0 237.4px,#c55 0 240.2px,#eff 0 241.7px,#eee 0 243.1px,#cde 0 244.6px,#ebb 0 246px,#fff 0 248.9px,#d76 0 250.4px,#fee 0 251.8px,#c55 0 253.3px,#fee 0 254.7px,#fed 0 256.2px,#eef 0 257.6px,#c55 0 259.1px,#ebb 0 260.5px,#c55 0 262px,#eef 0 263.4px,#ecc 0 264.9px,#d88 0 266.3px,#acd 0 267.7px,#eaa 0 269.2px,#d98 0 270.6px,#cde 0 272.1px,#d99 0 273.5px,#eee 0 275px,#fff 0 277.9px,#d66 0 279.3px,#eef 0 280.8px,#fff 0 282.2px,#eba 0 283.7px,#eef 0 285.1px,#d77 0 286.6px,#eef 0 288px,#fee 0 289.5px,#ecc 0 290.9px,#ebb 0 293.8px,#c55 0 295.2px,#dee 0 296.7px,#c66 0 298.1px,#c55 0 299.6px,#e99 0 301px,#ebb 0 302.5px,#fdd 0 303.9px,#ebb 0 305.4px,#d88 0 308.3px,#eef 0 309.7px,#c66 0 311.2px,#ecc 0 312.6px,#cce 0 314.1px,#abd 0 315.5px,#d88 0 317px,#fdd 0 318.4px,#d98 0 319.8px,#cce 0 321.3px,#c55 0 322.7px,#fff 0 324.2px,#bcd 0 325.6px,#dee 0 327.1px,#c55 0 330px,#ebb 0 331.4px,#fff 0 332.9px,#c55 0 335.8px,#8ac 0 337.2px,#ecc 0 338.7px,#d99 0 340.1px,#fdd 0 341.6px,#c55 0 343px,#eff 0 344.5px,#d76 0 345.9px,#fee 0 347.3px,#ebb 0 348.8px,#e99 0 350.2px,#d77 0 351.7px,#eee 0 353.1px,#c55 0 354.6px,#d99 0 356px,#c55 0 357.5px,#cce 0 358.9px,#eef 0 360.4px,#e99 0 361.8px,#fdd 0 363.3px,#9bd 0 364.7px,#bcd 0 366.2px,#9bc 0 367.6px,#fdd 0 369.1px,#eaa 0 370.5px,#48b 0 372px,#ecc 0 373.4px,#d77 0 374.8px,#eef 0 377.7px,#c55 0 379.2px,#8ac 0 380.6px,#eaa 0 382.1px,#d77 0 383.5px,#ecc 0 385px,#d88 0 386.4px,#c55 0 387.9px,#fee 0 389.3px,#d88 0 390.8px,#ebb 0 393.7px,#c66 0 395.1px,#c55 0 396.6px,#eef 0 398px,#c55 0 399.5px,#cde 0 400.9px,#d77 0 402.3px,#c55 0 403.8px,#eef 0 405.2px,#abd 0 406.7px,#ebb 0 408.1px,#eee 0 409.6px,#c55 0 412.5px,#d76 0 413.9px,#d88 0 415.4px,#dee 0 416.8px,#fff 0 418.3px,#e99 0 419.7px,#dee 0 421.2px,#c55 0 422.6px,#dde 0 424.1px,#eba 0 425.5px,#fee 0 426.9px,#eaa 0 428.4px,#9ac 0 429.8px,#ebb 0 431.3px,#eef 0 432.7px,#cde 0 434.2px,#fff 0 435.6px,#cde 0 437.1px,#d88 0 438.5px,#8ac 0 440px,#d88 0 441.4px,#c55 0 442.9px,#fee 0 444.3px,#fdd 0 445.8px,#fee 0 447.2px,#eaa 0 448.7px,#ebb 0 450.1px,#dee 0 451.6px,#e99 0 453px)"></div>
<div class="ab" style="top:409.1px;height:6.7px;background:linear-gradient(90deg,#66c2a5 0 196.8px,#3288bd 0)"></div></div>
<svg width="770" height="1306" viewBox="0 0 770 1306"><defs><linearGradient id="gz" x1="0" y1="0" x2="0" y2="1"><stop offset="0" stop-color="#ff0000"/><stop offset="0.03" stop-color="#ff0000"/><stop offset="0.05" stop-color="#ff2510"/><stop offset="0.07" stop-color="#ff3b1f"/><stop offset="0.1" stop-color="#ff4b2c"/><stop offset="0.12" stop-color="#ff5939"/><stop offset="0.15" stop-color="#ff6545"/><stop offset="0.17" stop-color="#ff7150"/><stop offset="0.2" stop-color="#ff7c5c"/><stop offset="0.23" stop-color="#ff8768"/><stop offset="0.25" stop-color="#ff9174"/><stop offset="0.28" stop-color="#ff9b80"/><stop offset="0.3" stop-color="#ffa58c"/><stop offset="0.33" stop-color="#ffaf99"/><stop offset="0.35" stop-color="#ffb8a5"/><stop offset="0.38" stop-color="#ffc2b1"/><stop offset="0.4" stop-color="#fecbbe"/><stop offset="0.42" stop-color="#fbd5cb"/><stop offset="0.45" stop-color="#f7ded8"/><stop offset="0.47" stop-color="#f2e7e5"/><stop offset="0.5" stop-color="#ecebee"/><stop offset="0.53" stop-color="#e6dff0"/><stop offset="0.55" stop-color="#e0d3f2"/><stop offset="0.57" stop-color="#d9c8f3"/><stop offset="0.6" stop-color="#d2bcf4"/><stop offset="0.62" stop-color="#cbb1f6"/><stop offset="0.65" stop-color="#c3a5f7"/><stop offset="0.68" stop-color="#bb9af8"/><stop offset="0.7" stop-color="#b38ff9"/><stop offset="0.72" stop-color="#aa83fa"/><stop offset="0.75" stop-color="#a178fa"/><stop offset="0.78" stop-color="#976cfb"/><stop offset="0.8" stop-color="#8d61fc"/><stop offset="0.82" stop-color="#8155fd"/><stop offset="0.85" stop-color="#7449fd"/><stop offset="0.88" stop-color="#663cfe"/><stop offset="0.9" stop-color="#552ffe"/><stop offset="0.93" stop-color="#3f1fff"/><stop offset="0.95" stop-color="#1908ff"/><stop offset="0.97" stop-color="#0000ff"/><stop offset="1" stop-color="#0000ff"/></linearGradient><linearGradient id="gv" x1="0" y1="0" x2="0" y2="1"><stop offset="0" stop-color="#cd5c5c"/><stop offset="0.03" stop-color="#d26967"/><stop offset="0.05" stop-color="#d87572"/><stop offset="0.07" stop-color="#dc817d"/><stop offset="0.1" stop-color="#e18d89"/><stop offset="0.12" stop-color="#e59995"/><stop offset="0.15" stop-color="#eaa4a0"/><stop offset="0.17" stop-color="#edb0ac"/><stop offset="0.2" stop-color="#f1bcb9"/><stop offset="0.23" stop-color="#f4c8c5"/><stop offset="0.25" stop-color="#f7d4d1"/><stop offset="0.28" stop-color="#fae0de"/><stop offset="0.3" stop-color="#fceceb"/><stop offset="0.33" stop-color="#fef8f7"/><stop offset="0.35" stop-color="#fcfdfe"/><stop offset="0.38" stop-color="#f6f8fb"/><stop offset="0.4" stop-color="#eff3f8"/><stop offset="0.42" stop-color="#e8eef5"/><stop offset="0.45" stop-color="#e2e9f2"/><stop offset="0.47" stop-color="#dbe4f0"/><stop offset="0.5" stop-color="#d4dfed"/><stop offset="0.53" stop-color="#cedaea"/><stop offset="0.55" stop-color="#c7d5e7"/><stop offset="0.57" stop-color="#c1d1e4"/><stop offset="0.6" stop-color="#bacce1"/><stop offset="0.62" stop-color="#b3c7de"/><stop offset="0.65" stop-color="#adc2dc"/><stop offset="0.68" stop-color="#a6bdd9"/><stop offset="0.7" stop-color="#9fb9d6"/><stop offset="0.72" stop-color="#98b4d3"/><stop offset="0.75" stop-color="#91afd0"/><stop offset="0.78" stop-color="#8babcd"/><stop offset="0.8" stop-color="#84a6cb"/><stop offset="0.82" stop-color="#7da1c8"/><stop offset="0.85" stop-color="#759dc5"/><stop offset="0.88" stop-color="#6e98c2"/><stop offset="0.9" stop-color="#6794bf"/><stop offset="0.93" stop-color="#5f8fbc"/><stop offset="0.95" stop-color="#578bba"/><stop offset="0.97" stop-color="#4f86b7"/><stop offset="1" stop-color="#4682b4"/></linearGradient><clipPath id="cpv"><rect x="47" y="459" width="703" height="369"/></clipPath></defs>
<text x="13.5" y="18.4" font-size="21.8" font-weight="bold" textLength="25.6" lengthAdjust="spacingAndGlyphs">(a)</text>
<path d="M19.5 139.69V312.46M19.5 139.69H69.8M69.8 82.38V196.99M69.8 82.38H78.2M78.2 17.15V147.62M78.2 17.15H80.2M80.2 9.88V24.42M80.2 9.88H84M80.2 24.42H80.6M80.6 17.63V31.21M80.6 17.63H84M80.6 31.21H81.55M81.55 25.39V37.02M81.55 25.39H84M81.55 37.02H82.5M82.5 33.15V40.9M82.5 33.15H84M82.5 40.9H84M78.2 147.62H78.7M78.7 126.35V168.88M78.7 126.35H79.6M79.6 102.98V149.73M79.6 102.98H80.6M80.6 95.25V110.71M80.6 95.25H80.86M80.86 87.56V102.95M80.86 87.56H81.11M81.11 79.92V95.19M81.11 79.92H81.37M81.37 72.41V87.44M81.37 72.41H81.63M81.63 65.14V79.68M81.63 65.14H81.89M81.89 58.35V71.93M81.89 58.35H82.14M82.14 52.54V64.17M82.14 52.54H82.4M82.4 48.66V56.41M82.4 48.66H84M82.4 56.41H84M82.14 64.17H84M81.89 71.93H84M81.63 79.68H84M81.37 87.44H84M81.11 95.19H84M80.86 102.95H84M80.6 110.71H84M79.6 149.73H80.9M80.9 142.21V157.24M80.9 142.21H81.3M81.3 134.94V149.49M81.3 134.94H81.7M81.7 128.16V141.73M81.7 128.16H82.1M82.1 122.34V133.97M82.1 122.34H82.5M82.5 118.46V126.22M82.5 118.46H84M82.5 126.22H84M82.1 133.97H84M81.7 141.73H84M81.3 149.49H84M80.9 157.24H84M78.7 168.88H82.8M82.8 165V172.75M82.8 165H84M82.8 172.75H84M69.8 196.99H73.6M73.6 186.33V207.66M73.6 186.33H81.9M81.9 180.51V192.14M81.9 180.51H84M81.9 192.14H84.2M84.2 188.27V196.02M84.2 188.27H84M84.2 196.02H84M73.6 207.66H83.4M83.4 203.78V211.53M83.4 203.78H84M83.4 211.53H84M19.5 312.46H75.9M75.9 265.89V359.03M75.9 265.89H80.4M80.4 258.19V273.58M80.4 258.19H80.73M80.73 250.56V265.83M80.73 250.56H81.07M81.07 243.04V258.07M81.07 243.04H81.4M81.4 235.77V250.31M81.4 235.77H81.73M81.73 228.99V242.56M81.73 228.99H82.07M82.07 223.17V234.8M82.07 223.17H82.4M82.4 219.29V227.05M82.4 219.29H84M82.4 227.05H84M82.07 234.8H84M81.73 242.56H84M81.4 250.31H84M81.07 258.07H84M80.73 265.83H84M80.4 273.58H84M75.9 359.03H77.2M77.2 335.66V382.41M77.2 335.66H80.2M80.2 327.93V343.39M80.2 327.93H80.51M80.51 320.24V335.63M80.51 320.24H80.83M80.83 312.6V327.87M80.83 312.6H81.14M81.14 305.09V320.12M81.14 305.09H81.46M81.46 297.82V312.36M81.46 297.82H81.77M81.77 291.03V304.61M81.77 291.03H82.09M82.09 285.22V296.85M82.09 285.22H82.4M82.4 281.34V289.09M82.4 281.34H84M82.4 289.09H84M82.09 296.85H84M81.77 304.61H84M81.46 312.36H84M81.14 320.12H84M80.83 327.87H84M80.51 335.63H84M80.2 343.39H84M77.2 382.41H80.6M80.6 374.89V389.92M80.6 374.89H81.07M81.07 367.62V382.17M81.07 367.62H81.55M81.55 360.84V374.41M81.55 360.84H82.03M82.03 355.02V366.65M82.03 355.02H82.5M82.5 351.14V358.9M82.5 351.14H84M82.5 358.9H84M82.03 366.65H84M81.55 374.41H84M81.07 382.17H84M80.6 389.92H84" stroke="#000" stroke-width="1.8" fill="none" stroke-linecap="square"/>
<g font-size="6.7" font-weight="bold"><text x="548" y="12.78">C6</text><text x="548" y="20.53">SFRP1</text><text x="548" y="28.29">IFI44L</text><text x="548" y="36.05">MNS1</text><text x="548" y="43.8">MME</text><text x="548" y="51.56">LUM</text><text x="548" y="59.31">OGN</text><text x="548" y="67.07">SMOC2</text><text x="548" y="74.83">FREM1</text><text x="548" y="82.58">ECM2</text><text x="548" y="90.34">ASPN</text><text x="548" y="98.09">PDE5A</text><text x="548" y="105.85">FRZB</text><text x="548" y="113.61">COL14A1</text><text x="548" y="121.36">SFRP4</text><text x="548" y="129.12">CCRL1</text><text x="548" y="136.87">PI16</text><text x="548" y="144.63">FNDC1</text><text x="548" y="152.39">PHLDA1</text><text x="548" y="160.14">MXRA5</text><text x="548" y="167.9">NPPA</text><text x="548" y="175.65">HAPLN1</text><text x="548" y="183.41">HBB</text><text x="548" y="191.17">HBA2</text><text x="548" y="198.92">HBA1</text><text x="548" y="206.68">EIF1AY</text><text x="548" y="214.43">USP9Y</text><text x="548" y="222.19">PLA2G2A</text><text x="548" y="229.95">SERPINA3</text><text x="548" y="237.7">LYVE1</text><text x="548" y="245.46">CD163</text><text x="548" y="253.21">VSIG4</text><text x="548" y="260.97">RNASE2</text><text x="548" y="268.73">S100A8</text><text x="548" y="276.48">MGST1</text><text x="548" y="284.24">AOX1</text><text x="548" y="291.99">ANKRD2</text><text x="548" y="299.75">MYOT</text><text x="548" y="307.51">CYP4B1</text><text x="548" y="315.26">FCN3</text><text x="548" y="323.02">SLCO4A1</text><text x="548" y="330.77">IL1RL1</text><text x="548" y="338.53">MYH6</text><text x="548" y="346.29">MIR208A</text><text x="548" y="354.04">METTL7B</text><text x="548" y="361.8">HMGCS2</text><text x="548" y="369.55">AREG</text><text x="548" y="377.31">SERPINE1</text><text x="548" y="385.07">ADAMTS4</text><text x="548" y="392.82">ADAMTS9</text></g>
<text x="547.2" y="408.7" font-size="15.3" textLength="52.1" lengthAdjust="spacingAndGlyphs">VCAM1</text>
<text x="547.2" y="421.3" font-size="15.3" textLength="42.8" lengthAdjust="spacingAndGlyphs">Group</text>
<text x="613.8" y="79.8" font-size="15.2" font-weight="bold" textLength="60.9" lengthAdjust="spacingAndGlyphs">Z−score</text>
<text x="689.2" y="79.8" font-size="15.2" font-weight="bold" textLength="53.7" lengthAdjust="spacingAndGlyphs">VCAM1</text>
<rect x="613.2" y="93.2" width="27.6" height="137.9" fill="url(#gz)"/>
<rect x="688.1" y="93.1" width="27.3" height="138" fill="url(#gv)"/>
<path d="M613.2 97.3h6.5M634.3 97.3h6.5M613.2 129.2h6.5M634.3 129.2h6.5M613.2 161h6.5M634.3 161h6.5M613.2 193.1h6.5M634.3 193.1h6.5M613.2 224.9h6.5M634.3 224.9h6.5M688.1 97.5h6.8M708.6 97.5h6.8M688.1 140h6.8M708.6 140h6.8M688.1 182.6h6.8M708.6 182.6h6.8M688.1 225.1h6.8M708.6 225.1h6.8" stroke="#fff" stroke-width="1.6"/>
<text x="646.2" y="103.3" font-size="14.6" font-weight="bold">2</text>
<text x="646.2" y="135.5" font-size="14.6" font-weight="bold">1</text>
<text x="646.2" y="167.1" font-size="14.6" font-weight="bold">0</text>
<text x="646.2" y="198.9" font-size="14.6" font-weight="bold">−1</text>
<text x="646.2" y="230.5" font-size="14.6" font-weight="bold">−2</text>
<text x="721" y="103.2" font-size="14.8">1</text>
<text x="721" y="146" font-size="14.8">0</text>
<text x="721" y="188.6" font-size="14.8">−1</text>
<text x="721" y="230.5" font-size="14.8">−2</text>
<text x="689.4" y="265.8" font-size="15.4" font-weight="bold" textLength="46.4" lengthAdjust="spacingAndGlyphs">Group</text>
<rect x="689.6" y="280.9" width="24.1" height="23.7" fill="#66c2a5"/>
<rect x="689.6" y="306.8" width="24.1" height="23.8" fill="#3288bd"/>
<text x="721" y="298.5" font-size="15.4" textLength="46.6" lengthAdjust="spacingAndGlyphs">control</text>
<text x="721.4" y="324.1" font-size="15.4" textLength="19.3" lengthAdjust="spacingAndGlyphs">HF</text>
<text x="13.2" y="446.8" font-size="21.8" font-weight="bold" textLength="26" lengthAdjust="spacingAndGlyphs">(b)</text>
<g clip-path="url(#cpv)"><path d="M408.8 780L408.2 780L408.2 780.5L407.8 781L406.8 780.8L406.5 781.2L406 781.2L405.8 781.5L406 783L406.5 783.5L408 783.5L408 782.8L407.8 782.5L408.2 782.2L408.5 781.8L409 781.8L409 780.2ZM404 775L403 775L402.5 775.2L402.5 776.8L401.8 778.2L401.8 779L402.2 779.8L403 779.8L403.2 779.2L404 778.8L404 778.2L403.5 777.5L404.2 776.8L404.8 776.8L404.8 776.2L404.2 776.2L404 776ZM509.8 743.8L509.2 743.8L509.2 744.2L509 744.5L508.2 744.5L508.2 745.5L508.5 745.8L507.8 747.2L507 746.8L506.5 746.8L506.5 747.8L507.2 748.8L507.8 748.8L508 748.2L509.2 748L509.5 747.8L509.5 746.8L510.5 746.2L510.5 744.8ZM408 744.2L408 745.5L408.8 745.8L409.5 746.5L411.2 746.5L411.2 745.5L411 745.5L410.8 745L409.8 744.2L409.8 743.8L408.8 743.8ZM407.2 741.5L406.5 741.5L406 741.8L405.8 742.2L405.5 742.2L405.2 741.8L404 741.8L403.5 742L402.8 742.8L402.8 743.2L403 743.5L403 744L403.8 744L404 744.2L403.8 744.5L403.8 745L404.2 745.2L405.2 745.2L405.8 744.8L406.2 744.8L406.2 743.5L406.5 743.2L407 743.2L407.2 742.8ZM497.8 736.8L497.8 737.2L498 737.5L497.8 737.8L497.8 738.5L498.2 739.2L498 739.5L498 740.2L500 740.8L500.2 741.2L499.8 741.8L499.8 742.5L501 742.8L501.2 742.2L501.2 740.8L501 740.2L501.5 739.8L501.5 739L501 738.8L500.8 738.2L500 738.2L499.8 738L499.8 737L499.5 736.5ZM497.2 731.8L497.2 732.8L497.8 733.2L498 734.8L498.5 735L499.5 735L500.5 734.5L500.5 733.8L499.5 733.8L499.2 734L499 733.8L499 733.2L498.5 733L498.8 731.8ZM487 730.2L487 731L488.5 730.8L489.5 732.2L491.2 732.2L491.2 731.8L491.5 731.5L491.8 732L492.8 732L492.8 730.2L492.5 730L492.5 729.5L492.2 729.5L492 729L491.2 728.5L490 728L489.5 728L489.2 728.2L489 729.2L488.5 729.5L488.5 730L488.2 730.2ZM494 724L494 724.5L494.5 724.8L495.5 724.8L495.8 725L495.8 725.8L494.5 726.2L493.5 726.2L493.5 727L494.8 727L495.2 727.8L496.5 727.5L496.5 727L496.2 726.8L496.2 725.5L496.5 725.2L496.5 724.8L495.8 724.8L495.2 724ZM423.8 713.2L423.8 716.2L423 716.8L423 717.2L424 717.2L425 718.8L425.8 719L426.2 719.8L427 719.8L427.2 720L427.2 720.8L428 720.8L428.8 721.2L428.8 721.8L429.2 721.8L429.5 721.5L429.5 720.8L429.2 720.5L429.8 720L429.5 719L428.8 718.2L428.2 717.2L427.2 717.2L426.2 716.5L426.5 716.2L426.2 715L425 714.8L424.8 714.5L425 714.2L425 713.8L424.2 713.2ZM482.5 711.5L481.2 711.2L480.5 710.8L480 710L478.5 710L477.8 710.5L477.2 711.2L477 711.2L477 714.5L476.8 714.8L476.8 715.5L476.2 716L476.2 716.5L476.5 716.8L476.2 718L475.8 718.5L475.8 720L476 720.2L475.8 722L476 722.2L476 722.8L475.5 723L475 723.8L474.2 724.2L474.2 724.8L473.8 725L474 726.8L473.5 727.8L473 728L473 728.8L471.8 729.8L471.8 733L472 733.2L471.5 733.8L471.5 735L471.8 735.2L471.5 736.2L471.8 736.5L471.2 736.8L471.2 737.2L471 737.5L471 738L471.2 738.2L470 739L469.8 740.8L469 742L469 744.8L468.8 745L468.8 746.2L467.8 747L467.2 748.2L467.2 749L466.8 749.2L466.8 751.8L466.5 752L466.5 753.2L465.8 754L465.5 755.8L464.2 758.5L464.2 759.8L464 760L464 762.5L463.8 762.8L463.5 764.2L463 764.8L463 765.2L462.8 765.5L462.8 766.2L462 768L462 769.2L461.8 769.5L461.8 770L460.8 772L460.8 773.2L460.5 773.5L460.5 774.5L460 775.2L460 776L459.5 777.2L459.2 779.8L458.5 781.2L458.2 783.5L458 783.8L458 784.5L457.5 785.2L457.5 786.2L457 787.5L456.8 789.8L456 791.5L456 792.2L455.8 792.5L455.8 793.2L455.5 793.5L455.2 795.2L455 795.5L454.5 794.5L454 792L453.5 791.2L453.5 790.8L453 789.8L452.8 788.2L452.2 787.5L452 785.8L451.5 785L451.5 784.5L451 783.5L450.8 781.8L450.5 781.5L450.2 780.2L449.8 779.5L448 773.5L447.5 772.8L447.5 771.8L447.2 771.5L447 770.2L446.5 769.5L446.5 768.5L446.2 768.2L446.2 767.5L445.8 766.8L445.5 765L444.5 763.8L444.5 763L444.2 762.8L444.2 761L443.2 758.8L442.8 758.5L442.8 757.8L442.2 757L442.2 756L442 755.8L442 755L441.5 754.2L441.2 752L440.8 751.5L440.8 751L439.8 749.5L439.5 747.8L439.2 747.8L438.8 747L439 746.8L439 746.2L438.5 745.2L438.2 743.8L437.8 743.2L437.8 742L437.2 741.8L437.2 741.2L436.5 740.2L436.5 739.5L435.8 739L435.5 738L434.8 737.2L434.8 736.5L435.2 736L435.2 734.2L434.8 733.8L434.8 732.2L434.2 732.2L434 732L434 731.2L433.2 730L433 730L432.2 729L432 727.8L431 727L431.2 725.8L431 725.5L431 723.8L430.5 723L430.5 722.5L429 722.5L428.8 722.8L428.2 722.8L428.2 723.2L427 724.2L427 725.5L426.8 725.8L426.5 725.5L425.5 725.5L424 726.2L423 726.2L422.5 725L423 724.8L423 724L423.2 723.8L423.2 723L422.8 722.5L423 722.2L423 721.8L423.5 721.5L423.2 720L422.2 719.5L422.5 719.2L422.5 718.8L422 718.5L420.8 718.5L420.5 718.2L420.5 716.8L418.5 716.2L418.2 717.5L418.8 717.8L418.5 718L417.5 718L417 718.2L416.5 719L416 719L415.8 719.2L415.8 719.8L417.2 719.8L417.5 720L417.2 720.2L417.2 720.8L417.5 721L418 721L418.5 720.2L418.8 720.5L418.8 721.2L418.5 721.5L418 721.5L418 722.2L419 722.8L418.8 723L418.2 723L418 723.5L418 724L418.2 724.2L418 725.2L417.8 725.5L416.5 725.2L416.5 725.8L417 726L416.5 726.8L415.2 727L414.8 726.5L414.2 726.5L413.5 727L413 726.2L412.8 725L412.2 725L412 724.8L412 724.2L411.5 724.2L410.5 723.5L410 723.5L409.8 723.8L409.8 725.2L409.2 726.5L409.2 727.8L410.5 727.8L410.8 728.2L410.2 728.5L410.2 729L411.2 729.2L411.8 729.8L412 730.5L413.5 730.5L414 731.2L413.8 731.8L413.5 731.5L413 731.5L412 732L412 732.5L412.5 732.5L412.8 732.8L412.8 734.2L413.8 734.2L414 733.8L415 734.2L414.2 734.8L414 735.2L413.8 735.2L413.8 735.8L413.2 736.2L413.2 736.8L412.8 737L412.8 738L413 738.5L413.8 739.2L415 739.2L415.5 739.5L416.5 740.5L417.8 740.5L418.2 739.2L418.8 739.8L418.8 740.5L419 740.8L420.2 740.8L420.5 740.5L420.8 741L421.2 741L421.5 741.2L420.8 742.2L419.8 742.2L419.5 742.8L419.2 742.2L418.5 742.2L418 742.5L418 743L416.2 744L416.2 746L415.8 746.5L415.8 747L416.2 747L417 747.5L417 749L417.5 749.5L417.5 750L418 750L418.2 750.2L417.2 751L417.2 751.8L417.8 752.2L417.2 753.2L416.8 753.5L416.8 754L418 754L418.2 754.2L418.2 755L417.8 755.8L417.5 755.5L417 755.5L416.8 756L416 755.5L415.5 754.8L415 754.8L414 753.5L414 753L413.2 752.5L413.8 752.2L413.8 751.5L412.8 750.8L412.8 750.2L412 749.8L412 749.2L411.5 749.2L411.5 749.8L412 750L411.5 750.2L411.2 751L411 751.2L410.5 751.2L410 752L409.5 752L409 752.5L408.8 752.5L408.5 752L407.5 751.8L406.8 751L406.2 751L405.8 750.5L404 750.5L403.8 750.8L403.5 750.5L403 750.5L403 751.2L404.2 751.2L404.5 751.5L404.2 751.8L403.5 751.8L403.5 753.2L403.8 753.2L404.8 754.5L405.2 754.5L406 755.2L406.8 755.2L407 755.5L407.8 755.5L407.8 755.2L408 755L408.5 755L408.8 754.5L409 755L409.8 755L410 755.2L410 755.8L410.5 756L410.2 756.5L410.5 757.5L410 758.2L408 757.8L408 758L407.2 758.5L407.2 759L407 759.2L406.8 759L406.5 757.5L406 757.5L405.8 758L405.2 758L405.2 758.8L405.5 759L405 759.2L405 760.2L405.2 760.5L407.8 760.8L408.2 760L408.8 760.2L408.2 761L408.2 762L408.5 762.2L408 762.8L406.2 762.5L406.2 763.8L406.5 764L406.5 764.5L407 764.5L407 764L407.2 763.8L407.5 763.8L408 764.5L407.2 765.2L406.5 765.2L406.5 765.8L406.8 765.8L407.2 766.5L407 766.8L406.8 768L406.2 768.8L406 770.2L406.2 770.2L407 771.2L406.5 772.2L406.5 773L406.8 773.2L406.8 774.5L407.2 774.8L407.2 775.2L407.8 775.8L407.5 776L407.5 776.5L408 776.8L408 777.5L408.5 777.8L409 779L409.5 779L409.8 779.2L411.2 779L411.5 779.2L411.2 779.5L411.2 780L410.2 780.5L410 781.8L410.2 782L410.8 782L411 781.8L411.2 782L411.5 783.2L412 784L412 785L411.8 785.2L411.5 785L410 785.2L409.8 785.8L409.2 785.8L409.2 786.5L410 786.5L410.5 787L410.2 787.2L409.2 787.2L409 787.5L409 788.2L409.5 788.5L409.2 789.2L408.8 789.5L409 791L409.2 791.5L410.2 791.5L410.5 791.8L411 791.8L411.2 791.2L411.8 791.5L412.8 791.5L413.2 791.2L413.8 792L413.5 792.8L413.2 793L412 793L412 793.5L412.2 794L413.2 794.8L413.2 795.2L414.2 795.8L415.5 795.8L415.8 796L415.8 797L416.5 798L416.5 800.2L417.8 800.2L418.2 800.5L418.8 801.2L419.2 801.2L419.5 801.8L420.5 802L421 802.8L421.5 802.8L422.5 803.5L424.2 803.5L424.5 803.2L425.2 803.8L426 803.8L426.2 803.5L426.5 803.8L428.8 803.5L430.8 804.5L433 804.5L433.2 804.2L434.5 804.8L438 804.8L438.2 805L444 805L444.2 805.2L468.2 805.2L468.5 805L472.8 805L473 804.8L475.5 804.8L475.8 805L476.5 805L476.8 804.8L477.8 804.8L478 804.5L478.8 804.5L480 804L481.2 804L481.5 803.8L481.8 804L482.5 804L482.8 803.8L483.2 804L484 804L484.2 803.8L484.8 803.8L485 804L486.5 804L487.2 803.5L487.2 803L487.5 802.8L488.5 803L489 802L489.2 802.2L489.8 802.2L490 801.8L490.5 801.8L491.5 800.2L492 800L492 799.2L492.5 798.8L493 798.8L493 798.5L494.5 797.5L494.8 797.8L495.2 797.8L495.5 797.5L496.2 798L496.8 798L497 797.5L497.2 797.8L498.8 797.8L498.8 797L497.8 796.8L497.5 796.5L497.5 795.5L496.8 795L496.8 794.5L497 794.2L497.5 794.2L497.5 793.8L497.2 793.5L497.8 792.5L498.2 792.2L498.2 791.8L499 790.8L499 789.8L498.2 788.8L498.5 788.5L498.5 787.8L498 787.8L497 787L495.5 786.8L495 786.2L495.2 786L496.2 786L496.2 785L496 784.8L496.2 784.5L496.8 784.5L496.8 783.8L497 783.5L498 783.2L498 782.5L497.5 782.5L497 782L497.2 781.8L497.8 781.8L498.2 780.8L498.2 779.8L497.8 779.8L497.5 779.2L497.8 779L499 779.2L499.2 778.8L499.2 777.2L498.8 777L499.8 776.2L500 775.8L500 775.2L499.8 775L500 774.8L500.5 774.8L500.8 772.5L500.5 772.2L500.5 771.8L500.2 771.8L499.8 770.8L499.2 770.5L499.2 769.8L499.8 769.2L500.2 769.2L500.8 769.8L500.8 770.2L501 770.5L501.5 770.5L502 771L502 771.8L503 772.2L504.8 773.8L504.5 774.2L503 774.2L502.5 773.8L502.5 773L501.8 773L501.8 774.5L502.2 775L502.2 776.2L502.5 776.8L501.5 777.2L501.5 778L502.5 778.5L503.8 778.5L504 778.2L505.2 778.5L505.8 778.2L506 776.8L506.2 776.5L507.8 776.2L507.8 775.2L507.2 775L507.2 774.5L507 774.2L507.5 774L507.5 773.2L508 772.2L508 771.2L508.5 770.8L509.8 770.2L510.5 769.2L511.2 769.2L511.2 768.5L512.2 768L512.2 767.2L511 767.2L510.8 767L511 766.8L511.8 766.8L511.8 766.2L511 765.8L510.5 765.8L509.8 765L510 764.8L510 764.2L509 762.8L507.8 762.8L507.5 763.8L508 764L507.5 764.5L507.5 765.2L508.5 765.2L508.8 765.5L508.5 765.8L508.5 766.8L508 767.5L506.8 767.5L506.5 768L505.8 768.5L504.8 768.5L504.5 768.2L502.8 768L502.5 767.8L502.2 765.5L501.5 765L501.2 764.5L502 764L503 764L504 763.5L504.2 763L505.5 762.8L505.5 760L505 760L504.8 759.5L503.8 759.5L503.8 760L503.5 760.2L503.2 759.8L502.8 759.5L502.8 759L502.2 758.8L503 758L503 757.5L501.8 757.8L501.5 757.5L501.8 757L501.8 755.8L501.2 755.8L501 756L500.5 755.5L500.8 755L501.2 755L501.2 752L501 751.8L501 751L500.5 751L500.5 751.5L500.2 751.8L499 751L499 750.5L499.5 750.2L500 749.5L500.2 749.5L500.5 750L502.5 749.8L503 749.2L503.5 749.2L503.8 749.5L505 749.5L505.2 749.2L505.2 748.5L504 748L503.5 748L503.2 748.2L503 748L503 747.5L502.2 747.5L502 747.2L502 746.8L501.5 746.8L500.8 745.5L499.8 744.8L497 745L496.8 744.5L495.2 744.2L494.8 743.8L494.2 743.8L494 744L493.8 743.8L493.8 743.2L492.5 742.8L492.8 742.2L493 742.5L494 742.5L494.2 742.2L494.2 741.8L495.2 741.2L495.2 739.5L494.8 738.2L495 738L496 738L496 737.5L495.5 737.5L494.8 736.5L493.2 736.2L493.2 736.8L493.8 737.5L492.5 738.2L490.8 737.5L490 737.5L489.5 737L489.5 736L489.2 735.8L488.5 735.8L488.2 736.2L487.8 736L485.8 736L485.5 735.8L485.5 735L485 734.2L485 733.5L484.5 733.5L484.2 733.2L484.8 733L484.5 732L485.2 731.5L486 731.5L486 730.5L484.8 730L485 729.8L486.2 729.8L486.2 729.2L485.5 729.2L485.2 729L485.5 728.8L486.5 728.8L486.8 729L486.8 729.5L487.5 729.5L487.5 728.8L488 728.5L488 728L487.8 727.8L488 727.5L488 726.8L487.2 726.2L487.2 724.5L487.5 724.2L487.5 723.5L487 723.5L486.8 723.2L487 723L487 722.5L487.2 722.2L487.8 722.2L488.5 722.8L488.5 723.2L489 723.2L489.2 722.8L490 722.8L490 722.2L490.5 721.8L490.2 720.8L490.8 720.5L491 719.5L490.5 719.2L489 719.2L488.8 719L488.8 718.5L487.2 718.5L487 720.2L486.8 720.5L486.2 720.5L486.2 721.5L486 721.8L485.5 721.8L485.2 722L484.8 721.5L483.8 721.5L483.2 722.2L482.5 722L481.8 721L481.8 720.5L480.5 719.8L480.5 718.8L480 718.5L480.5 717.8L481.5 717.2L482.5 717.2L482.5 716.2L483 716L483 715.2L482.8 715.2L482.5 714.8L483 713.8L483.5 713.5L483.5 713L483.2 712.5L482.8 712.2ZM501 763.2L500.8 763.5L500.8 764L501 764.2L500.5 764.5L500.5 765L500.2 765.2L499 765.2L498.8 765.5L497.5 765.8L496.5 765L496.8 764.8L496.8 763L497 762.8L497.2 763.2L497.8 763.2L498.5 762.2L499.2 762.2L499.5 762ZM417.2 733.8L417.5 733.5L418.2 733.5L418.5 732.8L419 732.2L419.2 732.5L419.2 734L419.5 734.2L421 734.2L421.5 735.2L421.2 735.5L419.8 734.8L417.8 734.8ZM418.2 728L418.5 728.2L418.2 728.5L418.2 729.2L419 729.2L419.2 729.5L418 730L418 731.2L417.8 731.5L417.2 731L417.2 730.2L416.5 730.2L416.5 730.8L417 731.8L417 732.5L417.2 732.8L417 733.2L416 732.5L416 731.5L415.5 731.5L415.2 731.2L415.5 731L416 731L416 729.8L415 730L414.8 729.8L414.8 729.2L415 729L415.2 729.2L415.8 729.2L416.5 728.8L416.8 729.2L417.2 729.2L417.5 729L417.5 728.2L417.8 728ZM479.5 725.2L480 725.5L480 726.2L480.5 726.2L481.2 724.8L481.8 725.2L481.2 726L481.2 726.5L481.8 726.5L482 726.8L482.8 726.8L483 726.5L483.2 727L483.8 727.2L483.2 728L483.2 728.5L484 729.5L484.2 730.5L483.8 730.8L483.5 731.2L482.8 730.8L482 730.8L481.5 730.2L481.8 730L481.8 729.2L481.2 728.5L480.5 728.5L480.2 728.8L480 728.5L480 728L479.5 727.8L479 727.8L478.8 728L478.5 727.8L478.5 727L479.2 726L479.2 725.5ZM486 705.8L486 706.5L485.5 706.8L485.2 708.2L486 708.8L486.8 708.8L487.2 708.2L487.5 708.8L488 708.8L488.5 707.8L488.5 706.8L487.2 705.8ZM412.5 698.2L412.5 699L413.5 699.5L413.2 699.8L413.2 700.5L413.8 700.8L413.2 701.2L413.2 701.8L414 701.8L414.5 701.2L414.8 700.2L415 700L415.5 700L415.5 699.2L414.5 698.5Z" fill="#8b8b83" fill-opacity="0.97" fill-rule="evenodd"/>
<path d="M458.3 791h0M396.7 675.3h0M506.1 722.8h0M421 699.4h0M381.2 700.6h0M499.2 773.9h0M388.4 769h0M478.5 724.1h0M487.9 740.2h0M427.5 738.6h0M545 777.8h0M493.1 707.8h0M420.9 739h0M493.2 753.6h0M437 743.9h0M403.8 788.3h0M430.7 802.6h0M494.2 733.2h0M501.5 780.8h0M498.7 752.6h0M491 743h0M407.6 702.3h0M483.3 717.3h0M495.1 670.5h0M457.8 792.7h0M403.5 714h0M501.6 763.3h0M495.5 690h0M518.5 793.6h0M408.6 777.8h0M448.5 781.6h0M515 747.9h0M408.5 726.7h0M495.5 708.3h0M410.9 770.1h0M381.8 761.2h0M401.9 718h0M407.1 785h0M545.4 745.9h0M417.7 792.4h0M569.6 655.1h0M524.3 683.7h0M405.2 742.2h0M403 773.8h0M529 749.9h0M396.7 735.5h0M500.6 789.6h0M381.6 763.1h0M450.1 786.2h0M441 756.3h0M477.3 722.6h0M469.2 744.5h0M407.7 729.7h0M531.6 681.4h0M495.5 726.4h0M548 781.7h0M451 789.6h0M510.9 730.8h0M495.5 800.6h0M530.7 673.3h0M444.8 768.9h0M439.5 803.3h0M545.9 667.9h0M508.5 790.6h0M407.8 761.3h0M417.5 791.8h0M509.1 719h0M431.8 803.2h0M430.5 727h0M482 721.5h0M409.5 762.6h0M482.8 727.5h0M461.9 775.8h0M495.6 730.6h0M395.6 772.2h0M402.4 739h0M503.7 799.4h0M419.5 736.8h0M493.1 740.6h0M418.8 730.5h0M494.7 751.1h0M392.2 737h0M481.6 713.6h0M502.5 749.5h0M421 800.6h0M405.3 791.1h0M493.8 664.3h0M389.9 785.7h0M495.7 646.9h0M494.5 713.5h0M422.8 737h0M532.6 735.9h0M407.1 780.4h0M486.8 719.7h0M410 732.5h0M421.1 721.2h0M404.1 741.7h0M483.3 727h0M407.6 780.1h0M428 802h0M393.3 772.7h0M447.9 779h0M497.6 728.6h0M495.2 715.1h0M528.4 751.8h0M500.4 691.5h0M498.1 775.9h0M467.9 803.1h0M406.2 713.4h0M395 718.6h0M487.5 725.5h0M477 717.3h0M462 775h0M502.3 733.7h0M417.7 750.8h0M398.2 755.4h0M510.5 755.8h0M577.8 748.4h0M496.1 781.3h0M501.8 696h0M413.1 794.9h0M517.7 731.7h0M409 649.9h0M556.5 762.8h0M444.9 770.2h0M502.7 710.3h0M459.3 786.4h0M406.4 768.7h0M419 679.6h0M496 682.4h0M467.1 756.9h0M483 717.6h0M458 792.1h0M539.2 765.3h0M499.5 752.7h0M412.3 729h0M466.7 757.9h0M377 767.6h0M486.9 735.9h0M392.7 750.5h0M487.8 709.4h0M386.5 724.2h0M382.9 788.2h0M432.3 803h0M405.4 741h0M400.3 745.1h0M377.6 729h0M398.1 767.5h0M402.2 752.4h0M504.1 750.1h0M537.2 714.3h0M439.1 749.7h0M565.9 683.7h0M414 764.2h0M410.9 790.2h0M413.5 737.2h0M494.6 668.5h0M405.1 731.4h0M485 715.8h0M446.1 774h0M521.6 761.1h0M562.2 737.2h0M405.3 781.1h0M503.7 761.9h0M389 736.9h0M431.2 725.6h0M517.4 755.2h0M523.5 675.6h0M327.7 670.9h0M528 734h0M404 802.7h0M397 722.6h0M422.7 729.2h0M462.5 773.4h0M499.9 706.1h0M505.9 752.6h0M481.7 724.8h0M501.9 773.6h0M402.9 711.3h0M411 790.3h0M484.6 677.8h0M416.3 750h0M511 716.3h0M420.6 724.3h0M413.8 729.2h0M429.2 723.1h0M443.9 766.1h0M502.4 769h0M366.7 715.7h0M497.7 757.7h0M553.3 783.7h0M533.9 723.4h0M398.9 775.5h0M411.7 784.6h0M377.3 778.2h0M413.6 750.3h0M502.7 798.6h0M509.6 776.7h0M459.4 785.5h0M496 746.3h0M522.2 732h0M517.8 710.1h0M492.9 763.7h0M413.3 715.1h0M384.1 749.3h0M392.1 727.6h0M538.3 690.3h0M491.5 729.5h0M376.7 747h0M514.8 676.1h0M451.4 791.1h0M508.5 721.2h0M502.8 779h0M504 754h0M447.1 776.2h0M405.7 740.7h0M449.1 782.9h0M481.9 715.1h0M437 746.7h0M482.8 724.8h0M482.8 721.5h0M486.3 687.3h0M402.8 741h0M366.9 750h0M496.9 782.6h0M546.4 709.4h0M438.8 749.7h0M512.5 763.1h0M480 802.2h0M396.1 714.1h0M460.5 781.5h0M359.8 670.2h0M508.9 784h0M407 724.4h0M512.6 719.3h0M537.9 720.6h0M486.8 802.8h0M506 724.3h0M504.5 759h0M402.7 724.8h0M482.4 802.6h0M419.3 756.1h0M406.4 794.2h0M412.4 700.3h0M319.5 694.1h0M515.6 728.5h0M441.1 756.7h0M410.8 744.4h0M458.6 789.3h0M426.4 802h0M413.3 752.2h0M418 726.1h0M398.7 726.5h0M513 725.1h0M398.5 742.4h0M482.7 715.6h0M495.7 788.8h0M495.6 796.6h0M466.2 758.6h0M437.4 747.1h0M534.8 729.7h0M370.4 789.8h0M414 742.3h0M439.8 803.2h0M484.3 716.6h0M497.6 738.4h0M413.7 778.9h0M409.5 739.8h0M524.7 691.6h0M405.8 771.5h0M406.8 783.4h0M364.2 740.6h0M402.2 704.2h0M426.2 736.7h0M523.2 726.8h0M469.9 803.2h0M522.7 758.5h0M495.2 739.1h0M445.3 770.8h0M412.8 681.5h0M503 726.8h0M441.9 760.1h0M401 800.1h0M414.4 758.6h0M502.4 801.8h0M413.5 732.3h0M480.6 722h0M410.2 718.5h0M415.1 668.9h0M422.1 800.8h0M442.4 760.7h0M429.7 722.6h0M525 726.3h0M460 783.2h0M527.7 758.3h0M400.3 688h0M416.1 792.8h0M488.2 719.3h0M498.9 742.8h0M402 742.8h0M444.3 766.9h0M411 779.7h0M418.8 734.9h0M458.7 788.9h0M334.5 682h0M401.1 718.8h0M490.6 675.7h0M476.2 718.4h0M508.1 745h0M501.4 700.5h0M431.1 802.9h0M410.6 746h0M592.7 736.6h0M397.7 680h0M556.3 765.7h0M497.8 775.8h0M417.1 735.2h0M461.3 778.6h0M491.4 749.1h0M408.2 768.8h0M354.5 701.1h0M407.5 695.5h0M413.4 799.2h0M547.7 758.6h0M417.2 733.2h0M465.8 763.1h0M470.4 746.3h0M466.8 754.4h0M503.5 796.2h0M405.8 770.8h0M488.8 728.4h0M520.7 694.4h0M401.4 728.9h0M419.8 727.3h0M448.7 782.2h0M401.9 771.4h0M386.3 708.5h0M442 760.1h0M407.6 691.4h0M406.8 786.6h0M521.9 735.9h0M408.5 760.7h0M411.7 697.2h0M483.8 728.1h0M510.4 703.9h0M417.8 698.2h0M494 799.6h0M406.7 790.1h0M381.2 771.8h0M354.8 733.3h0M479.7 717.5h0M471.8 734.3h0M475.7 803h0M426 739h0M469 747.6h0M506.6 769.3h0M484.6 732.2h0M395.6 697.8h0M380.3 727.7h0M501.1 767.2h0M483.6 710.7h0M504.5 787.9h0M515.4 743.3h0M486.8 685.7h0M518.7 682.7h0M352.5 723h0M385.7 782.8h0M399.2 734.4h0M447.3 778h0M581.7 741.6h0M382.9 742.4h0M372.5 730.7h0M495.1 741.7h0M504.7 782.4h0M395.6 750.7h0M313.2 684.5h0M408.3 742.6h0M497 779.5h0M401 723.7h0M399.4 724h0M404.4 786h0M519.6 731.3h0M495.3 722.7h0M507.1 684.1h0M451.6 792h0M419.9 748.9h0M511.9 745.8h0M370.5 783.7h0M513.6 759.6h0M472.3 734.1h0M538.9 747.5h0M332.2 757.6h0M500.1 801.1h0M514.6 746.4h0M492.1 748.1h0M460.7 780.5h0M411.3 801.3h0M565.6 748.7h0M427.1 718.7h0M525.9 778.7h0M501 762.3h0M395 725.1h0M424.9 705.9h0M502.1 700.4h0M510.6 739.9h0M506.9 769.6h0M502 783.3h0M358.9 674h0M502.8 759.4h0M356.9 732.8h0M482 732.7h0M406.6 763.7h0M372.2 723.7h0M388.6 740.7h0M479.2 802.7h0M509.7 781.3h0M449.8 785.7h0M423.6 722.8h0M379.5 785.5h0M433.2 738.6h0M312.8 703.2h0M526 733h0M482.2 700.6h0M490.3 672.7h0M411.9 761.2h0M408.1 741.7h0M462.9 771.7h0M457.9 792.5h0M530.1 786.2h0M428.7 719.9h0M417.5 801.7h0M501.1 748h0M413.5 789.4h0M482.5 802.1h0M494 688.9h0M383.3 659.1h0M544 743.5h0M505.9 759.8h0M487.2 727.4h0M527.8 673.1h0M524 746.3h0M530.2 729.5h0M482.6 685.8h0M489.7 739.1h0M392.7 683.9h0M403.5 769.1h0M407.8 733.5h0M439.9 753.4h0M399 709.6h0M508.8 745.1h0M434.6 802.8h0M505 794.2h0M372.3 730.6h0M409.5 691.7h0M426.1 741h0M392.5 702.3h0M405.2 696.4h0M437.6 748.1h0M395.7 701h0M505.6 787.8h0M561.5 695.2h0M408.1 690.6h0M499 746.8h0M529.3 779h0M491.7 720.7h0M366.2 766h0M411.6 771.2h0M397.8 747.5h0M408.2 769.5h0M498.2 788.5h0M397.8 736.2h0M573.2 721.2h0M589 721.7h0M438.9 750h0M586.3 682.9h0M485.8 713.6h0M385.1 768.2h0M414.9 788.8h0M497.4 796.7h0M419.1 710.5h0M468.8 748.8h0M463.7 769.5h0M374.9 739h0M464.2 767.8h0M429.6 719.9h0M431.1 730.1h0M483.6 726.5h0M528.4 703.9h0M546.4 666.8h0M465 762.2h0M481.8 721.2h0M377.2 697.6h0M355.2 740.3h0M348.2 709.3h0M437.9 748.3h0M406.3 762.9h0M416.9 740h0M401.2 683h0M374.3 748.5h0M493.3 736.8h0M373.7 761.6h0M525.9 660.3h0M423.5 705.5h0M539.4 777.1h0M530.1 784.1h0M391 704.1h0M382.5 738.1h0M418.4 743.8h0M461.2 778.2h0M387 746.4h0M393.8 768.7h0M504.8 710.2h0M559.4 701.8h0M448.1 780.3h0M520.4 770.3h0M409 703.7h0M543.3 675.2h0M499.3 753.5h0M479.1 711h0M447.4 777.4h0M426.4 726h0M422.1 726.4h0M402.1 776h0M492.2 682.6h0M433.8 734.7h0M457.1 795.9h0M460.4 781.5h0M417.8 718.1h0M429.1 718.6h0M506.7 768.6h0M357.9 671.7h0M488.5 737.4h0M524.7 709.8h0M402.3 734.1h0M501.9 764.7h0M498.8 754.3h0M376.2 771.1h0M563.6 762.9h0M449.1 782.9h0M384.9 783.6h0M439.6 752.1h0M480.3 704.7h0M391.1 670.4h0M502.1 750.3h0M463.8 769.7h0M513.9 794.5h0M405.9 739.3h0M532.5 639.9h0M386.2 714h0M443.9 766.4h0M409.5 745.6h0M514.1 725.2h0M478.9 724.9h0M499.9 760.7h0M415.7 739.1h0M437.3 743.9h0M396.5 751.9h0M385.3 724.6h0M356.7 716.5h0M422.7 802h0M386 683.9h0M413.6 738.6h0M447.8 778.8h0M463.1 772h0M443 764.9h0M485.6 714.6h0M489.2 697.4h0M416.2 785.6h0M406.8 784.5h0M514.5 742.3h0M392.9 725.1h0M412 758.9h0M403.2 741.9h0M407.2 776.3h0M434.6 739.2h0M488.6 802.2h0M466.1 760.4h0M387.8 682.4h0M498.4 774.1h0M504.5 705.8h0M502 741.1h0M496.4 758.8h0M490.4 719.4h0M388.8 735.6h0M399.4 773.6h0M464.8 765.6h0M347.8 755.2h0M462.4 774.5h0M478.3 710.1h0M398.3 711.1h0M469.6 745.6h0M503.1 757.8h0M514.3 770.9h0M476.2 724.9h0M457.5 794h0M403.7 777h0M405 683.4h0M371.8 699.4h0M506.8 776.6h0M505.8 731.2h0M393.9 690h0M408.5 768.7h0M388.4 766.9h0M401 751.8h0M368.5 742.3h0M443.6 765.8h0M536.3 663h0M528.3 747.8h0M410.2 771.1h0M504.7 753.2h0M519.5 721.5h0M424.5 706.1h0M395.6 791.3h0M409.6 759.9h0M459.7 784.5h0M408 752.5h0M417.7 743h0M323.7 751.9h0M515.7 755h0M569.2 679.2h0M385.9 756.5h0M466 760.4h0M399.1 712.9h0M386.3 722.6h0M524.6 714.4h0M505.3 734.2h0M419 748.4h0M392.7 683.7h0M391.5 789.6h0M508.9 765.9h0M385.6 718.7h0M589.4 738.2h0M388 663h0M499.4 768h0M417.5 738.5h0M541.1 746h0M480.7 724.6h0M389.1 717h0M386.7 725.9h0M417 686.5h0M396.7 700.4h0M373.6 680.5h0M500.4 772.8h0M398.1 764.2h0M491.3 679.3h0M417.5 752h0M495.4 732.5h0M400.7 654h0M395 727.2h0M475.9 803.1h0M481.3 802.3h0M383.6 791.8h0M506.7 700.4h0M528 711.2h0M405.3 691.3h0M397 702.1h0M486.5 802.9h0M323.8 724.4h0M507.5 747.3h0M488.2 721.4h0M528.1 675.9h0M394.8 736.5h0M450 785.8h0M371.9 722.1h0M389.4 745.6h0M485.3 673.1h0M499.1 770.5h0M414.1 717.9h0M398.3 802.3h0M491.5 691.8h0M515.7 778.4h0M492.9 725.2h0M458.6 790.1h0M498.2 715.5h0M489.2 697.9h0M377.8 699.6h0M395.7 791.4h0M505.9 751.2h0M507.1 767.4h0M391.6 735.8h0M502.8 798.4h0M521.1 770.4h0M382.6 760.3h0M347.2 665.9h0M407.4 788.2h0M524.7 701.9h0M461.6 776.6h0M574 718h0M415 787.5h0M504.6 778.9h0M402.7 771.4h0M387.4 742.2h0M470.1 743.5h0M483.6 709.5h0M425 717.5h0M405.5 739h0M511.2 732.9h0M458.9 787.8h0M505.2 773.1h0M483.6 703.6h0M496.8 798.3h0M382.4 710.8h0M412.4 731.9h0M332.6 631.4h0M402.4 639.9h0M383.9 650.3h0M318.9 653.6h0M399.7 650.9h0M597.8 630.1h0M558.5 628.9h0M498.4 654h0M528.6 659.6h0M559.3 656.3h0" stroke="#8b8b83" stroke-opacity="0.35" stroke-width="4.4" stroke-linecap="round"/>
<path d="M502.3 767.6h0M412 771.6h0M507.8 764.6h0M496.6 791.1h0M416 749h0M472.1 736.3h0M381.6 768.7h0M479.8 728h0M509 755.5h0M382.8 749.5h0M498.4 777.8h0M392.3 718h0M503.5 747.9h0M439.8 754.8h0M472.4 731.1h0M418.9 692.1h0M484.5 702.2h0M526.7 767.6h0M488.2 684h0M418.3 793.8h0M399.8 786.6h0M444.5 768.8h0M408.6 773h0M475.4 727.9h0M480.9 737.9h0M416.7 796.2h0M426.5 722.9h0M487.5 740.3h0M320.9 710.5h0M487.6 722.4h0M389.3 764.2h0M404.4 731h0M347.6 735.6h0M415.7 727.3h0M495 745.7h0M528.7 727h0M448.4 781h0M498.2 761.1h0M399.3 777h0M343.8 692.6h0M412 709h0M509.4 719.5h0M392 794.3h0M508 776.6h0M583.9 702.9h0M446.7 776.2h0M425.6 713.9h0M479.6 712.4h0M489.8 711.6h0M414.9 723.4h0M452.7 795.1h0M356.5 670.1h0M514.2 714.3h0M508.4 749.1h0M450 786h0M508.2 752.3h0M519.5 752.7h0M394.2 733.9h0M520.3 721.9h0M487.9 735.5h0M337.3 739.7h0M374 747.5h0M505.5 767.7h0M426.5 726.3h0M409.1 740.2h0M592.9 738.6h0M363.8 765h0M413 685.3h0M348.6 746.3h0M469.2 747.2h0M395.2 704h0M391.4 725.3h0M483.7 711.4h0M482.1 712.2h0M497.4 752.6h0M500.6 773.7h0M517.5 663.8h0M483.7 803.1h0M383.6 763.2h0M419.1 716.4h0M393.2 727h0M408.3 700.2h0M503.1 698.9h0M496.5 688.9h0M544 758.8h0M505.7 724.3h0M523 694.6h0M411.3 720.7h0M409.2 789.4h0M421.7 718.4h0M552.3 674.1h0M387.1 735.8h0M508.2 790.3h0M410.7 706.4h0M484.6 710.1h0M447.1 776.1h0M497.7 740.2h0M421.3 732.5h0M410.1 777h0M554.6 734.8h0M433.2 802.7h0M411.8 761.8h0M423.4 729.1h0M478.3 729.5h0M462.5 773.7h0M493 750.5h0M487.6 737.3h0M511.1 754.6h0M382.9 652h0M404.9 782.8h0M567.8 743.3h0M409.8 791h0M506.6 795.2h0M419.3 732.2h0M416.3 793.1h0M412.2 728.2h0M408.4 773h0M427 802.7h0M450.5 788.4h0M401.5 789.9h0M362.1 739.8h0M451.3 790.3h0M502.6 764.8h0M459.7 784.6h0M492.7 706.9h0M356.7 744.7h0M397.9 772.3h0M525.2 698.4h0M522.5 752.6h0M519.8 663.7h0M457.3 794.7h0M391.2 775.2h0M562.2 748.9h0M533.9 769.5h0M504.5 800.7h0M331.9 723.9h0M499.9 784.6h0M479 728.7h0M505.4 716.8h0M420.2 708.4h0M494.8 735.2h0M441 759h0M479.9 720.8h0M341.1 696.9h0M464.1 768.2h0M431.4 803h0M526.9 687h0M458.9 788.8h0M465.5 763.9h0M497.1 791.1h0M445.4 772.3h0M375.2 676.4h0M409.6 699.9h0M486.8 803h0M451 789.3h0M464.8 763.5h0M442.3 761.3h0M461.2 778h0M493.5 655h0M425.6 709.4h0M460.2 782.9h0M449.2 784.2h0M453 795.8h0M485.1 706.1h0M475.4 803h0M313.4 735.7h0M353.6 767.4h0M504.4 736.2h0M493.8 764.6h0M477.7 714.6h0M514.3 767.2h0M409.8 773.3h0M500.5 710.1h0M519.3 674.8h0M372.1 731.6h0M396.5 776.9h0M463.3 770.9h0M412.3 791.2h0M393 768.3h0M492.7 738.3h0M511.5 767.3h0M525.5 712.2h0M343.9 748.1h0M522.8 764.7h0M524.3 744.9h0M387.7 734.9h0M567.2 717.9h0M363.2 677.6h0M369.6 665.1h0M496.8 792.3h0M394.7 776.5h0M441.1 803.1h0M517.8 768.6h0M510.9 745.1h0M491.9 731.5h0M434.4 739.9h0M423.7 803h0M369.6 707.4h0M504.2 655.5h0M416.3 787.3h0M409.8 772.4h0M416.5 738.4h0M409.4 649.1h0M461.9 775.5h0M414.4 719.9h0M514.9 691.5h0M491.9 711.2h0M360.7 727.3h0M487.6 689.3h0M516.3 676.6h0M354.3 669h0M500.9 795.1h0M411.2 789.6h0M499.4 777.3h0M347.6 723.5h0M420.1 700.9h0M408.2 759.7h0M392.3 748.8h0M361.5 709.9h0M404.8 744.9h0M493.9 663.2h0M532.1 757.1h0M484.3 716.8h0M396.7 734.9h0M387.8 752h0M445.5 771.8h0M497.8 738.7h0M390.7 776.7h0M400.6 791.9h0M471 738.1h0M492.9 743.8h0M497.8 772.2h0M464.6 766.5h0M418.7 715.6h0M437.2 745.8h0M484.1 737.8h0M595.6 661.3h0M488.1 802.1h0M385 759.5h0M493.7 704.9h0M504.6 742.9h0M407.4 769h0M398.3 751.8h0M502.8 710.3h0M408.8 773.8h0M411.7 716.6h0M500 671.7h0M410.6 749.9h0M491.1 721.4h0M468.2 803.2h0M500.5 794.8h0M510.6 715.9h0M497.7 769.4h0M411 753.8h0M398.8 729.2h0M410.1 692.7h0M535.7 701.7h0M466.4 758.6h0M495.9 761.7h0M351.4 732.4h0M393.9 686.6h0M412.4 797.6h0M417.8 735.9h0M512.3 793.6h0M509.5 745.3h0M409.4 745.7h0M419 748.9h0M505.6 715.3h0M502.4 783.4h0M413.5 737.3h0M403 720.1h0M433.5 735.5h0M520.3 725.9h0M419.2 727.2h0M497.7 677.2h0M437.1 744.1h0M504.9 740h0M447.5 778.5h0M378.2 690.4h0M495.4 705.9h0M488.9 800.9h0M506.5 717.8h0M405.8 740.7h0M399.4 691h0M506.3 752h0M422.2 705.4h0M501.9 687.1h0M423.8 712.5h0M452.5 794.3h0M470.2 744.4h0M499.7 766.2h0M474.4 726h0M468.3 750.7h0M403.8 748.9h0M478.7 726.5h0M325.2 709.4h0M418.8 719.2h0M497.8 776.7h0M484.7 723.8h0M513.2 791.4h0M417.6 706.2h0M532.5 667.3h0M427.5 726.9h0M401.9 787.3h0M421.4 724.4h0M503.5 770.4h0M427.5 737.5h0M466.6 756.6h0M458.2 791.3h0M472.6 738.5h0M499 798.7h0M448.6 781.3h0M462 775h0M495.3 717.1h0M414 792.7h0M457.5 793.8h0M441.2 803.3h0M495.1 753.7h0M486.1 727.8h0M368.2 705h0M563.6 722.6h0M411.6 786.5h0M426.6 735.9h0M493.7 706.9h0M510.5 727.6h0M510.8 779.9h0M496.4 727.2h0M477.6 716.6h0M510 786.5h0M402.4 757.4h0M524.8 756.1h0M570.7 717.3h0M384 704.8h0M404.1 747.8h0M511.3 728.7h0M412.2 788.9h0M488.8 729.7h0M519.5 712.7h0M408.1 782h0M531.8 719.4h0M499.7 743.6h0M456.8 796.6h0M497.2 792h0M426.6 726.9h0M500.5 745.9h0M502.3 731h0M520.9 739h0M519.5 742.4h0M424.9 739.3h0M414.2 786.2h0M403.6 775.1h0M410.5 739.9h0M486.3 720.5h0M532.2 768.2h0M502.4 753.8h0M494.1 737.1h0M467.4 754h0M444.7 770.2h0M412.4 753.9h0M500.9 691.9h0M498.6 766.9h0M537.7 758.1h0M569.3 740h0M380 744.1h0M499 748.4h0M422.7 740.7h0M410.9 730.9h0M316.1 685.7h0M531.8 711.5h0M371.3 720.4h0M416.4 699.1h0M511.1 715.9h0M500 752.8h0M435.4 802.9h0M407.3 699.4h0M534.6 741.6h0M388.1 782.4h0M506.9 777.2h0M516.1 754.6h0M465.7 759.7h0M485.2 687.3h0M496.5 795.6h0M521.4 742.3h0M497.4 704.7h0M509.6 737.2h0M490.6 720.7h0M426.3 802h0M460.5 781.4h0M412.9 735.8h0M362.9 698.4h0M498.2 725.1h0M400.8 720.7h0M533.2 781.6h0M478.2 715.7h0M411.8 794.8h0M524.4 796.4h0M506.9 702.2h0M470.5 803.2h0M469.5 744.3h0M464 768.1h0M449.2 783.4h0M504.4 786.8h0M411.8 725.3h0M416.6 728.8h0M400.3 721.3h0M452.9 795.6h0M424.8 726.7h0M510 771.4h0M449 783.1h0M521.3 767.3h0M493.8 674.7h0M397.9 736.7h0M517.8 718h0M487.3 725.4h0M487.9 706.2h0M404.1 774.1h0M472.8 739.4h0M451.4 790.9h0M387.1 737.2h0M517.9 713.7h0M449.4 784h0M417.5 752.1h0M417.2 745.8h0M508.6 754.9h0M503.5 733h0M523 757h0M476.4 719.9h0M501.4 742.8h0M413.6 777.4h0M484.4 803.3h0M557.5 705.5h0M502.8 770.1h0M410.3 800.3h0M436.5 742.9h0M478.2 802.5h0M462.4 773.2h0M444.3 803.3h0M401.2 763.1h0M431.4 803.1h0M413.6 720.1h0M496.5 779.6h0M418.2 703.2h0M508.7 748.9h0M476.5 720.4h0M380.3 753.8h0M502.3 762h0M511.7 781.4h0M484.3 729.8h0M410.4 739.3h0M427.6 715.8h0M319.4 713.5h0M519 688.7h0M527.3 776.6h0M517.8 741.6h0M436.7 743.7h0M424.9 735.3h0M496.8 725.4h0M505.1 801.7h0M561.9 771.2h0M382.6 672.4h0M393.8 750.5h0M488.2 669h0M531.1 721h0M486.1 720.3h0M490.1 696.3h0M489.4 718.7h0M407.8 774.4h0M402.7 780.1h0M397.5 767.6h0M486.8 732.3h0M495.8 683.9h0M432 726.3h0M415.7 745h0M495.2 766h0M503.6 773.4h0M449.5 784.4h0M493.2 800.2h0M437.6 747.1h0M415 701.2h0M414.6 780h0M479.8 738.6h0M486.5 701.8h0M493.9 796.2h0M478.3 802.4h0M380.4 746.4h0M420.2 686.6h0M402.2 785.2h0M584.6 721.1h0M500.5 734.5h0M529.8 725.3h0M542.8 667.6h0M420.8 701.7h0M411.4 794.3h0M405.2 789.7h0M486 731.9h0M526.5 687.4h0M397.6 756.9h0M405.7 681.5h0M490.3 802.1h0M481 713.3h0M366.2 748.5h0M502.5 750.8h0M515.3 713.3h0M413.1 727h0M452.2 793.5h0M387 720h0M575.8 725h0M412.1 688.9h0M523.8 751.3h0M521.7 765.4h0M405.5 778.2h0M451.1 790.2h0M558.6 720.9h0M432.8 732.5h0M518.8 717.9h0M402.3 744h0M412.1 740.4h0M388.8 773.6h0M382.8 737.3h0M427.1 802.2h0M522.9 782.6h0M497.2 691.9h0M527.4 771.5h0M486.5 722.6h0M508.2 780.6h0M396.7 685.9h0M403.6 771.4h0M447.3 777.6h0M390.1 754.4h0M507.8 774.3h0M510 702.6h0M420.9 687h0M521.6 744.4h0M490.8 798.7h0M400.4 751h0M412.7 713.9h0M494.9 783.5h0M494.6 764h0M417.2 755h0M501.2 689.3h0M409.1 777.8h0M407.6 730.3h0M481.8 801.9h0M479.5 727.2h0M399.2 704.7h0M493.6 740.2h0M419.3 801.2h0M414.3 711.7h0M410 716.2h0M400.2 728.8h0M424 740.9h0M369 710h0M468.5 749.6h0M413.7 733.5h0M496.3 794.8h0M496.8 732.4h0M483.4 735.6h0M424.7 737.6h0M382.2 662.1h0M414.7 765.8h0M469.9 745.6h0M484.9 713.3h0M390.1 711.9h0M472.4 735.4h0M431.4 803h0M428.7 722h0M503.3 679.4h0M377.8 752.9h0M526.3 721.4h0M363.9 721.3h0M497 732.9h0M492.7 754.7h0M486.9 741.5h0M527.9 738.9h0M440.1 755.2h0M494.8 736.5h0M419.6 715.8h0M511.3 766.1h0M410 745.2h0M501.1 772.3h0M527.8 757h0M450.5 788h0M418.5 723.8h0M367.5 713.2h0M390.7 680h0M460.1 783.3h0M477.4 802.7h0M407.3 770.6h0M414.4 761.1h0M503.5 698.7h0M419.1 727.1h0M410.9 782.3h0M364.6 770h0M425.3 732.7h0M502.8 675.9h0M421 741h0M509.6 711.9h0M403.5 763.1h0M505.3 775.4h0M506 790.8h0M416.9 697.3h0M429.5 727.2h0M494.3 730.7h0M459.6 785.4h0M508.1 794.2h0M370.2 682.8h0M375.1 717.4h0M555.2 733.8h0M458 792.1h0M548.1 703h0M408.5 757.9h0M481.1 709.1h0M385 764.5h0M538.5 780.1h0M513.9 662.6h0M478.8 712.1h0M495.4 677.4h0M482.4 737.9h0M532.1 720.9h0M446 773h0M364.9 734.5h0M502.8 797.2h0M534.6 687.2h0M508.4 741.3h0M385.9 751.7h0M452.7 795.3h0M479.2 802.7h0M388.9 756h0M465.7 759.1h0M486.4 712.8h0M417.2 693.6h0M400.8 758.3h0M481.9 724.5h0M352.1 734.6h0M481.5 707.6h0M513.9 790.8h0M352.8 695.8h0M492.8 801.9h0M426 711.6h0M383.2 741.9h0M527.3 740.5h0M520.7 773.7h0M501.6 776.1h0M418.7 738.2h0M323.7 602.1h0M337.6 604.8h0M358.4 637.6h0M581.6 627h0M597.4 624.5h0M534.8 636h0M524 643.8h0M535.2 648.6h0M571.2 644.9h0M505.9 657.6h0" stroke="#8b8b83" stroke-opacity="0.35" stroke-width="4.4" stroke-linecap="round"/>
<path d="M463.5 769h0M506.7 770.2h0M472.6 803h0M415.9 795h0M426.4 735.9h0M405.4 767.1h0M522.8 781.4h0M527.4 764.9h0M392.4 756.2h0M470 743.8h0M386.1 744.3h0M504 669.2h0M399.5 752.9h0M461.7 776.5h0M416.9 798.8h0M401.8 721.3h0M471 740.8h0M396.6 749.1h0M527.1 708.1h0M493.7 754.6h0M499 666.6h0M326.7 677.1h0M406.9 782.9h0M417.1 721h0M547.2 752.5h0M405.5 752.5h0M462.2 775.1h0M484.4 691.1h0M395 782.9h0M409.2 798.7h0M414.8 737.3h0M526.2 715.3h0M402.2 695.6h0M512.8 794h0M451 789.3h0M406.1 744.3h0M417.4 749.6h0M407.6 673.7h0M444.2 766.7h0M388.9 692.5h0M499.4 747.4h0M478.4 712.6h0M421.4 710.1h0M509.9 695.5h0M317.7 714.7h0M544.6 719h0M362.5 704.4h0M394 765.8h0M396.3 724.4h0M526.6 743h0M508.4 763.3h0M505.6 792.7h0M337.2 745.6h0M395.7 794.1h0M533.4 684.1h0M425.1 733h0M482.2 706.8h0M496.7 781.5h0M551.6 701.2h0M371.4 781.1h0M464.8 764.7h0M497.2 761.8h0M403.6 777.7h0M516.4 790.3h0M445.7 773.3h0M495.6 674.8h0M382.1 746.8h0M492.2 746.8h0M491.3 797.4h0M518.1 711.8h0M508.9 756.2h0M529.6 739.8h0M499 787.8h0M515.8 747.8h0M459.3 786.9h0M418.1 735h0M468.5 803.2h0M488.4 707.8h0M447.6 779.2h0M486.3 708.7h0M416.2 789.2h0M511.3 755.9h0M511.2 717.5h0M526.2 686.5h0M401.4 778.7h0M339.9 749.5h0M411.9 721.3h0M413.8 794.5h0M432.2 730.4h0M500.4 726.8h0M497.3 716.9h0M398.4 724.7h0M412.6 786.4h0M397.9 782.7h0M508.6 760h0M370.7 710.6h0M340.5 718.9h0M416.3 748.3h0M391.9 649.2h0M491.7 710.6h0M401.3 730h0M392.5 778.1h0M529.3 707.2h0M501.2 770.3h0M404.5 788.8h0M501.3 791.8h0M394.5 760.6h0M397.9 732.9h0M372.2 750.2h0M440.6 803.2h0M522.7 709.4h0M424.9 707.6h0M517.3 722.2h0M399.9 782.6h0M439.2 803.2h0M520 782.5h0M441.5 759.6h0M373.2 744h0M487.9 728.8h0M458.9 788.6h0M343.7 715.9h0M367.5 733.7h0M481.9 690.2h0M527 701.7h0M497.3 777.1h0M503.7 762.3h0M423 723.2h0M408.8 730.7h0M461.3 778.3h0M463.1 771.9h0M385.8 747.9h0M413.2 780.4h0M411.1 784.8h0M403.1 760.2h0M562.5 713.9h0M486 714.7h0M400.8 784.4h0M401.4 772.6h0M475.9 723.5h0M401.1 763.8h0M426.8 723.9h0M508.4 701.5h0M493.9 676.9h0M520.8 771.7h0M425.7 732.2h0M487.2 692.4h0M389.7 695.3h0M361.7 765.4h0M352 722.2h0M412.7 798.5h0M501.1 768.1h0M406.2 755.5h0M423 719.1h0M548 775.1h0M499.2 754.2h0M457.4 794.7h0M408.7 723.1h0M580.3 764h0M513.5 732.5h0M520.7 769.9h0M495.4 719.2h0M414.6 691.9h0M416.3 786.7h0M416.4 750h0M485.9 732.9h0M449.9 785.5h0M377.9 684.5h0M528.7 736.6h0M441.8 760.3h0M411.3 741.7h0M487.7 803h0M521.7 710.6h0M409.5 671.5h0M409.7 727.7h0M415.7 794.6h0M474.6 729.1h0M533.4 751.3h0M500.7 729.5h0M523.2 768.8h0M488.7 730.6h0M535.1 775.9h0M480.3 802.6h0M442.7 763.5h0M494.2 726.2h0M480.8 712.7h0M409.8 741.1h0M540.9 700.7h0M496.1 739.5h0M436 803.1h0M437.6 802.9h0M416.5 803h0M499.7 724.9h0M493.2 676.3h0M374.4 705.1h0M487.4 723.4h0M492.3 741.7h0M411.8 777.5h0M483.3 724.4h0M490.5 676.7h0M504.5 770.3h0M479.4 711.9h0M403.3 738.6h0M416.4 722.3h0M450.9 789.2h0M581.8 747.3h0M466.9 756.3h0M518 738.2h0M517.8 712.9h0M465.3 764.9h0M511.4 773.5h0M464.7 765.6h0M387 762.2h0M356.9 642.5h0M411.4 792.6h0M485 690.3h0M502.3 776.9h0M496.7 736.5h0M494.1 674.3h0M472.7 731.3h0M515.4 779.8h0M430.6 802.2h0M530.7 768.1h0M533.3 771.4h0M538.3 732.5h0M502.6 708.6h0M418.5 717.1h0M526 789.8h0M525 777.4h0M497.8 720.5h0M536.1 801.2h0M497.2 725.8h0M415.4 789h0M406.4 757h0M494.5 751.4h0M496.1 757.5h0M371.8 756.9h0M479.3 711.9h0M524.7 775.9h0M550.1 709.2h0M507.8 766.2h0M466.3 757.8h0M515.7 789.3h0M509.8 770.2h0M423.4 711h0M472.7 803h0M422.3 713.7h0M424.6 802.7h0M442.1 759.7h0M526.5 683.1h0M437.4 744.7h0M382.1 714.5h0M565.7 685.6h0M340.8 756h0M417.7 692.4h0M500.1 715.7h0M487 666.3h0M525.4 720.7h0M450 786.3h0M507.7 763.3h0M385.5 711.8h0M399.9 741h0M413.1 758.2h0M528.7 771.2h0M395.2 737.5h0M436.8 745.8h0M557.9 774.2h0M421 724.5h0M398.3 763.6h0M491.8 732.1h0M422.4 739.2h0M408.5 714.3h0M378.5 738.8h0M494 732.4h0M372.8 722.1h0M510.3 762.3h0M397.8 757.2h0M355.2 648.7h0M499.2 767.2h0M501.1 723.9h0M442.3 760.6h0M487.7 708.7h0M411.2 724.7h0M509.1 745h0M354.1 707.9h0M517.9 695.3h0M444.6 803.1h0M586.5 716.7h0M409.6 768.5h0M412.1 754.9h0M435.8 742.4h0M411.2 667.3h0M460.7 781h0M496.4 718.5h0M425.1 727.2h0M497.1 728.4h0M400.2 704.6h0M393.3 701.3h0M477.5 717.5h0M408.1 766.6h0M451 789.5h0M482.9 706.6h0M393.7 757h0M379.9 762.6h0M511.6 792.5h0M410.5 761.9h0M411.3 688.6h0M480.7 802.6h0M589.4 674.4h0M421.1 724.2h0M400.1 702.8h0M517.4 739.8h0M480.7 730.7h0M388.5 692.3h0M388.9 763.4h0M439.1 751.3h0M390.7 692.2h0M362.7 720.5h0M429.7 725.7h0M510.4 786.9h0M399.3 765.5h0M403.5 773.2h0M495.5 719.5h0M482.4 705.7h0M419.9 801h0M343.6 669.9h0M407.2 800.1h0M503.7 758.9h0M397.6 698.2h0M506.3 765.1h0M448.7 781.7h0M501.4 761h0M500.1 743.8h0M391.3 723.8h0M525.9 723h0M400.5 787.4h0M406.6 708.3h0M532 727.2h0M464.2 767.6h0M387.4 738.1h0M529 742.8h0M404.6 743.2h0M538.4 732.4h0M549.2 765.2h0M560.5 704.9h0M411.5 741.3h0M399.3 719.3h0M496.6 787.7h0M451.4 791.3h0M416.4 719.4h0M401.1 793.2h0M390.9 795.6h0M371.5 723.2h0M495.5 736.5h0M479.2 708.3h0M508.3 749h0M490.1 748.3h0M402.9 781.6h0M477.1 727.8h0M446.4 774.5h0M419.3 709.8h0M493.7 695.1h0M408 799.4h0M415 793.8h0M440 754.6h0M496.8 749.2h0M479.7 737.3h0M465.3 764.1h0M357.4 719.6h0M409.1 766.6h0M402.5 724h0M389.2 742.7h0M400.6 697.2h0M424.2 715.3h0M415.5 728.2h0M514.7 680.8h0M537.9 687.7h0M417.7 694.2h0M407.8 770.3h0M494.3 721h0M418.5 754.8h0M535.7 713.2h0M579.5 705.4h0M434.4 739.4h0M508.3 680.6h0M484.7 737.7h0M409.9 725.5h0M342.9 740.7h0M496.2 685.6h0M408.1 799.8h0M558.9 750.2h0M516.8 764.9h0M576.7 705h0M417.1 787.7h0M505.3 731h0M498.3 697h0M496.5 766.5h0M461 779.6h0M470.6 743.2h0M413.2 785.9h0M415 664.6h0M354.4 692.8h0M390.6 751.4h0M386.6 727.6h0M442.5 761.8h0M489.6 721.2h0M480.2 729.5h0M405.9 688.8h0M482.4 722.4h0M389.4 786.2h0M380.9 738.4h0M479.8 729.9h0M488.9 801.3h0M472.4 735.6h0M418.5 754.2h0M503.5 762.6h0M414.6 652.9h0M498.3 801.1h0M408.4 751.3h0M483.9 725.9h0M507.7 701.9h0M497.3 796.3h0M417.3 744.3h0M421.9 739.7h0M423.5 715.1h0M413.1 749.5h0M522.6 714.4h0M522.6 699h0M511.7 750.5h0M498.2 786.1h0M451.1 790.3h0M422.8 730.8h0M366.9 677h0M516.8 787.3h0M429.1 724.3h0M451.5 791h0M403 780.1h0M413.4 802.9h0M378.7 735.9h0M423 802h0M409 713.8h0M500.7 684.2h0M496.5 733.3h0M466.5 758h0M428.4 719h0M358.5 727h0M416.3 788.1h0M399.2 748.5h0M402.2 757h0M537.9 763.1h0M410.9 777.5h0M368.5 754.8h0M468.4 751.4h0M496.6 765.4h0M373.5 740.9h0M419.7 687.5h0M374 745.6h0M380.8 752.5h0M530.1 782.2h0M447.4 778.8h0M498 651.5h0M519.5 748.5h0M494.3 663.4h0M412.3 781.2h0M501.8 773.4h0M514.1 716.7h0M491.1 725.4h0M364.4 683.7h0M345.6 737.4h0M399.3 744.9h0M391.4 774h0M493.3 663.3h0M543.7 776.7h0M435.8 739.9h0M411.5 674.4h0M406.9 725.2h0M414.8 750.5h0M518.3 698.3h0M422.6 741.1h0M395.2 768.9h0M412.4 798.3h0M500.4 791.4h0M390.7 691.8h0M503.8 762.5h0M479.2 721.2h0M446.8 776h0M433.3 732.1h0M415.4 798.9h0M523.4 762.4h0M419.2 753.1h0M336.5 722.9h0M366.4 736.3h0M416.8 713h0M535.3 745h0M498.8 735.4h0M519.9 717h0M364 772.7h0M400.6 793.1h0M415.8 753.7h0M403.7 752h0M499.6 771.8h0M447 776.1h0M418.3 753.2h0M405.9 731h0M369.7 713.2h0M416.5 732.4h0M507.6 734.2h0M411.6 752.4h0M498 749.1h0M577.1 747.4h0M491.6 727.4h0M382.9 678.3h0M463.9 768.4h0M477.2 714.7h0M503.4 790.6h0M389.1 703.5h0M441 803.2h0M495.7 793.1h0M469.7 746.4h0M522.1 740.8h0M405.5 761.3h0M495.8 801.1h0M457.5 794h0M504.8 710.7h0M450.4 787.3h0M512.8 741.8h0M514.3 733.4h0M430.2 720.5h0M384.4 717.8h0M358.7 762.4h0M471.7 803.1h0M489.1 711.8h0M500 753.8h0M516.7 756.3h0M397.9 759.1h0M424.8 716.4h0M390.5 765.8h0M406.4 741.4h0M419 725.3h0M415.4 701.8h0M535.2 723.2h0M418.9 756h0M405.2 738.8h0M407.9 703.4h0M405.7 738.3h0M444.4 768.1h0M529.2 771.9h0M495.1 743.6h0M464.4 766.7h0M472.5 734.4h0M498 795.7h0M407.3 747.7h0M423.2 709.7h0M398.8 742.5h0M442.6 761.6h0M457.8 792.7h0M449.6 785.1h0M405.8 679.5h0M446.8 775.6h0M399.6 743.9h0M477.2 802.8h0M406.1 701.1h0M503.6 772.7h0M422 704.2h0M412.6 753h0M495.1 749.2h0M488.7 668.6h0M464.2 766.7h0M500.4 795.2h0M498.3 715.2h0M495.5 746.5h0M413.7 790.9h0M511.9 778.6h0M537.2 791.3h0M512 760.1h0M476.1 721.3h0M421.2 720.5h0M420.3 690.1h0M425 728.8h0M399.4 737.7h0M422.8 741.4h0M413.6 712.4h0M399.7 751.5h0M522.3 785.2h0M411.4 698h0M535.5 665.3h0M428.1 724.6h0M491.8 749.6h0M489 705.3h0M442 759.8h0M516.6 771.2h0M460.4 782.8h0M420.5 799.9h0M515.2 751.9h0M457.8 792.7h0M377.9 707h0M548 727.6h0M471.4 739.6h0M422.1 731.6h0M545.1 725.9h0M504 737.4h0M408.6 781.9h0M500.2 717.6h0M538.3 715.1h0M496.5 765.5h0M471.3 737.7h0M402.4 731.8h0M503.7 798.3h0M415.5 756.2h0M346.8 690.1h0M507.2 774.8h0M407.4 743.8h0M377.4 714.3h0M482.7 692.7h0M462.6 772.2h0M408.2 753.8h0M424 714.8h0M439 752.1h0M519.3 786.9h0M484.8 723.5h0M484.4 723.3h0M496.5 758.6h0M404.3 744.7h0M411 714.3h0M519.8 755.7h0M412.1 706.4h0M483.4 723.2h0M420.1 730.6h0M420 730.4h0M396.9 745.9h0M414.5 697.4h0M415 798.5h0M397.7 751h0M513 775.9h0M407.7 700.9h0M485.4 691.6h0M431.6 727.9h0M382.2 724.3h0M381.4 729.3h0M503.5 761.6h0M398 774.5h0M410.5 757.9h0M489.2 688.7h0M516.4 748.8h0M504.4 747.1h0M478.6 706.3h0M596.8 679h0M393.1 770.9h0M500.9 726.2h0M481.3 699.9h0M431.5 803h0M516.1 772.9h0M443.2 764.8h0M506.5 748.2h0M332.8 703.4h0M359.2 603.3h0M366.3 605.6h0M331.8 625.6h0M338.2 629.1h0M413 648.2h0M342.2 657.8h0M402.9 652h0M582 621.8h0M537.3 634.9h0M542.5 642.4h0M525 648.4h0M579.5 641.4h0M523.4 656.7h0M590.9 655.1h0" stroke="#8b8b83" stroke-opacity="0.35" stroke-width="4.4" stroke-linecap="round"/>
<path d="M504.1 705.5h0M496.1 757.3h0M436.4 803h0M486.2 731.3h0M484.1 730.8h0M417.8 736.4h0M500.8 795.7h0M411.2 749.2h0M500.8 782.7h0M417.1 712.3h0M421.6 801.6h0M477.2 716h0M507.9 738.5h0M401 768h0M548.7 751.5h0M491.1 739.8h0M490.5 736.3h0M399.1 680.1h0M363.2 755.4h0M462.5 774h0M516.1 747.8h0M493.7 755.8h0M408 699.8h0M395.8 780.3h0M526.5 736.9h0M501.1 739.1h0M339.1 687.9h0M509.8 757.6h0M473.7 734h0M398 739.5h0M416.9 707.2h0M496.9 746h0M379.3 694.6h0M497.2 763.1h0M418.9 727.3h0M485.1 697h0M502.4 753h0M508.5 745.6h0M400.3 749.7h0M536.7 687.4h0M462.3 773.6h0M377.2 743.4h0M503.4 753.3h0M500.8 778.4h0M393.4 777.1h0M372.4 748.2h0M401.6 709h0M412.1 758.2h0M581.6 730h0M411.7 780.6h0M445.4 772h0M490.6 728.9h0M377.3 735.4h0M481.3 727.1h0M391 733.8h0M408.5 742.3h0M508.5 768.4h0M448.5 781.3h0M517.6 753.9h0M528.5 737.8h0M501.1 788.5h0M416.5 746.2h0M499.8 733.3h0M476.1 803.1h0M506 669.9h0M487.4 655.3h0M520.3 692.1h0M495.9 781.6h0M418.5 722.5h0M497.2 731.9h0M507.6 741.8h0M501.3 711.3h0M393.8 750.5h0M509.6 762.7h0M481.8 704.9h0M428.4 802h0M385.5 712.1h0M497.7 708.3h0M494.3 740.7h0M494.5 707.5h0M390.6 784.3h0M494.2 786.8h0M480.4 716.3h0M409.5 681.6h0M401.6 721.7h0M407.2 727.9h0M464.8 765.9h0M511.1 743.2h0M495.1 648.2h0M509.3 713h0M505.6 787.8h0M363.9 645.7h0M410.5 787.1h0M495.3 801.2h0M551.2 677.2h0M419.9 744h0M409.7 688.3h0M498 733.4h0M452.4 794.3h0M552 713.9h0M492.6 715.6h0M368.3 696.2h0M383.6 768.7h0M411.5 697.8h0M399.4 766.9h0M506.1 755.7h0M375.8 726.2h0M414 733.1h0M490.5 729.6h0M489.1 728.9h0M486.6 734.5h0M535.8 736.3h0M404.5 758.7h0M486.4 713.6h0M426.7 717.7h0M413.6 701.2h0M411.6 696.7h0M406.6 702.5h0M364.5 717.5h0M423.1 738.3h0M414.8 703.7h0M468.7 748.6h0M417 731.2h0M552.5 669.3h0M352.5 720.6h0M485.4 697.7h0M522.1 767.2h0M430.4 727.1h0M408.3 767h0M415.6 727h0M468.3 749.9h0M489.1 718.2h0M500.8 654.7h0M388.6 761.2h0M443.2 763.8h0M510.7 771.7h0M517.7 739.5h0M401.1 735.6h0M445.7 771.8h0M404.4 755.8h0M514.2 681.3h0M414.6 738h0M417.1 800.6h0M410 744.3h0M381.8 727h0M492.3 799.1h0M496 722.2h0M407.4 787.1h0M476.6 713.3h0M407.1 773.2h0M415 660.3h0M452.7 795.2h0M420.1 730.6h0M400 747.8h0M393.4 779.7h0M392.6 777.4h0M498.7 761.6h0M416.4 743h0M422.1 735.1h0M333.8 717.7h0M490.2 739.5h0M410.5 762.3h0M490.6 735.8h0M474 724.5h0M416.9 733.3h0M419.3 700.9h0M394.4 698.7h0M503.5 716.9h0M433.6 734.6h0M425.6 730.1h0M527.6 743.6h0M527.5 769.5h0M512.7 773.8h0M400.5 767.3h0M411.6 710h0M424.4 709.9h0M434.4 734.1h0M519.2 721.5h0M388.6 697.5h0M381.1 743h0M332.8 709.2h0M418.5 800.8h0M421.2 744.1h0M387.2 704.8h0M486 726.3h0M420.3 701.3h0M416.4 798.3h0M488 722.8h0M496.3 762.2h0M425.3 741h0M488.8 737.8h0M380.6 764h0M392.7 708.1h0M411.4 726.2h0M516.9 775.8h0M512.2 709.7h0M431.3 730.4h0M505.6 767.8h0M409.5 721.5h0M509.7 762.6h0M488.5 701.8h0M541.5 696.8h0M509.6 780.3h0M407.6 775.1h0M514.2 748.1h0M447.8 779.6h0M514.7 782.8h0M466.6 757.8h0M492.3 654.6h0M430.4 729h0M506.5 751h0M501.1 757.7h0M485.1 802.6h0M518.8 695.9h0M500.3 787.5h0M450.5 787.5h0M406.2 792.7h0M401.7 749.6h0M408.3 762.6h0M515.2 761.8h0M410.5 764.8h0M501.7 742.6h0M382.3 768.2h0M420.7 715.6h0M415.9 735.9h0M495.6 644h0M401 753.1h0M340.7 681.4h0M394.6 720.7h0M412.9 710.5h0M409.9 712.5h0M525 737.5h0M418.1 711h0M452.3 793.4h0M401.4 779.5h0M476.1 803.1h0M345 736.3h0M377.7 715.2h0M404.9 763.8h0M504.4 766.2h0M515.9 708.3h0M541.1 740.2h0M512.2 735.8h0M359.4 726h0M498.4 749.3h0M497.5 750.7h0M525.4 772h0M478.4 706.7h0M387.3 716h0M499.6 738.5h0M408.2 713.9h0M515.7 768.1h0M494.2 736.7h0M505.7 684.8h0M548.2 754.7h0M442.6 761.7h0M411.2 756.6h0M406.5 750.3h0M386 750h0M398.8 742h0M511.9 780.9h0M397.7 727.4h0M493.1 803.3h0M417.8 744h0M486.7 718.1h0M556.7 669h0M498.7 737.8h0M385.3 715.2h0M392.4 774.3h0M501.2 759.9h0M378.6 727h0M485.6 731.2h0M418.4 728.1h0M534.6 707.6h0M488.1 718.2h0M511.5 793.5h0M501.4 712.8h0M418.4 801h0M495.4 709.9h0M523.7 716.5h0M424.4 718.1h0M447.8 778.5h0M364.6 672.5h0M527.7 745.6h0M407.4 775.7h0M497.1 789.6h0M507.7 705.1h0M395.7 710.3h0M531.3 725.7h0M537.9 770.6h0M498.3 697.8h0M500.2 761.9h0M511.4 788.9h0M482.9 692.7h0M421.8 690.7h0M393.5 731.6h0M517.9 664h0M479.7 737.4h0M452.7 795h0M433 737.2h0M405.7 712.8h0M473.9 727.1h0M502.9 757.2h0M400.9 759.7h0M500.4 738.9h0M529.9 744.7h0M475.3 720.9h0M397.6 781.1h0M474.3 723.9h0M502.5 749.4h0M479.1 717.2h0M513 701.2h0M483.7 707.5h0M477.7 712.3h0M435.5 741.6h0M414 719.3h0M564.7 729.9h0M473.1 731.1h0M395.9 771.9h0M414.3 779.8h0M413.8 783.5h0M494 706.2h0M446.1 773.3h0M435.1 739.9h0M503.6 777.2h0M479.2 703.5h0M445.4 771.3h0M443.2 803.3h0M448.8 782.2h0M515.9 793.1h0M517 743.8h0M397.8 704.7h0M499.9 777.7h0M401.7 705h0M450.9 789.1h0M420.5 740.2h0M421.2 709.1h0M495 740.6h0M423.9 724.8h0M491.4 748h0M418.9 710.5h0M460.7 781.1h0M362.8 666.6h0M419.5 749.5h0M407.3 734.8h0M490.1 724.4h0M482.9 734.6h0M375.5 719.7h0M408.1 777.1h0M489.4 707.5h0M482 721.7h0M500.8 776.3h0M484.5 802.9h0M404.2 777.8h0M493 798.4h0M428.9 724.5h0M518.6 746.7h0M512.1 685h0M536.9 736.1h0M473.1 731.1h0M418.2 752.9h0M410.3 762h0M534.3 737.6h0M460 784.1h0M467.8 754.8h0M504.8 712.7h0M535.1 755.2h0M396.9 786.4h0M390.7 769.9h0M498.2 699h0M413.2 785.7h0M488.5 737.7h0M412.1 731.4h0M498.5 771.6h0M499.5 751h0M394.8 708.1h0M400.5 715.3h0M419.6 703.5h0M443.8 765.9h0M419.1 756.3h0M518.8 772.4h0M489.8 721.3h0M493.1 712.7h0M411.3 689.3h0M410.1 772h0M491.6 798h0M422 698.7h0M511.5 699.8h0M480.9 720.8h0M576.7 735.7h0M531.7 698.1h0M368.4 744h0M508.9 712.3h0M448.4 781h0M391.4 772.8h0M410.8 753.6h0M403 770.6h0M501 683.2h0M527.3 759.7h0M458.4 790.4h0M415.8 658.4h0M463.5 770h0M528.8 772.8h0M408.7 755.5h0M426.3 729.7h0M404 754.5h0M322.7 688.2h0M516.2 741.8h0M320.2 716h0M403.8 735.3h0M375.4 714.5h0M369.5 694.2h0M506.4 784.8h0M495.2 786.9h0M498.1 736.6h0M423.1 802.1h0M440 753.8h0M552.9 743h0M488.3 732.3h0M535 724.2h0M504.4 725h0M443.9 766h0M498.6 723.1h0M408.6 769.7h0M521.2 712h0M499.4 732.3h0M484.6 687.2h0M394.9 652.2h0M363.2 738.7h0M410.5 716.2h0M413.8 716.6h0M432.8 731h0M414.3 796.1h0M502.5 768.8h0M520.4 737.1h0M562.5 694.4h0M440.2 756h0M506.4 676.2h0M460.6 781.3h0M504.9 738.6h0M500.6 764.2h0M413.6 737.6h0M438.2 747.7h0M407.2 734h0M485.1 737h0M496.6 757.5h0M515.1 726.1h0M513.8 744.1h0M407.8 754.4h0M348.7 721h0M476.9 803.3h0M510.3 758.3h0M562 747h0M450.7 788.9h0M433.4 731.5h0M527.9 717.4h0M392.1 778.5h0M486.6 706.2h0M497.3 703.3h0M462.4 772.9h0M408.1 735.4h0M381.2 662h0M542.8 702.6h0M411.8 761.2h0M412 733.8h0M414.4 735h0M383.3 754.6h0M480.5 712h0M387.2 720.5h0M512.4 791.1h0M430.4 722.4h0M500.5 705h0M511.3 718.4h0M397.2 754h0M379.8 778.5h0M411.6 696.2h0M411 719.9h0M387.3 762.7h0M465.1 761.8h0M413.6 790h0M450.5 787.7h0M415 728.9h0M415.4 698.1h0M459 787.8h0M536.3 707.8h0M419.9 708.8h0M419.7 803.1h0M475.7 717.9h0M530 752.4h0M590.4 656.7h0M597 756.6h0M534 722.5h0M502.1 762h0M393.2 696h0M420.3 719.5h0M361.2 756.4h0M430.3 723.1h0M480.4 701.1h0M428.5 803.1h0M511.5 794.3h0M443.2 765h0M477.3 803h0M420.5 716.8h0M451.2 790.4h0M413.7 700.5h0M416.2 720.3h0M488.9 728.7h0M407.7 795.3h0M515 726.4h0M380 682.3h0M495.5 783.5h0M491.9 690.5h0M505.1 737.3h0M427.4 725.4h0M440.7 755.2h0M402.9 649.8h0M505.4 737.4h0M519.1 760h0M412.9 743.5h0M593.8 721.1h0M400.8 700.9h0M409.1 789.7h0M384.7 771.6h0M488.6 684.1h0M407 760.5h0M486.7 723.7h0M365.2 747.1h0M420.4 739.3h0M365.9 699.8h0M496.6 753h0M505 737h0M419.4 707.4h0M529.1 724.6h0M560.6 726.9h0M448.3 780.1h0M492.1 668.6h0M408 766.3h0M445.8 772.3h0M513.2 723.7h0M444.8 770.2h0M514.2 685.7h0M446.9 776.9h0M500.7 793.9h0M543.2 728.1h0M478.7 711.9h0M507 702.9h0M490.7 710.6h0M400.2 720.3h0M330 710.4h0M492.7 723.2h0M499.2 755.4h0M500.3 788.7h0M488.4 684.4h0M410.3 780.6h0M522.6 669.2h0M478.5 712.1h0M442.5 761h0M443.9 766.7h0M418.5 725.4h0M420.6 744.2h0M474.8 721.6h0M404.7 781.5h0M377.8 742.4h0M509 729.3h0M410 734.4h0M450.2 787.3h0M326.4 756.7h0M413.4 726.5h0M415.2 756.8h0M399.7 746.4h0M466.4 757.5h0M551.2 695.2h0M418.6 744.4h0M426.2 717.7h0M559.7 747.9h0M324.7 727.4h0M417.5 685.1h0M402.9 776.4h0M560.5 751.6h0M445 770.6h0M368.1 644.9h0M500.9 732.9h0M490.1 799.8h0M548.6 716h0M414.8 727h0M474.2 803.3h0M488.5 739.7h0M478.7 711.1h0M450.5 788.2h0M504.3 694.4h0M497.2 767.3h0M400 776.3h0M508.4 754.9h0M359.8 751.4h0M523.7 723.7h0M502.5 692.6h0M410.7 725.4h0M474.8 724.6h0M514.8 762.8h0M422.1 736.5h0M468.1 753.8h0M458.1 792.1h0M532 786.5h0M498.8 694.9h0M393.2 710.9h0M504.1 770.7h0M505.7 787.3h0M452.1 793.2h0M427.3 801.7h0M470.3 740.5h0M507.9 774.7h0M568.9 724.4h0M477 714.8h0M588 697.2h0M444.6 768.4h0M488 700.9h0M492.1 680.2h0M419.6 752.2h0M421.5 734h0M529.9 747.6h0M499 717.9h0M462.8 772.6h0M501 752.5h0M383.1 749.5h0M394.6 772.9h0M501.8 698.7h0M556.3 647h0M539.2 732.4h0M482.2 723.2h0M451.5 791.2h0M387.4 739.7h0M525.9 755.5h0M525.3 703.7h0M497.9 774.6h0M506 798.5h0M493.6 745.2h0M353.4 757.9h0M531.1 742.4h0M402.5 718.8h0M495.5 762.3h0M405.7 704.2h0M487.1 698.4h0M413.5 748.6h0M485.7 718.8h0M388.2 687.4h0M390.3 795.5h0M487.3 802.6h0M499.1 781.8h0M459 787.8h0M493 764.5h0M440.8 757.4h0M404.1 759.3h0M412.7 750.6h0M486.5 672h0M499.6 661.2h0M397.7 630.5h0M574.3 646.1h0M492.2 647.2h0" stroke="#8b8b83" stroke-opacity="0.35" stroke-width="4.4" stroke-linecap="round"/>
<path d="M410.2 721.2h0M513.9 774.9h0M497.6 746.6h0M510.1 765.9h0M426.5 709.5h0M484.8 709.4h0M521.6 747.2h0M413.7 700.2h0M485.2 803.2h0M421.5 727.4h0M383.1 673.3h0M381.1 691.2h0M407.6 769.1h0M526.9 735.2h0M522.4 745.5h0M549.5 766.2h0M407.7 722.5h0M440.3 756.3h0M412.7 758.2h0M497.1 726.8h0M509.3 705.9h0M503.2 782.1h0M403.5 736h0M440.9 803.2h0M400.1 746h0M498.5 760.4h0M393.5 731.4h0M479.7 708h0M395.5 746.9h0M510.9 723.6h0M414.5 762.8h0M497.9 791.6h0M443 803.2h0M411.3 770.4h0M417.9 694.5h0M370.4 743.2h0M434.1 735.9h0M423.4 727.8h0M360.8 670.2h0M493.9 745.3h0M500.5 766.7h0M408.3 779.2h0M498.7 728.6h0M511.9 738.7h0M489.2 719.9h0M412.5 745.5h0M502.5 725h0M392 741.3h0M386.5 694h0M385.1 733.3h0M406.5 758.5h0M444.2 803.2h0M525.4 739.7h0M550.7 686.2h0M390 743.7h0M483.6 703.2h0M508.1 781.4h0M452.2 793.6h0M420.5 725.6h0M497.4 771.1h0M486.2 741.1h0M431.1 723.9h0M439.2 750.6h0M403.7 785.5h0M503.8 780.4h0M506.7 738.9h0M499.7 669.1h0M416.2 764.1h0M468.4 748.1h0M459.1 787.3h0M500.6 766.6h0M384.8 749.2h0M504.6 756.5h0M461.8 776.2h0M484.2 735.5h0M413.5 799.4h0M503.9 776.8h0M383.3 753.3h0M477 720h0M494.9 745.9h0M502 798.6h0M457.1 796h0M496.4 658.5h0M355.6 723.1h0M564 692.1h0M391.9 761.2h0M501.1 748.3h0M484.8 676.9h0M399.2 700.8h0M544.2 714.4h0M439.8 752.9h0M469.7 803.1h0M456.9 796.4h0M501.7 788.3h0M464.7 764.5h0M419.9 793.4h0M417.4 718.4h0M447.7 779.5h0M512.3 731.5h0M420.6 719.5h0M411.5 723.8h0M441.8 803.2h0M514.7 730.8h0M538.9 767.4h0M497.8 756.8h0M498.9 699.9h0M414.5 787.3h0M458.2 791.2h0M409.2 694.1h0M490.6 688.5h0M415.4 734.8h0M498.5 660.9h0M404.5 669.1h0M403.9 701.8h0M527.7 791.7h0M464.9 764.6h0M438 803.2h0M485.1 717.4h0M546.2 741.2h0M479.1 720.5h0M469.6 742.9h0M396 794.7h0M510.1 732.6h0M530.9 715.2h0M457.3 794.8h0M515.8 747.2h0M404 751.3h0M465.9 759.5h0M509.1 768.7h0M447.2 777h0M478.8 715.2h0M498 792.5h0M400.7 789.8h0M480 703h0M457.6 793.6h0M376.9 715.4h0M490.8 730.5h0M397.2 708.8h0M326.3 694h0M377.9 705.6h0M495 715.7h0M350.2 771.7h0M366.7 683.2h0M497 796h0M347.7 695.6h0M484 734.8h0M507.8 780.3h0M519.8 736.1h0M416.1 718h0M391.1 795.3h0M384.3 738.3h0M559.8 726.1h0M499.7 763.2h0M505.9 784.9h0M424.6 716h0M477.3 802.7h0M440.8 756.4h0M491.8 671.1h0M497.9 715.7h0M494.5 727.9h0M495.2 786.6h0M461 780.2h0M413.6 763.1h0M492.2 685.9h0M583 710.8h0M457.8 792.7h0M372.8 662.7h0M500.4 741.1h0M406.8 783.3h0M478.6 719h0M460 783.4h0M392.3 777.6h0M442.6 762.9h0M495.7 765.7h0M484.4 725.6h0M501.8 788.3h0M497.2 797.4h0M491.8 797.5h0M409.1 721.5h0M371.6 674.4h0M509.2 713.6h0M416.5 712.4h0M409.4 697.5h0M376.6 770.8h0M498.7 789.4h0M501 721.7h0M471.9 738.8h0M379.7 771.5h0M510.3 724.7h0M542.3 680.6h0M482.1 737.1h0M376.5 720.4h0M547.4 793.1h0M468.2 748.9h0M405 752.5h0M510.7 783.4h0M374.5 706.1h0M397.7 785.5h0M421.4 709.2h0M410.4 761.7h0M501.8 685.4h0M330.5 722.9h0M461.7 776.5h0M499.3 752.9h0M492.7 724.1h0M533.4 687.6h0M460.3 782.3h0M504.4 744.5h0M405.9 721.1h0M408.3 732.3h0M504.8 721.5h0M412.2 717.5h0M509 781.6h0M503.1 719.6h0M459.8 784.6h0M499.8 783.2h0M493.6 682.4h0M530.5 714.5h0M466.7 755.9h0M419.3 683.4h0M507.7 773.5h0M467.8 754.3h0M478.5 712.8h0M404.8 776.6h0M418.4 731h0M412.4 761.7h0M428 718.8h0M407.1 764.9h0M424.4 726.8h0M458.8 788.4h0M457.3 794.8h0M418.2 755.3h0M397.7 684.9h0M505.4 708.3h0M408.5 781.9h0M396.4 757.1h0M415.9 740.6h0M353.1 761.5h0M492.8 744.2h0M534.6 674.5h0M384.1 752.5h0M419.9 794.5h0M481.2 731.6h0M380.6 736.2h0M411.9 732.9h0M513.9 746h0M509.4 715.3h0M510.4 767.7h0M501.5 723h0M404.7 674.8h0M395.7 697.8h0M416.1 739.2h0M408.7 777h0M438.1 803.1h0M498.6 738.9h0M539.9 758.3h0M501 747h0M449.3 784h0M500.1 799.1h0M391.5 739.5h0M508.2 799.2h0M503.2 788h0M407 668.9h0M385.7 745.1h0M420.5 735.1h0M378.8 694.4h0M493.7 732.2h0M451.9 792.4h0M505 760.7h0M508.5 743.2h0M360 745.6h0M479 724.8h0M386.4 685.5h0M408.6 786.3h0M527.3 724h0M462.1 775.6h0M485.1 738.6h0M410.4 750.2h0M394.7 725h0M541.1 735h0M505.9 760.9h0M390.3 766.7h0M527.2 733.5h0M505.6 745.6h0M526.2 741.3h0M526.4 681.4h0M406.4 753.3h0M470.7 741.4h0M400.1 792.2h0M369.2 701.3h0M486.7 696.5h0M540.1 717.9h0M408.9 736.9h0M496.5 794.3h0M535.1 747.5h0M512.1 706.9h0M404.1 764.7h0M417.2 717.2h0M495.6 744.3h0M506.9 719.6h0M424.9 703.2h0M371.7 730.7h0M413.4 717.7h0M503.1 797.6h0M329.6 680.1h0M349.6 717.8h0M497.1 730.9h0M523 716.4h0M495.7 685h0M406.5 751.5h0M520.8 764.7h0M531.6 741.1h0M540.1 776.5h0M441.5 759.9h0M416.6 676.3h0M493.2 762.7h0M505 752.1h0M434.2 734.2h0M485.8 724.3h0M489.3 697h0M409 791.6h0M473 730.1h0M392 793.5h0M497.6 779.8h0M425.8 720.4h0M499.1 800h0M459 788h0M404.9 743.2h0M404.9 751.1h0M357.2 747.1h0M569.3 730.9h0M485.5 710.1h0M468.4 751.2h0M513.6 708.3h0M371.4 725.9h0M400.5 779.3h0M440.6 756.5h0M492.3 733.9h0M403.7 711.6h0M491.3 730.2h0M378.2 768.3h0M521.5 702.1h0M499.8 746.4h0M509.8 744h0M496 762.6h0M522.5 778h0M504.9 788.4h0M404.8 706.6h0M388.7 669.9h0M353.9 678.5h0M365.8 760.7h0M496 711.9h0M422.7 729.3h0M524 690.7h0M403.3 792h0M508.1 740.2h0M514.7 679.4h0M386.5 719h0M411.7 724.6h0M500.6 737.1h0M510.3 752.6h0M590.2 684.9h0M409.9 754.1h0M356.9 735.1h0M376.1 681.3h0M490.8 725h0M319.4 652.2h0M561.5 718.1h0M481.1 725.3h0M523.5 697.7h0M422.7 728.5h0M525.3 746.7h0M588.8 749.4h0M514.8 777.2h0M398.1 722.1h0M480.9 692.3h0M417.8 701.9h0M425.3 716.8h0M438.2 803.1h0M391.6 772.3h0M480.6 739.2h0M418.4 730.3h0M447.8 779h0M418.1 740.5h0M413.2 698.5h0M435.1 803h0M423.4 727.4h0M460.9 780.3h0M496.2 801h0M445.9 773.5h0M489.9 702h0M431.7 727.7h0M512.4 760.4h0M438.5 747.8h0M498.9 773h0M418 743.3h0M378.6 724.1h0M343.9 673.2h0M493.7 714.9h0M502.7 765.2h0M492 742.8h0M445.6 772.2h0M400.2 760.1h0M422.9 715.5h0M497.1 798h0M445.8 772.6h0M400.7 801.2h0M504.8 783.3h0M508.4 746.9h0M391.8 752.1h0M409.4 753.1h0M410.7 794.3h0M463.7 769.3h0M366 754.7h0M486.6 715.1h0M462.8 771.7h0M497 739.8h0M500.3 694.1h0M461.4 777.7h0M505.5 773.8h0M494.6 747h0M407.3 715.7h0M457.1 796h0M520.9 752.4h0M380 698.5h0M355 725h0M404.4 751.2h0M400.3 723.1h0M506.8 800.1h0M503.4 697.4h0M527.8 774.9h0M513.8 756.4h0M530.7 796.6h0M497.8 733.8h0M370.7 709h0M337.9 735.4h0M494.8 740.7h0M472 736.7h0M471.5 803.2h0M412.7 700h0M378.2 676.7h0M528.3 733.9h0M414.3 739.3h0M524.2 695.4h0M559.1 750h0M406.8 764.8h0M387.7 693.5h0M510.1 746.6h0M508.3 739.1h0M510.7 769.3h0M493.3 796.8h0M417.3 739h0M389.8 776.6h0M397 715.4h0M410 720h0M501 747.1h0M372.7 698.1h0M426.5 716.9h0M545.8 721.4h0M496.2 707h0M510.9 732.5h0M398.8 737.5h0M423.8 701.4h0M500.9 756.3h0M413.7 756.2h0M397 796.5h0M423.2 735.1h0M505.7 784.8h0M421.5 696.2h0M442.8 762.8h0M395.2 666.2h0M412.5 781.7h0M557.8 776.1h0M477.1 728.6h0M406.6 752.9h0M505 758h0M496.3 754.3h0M505.8 803.1h0M409.1 719.5h0M391.8 741.5h0M420.6 740.3h0M458.6 789.2h0M504.5 776.6h0M431.1 730.4h0M585.1 654.6h0M460.4 782.2h0M431.1 726.7h0M550.5 743.2h0M516.9 677.5h0M369.4 695.9h0M424.7 722.2h0M460.6 781.3h0M414.8 742.1h0M415.6 792h0M480.4 717.2h0M432.9 732.4h0M409.5 694.1h0M448.1 780.2h0M398.9 772.3h0M436.2 741.5h0M439.4 753.1h0M420.7 727.8h0M405.3 747.7h0M379.5 752.2h0M476.1 720.4h0M553.9 700.6h0M354.7 717.7h0M476.9 803.3h0M411.6 723.7h0M510.4 716.3h0M406.1 716.5h0M420.5 731.6h0M417.8 720h0M584.8 752.4h0M543.3 722h0M416.3 797h0M485.2 712.7h0M405.8 772.8h0M424.9 710.1h0M505.9 748.8h0M440.8 803.2h0M482.3 729.7h0M518.9 768.1h0M321.4 736.9h0M498 771h0M478 717.5h0M497.8 659.4h0M418.4 791.2h0M404.9 721.7h0M437.2 745.4h0M385.3 674.2h0M568.5 733.9h0M420 732.3h0M403.9 710.5h0M395.4 730.7h0M414.1 797h0M387.8 762.7h0M468.9 803.2h0M406.3 764.8h0M377.2 748.6h0M423.9 716.5h0M404.6 762.3h0M512 793.9h0M397.5 792.2h0M418.5 717.5h0M401.8 734.9h0M370.4 764.2h0M408.1 785.1h0M410 787.7h0M518.3 771.4h0M371.8 758.2h0M527.2 736.7h0M494 716h0M441.3 759h0M507.4 783.8h0M406 784.7h0M509.7 729.7h0M504.1 758.7h0M401.9 705.2h0M494.8 797.2h0M494.3 748.9h0M492.2 738.7h0M548.9 706.2h0M525.1 791.6h0M433 729.7h0M409.6 738.6h0M433.5 733.7h0M445.6 771.4h0M401.2 783.7h0M460.5 781.6h0M492.5 744.5h0M409.7 779.7h0M494.8 725.9h0M506.3 762.3h0M464.2 767.9h0M518.7 728.2h0M403.4 746.2h0M532.4 699.5h0M501.9 790.9h0M494 702.6h0M501.5 742.8h0M345.9 694.1h0M434.5 803h0M511.3 685.7h0M408.6 764.6h0M477.9 721.3h0M548.5 728.3h0M392 782.8h0M507.3 759.5h0M452 792.5h0M506.9 756.2h0M494.1 796h0M366.1 689.4h0M531.7 760.2h0M508.2 792.6h0M508 731.5h0M407 770.7h0M435.8 739.7h0M426.7 802.7h0M409.3 736h0M502.3 791.2h0M442.4 762.3h0M364.4 739.2h0M475.5 803.1h0M503.8 730.3h0M522.6 679.1h0M414.9 790.7h0M395.3 758.8h0M509.2 797.1h0M405.3 741.9h0M397.1 755.6h0M403.6 792.5h0M503.9 769.1h0M409.7 800.1h0M412.9 708.1h0M485.5 724.2h0M494.1 740.2h0M472.5 732h0M457.6 793.5h0M436.6 741.6h0M411.2 765.2h0M520 748.1h0M500.7 680.1h0M482.7 730.9h0M393.1 753.2h0M493.4 697.2h0M492.1 744.7h0M520.6 732.1h0M515.3 682.5h0M503.8 777.1h0M415.1 687.7h0M405.3 795.3h0M404.2 682.1h0M502.8 711.4h0M506.2 777.5h0M512.6 757.7h0M408.2 710.9h0M512.7 758.7h0M324.9 713.2h0M529.2 673.6h0M528.2 677.6h0M417.2 741.8h0M500.3 753h0M395.4 777.4h0M423 733.5h0M470 803.1h0M444.7 803.2h0M503.4 768.9h0M489.5 716.9h0M560.8 722.8h0M398.3 784.9h0M367.3 762.3h0M493.8 732.4h0M482.9 704.3h0M507.5 772.1h0M449 782.8h0M532.8 745h0M488.6 676h0M406.6 699.6h0M507.6 757.6h0M395.5 748h0M509.9 762.8h0M492.6 703.7h0M365.1 706.3h0M408.8 720.9h0M410.4 764.1h0M596 717.7h0M415 794.4h0M434.8 802.8h0M521.4 777.7h0M433.4 735.1h0M451.2 790.1h0M555.4 772.6h0M517.8 755.3h0M493.6 748.8h0M496.9 778.8h0M434.5 802.9h0M415.2 662.2h0M499.3 741.5h0M396.5 751.9h0M474.4 729.8h0M381.6 752.9h0M473.3 731.3h0M418.6 721.8h0M409 719.3h0M493.6 727.5h0M500.7 796.8h0M499 727.4h0M451.7 792h0M500.7 774.6h0M410.7 789.2h0M452.2 793.2h0M402.8 688.1h0M446.5 774.7h0M361.3 538.1h0M314.5 544.1h0M352.4 627.6h0M573.5 619.7h0" stroke="#8b8b83" stroke-opacity="0.35" stroke-width="4.4" stroke-linecap="round"/>
<path d="M493.3 719.7h0M403.1 755.4h0M435.3 741.2h0M471.1 803.2h0M391.6 734.5h0M436.9 803.1h0M475.9 726.7h0M361.7 744h0M399.4 755.6h0M413.1 728.1h0M439.6 751.5h0M564.4 669h0M423.6 729.8h0M490.6 723.8h0M396.1 712h0M498.3 748.9h0M372.7 738.9h0M411.8 713.2h0M413.9 760.3h0M412.6 733.5h0M524 710h0M383.4 728.9h0M413.9 763h0M416.6 684.4h0M510.6 766.4h0M481.7 708.6h0M409.3 676.3h0M361 744.4h0M501.2 729.7h0M412.1 698h0M394.7 729.5h0M460.3 783.1h0M473.4 728.7h0M513 790.7h0M510.7 766.5h0M335.5 698.9h0M444.6 768.5h0M393.1 763.5h0M383.5 722.5h0M464 767.2h0M532.4 714.8h0M408 790.7h0M367.9 722.6h0M388.1 693.2h0M503.1 754.5h0M475.1 803.2h0M432.6 803.3h0M524.8 750.2h0M518.3 752.7h0M395.9 728.3h0M501.8 728.7h0M499 785.8h0M403.9 766.5h0M461.8 775.7h0M476.4 803.2h0M502.9 757.1h0M423.4 725.8h0M380.5 771.5h0M387.5 744.1h0M404.9 737.4h0M406.9 693.6h0M417.7 746.3h0M390.2 750.7h0M406.4 787h0M488.2 705.8h0M424.5 734.1h0M408.2 745.4h0M409.2 801h0M498.6 715.7h0M365.3 737h0M365.4 705.7h0M546.3 771.7h0M504.9 695h0M481.4 715.2h0M569.9 769.3h0M407.7 709.3h0M362.6 743.9h0M379.3 654.9h0M447.4 777.6h0M362.6 749.7h0M440.9 757.6h0M442.8 763.4h0M341.2 772.6h0M498.5 738.7h0M435.6 803h0M401.2 721h0M469.2 748.7h0M364.4 779.1h0M397.6 767.9h0M479 803.1h0M399.7 772.2h0M362.7 696.6h0M410 730.3h0M537.3 715.8h0M398.1 784h0M503.8 786.7h0M498.7 745.6h0M497.6 798.9h0M424.2 725.5h0M386.6 682.1h0M484.9 691.6h0M482.3 731.9h0M500.5 705.9h0M366.5 746.4h0M495 753.1h0M511.4 656.1h0M421.4 720.7h0M481.6 718.4h0M500.3 749.4h0M473.8 724.9h0M452.6 794.8h0M415.7 683h0M500.1 765.6h0M501.2 726.6h0M423.5 718.6h0M408.2 762h0M462.5 773.6h0M377 732h0M558.2 717h0M418.6 794.6h0M483.1 701h0M502.1 735h0M395.5 726.1h0M473.5 733.7h0M547.5 706.8h0M503.6 760.7h0M501 785.7h0M476.9 803.1h0M379.8 751.7h0M497.6 784.8h0M404.7 751.8h0M517.6 663.2h0M523.1 750.5h0M405.4 770h0M478.9 803.1h0M521.8 695.8h0M501.1 761.1h0M490.9 731.6h0M497.4 701.3h0M392 730.8h0M508.4 791.5h0M428.4 719.8h0M403.3 732.2h0M404.2 751.9h0M386.9 777.9h0M533.8 694.3h0M318.6 697.2h0M488.5 801.7h0M507.8 769.6h0M494.5 738.2h0M414.5 736.7h0M480.6 718.3h0M371.3 762.3h0M414.3 666.5h0M532.1 747.5h0M513.7 708.4h0M496.5 792.8h0M386 696.9h0M495.7 763h0M495 750.7h0M410.6 777.2h0M510.9 759.7h0M500.4 734.9h0M411.6 754.9h0M399.3 738.2h0M387.6 688.4h0M363.6 674.6h0M461.5 776.7h0M489.3 723.1h0M399.5 760.5h0M421.9 801.2h0M493.3 764.6h0M494.3 784.7h0M499.7 756.2h0M486.3 685.8h0M473.9 803h0M443.7 765.8h0M472.6 734.4h0M434.4 740.1h0M525.8 675.8h0M514.2 766.8h0M448.4 781h0M504.4 728.3h0M544.5 743.3h0M477 714.2h0M522.5 736.7h0M382.1 671h0M510.2 734.3h0M407.7 758.6h0M436.8 802.9h0M458.8 789h0M340.1 738.6h0M483.4 712.5h0M400.2 710.1h0M328.5 671.8h0M518.6 763.3h0M451.8 792h0M447.1 776.7h0M424.9 737h0M544.1 677.4h0M475 728.7h0M497.1 708.2h0M555 727.1h0M496 748.7h0M484.3 690.9h0M545.8 775.8h0M340.8 722.2h0M423.3 713h0M421.9 743.5h0M404.4 669.6h0M392.3 762.3h0M492.4 717.2h0M518.2 712.6h0M494.3 734h0M595.5 688.5h0M465.9 759.6h0M522.2 711.3h0M491.4 799.7h0M378.5 657h0M400.2 739.4h0M500 737.4h0M501.8 709.7h0M420.6 685.1h0M559.3 738.9h0M510 706.7h0M499.5 788.8h0M415.4 732.3h0M420.3 702.4h0M447.4 778.5h0M513.5 690.3h0M383.5 679.1h0M491 736.2h0M530.1 708.6h0M414 776h0M497.1 758.7h0M525.5 706.1h0M566.8 725.3h0M530.9 710.1h0M424.2 721.8h0M406.6 753.5h0M499.8 701.5h0M489.8 714.5h0M495.7 722.9h0M413.4 778.4h0M496.4 787.4h0M423.7 710.9h0M439 803.2h0M387.8 754.4h0M439.9 803.1h0M485.8 718.8h0M498.8 728.5h0M339.8 733.6h0M486.7 726.7h0M521.4 657.3h0M416.4 726.1h0M418.9 718.1h0M484.5 680.6h0M367.6 760.3h0M393.9 743.8h0M411.8 793.7h0M446.1 773.4h0M471.9 803.2h0M534.9 738.4h0M438.2 803h0M410.6 776.9h0M426.8 720.9h0M357.8 671.2h0M392.9 791.9h0M488.4 735.6h0M406 743.4h0M446.2 774.8h0M496.3 687.7h0M502 786.3h0M427.4 723.9h0M493 715.4h0M398.5 727.3h0M484.3 728h0M489.9 801h0M468.1 803.3h0M510.7 767.3h0M520.3 732h0M387.5 701.4h0M366.7 710.3h0M493.5 721.3h0M535.6 714.5h0M507.2 689.1h0M412.4 690.2h0M492.8 709.3h0M377.9 727.8h0M413.9 752.6h0M535.6 735.7h0M503.1 736.2h0M508 746.2h0M470.5 741.6h0M396.4 747.3h0M431.9 731.7h0M511.6 737.1h0M406.1 774.3h0M400.1 754.1h0M366.2 743h0M501.7 733.9h0M504.4 720.6h0M414 761.9h0M485.8 720.9h0M391.5 724.8h0M541.5 727.3h0M361.1 782.1h0M411.6 679.5h0M467.1 754.1h0M501.9 778h0M494 764.5h0M437.9 748.9h0M489.9 722.6h0M524.4 731h0M410.3 723.7h0M423.9 711.9h0M413.3 752.6h0M405.2 709.2h0M438.4 749.5h0M525.5 750.6h0M502.1 795.2h0M505.6 767.5h0M401.3 778.7h0M510.2 774.3h0M470.8 739.3h0M411.7 735.7h0M384.4 709.2h0M498.4 698.9h0M494.6 717.7h0M511.1 759.6h0M427.5 738.7h0M335.1 725h0M390.5 755.1h0M510.2 733.5h0M483.9 732.8h0M505.5 761.2h0M516.9 741.9h0M517.7 753.6h0M504.3 775.4h0M481.1 710.8h0M402.8 732.4h0M514.8 768.7h0M504.6 794.6h0M417.1 677.2h0M410.3 727.1h0M388.9 742.8h0M368.4 712.6h0M417.7 727.1h0M402.9 749.3h0M396.2 681.9h0M326.1 716.1h0M393.9 683.4h0M498.3 789h0M384.9 718.8h0M494.8 784.1h0M406.8 713h0M407.5 774.6h0M391 733.7h0M461.7 776.9h0M522.6 747.6h0M459.3 786.5h0M473.5 727.9h0M499.4 783.3h0M397.3 697.6h0M444.8 803.2h0M521.4 770.8h0M409.5 785.8h0M498.2 754.8h0M530.3 716.4h0M417.2 745.8h0M371.1 716.6h0M522.2 749.2h0M400 781.5h0M516.7 716.4h0M397.6 775.7h0M415.2 755h0M385.9 765.2h0M482.3 803.2h0M501.5 727.8h0M545.7 743.1h0M425.7 716.1h0M375 749.3h0M411.9 756.2h0M540.7 746.7h0M412.1 753.1h0M507.4 739.1h0M498.9 686h0M395.6 752.1h0M377.2 769.9h0M502.8 745.1h0M496.5 783.1h0M472.9 729h0M364.6 760.3h0M414.3 763.4h0M394.8 757.6h0M410.3 735.2h0M448.5 781.6h0M411.2 773.1h0M434.7 802.8h0M495.5 720.6h0M373 690.8h0M326.3 677h0M349.5 678.3h0M398.8 762h0M402.1 712.5h0M408.9 760.1h0M414 760.2h0M417 756.9h0M519.4 713.8h0M422.5 722.1h0M383.2 694.2h0M333.1 747.1h0M482.1 802.7h0M376.8 743h0M494.8 749.5h0M531.4 716.2h0M404 713.1h0M530.6 722.5h0M398.1 702.9h0M417.8 693.2h0M448.4 780.5h0M409.9 739.1h0M513.8 684.1h0M508.9 749.5h0M420.2 691.4h0M477.8 719.6h0M457.1 795.5h0M413.6 739.8h0M408.5 773.2h0M413.8 755.1h0M495 754.1h0M398.6 777.4h0M451.7 791.9h0M428.8 718.3h0M420.8 691h0M512.6 730h0M370.4 728.4h0M506.1 769.5h0M428.6 725.7h0M495.2 722.7h0M459.4 786.2h0M525.5 674.7h0M407.8 780.8h0M502.3 765.5h0M409.2 777.3h0M442.9 762.4h0M435.1 803.1h0M394 745.7h0M388.7 696.8h0M492.9 752.2h0M530.7 763h0M465.7 760.2h0M524.9 750.3h0M503.5 720h0M510.3 765.9h0M459.5 785.6h0M410.4 792.8h0M466.9 754.3h0M397.8 775.5h0M405.5 703.5h0M504.1 747.5h0M442.4 760.9h0M420.9 733.5h0M396.9 747.8h0M551.8 685.4h0M473.4 733.8h0M482.9 692.3h0M506.6 683.5h0M421.2 720h0M494.3 747h0M490.3 732.1h0M407.6 782.7h0M409.1 777.4h0M414.7 784.7h0M350.7 704.1h0M404 770.6h0M480.8 737.1h0M440.7 756.7h0M410.1 725.8h0M499.4 757.5h0M415.9 699.8h0M485.8 722.9h0M434.5 735.6h0M561.3 728.6h0M438.4 803.3h0M425.5 740h0M545.8 688h0M486.6 687.9h0M514.6 748h0M394.3 770.4h0M500.3 693.7h0M426 713.5h0M370.6 743.2h0M483.2 683.5h0M401.9 775.6h0M502.3 769.6h0M450.1 786.8h0M483 802.2h0M515.3 735.9h0M497.1 753.3h0M381.9 745.8h0M521.6 767.4h0M496.9 798.1h0M497.6 776h0M400.7 772.8h0M414.1 783.7h0M499.3 710.2h0M492.2 763.1h0M506.6 757h0M492.6 740.1h0M498.5 767.7h0M399.1 773.2h0M513 773h0M499.2 663.6h0M401.1 747.3h0M537.1 690.6h0M414.3 756h0M484.4 696.1h0M402.3 706.6h0M449.3 783.7h0M427.9 712.8h0M469 747.5h0M366.5 703.3h0M418.2 800.2h0M386.6 706.6h0M354.9 685.8h0M409.1 754h0M479.5 704.1h0M531.3 707.7h0M503 787.4h0M410.8 758.4h0M459.2 787.1h0M361.7 733.9h0M494.3 730.8h0M458.3 791.1h0M417.7 798.3h0M511.6 754.1h0M392.3 707.2h0M510.2 756.5h0M403.7 778.2h0M504.3 778.3h0M470 803.2h0M430.8 724.6h0M493.6 710.8h0M495.1 742.9h0M413.7 717.1h0M532.5 765.5h0M508.1 759.1h0M497.8 725.6h0M486.9 727.1h0M413.8 766.2h0M473.3 730.1h0M372.5 670.2h0M401.6 736.7h0M391.1 763.7h0M412.6 730.3h0M423 738h0M486.2 802.7h0M486.7 740h0M465.6 759.8h0M498.4 745.7h0M525.7 705.6h0M395.2 719.1h0M410.5 748.1h0M399.5 714.2h0M506.7 771.2h0M489.4 718.8h0M510.8 716.8h0M393.4 709.6h0M414 731.8h0M518.7 763.1h0M405.7 684.6h0M526.9 747.9h0M337.7 658.9h0M562.1 688.7h0M481.7 713h0M511 704.3h0M491.7 698.2h0M409.8 760.3h0M386.3 790.8h0M409.9 687.1h0M518.5 765.1h0M534.8 739.4h0M401.7 795.4h0M513.2 765.9h0M408 768.6h0M415 716.3h0M395 687.1h0M421.2 723.3h0M493.7 707.8h0M468.1 752.2h0M500.1 756.3h0M517.1 724.5h0M504.6 749.1h0M501.7 767.2h0M405 746.3h0M351.8 685.2h0M496.3 789h0M410.8 777.1h0M485.1 730.9h0M419.2 751.8h0M495.7 781.4h0M484.5 737.8h0M501.6 717.2h0M412.7 784.8h0M505.9 763.6h0M404.2 781.6h0M397.8 694.8h0M525 719.5h0M493.4 702.2h0M476.6 713.3h0M458 791.9h0M524 785.9h0M406.8 763.6h0M497.5 761.2h0M414.5 756.2h0M410.6 726.9h0M486.1 681.9h0M503 769.4h0M411.5 764.6h0M414.7 763h0M437 743.2h0M411.6 780.8h0M418.2 723.6h0M418.2 724.5h0M401 760.6h0M324 690.1h0M414.1 756.3h0M397.6 751.4h0M467.5 755.2h0M418.7 692.8h0M500.7 758.8h0M458 791.9h0M508 684.3h0M553.3 729.7h0M411 749.4h0M507.1 784.6h0M412.6 777h0M489.5 708.5h0M421.8 694h0M354.2 705.7h0M507.3 732.8h0M415.7 738.4h0M472 737.8h0M506.8 772.7h0M499.2 759.2h0M501.4 733.3h0M497.9 730.1h0M467.2 756.3h0M510.4 744.4h0M504.7 796.3h0M482 732.8h0M425.8 802.4h0M421 687.7h0M444.2 803.2h0M397.4 777h0M409.7 671.2h0M509.7 739.5h0M468.3 803.2h0M483.4 712.8h0M467.3 755.6h0M533.1 733.2h0M409.3 737.8h0M395.3 717.1h0M532.9 654.3h0M461.1 778.6h0M450.1 786.3h0M468.3 803.1h0M418.3 740.4h0M504.9 708h0M529.6 733.8h0M498.2 722.4h0M500.1 740.3h0M404.8 749.2h0M496.2 794.3h0M509.7 718.3h0M501.2 754.2h0M401 791.4h0M488.2 737.1h0M416.2 735.9h0M408.3 740.7h0M499.6 739h0M470.8 740.8h0M493.7 723.4h0M392.3 628.9h0M354.4 650.3h0M572.4 616.8h0M505.3 646.1h0" stroke="#8b8b83" stroke-opacity="0.35" stroke-width="4.4" stroke-linecap="round"/>
<path d="M418.2 739.2h0M543.4 677.8h0M493.3 802.8h0M421.3 740.9h0M398.3 735.2h0M463.8 769.1h0M415.1 733.5h0M500.6 698.8h0M472.8 729.6h0M462.8 772.1h0M495.7 788.1h0M412.7 729.4h0M423.3 740.3h0M499.6 712h0M506.7 793.8h0M414.9 700.5h0M501.1 710.7h0M401.1 753.5h0M420.3 693h0M422.9 739.1h0M400.8 763.5h0M542.3 719.3h0M383.6 776.8h0M488 662.6h0M498.4 755.9h0M402.2 683h0M522.7 692.3h0M414.5 714.4h0M449.9 785.6h0M487.1 706.9h0M499.5 763.5h0M410.6 683h0M506.2 713.4h0M350.3 724h0M440.3 803.2h0M409.4 775.1h0M500.4 721.7h0M483.7 734.5h0M511.4 740.6h0M506.4 730.1h0M510.1 763.3h0M412.8 759.6h0M494.6 756.9h0M491.7 692.7h0M462.6 773.3h0M470.2 744.2h0M385.8 765.4h0M399 771.5h0M349.4 743.7h0M393.1 753.3h0M494.6 754.2h0M444.9 770.1h0M374 725h0M475.7 725.4h0M489 697.5h0M499.6 790.9h0M592.2 708.3h0M484.2 708.4h0M502.2 704.8h0M409.6 713h0M495.2 736h0M492.3 748.7h0M427.7 720.2h0M408.5 729.4h0M417.1 708.5h0M490.8 730.7h0M545.7 733.3h0M433.5 736.4h0M351 750.9h0M411.5 734h0M403 768.6h0M484.7 721.5h0M498.9 802.6h0M393 723.3h0M466.6 758h0M362.9 708.4h0M510.3 767.4h0M386.8 720h0M485.6 731.7h0M483.8 719.7h0M572.3 721.8h0M421.1 738.7h0M509.7 756.8h0M461.9 775.7h0M395.7 688.1h0M486 726.6h0M517 764.4h0M542 702.2h0M401.7 732.2h0M441.3 758.8h0M396.3 781.2h0M516.4 763.1h0M417.7 710.2h0M496.4 788.9h0M413.9 747.1h0M390.9 793.2h0M503.6 693.6h0M418.4 756.8h0M523.7 778.4h0M415.2 736.3h0M396.5 657.6h0M514 740.1h0M467.4 754.2h0M542.5 747.7h0M410.5 674h0M436.5 744.4h0M415.3 671.5h0M488.3 702.9h0M411 751.5h0M458 792.1h0M482.9 703h0M370.9 726.8h0M506.4 777.4h0M496.9 717.7h0M510.1 747.3h0M450.2 787h0M407.6 743.6h0M403.5 744.3h0M399.2 716.6h0M407.2 744.2h0M446.7 775.9h0M499.5 745.2h0M479.8 739.4h0M497.8 713.2h0M498.3 735.7h0M505.8 739.2h0M524.8 755.7h0M523.8 726.2h0M379.3 753.2h0M403.1 766.8h0M499.7 770h0M498.4 767.6h0M423.1 702.7h0M329.3 679.3h0M406.8 773.4h0M545.7 683.4h0M397.1 773.1h0M417.4 757.7h0M539.8 693.8h0M384.4 794.8h0M530.8 656.4h0M411 734.6h0M379.3 762.6h0M496.2 767.2h0M405.6 756.5h0M481.8 716h0M500.6 712h0M395.6 782h0M421 717.9h0M373.3 699.8h0M434.6 738.4h0M517.1 726.7h0M472.2 735.9h0M417.9 743.2h0M399.7 772.4h0M471.3 803.2h0M473.8 730.4h0M481.9 724h0M415.5 784.2h0M513 770.1h0M485.8 706.4h0M508.6 766.9h0M420.5 724.4h0M457 796h0M410.1 768.9h0M543.2 776.4h0M458.2 791.1h0M438.6 751.6h0M425.5 711.9h0M421.9 736.7h0M436.2 742.7h0M510.5 768h0M444.4 768h0M398.6 715h0M451.6 791.2h0M399.8 740.9h0M405.4 763.1h0M404 784.4h0M512.6 708.6h0M411.1 749.6h0M480.3 802.2h0M489.2 733.4h0M494.7 787.4h0M486.5 709.1h0M514 775.4h0M412.2 789h0M473.4 803.3h0M552.3 700.6h0M485.2 727.6h0M421.8 737.6h0M500.2 765.5h0M497.5 713.8h0M498.7 705.7h0M490.9 741.4h0M466.2 758.2h0M468.4 750.3h0M565.2 674.4h0M485.3 726.7h0M434.9 737.1h0M336.3 753.3h0M393 754.6h0M417 738h0M370.3 740.9h0M421.4 724.2h0M505.7 715.3h0M416.8 731.7h0M412.3 782.5h0M516.4 713.8h0M410.9 781.6h0M395.2 742h0M486.5 707.8h0M422.1 710.9h0M525 698.3h0M527.8 785.4h0M499.9 695.6h0M530.3 759.2h0M450.3 787.3h0M465.2 761.3h0M365.4 638.6h0M491.6 682.3h0M469.5 803.2h0M402 762h0M356 714.5h0M450.1 786.3h0M519.8 727.7h0M452.6 794.7h0M383.9 782h0M412.1 781.9h0M407 781.3h0M475.8 725h0M405 765.3h0M349.9 738h0M434.2 734.2h0M440.9 756.4h0M463.1 770.2h0M497.6 749h0M413.8 790h0M403.5 785.2h0M502.5 737.7h0M375 759.7h0M484.4 705.6h0M408.6 680.5h0M370.6 730.1h0M417.8 720.3h0M336.8 713.5h0M405.7 759.9h0M490.1 729.6h0M402.2 735.7h0M484.9 803h0M424.7 720.1h0M398.1 777.5h0M524.2 700.7h0M514 748.2h0M427.8 726.2h0M396.6 762.8h0M419.9 686.9h0M452.1 793.6h0M495.3 735.6h0M517.2 759.7h0M329.2 713.9h0M404.2 744.2h0M513.4 685.3h0M459.7 785.2h0M504.9 747.4h0M499.1 752h0M420.9 696.3h0M503.9 778.1h0M502.7 665.9h0M415.1 728.9h0M505.2 701.2h0M502.3 741.8h0M486 729.5h0M421.1 737h0M463.8 769.1h0M415.8 745.5h0M406.9 750.7h0M392.3 717.8h0M528.5 754.2h0M413.4 789.4h0M424.1 803.2h0M525.5 702.7h0M350.9 765.3h0M493.3 734.9h0M410.8 791.3h0M423.2 803h0M418.6 725h0M414.6 724.1h0M449.4 784.5h0M557.4 732.8h0M383.1 739.6h0M521.7 750.1h0M488.6 689.4h0M514 693.2h0M419.5 718.6h0M363.3 697h0M452.3 793.5h0M412.6 670.7h0M505.8 798.9h0M498.3 744.6h0M420.2 692.8h0M432.9 802.5h0M374 730.7h0M505 794.2h0M522.7 754.2h0M544.5 771.5h0M396.2 740.3h0M467.7 750.9h0M400.4 681.3h0M421.3 733.3h0M434.4 739.8h0M504.1 741h0M493.6 713.7h0M502.4 746.4h0M393.2 703.2h0M432.9 802.7h0M421.1 732.7h0M497.4 693.5h0M515.3 696.3h0M523.4 701.9h0M406.5 725.8h0M509.4 786.9h0M493.5 749h0M509.7 739h0M373.3 724.7h0M498.9 746.9h0M409.2 731.2h0M542.5 744.6h0M493.9 756h0M383.5 706h0M505.9 755.7h0M496.2 767.2h0M422.9 720.2h0M397.3 789.7h0M397.4 768.2h0M476.3 719.2h0M497.1 683.5h0M415.4 707.4h0M514.6 688.4h0M407.3 758.3h0M516.3 763.1h0M498.3 793.7h0M525.4 757h0M525.6 764.1h0M458.5 789.7h0M406.4 737.3h0M387.5 703.6h0M484.3 718.2h0M539.9 693.3h0M485.6 677.6h0M370.3 765.4h0M495.6 726.8h0M417.8 799.7h0M526 675h0M417.7 752.5h0M422 708.7h0M352 685.3h0M400.5 693.9h0M416.4 726h0M387 713.7h0M427.7 801.8h0M398.2 686.9h0M507.8 752.6h0M492.1 698.5h0M523.2 771.5h0M421.3 734h0M501 784h0M507.9 773.4h0M463.5 768.8h0M497.8 735.4h0M418.6 799.1h0M460.1 783.9h0M495.2 745.4h0M411.2 787.1h0M518.3 717.4h0M411.9 752.8h0M522 730.1h0M437.6 746.4h0M556 747h0M440.7 758.2h0M494.6 725h0M393.5 785.2h0M413 725.9h0M446.9 775.6h0M519.3 726.8h0M365 705.9h0M499 733.1h0M407.4 699.2h0M408.6 791.1h0M397.7 681h0M467.9 803.3h0M487 720.3h0M502 740.1h0M464.7 765.9h0M442.8 764.2h0M398.5 700.6h0M345.2 761.1h0M411.1 751.3h0M477.5 724.8h0M406.2 756.7h0M374.5 721.6h0M422.4 722.1h0M595.6 693.9h0M494.7 765.4h0M484.7 693h0M450.7 788.5h0M419 731.6h0M419.2 736.3h0M396.2 792.4h0M390.1 781.8h0M391.9 699.9h0M515.6 766h0M554.5 681.6h0M491.7 743.7h0M541.9 785.4h0M448.2 780.6h0M392.7 770.6h0M398 759.6h0M498.5 754.8h0M379.1 724.2h0M506.9 713.7h0M494.5 783.8h0M434.9 738.8h0M402.6 720.4h0M485.4 671.8h0M518.3 757.4h0M488.7 674.9h0M477.2 802.9h0M509.1 741.5h0M474.2 723.9h0M370.3 766.4h0M479.9 719.8h0M470 741h0M459.8 784h0M436.6 803h0M418.6 747.5h0M498.8 780h0M505.8 780.2h0M547.6 686.1h0M527.8 705.2h0M565.5 742.3h0M411 680h0M485.7 727.7h0M511.1 699h0M497.2 766.4h0M549.2 744.6h0M396.9 690.4h0M513.9 721.4h0M415.5 705h0M532 751.1h0M403.7 743.9h0M352.2 758.8h0M355.5 682.7h0M489.8 732.3h0M401.9 777.2h0M511.2 685.2h0M329.2 728.5h0M478.3 802.4h0M490.6 687.8h0M399.8 710.8h0M473.1 732.8h0M519.5 719.6h0M409.6 745.8h0M401.4 774.5h0M383.3 761.6h0M558 726.4h0M416.1 732.8h0M512.8 795.5h0M478.2 717.9h0M498.5 783.3h0M399.9 665h0M417.6 682.6h0M403.2 780.2h0M421.2 739h0M488.2 700.9h0M509.7 750.5h0M527.9 734.6h0M475.4 803.2h0M404.6 759.8h0M493.6 723.6h0M475.3 723.9h0M557.1 697.2h0M495.9 757.2h0M412.6 686.7h0M520.1 670.6h0M498.4 796.5h0M370.8 722.9h0M374 752.4h0M505.7 762.7h0M499.5 718.8h0M409.5 789.2h0M495.2 755.9h0M488 690.1h0M400.9 742h0M491.8 715.9h0M404 774.8h0M534.5 690.5h0M437.3 803.1h0M566.8 754.3h0M485.9 737.2h0M486.5 740h0M404.1 736.5h0M433.2 732.2h0M409 746.2h0M426.4 719.8h0M415.5 697.6h0M417.8 671h0M360.7 762.9h0M493.4 712.5h0M510.9 769.4h0M501.2 783h0M478.7 719.4h0M494.4 795.8h0M379.8 703.2h0M524.5 760h0M529.4 715.5h0M398.4 739.2h0M485.7 699.8h0M542.9 729.6h0M426.7 735.9h0M527 768h0M553.8 753.9h0M463.8 767.4h0M406.5 726.3h0M400.1 693.3h0M408.2 801.4h0M397.3 732h0M393.6 773.3h0M416.8 682.5h0M503.6 704.6h0M577.2 673.6h0M459 787.9h0M522.3 743.8h0M501 757.1h0M414.3 700.3h0M413.8 783.5h0M520.6 713.4h0M512.4 769.3h0M486.4 740h0M503.9 788h0M404 774.5h0M505.4 706.3h0M506.3 748.9h0M420.3 722.2h0M414.4 718.4h0M450.4 787.6h0M482.8 802h0M487.5 715.6h0M413.7 799h0M471.6 803.3h0M410 663.5h0M410.6 729.1h0M499.2 759.9h0M412.8 737.6h0M499 731.6h0M369.2 768.8h0M363.1 674.1h0M497.5 672h0M426.2 740.2h0M517.1 735.6h0M419.4 733.1h0M394.5 720.2h0M492.6 749.2h0M468.1 751.3h0M504.5 776.2h0M465.3 762.9h0M517.2 729.4h0M497.1 709.5h0M546.1 753.2h0M483.6 716.7h0M503.6 774.4h0M411.7 707.4h0M398.7 706h0M398.8 741.9h0M489.7 733.5h0M417.8 797.7h0M366.9 728.7h0M493.7 714.2h0M441.3 803.3h0M371.5 727.8h0M490.9 729.7h0M499.1 768.7h0M520.2 704.6h0M495.1 731.5h0M386.7 734.9h0M418.7 747.5h0M411.6 669.3h0M476.3 716.4h0M519.3 743.1h0M490.1 730.2h0M417.6 720.6h0M372.1 711.5h0M419.3 795.1h0M504.1 774.8h0M515.2 765.9h0M488 734.8h0M490.7 800.4h0M421 701.3h0M419.9 725.5h0M425 712.5h0M554.1 733.5h0M412.7 763.6h0M439.7 752.5h0M510 730.1h0M513 790.2h0M457.1 795.6h0M509.1 768.3h0M555 704.2h0M406.2 771.1h0M372.9 769.2h0M514.3 739.1h0M400.2 700.2h0M417.9 671.5h0M482.8 730h0M377.9 733.7h0M394.2 682.5h0M397.3 748.2h0M502.7 770h0M504.8 783.2h0M494.2 728.2h0M439.4 753.5h0M500.1 740.4h0M488.5 716.9h0M387 739.3h0M411.1 785.8h0M497.6 778.7h0M498.2 741.5h0M508.2 771.1h0M490 748.5h0M497.6 789.7h0M510 739.1h0M413.7 691.8h0M407.3 767.2h0M419.2 803.2h0M416.5 752.4h0M329.3 664.6h0M468.2 803.3h0M496.7 790.8h0M499.5 702.8h0M419.2 723.2h0M379.5 744.3h0M392.4 776.2h0M506.3 730.7h0M500.9 756.9h0M448.9 782.9h0M504.6 782.8h0M429.3 724.3h0M445.2 770h0M477.3 726h0M496.6 751.2h0M364.5 715.9h0M482.5 686h0M420 723.4h0M444.6 768.9h0M495.4 745.9h0M535 729.1h0M507.7 738.8h0M417.2 713h0M415 702.5h0M396.8 766.8h0M487.9 706.7h0M525.6 648.7h0M446.1 773.2h0M554.2 659.9h0M419.1 739h0M485.8 721.6h0M374.2 680h0M410.9 710.7h0M507.3 670.6h0M413.9 640.1h0M374 650.1h0M418.6 658h0M513 623.9h0M528 621.4h0M551.4 630.5h0M555 628h0M511.7 637.8h0M530.6 639.1h0" stroke="#8b8b83" stroke-opacity="0.35" stroke-width="4.4" stroke-linecap="round"/>
<path d="M377.4 778.4h0M407.1 753h0M478.8 728.7h0M507 765.1h0M505.4 652.1h0M394.5 800.7h0M386.8 693.3h0M489.3 738.1h0M403.3 743.4h0M392.9 727.4h0M378.5 722.6h0M407.9 711h0M489.2 800.7h0M567.4 759.9h0M527.2 736.1h0M416.4 794.3h0M502.3 784.9h0M508.9 771.3h0M503.2 794.4h0M500.2 708.9h0M391.2 739.5h0M538 671.2h0M431.7 802.8h0M535.2 762.3h0M533.4 736.6h0M411.5 779h0M394.4 786.9h0M419.3 748.2h0M412.7 673.9h0M404.1 784.5h0M518.8 735.7h0M528.9 784.6h0M418 750h0M350.9 679.4h0M400.6 786.7h0M471.3 741.4h0M562.9 754.4h0M497.5 749.1h0M528.7 738.2h0M502.9 780h0M430.2 802.1h0M411.4 689.9h0M364.1 698.5h0M507.4 746.2h0M409.7 735.3h0M508.2 769.1h0M480.7 715.8h0M413.8 711.3h0M427.5 803h0M522.9 700.3h0M403.3 696.7h0M403.3 752.5h0M501.6 771.2h0M415 765.4h0M515.6 722.9h0M412.5 794h0M465.4 763.2h0M540 748h0M481.8 697.8h0M418 745.9h0M493.8 752.4h0M511.7 668.3h0M468.6 751.7h0M504.3 750h0M459.8 784.9h0M348.9 702.8h0M435 741.2h0M462.8 772.1h0M499 767.8h0M399.4 793.9h0M412.3 790h0M442.8 762.5h0M421.4 800.7h0M594.9 696.3h0M530.3 735.7h0M391.8 662.2h0M408.8 694.9h0M420.3 793.5h0M409.1 775.9h0M370.2 770.3h0M502.5 776.3h0M392.7 765.7h0M406.8 755.8h0M532.4 706.2h0M396.2 738.4h0M479.9 725.8h0M496.5 723.2h0M459.3 787h0M394.5 759.9h0M418.9 713.9h0M401.1 717h0M458.7 789.1h0M487 738.1h0M416.7 798.5h0M442.4 803.2h0M504.4 724.8h0M412.7 699.9h0M448.9 782.7h0M503.8 712.1h0M499.3 770.3h0M410.7 790h0M494.6 739.4h0M428.1 716.2h0M514.6 720.9h0M531.8 727.2h0M451.2 790.5h0M383.9 769.7h0M385.8 772.7h0M420.1 729.1h0M538.6 737.8h0M424.2 708.4h0M486.3 707.7h0M511.3 702.3h0M440.1 753.2h0M473.5 731.9h0M410 745.7h0M528.8 693.6h0M491.8 684.9h0M490.9 716h0M432.8 732.6h0M486.6 729.5h0M383.4 737.9h0M399.3 781.4h0M387.7 706.1h0M414.7 717.1h0M463 771h0M363.7 721.6h0M404.8 760.5h0M458.8 788.7h0M409.8 758.2h0M376.2 781h0M458.3 791h0M523.1 745h0M495.7 757h0M477.2 710.8h0M465.8 761.3h0M509.4 764.1h0M490.6 739.2h0M409.4 765.4h0M497.6 748.9h0M393 711.7h0M461.6 777.4h0M394.9 703.2h0M459.8 784.9h0M407.9 705.4h0M422.6 732.5h0M401.9 722.1h0M518.9 732.4h0M372.6 687h0M495.6 752.4h0M467.3 755.4h0M552.9 710.6h0M525.6 748h0M568.3 770h0M416.6 793.5h0M389.9 742.4h0M420.2 743.5h0M495.1 720.1h0M567.3 725.6h0M480.6 706.7h0M368.3 720.5h0M368 720.1h0M377.4 689.9h0M505.5 706.6h0M315.4 741.5h0M490.7 747.9h0M414.7 745.5h0M424 704.1h0M465.6 760.1h0M509.6 749h0M579.2 724.1h0M494.3 725.9h0M532.8 656.5h0M412.5 761.6h0M499.6 767.4h0M508.1 738.8h0M512.6 699.5h0M444.6 768.5h0M373.5 706.6h0M386.8 774.1h0M415.2 659.9h0M480.4 730.3h0M488.9 720.3h0M398.4 738h0M414.7 733.5h0M513.7 725h0M374.2 727.7h0M406.2 752.9h0M493.3 711h0M487.5 707.1h0M524.6 721.3h0M402.2 709.6h0M503.9 728.8h0M530.2 687.2h0M502.8 719.7h0M353.1 709h0M495.3 766.5h0M494.7 728h0M505.6 785.9h0M516.1 753.5h0M431 803.2h0M457.8 792.9h0M406.2 703.7h0M480.8 731h0M421.6 721.6h0M500.4 750.4h0M507.3 770.4h0M410.1 758.5h0M417.4 688.6h0M529.1 693.8h0M414.6 728.6h0M415.5 745.4h0M450.9 789.4h0M576.1 650.6h0M479.7 737.9h0M412.7 728.5h0M412.5 667.9h0M507.2 728.4h0M505.1 776.3h0M499.2 721.3h0M499 773.7h0M434.8 736.3h0M467.7 803.2h0M448 780.3h0M443.7 766h0M495.6 748.4h0M480.3 709.8h0M497.7 781h0M374.2 733.9h0M552 713.7h0M491 716.2h0M399.9 725.4h0M411.2 727.3h0M478.9 724.2h0M414 754.8h0M530 747.2h0M531.9 694.2h0M502.2 783h0M369 715.4h0M390.9 731.5h0M424.4 732.4h0M398.9 704.3h0M412.7 672.7h0M518.7 751.8h0M548.3 711.6h0M436 803.1h0M431.9 729.9h0M470.7 743h0M401.9 718.8h0M481.9 713.1h0M521.6 706.2h0M402.8 726.4h0M512.2 762.5h0M383.8 658.9h0M411.4 765.6h0M543.8 711.1h0M500.6 760.6h0M509.3 693.7h0M451.8 792h0M410.2 787.3h0M365.6 732.8h0M404.7 695.2h0M482.6 802.8h0M458 791.7h0M452.7 795.2h0M501.1 721.5h0M490.8 721h0M403.4 771.7h0M383.3 720.8h0M504.2 772.4h0M414.8 800.2h0M345.5 662.5h0M414.4 793.9h0M580.1 699h0M380.4 771.2h0M514.9 685.2h0M532.5 694.7h0M508.8 753.9h0M425.6 803h0M381.9 735.5h0M519.2 734.9h0M464.4 766.4h0M397.5 758.1h0M484.3 711.1h0M401.8 769.7h0M508.4 747.6h0M507.1 774.8h0M485.1 729.3h0M424.4 717.6h0M397.9 751.9h0M504.3 761.1h0M371.9 785.1h0M425.5 714.6h0M464.3 767h0M399.1 721.6h0M480.7 728.4h0M500.1 738.2h0M416.6 698.2h0M410.8 744.7h0M505.2 771.4h0M354.3 753.8h0M499.2 779.2h0M381.5 762.8h0M507.7 784.9h0M406.2 663.3h0M411.9 757.9h0M510.2 744.6h0M406.5 758.7h0M498.5 776.7h0M493.8 797.5h0M414.3 789.7h0M519.4 750.9h0M522.3 793.4h0M502.7 745.7h0M585.2 737.3h0M411.3 772.4h0M385.6 715.6h0M547.6 735.8h0M411.6 708.7h0M522.4 764.3h0M442.5 803.1h0M333.7 725.5h0M392.6 775.9h0M395.7 723.3h0M496.3 745.2h0M481.7 714.2h0M373.6 683.2h0M544.1 736.4h0M430.5 722.5h0M501.8 740.9h0M537 689.1h0M398.6 740.4h0M533.9 693.8h0M500.3 748.6h0M488 726.4h0M498 736h0M494.9 706.7h0M385.5 673.1h0M474.8 727.3h0M533.4 688h0M523.5 709.3h0M494.7 787.3h0M490.1 688h0M415.4 691.4h0M393.4 745.6h0M504.5 730.8h0M423.7 738.2h0M528.8 713.2h0M460.2 782.8h0M494.1 731.5h0M417.3 728.6h0M398.9 706h0M449.3 784.3h0M374.2 788.1h0M507.6 692.8h0M427.5 712.1h0M415.4 724.1h0M531.3 654.4h0M386.8 735.1h0M491.9 743.6h0M519.6 778.3h0M496.5 801.5h0M349.4 685.1h0M501.4 775h0M480.8 722.3h0M415.3 794.9h0M472.4 803.3h0M416.1 678.6h0M458.4 789.9h0M407.6 754.2h0M402.1 695.4h0M464.8 763.7h0M554.6 754.6h0M378.6 783.4h0M513.2 785.8h0M513.2 795.2h0M408.1 745.2h0M411.8 781.4h0M401.5 778h0M510.2 729.5h0M451.9 792.3h0M514.2 757.2h0M482.8 733.3h0M412.7 727.2h0M375 746.7h0M439.8 752.7h0M508 682.8h0M368.1 681.4h0M508.3 714.3h0M460.2 782.5h0M420.7 699.6h0M529.3 685.5h0M407.9 689.4h0M402.6 780.2h0M418.4 742.1h0M366.8 699.9h0M422.3 732.8h0M407 759.2h0M452.8 795.1h0M518 772h0M467.2 753.5h0M492.4 763.2h0M411.2 740.7h0M411.3 727h0M511.4 783.4h0M387.8 735.6h0M416.5 674.9h0M501.6 754.7h0M383.5 768.4h0M406.6 728.3h0M514.4 682.1h0M414.4 710.6h0M522.7 747h0M411.3 686.5h0M413.9 694h0M430.1 724.3h0M519.7 800.4h0M509 793.8h0M539.8 737.2h0M426.9 710.5h0M407.2 692.3h0M538.8 776.5h0M493.2 738.3h0M424.1 731.6h0M419.3 756.7h0M508.8 773.7h0M452.1 793.1h0M482.1 728h0M510.3 671.4h0M522 726.9h0M396.8 728.7h0M557.5 750.2h0M415.2 756.1h0M492.4 727.8h0M394.1 790.6h0M513.5 701.7h0M407.3 781.5h0M415.9 729.8h0M510 780h0M485.9 737h0M354.1 742.3h0M521.9 709.4h0M421.9 690.1h0M508.2 720.9h0M391.8 765.8h0M533.1 779h0M423.7 704.7h0M422.2 802.1h0M419.6 722.4h0M461.8 776.1h0M422.4 722.7h0M396.9 753.7h0M538.5 696.6h0M501.9 792.1h0M562.2 732.3h0M529 775.7h0M533.4 739.3h0M508.5 760.2h0M525.5 736.2h0M417.4 734.6h0M496.6 753.2h0M356 681.3h0M424.4 802.8h0M415 732.1h0M524.4 748.4h0M502.6 750.9h0M498.5 779.3h0M412.3 724.3h0M470.6 739.8h0M581 683.3h0M507.3 693.1h0M486 725.8h0M383.9 721.4h0M410.7 786.8h0M461.3 778.5h0M470.5 803.3h0M365.4 701.6h0M459 788.1h0M464.3 766h0M477.5 721.9h0M433.1 733.1h0M409.7 728.2h0M405.7 754.7h0M504.3 756.4h0M384.7 737.6h0M477.3 718.2h0M381.7 726.3h0M430.8 726.2h0M420.6 715.8h0M460.9 780.5h0M439.2 752.2h0M495.7 783.7h0M421.9 720.6h0M530.9 682.6h0M498.9 743.2h0M410.4 723.7h0M465.8 761.9h0M404.1 778.9h0M378.7 732h0M511.3 720.6h0M491.2 729h0M532.6 677.8h0M437.6 745.7h0M403.3 737.4h0M409.6 645.7h0M492.2 739.4h0M505.5 676.2h0M317.8 664.5h0M501.6 684.9h0M497.7 784.5h0M503.2 773h0M391.9 713.8h0M399.8 781.4h0M506.2 676.4h0M521.4 743h0M418.2 714.9h0M388.8 759h0M492.3 737.4h0M410.3 715.7h0M413.1 696.9h0M423 736.8h0M462.8 772.1h0M513.1 744.4h0M379.6 714.7h0M338.3 720.6h0M514.8 701h0M394.8 739.7h0M524.1 729.6h0M319.6 654.2h0M479.1 802.4h0M385.5 757.3h0M500.4 757.7h0M414.1 793.7h0M494.6 718.3h0M491.5 693.3h0M409.8 754.4h0M450.2 786.6h0M404.2 776.8h0M458.4 790h0M404.7 759h0M469.4 747.9h0M483.5 735.6h0M451.1 790.3h0M331.8 649.5h0M361.3 760h0M494.9 696.6h0M414.1 730.4h0M485.5 674.6h0M531.9 733.7h0M499.7 732.8h0M521.3 694.4h0M481.2 703.9h0M542.2 686.5h0M490.4 678.6h0M425.2 735.4h0M438.1 803h0M495.1 799.3h0M313.5 743h0M516.4 741.6h0M411.4 747.5h0M532.3 712.7h0M403.8 710.1h0M395.2 745.8h0M487.4 705.4h0M506.7 774.4h0M335.8 739.3h0M404.7 738.1h0M400.1 705.7h0M409.7 763.2h0M508.3 728.5h0M488.4 693.2h0M481.1 693h0M461.3 778.5h0M507.4 764h0M495.7 698.8h0M417.3 747.9h0M410 707.4h0M413.9 776.8h0M428.9 719.1h0M494.4 686.9h0M409.5 753.3h0M405 789.4h0M398.2 769.5h0M506.7 753.3h0M502.4 732.1h0M401 700.5h0M416.2 727.2h0M370 674.6h0M496.3 762.4h0M373.4 682.5h0M418.7 731h0M424 731h0M589 681.6h0M467.6 751.3h0M484.3 736.1h0M505.4 748.1h0M503.4 735.5h0M415.6 729.7h0M473.9 803.1h0M494.5 687.5h0M491 801.3h0M485.7 682.9h0M402.1 707.1h0M489.4 671.7h0M429.1 801.7h0M403.8 715h0M503.4 763.3h0M431.1 729.4h0M494.7 716.3h0M479.3 718.1h0M387.9 773.1h0M414.9 700.9h0M499.8 718.2h0M480.1 803h0M470.4 740.9h0M407.9 710h0M425.3 727.6h0M518 752.3h0M397.9 724.1h0M419.6 692.2h0M393.4 730.3h0M444.4 767.7h0M485.4 802.6h0M461.6 777.6h0M500.4 798h0M442.2 803.2h0M394.6 674.4h0M486.6 703.7h0M404.7 752.4h0M443.6 764.7h0M336 715h0M407.1 727.5h0M541.3 657.6h0M408.1 764.6h0M503.6 781.1h0M338.6 656.4h0M410.3 758.4h0M385.5 736h0M502.7 763.2h0M396.6 709.9h0M493.3 740.2h0M500.2 759.6h0M414.3 758.7h0M500.2 726.4h0M393.5 784.6h0M423 803.1h0M406.3 717.7h0M378.7 750.9h0M480.5 723.2h0M413.2 752.9h0M506 776.9h0M410.3 725.8h0M524 657.6h0M504 715.7h0M487.3 713.5h0M406 736.3h0M514.8 749.4h0M378.8 654.5h0M393.3 693.6h0M420.7 686.2h0M403.3 738.5h0M419.4 720.7h0M544.5 677.5h0M486.3 670.9h0M387.3 757.8h0M496.6 753.1h0M495.7 782.4h0M438.5 749.3h0M411.9 755h0M498.2 728.6h0M496.4 784.3h0M516.2 761.9h0M459.4 786.7h0M526.1 668.8h0M488.8 722.6h0M436.5 742.4h0M329.3 679.9h0M382.7 740.8h0M443 762.9h0M503.4 781.6h0M528.5 753.7h0M468.2 748.9h0M491.7 704.6h0M491.8 718h0M412.6 738.9h0M415.7 720h0M518 767h0M428 719.6h0M507.1 793.5h0M515.4 750.8h0M534.1 748.1h0M389.2 714.4h0M502 747.9h0M395 784.1h0M494.5 722.1h0M483.9 692.1h0M570.4 719.9h0M408.4 753.4h0M410.5 786.9h0M380.6 776.6h0M449 782.6h0M510.3 731.7h0M339.4 743.9h0M398.7 725.7h0M478.2 727.6h0M395.9 724.3h0M538.3 688.5h0M391.9 739.2h0M428.3 802.6h0M413.5 783.5h0M508.7 763.9h0M508.7 690.3h0M445.1 770.2h0M501.7 714.8h0M513 677.9h0M489.2 731.6h0M388.6 752.2h0M471.2 735.8h0M517.8 723.5h0M474.2 726.9h0M400.7 727.9h0M397.7 792.4h0M419 727.2h0M555.8 685.6h0M549.4 667.8h0M440.4 754h0M420.8 741.5h0M500.7 779h0M393.6 722.9h0M547.8 676.8h0M374.9 770.2h0M517.3 714.7h0M497 708.6h0M369.5 687.6h0M388.7 669.8h0M496.6 764.3h0M484.4 735.1h0M458.6 790.3h0M525.9 736.9h0M404.2 697.1h0M390.7 693.2h0M334.6 657.6h0M403.8 723.5h0M389.3 702.5h0M420.5 718.7h0M370.2 594h0M403.7 626.8h0M392.5 645.3h0M363.4 653h0M561 587.7h0M566.6 635.5h0M532.7 637.4h0" stroke="#8b8b83" stroke-opacity="0.35" stroke-width="4.4" stroke-linecap="round"/></g>
<g stroke-width="4.6" stroke-linecap="round">
<path d="M200.3 567.3h0" stroke="#2a8a2a" stroke-opacity="0.5"/>
<path d="M262.2 609.2h0" stroke="#2a8a2a" stroke-opacity="0.5"/>
<path d="M203.3 624.2h0" stroke="#2a8a2a" stroke-opacity="0.5"/>
<path d="M239.5 634.2h0" stroke="#2a8a2a" stroke-opacity="0.5"/>
<path d="M270.9 643.1h0" stroke="#2a8a2a" stroke-opacity="0.5"/>
<path d="M289.1 650.6h0" stroke="#2a8a2a" stroke-opacity="0.5"/>
<path d="M289.3 654.8h0" stroke="#2a8a2a" stroke-opacity="0.5"/>
<path d="M230.9 663.2h0" stroke="#2a8a2a" stroke-opacity="0.5"/>
<path d="M252.4 663.7h0" stroke="#2a8a2a" stroke-opacity="0.5"/>
<path d="M187.2 674.4h0" stroke="#2a8a2a" stroke-opacity="0.5"/>
<path d="M284.9 677h0" stroke="#2a8a2a" stroke-opacity="0.5"/>
<path d="M302.6 689.1h0" stroke="#2a8a2a" stroke-opacity="0.5"/>
<path d="M302.4 693.3h0" stroke="#2a8a2a" stroke-opacity="0.5"/>
<path d="M274.4 707.1h0" stroke="#2a8a2a" stroke-opacity="0.5"/>
<path d="M287.2 703.9h0" stroke="#2a8a2a" stroke-opacity="0.5"/>
<path d="M300.3 707.1h0" stroke="#2a8a2a" stroke-opacity="0.5"/>
<path d="M285.6 723.7h0" stroke="#2a8a2a" stroke-opacity="0.5"/>
<path d="M294.7 728.6h0" stroke="#2a8a2a" stroke-opacity="0.5"/>
<path d="M242.3 735.4h0" stroke="#2a8a2a" stroke-opacity="0.5"/>
<path d="M277.9 741.7h0" stroke="#2a8a2a" stroke-opacity="0.5"/>
<path d="M311.5 742.7h0" stroke="#2a8a2a" stroke-opacity="0.5"/>
<path d="M294.5 767.4h0" stroke="#2a8a2a" stroke-opacity="0.5"/>
<path d="M78.4 518.2h0" stroke="#2a8a2a" stroke-opacity="0.5"/>
<path d="M606.4 535.7h0" stroke="#d44" stroke-opacity="0.42"/>
<path d="M606.4 573.1h0" stroke="#d44" stroke-opacity="0.42"/>
<path d="M626 573.1h0" stroke="#d44" stroke-opacity="0.42"/>
<path d="M599.4 593.6h0" stroke="#d44" stroke-opacity="0.42"/>
<path d="M602.4 600.6h0" stroke="#d44" stroke-opacity="0.42"/>
<path d="M634 607.7h0" stroke="#d44" stroke-opacity="0.42"/>
<path d="M718.1 611.6h0" stroke="#d44" stroke-opacity="0.42"/>
<path d="M650.1 620.7h0" stroke="#d44" stroke-opacity="0.42"/>
<path d="M601.7 627.1h0" stroke="#d44" stroke-opacity="0.42"/>
<path d="M710.2 633.4h0" stroke="#d44" stroke-opacity="0.42"/>
<path d="M617.4 647.9h0" stroke="#d44" stroke-opacity="0.42"/>
<path d="M646.4 644.8h0" stroke="#d44" stroke-opacity="0.42"/>
<path d="M609.2 660.5h0" stroke="#d44" stroke-opacity="0.42"/>
<path d="M635.2 662.6h0" stroke="#d44" stroke-opacity="0.42"/>
<path d="M601.3 668.9h0" stroke="#d44" stroke-opacity="0.42"/>
<path d="M609.9 673.8h0" stroke="#d44" stroke-opacity="0.42"/>
<path d="M632.4 679.4h0" stroke="#d44" stroke-opacity="0.42"/>
<path d="M603.4 699.3h0" stroke="#d44" stroke-opacity="0.42"/>
<path d="M604.6 699.6h0" stroke="#d44" stroke-opacity="0.42"/>
<path d="M601 728.5h0" stroke="#d44" stroke-opacity="0.42"/>
<path d="M601.7 740h0" stroke="#d44" stroke-opacity="0.42"/>
<path d="M679.6 737.4h0" stroke="#d44" stroke-opacity="0.42"/>
<path d="M704.6 753.8h0" stroke="#d44" stroke-opacity="0.42"/>
<path d="M600.6 760.1h0" stroke="#d44" stroke-opacity="0.42"/>
<path d="M601.4 760.3h0" stroke="#d44" stroke-opacity="0.42"/>
<path d="M612.3 777.1h0" stroke="#d44" stroke-opacity="0.42"/>
<path d="M649.4 785.1h0" stroke="#d44" stroke-opacity="0.42"/>
</g>
<path d="M46.4 797.8H750" stroke="#111" stroke-width="1.3" stroke-dasharray="5.6 5.3"/>
<path d="M312.2 828.3V458.5M598.7 828.3V458.5" stroke="#111" stroke-width="1.3" stroke-dasharray="5.6 5.3"/>
<path d="M46.8 458.4H749.9V828.3" stroke="#333" stroke-width="1.1" fill="none"/>
<path d="M46.8 458.4V828.3H750.5" stroke="#111" stroke-width="1.4" fill="none"/>
<path d="M43.8 803.3h3M43.8 721.25h3M43.8 639.2h3M43.8 557.15h3M43.8 475.1h3M168.75 828.3v3M240.38 828.3v3M312 828.3v3M383.62 828.3v3M455.25 828.3v3M526.88 828.3v3M598.5 828.3v3M670.12 828.3v3M741.75 828.3v3" stroke="#333" stroke-width="1"/>
<text x="38.4" y="808.2" font-size="13.8" text-anchor="end">0</text>
<text x="38.4" y="726.15" font-size="13.8" text-anchor="end">20</text>
<text x="38.4" y="644.1" font-size="13.8" text-anchor="end">40</text>
<text x="38.4" y="562.05" font-size="13.8" text-anchor="end">60</text>
<text x="38.4" y="480" font-size="13.8" text-anchor="end">80</text>
<text x="166.15" y="847.8" font-size="13.8" text-anchor="middle">−2.0</text>
<text x="237.78" y="847.8" font-size="13.8" text-anchor="middle">−1.5</text>
<text x="309.4" y="847.8" font-size="13.8" text-anchor="middle">−1.0</text>
<text x="381.02" y="847.8" font-size="13.8" text-anchor="middle">−0.5</text>
<text x="451.45" y="847.8" font-size="13.8" text-anchor="middle">0.0</text>
<text x="523.08" y="847.8" font-size="13.8" text-anchor="middle">0.5</text>
<text x="594.7" y="847.8" font-size="13.8" text-anchor="middle">1.0</text>
<text x="666.33" y="847.8" font-size="13.8" text-anchor="middle">1.5</text>
<text x="737.95" y="847.8" font-size="13.8" text-anchor="middle">2.0</text>
<text x="403" y="871.4" font-size="13.6" text-anchor="middle" textLength="119.8" lengthAdjust="spacingAndGlyphs">Log2 (fold change)</text>
<text transform="translate(13.3 640.3) rotate(-90)" font-size="13.6" text-anchor="middle" textLength="108.4" lengthAdjust="spacingAndGlyphs">−log10 (q−value)</text>
<text x="13.5" y="926.3" font-size="21.8" font-weight="bold" textLength="25.6" lengthAdjust="spacingAndGlyphs">(c)</text>
<text x="53" y="927.1" font-size="10.2" textLength="165.2" lengthAdjust="spacingAndGlyphs">P.Value= 4.49413730830595e−05</text>
<text x="330.5" y="924.5" font-size="7.4" font-weight="bold" textLength="22.6" lengthAdjust="spacingAndGlyphs">Group</text>
<text x="374.9" y="924.6" font-size="6.6" textLength="24.1" lengthAdjust="spacingAndGlyphs">HF (177)</text>
<text x="420.9" y="924.6" font-size="6.6" textLength="36.9" lengthAdjust="spacingAndGlyphs">control (136)</text>
<path d="M364 916.2V927.7M409.8 916.2V927.7" stroke="#222" stroke-width="0.7"/>
<rect x="358.2" y="918.3" width="12" height="7.5" fill="#ec7572" stroke="#222" stroke-width="0.7"/>
<rect x="404" y="918.3" width="12" height="7.5" fill="#a0d2aa" stroke="#222" stroke-width="0.7"/>
<path d="M358.2 922.3h12M404 922.3h12" stroke="#111" stroke-width="1"/>
<path d="M52.8 937.2V1305.4H738" stroke="#111" stroke-width="1.3" fill="none"/>
<path d="M50 1275.3h2.8M50 1205.52h2.8M50 1135.74h2.8M50 1065.96h2.8M50 996.18h2.8" stroke="#333" stroke-width="1"/>
<text x="44.9" y="1279.4" font-size="13.8" text-anchor="end">4</text>
<text x="44.9" y="1209.62" font-size="13.8" text-anchor="end">5</text>
<text x="44.9" y="1139.84" font-size="13.8" text-anchor="end">6</text>
<text x="44.9" y="1070.06" font-size="13.8" text-anchor="end">7</text>
<text x="44.9" y="1000.28" font-size="13.8" text-anchor="end">8</text>
<text transform="translate(21.6 1112) rotate(-90)" font-size="14.3" text-anchor="middle" textLength="171" lengthAdjust="spacingAndGlyphs">VCAM1 expression values</text>
<path d="M239.5 1082.6V1280.9M551.4 1138.6V1270.9" stroke="#111" stroke-width="0.9"/>
<rect x="130.5" y="1163.1" width="218" height="56.2" fill="#ec7572" stroke="#111" stroke-width="1"/>
<rect x="442.6" y="1193.1" width="217.8" height="37" fill="#a0d2aa" stroke="#111" stroke-width="1"/>
<path d="M130.5 1191.9H348.5M442.6 1215.2H660.4" stroke="#000" stroke-width="2"/>
<path d="M233.6 953.6h0M198.2 979.5h0M215.9 1011.3h0M234.2 1018.3h0M256.4 1023.4h0M274.4 1025.9h0M254.9 1050.1h0M177.5 1058.3h0M278.3 1060h0M271.8 1082.6h0M187.7 1090.8h0M289.3 1093.1h0M258.2 1107.5h0M284.3 1110.6h0M183.8 1118.4h0M228.9 1119.6h0M179.5 1125.8h0M198.6 1123.5h0M254.3 1128.5h0M261.3 1130.1h0M191.2 1133.2h0M196.2 1133.2h0M181.4 1136.7h0M184.1 1146.5h0M198.6 1144.1h0M203.2 1144.5h0M219.2 1143.7h0M231.3 1141.8h0M244.9 1140.6h0M245.7 1144.1h0M228.9 1150.4h0M262.8 1146.5h0M274.1 1149.2h0M281.1 1143h0M259.3 1155.8h0M266.3 1156.6h0M282.3 1158.5h0M187.7 1159.3h0M210.2 1156.6h0M229.7 1158.2h0M179.9 1229.4h0M182.2 1230.6h0M179.5 1235.3h0M187.7 1240h0M185.3 1251.6h0M190 1253.6h0M199.3 1246.2h0M203.2 1247.8h0M207.5 1247h0M218 1240.3h0M223.9 1231.8h0M238.3 1232.2h0M239.1 1236.8h0M243 1230.6h0M246.1 1238.4h0M243.7 1243.9h0M244.9 1259.4h0M248.4 1250.9h0M251.5 1246.6h0M258.9 1245.4h0M263.6 1243.9h0M269.5 1245h0M274.9 1240.7h0M265.2 1232.2h0M297.9 1244.6h0M297.9 1251.6h0M288.2 1262.6h0M284.3 1269.2h0M205.2 1274.2h0M207.9 1274.2h0M264.8 1271.9h0M248.4 1279.7h0M290.9 1278.5h0M298.3 1280.9h0M261.7 1219.3h0M514.2 1046.8h0M600.2 1054.9h0M542.5 1104.4h0M541.6 1117.3h0M512.7 1126.2h0M510.8 1129.5h0M503.2 1135h0M542.5 1138.7h0M564.9 1146.9h0M495.6 1161.3h0M519.7 1165.2h0M539.2 1161.7h0M542.3 1164.2h0M554.4 1162.3h0M558.3 1160.5h0M583.6 1160.5h0M538.3 1169.3h0M581.7 1171h0M588.7 1174.4h0M606.4 1169.5h0M612.5 1171.4h0M533.4 1175.7h0M531.4 1179h0M515.3 1179.2h0M508.6 1181.8h0M598.3 1178.3h0M602.5 1180.4h0M605.7 1178.6h0M598.6 1182.9h0M546.2 1183.5h0M549.2 1187h0M541.8 1190.9h0M562 1188.4h0M570.4 1190.7h0M575.3 1193.8h0M523.2 1194.2h0M526.8 1196.8h0M536.5 1195.6h0M494.5 1237.1h0M498.2 1240h0M502.9 1238.2h0M494.9 1245.5h0M500.7 1246.2h0M525.8 1245.5h0M532 1244.4h0M536.7 1244.4h0M538.2 1235.3h0M543.6 1233.1h0M552.7 1237.1h0M558.2 1238.2h0M557.5 1241.8h0M561.1 1246.2h0M552.4 1249.5h0M548.7 1251.3h0M535.6 1252.7h0M524.7 1255.6h0M533.8 1258.9h0M508.7 1256.4h0M508 1259.3h0M510.9 1265.1h0M544.7 1263.6h0M556.7 1257.8h0M572.4 1252.7h0M599.3 1252.4h0M602.2 1243.3h0M608.7 1243.6h0M613.5 1250.5h0M492 1271.3h0M516.4 1288.4h0M197.7 1164.1h0M210.4 1164.1h0M232.7 1162.3h0M235.3 1163.2h0M207.3 1166.8h0M207.3 1168.6h0M231.6 1167.5h0M205.7 1172.1h0M209.8 1171.4h0M212.9 1174.3h0M219.2 1173.9h0M177.6 1181.8h0M199.5 1180.5h0M199.5 1182.3h0M207.5 1183.9h0M211.8 1184.8h0M226.1 1185.9h0M231.4 1184.5h0M231.4 1187.9h0M184.8 1189.8h0M183.6 1194.1h0M203.2 1190h0M207.1 1188.8h0M199.7 1192.3h0M239.4 1189.1h0M193.5 1196.8h0M206.4 1196.8h0M207.1 1195h0M214.3 1194.3h0M219.1 1194.5h0M221.4 1198.6h0M209.7 1200h0M193.8 1202.5h0M207.3 1202.5h0M216.4 1202h0M227.9 1202.5h0M183.6 1204.8h0M224.4 1204.5h0M224.1 1207.7h0M199.7 1207.5h0M204.1 1208.2h0M208 1211.4h0M211.8 1209.5h0M218.5 1213.6h0M228.2 1212.3h0M229.1 1213.6h0M238.4 1209.4h0M194.8 1217.5h0M202.3 1216.8h0M205 1218.4h0M235.1 1216.4h0M230 1220.9h0M232.3 1220.3h0M239.4 1215.5h0M240.5 1161.8h0M244.2 1163h0M247.6 1163.2h0M244.6 1169.3h0M245.5 1169.5h0M296.7 1168.5h0M252.8 1172.3h0M254.6 1172.7h0M254.6 1174.5h0M246.5 1179.1h0M262.2 1180h0M273.3 1180.6h0M278.5 1181.5h0M299.6 1180.7h0M249.6 1182.3h0M255.5 1184.5h0M240.1 1189.1h0M251.5 1188.5h0M275.7 1188.8h0M274.2 1190.9h0M276.7 1192.3h0M281 1190.5h0M247.6 1192.7h0M257.4 1191.8h0M291.5 1195h0M249 1199.4h0M256.9 1198.6h0M293.9 1201.6h0M242.2 1204.5h0M249.3 1205.3h0M274.6 1205.3h0M283.3 1205.9h0M254 1210.3h0M287.8 1213.6h0M299.9 1213.6h0M240.4 1215.2h0M236.5 1216.1h0M277.5 1217.3h0M284.5 1219.5h0M247.4 1220.9h0M261.9 1220h0M272.8 1222.3h0M278.3 1224.3h0M294.2 1223.4h0M546.5 1196.4h0M546.5 1198.2h0M555.1 1199.4h0M529.5 1200.5h0M529.5 1203.6h0M533.9 1200.3h0M508.1 1201.8h0M506.9 1205.5h0M491.9 1207.5h0M500.1 1208.5h0M502.4 1209.1h0M509.6 1208.5h0M513.3 1208.8h0M519.5 1208.2h0M536.7 1206.8h0M534.6 1210.7h0M542.4 1212.7h0M543.7 1213.6h0M541.5 1214.1h0M518.3 1214.5h0M530.4 1215h0M507.1 1217.3h0M511.6 1216.4h0M543.5 1217.3h0M551.7 1217h0M518.3 1219.1h0M525.5 1220.3h0M489.5 1223.6h0M535.1 1224.1h0M536.9 1222.3h0M526.5 1225.5h0M514.2 1227h0M507.4 1230h0M523.5 1229.1h0M540.4 1229.1h0M547.8 1230.5h0M555.1 1228.6h0M593.4 1203h0M580.9 1211.2h0M587.3 1209.5h0M599.3 1209.5h0M601.1 1210.9h0M605.2 1208.6h0M607.5 1212.3h0M567.9 1213.6h0M566.5 1214.8h0M562.7 1215.7h0M583.8 1217.7h0M587 1217h0M603.8 1219.4h0M611.5 1217.9h0M580.9 1222.3h0M591.5 1222.3h0M595 1221.5h0M557.6 1225h0M568.8 1224.3h0M576.4 1224.7h0M574.7 1226.8h0M585.5 1225h0M582.9 1227.3h0M573.6 1230.9h0M586.1 1230.6h0M592.9 1230.3h0M596.4 1229.5h0" stroke="#000" stroke-width="3.6" stroke-linecap="round"/>
</svg></div></body></html>
